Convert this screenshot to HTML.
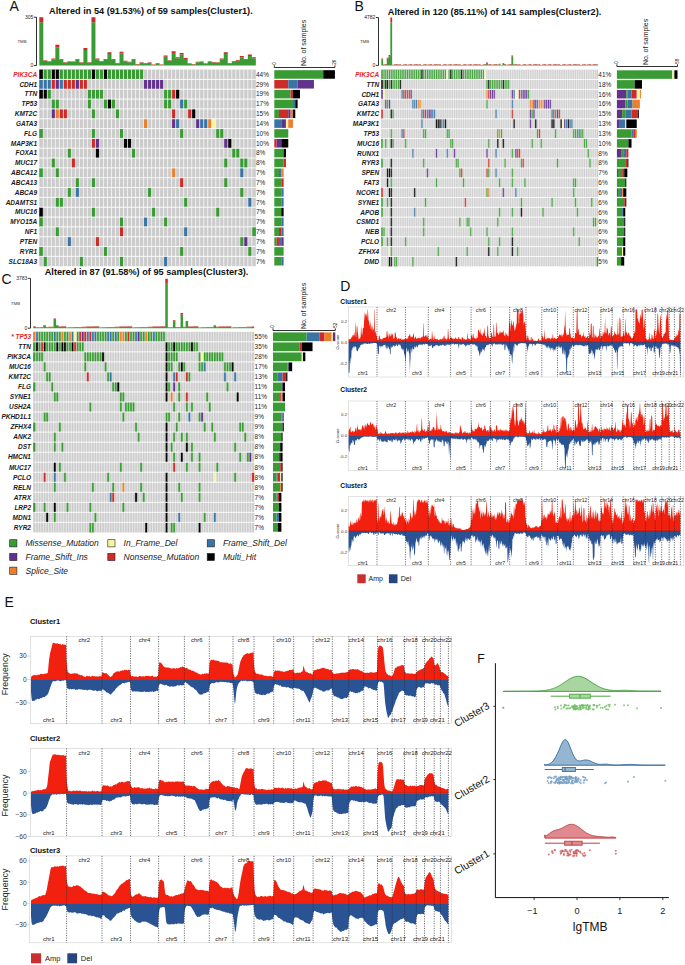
<!DOCTYPE html>
<html><head><meta charset="utf-8"><style>
html,body{margin:0;padding:0;background:#fff;}
body{width:685px;height:965px;overflow:hidden;}
svg{display:block;}
text{font-family:"Liberation Sans", sans-serif;}
</style></head><body>
<svg width="685" height="965" viewBox="0 0 685 965" font-family='"Liberation Sans", sans-serif'>
<rect x="0" y="0" width="685" height="965" fill="#ffffff" />
<text x="9.6" y="10.8" font-size="14" font-weight="normal" font-style="normal" text-anchor="start" fill="#111" >A</text>
<text x="49" y="14.4" font-size="9.2" font-weight="bold" font-style="normal" text-anchor="start" fill="#111" >Altered in 54 (91.53%) of 59 samples(Cluster1).</text>
<line x1="36.5" y1="17.2" x2="36.5" y2="65.5" stroke="#1a1a1a" stroke-width="0.9" />
<line x1="33.9" y1="17.2" x2="36.5" y2="17.2" stroke="#1a1a1a" stroke-width="0.9" />
<line x1="33.9" y1="65.5" x2="36.5" y2="65.5" stroke="#1a1a1a" stroke-width="0.9" />
<text x="33.3" y="19" font-size="5" font-weight="normal" font-style="normal" text-anchor="end" fill="#222" >305</text>
<text x="33.3" y="67.3" font-size="5" font-weight="normal" font-style="normal" text-anchor="end" fill="#222" >0</text>
<text x="17.4" y="42.95" font-size="4.4" font-weight="normal" font-style="normal" text-anchor="start" fill="#333" >TMB</text>
<path d="M39.3 22.2h4.01V65.5h-4.01ZM43.31 60.84h4.01V65.5h-4.01ZM47.32 61.72h4.01V65.5h-4.01ZM51.33 59.34h4.01V65.5h-4.01ZM55.34 47.2h4.01V65.5h-4.01ZM59.35 60.04h4.01V65.5h-4.01ZM63.36 62.8h4.01V65.5h-4.01ZM67.37 61.72h4.01V65.5h-4.01ZM71.38 62h4.01V65.5h-4.01ZM75.39 59.78h4.01V65.5h-4.01ZM79.4 62.8h4.01V65.5h-4.01ZM83.41 50.1h4.01V65.5h-4.01ZM87.42 62.7h4.01V65.5h-4.01ZM91.43 22.2h4.01V65.5h-4.01ZM95.44 59.34h4.01V65.5h-4.01ZM99.45 61.54h4.01V65.5h-4.01ZM103.46 59.78h4.01V65.5h-4.01ZM107.47 53.88h4.01V65.5h-4.01ZM111.48 59.78h4.01V65.5h-4.01ZM115.49 63.5h4.01V65.5h-4.01ZM119.5 53.44h4.01V65.5h-4.01ZM123.51 61.28h4.01V65.5h-4.01ZM127.52 62.3h4.01V65.5h-4.01ZM131.53 59.78h4.01V65.5h-4.01ZM135.54 64.4h4.01V65.5h-4.01ZM139.55 62.8h4.01V65.5h-4.01ZM143.56 63.5h4.01V65.5h-4.01ZM147.57 62.8h4.01V65.5h-4.01ZM151.58 64.9h4.01V65.5h-4.01ZM155.59 63.5h4.01V65.5h-4.01ZM159.6 64.9h4.01V65.5h-4.01ZM163.61 56.79h4.01V65.5h-4.01ZM167.62 60.84h4.01V65.5h-4.01ZM171.63 53h4.01V65.5h-4.01ZM175.64 58.28h4.01V65.5h-4.01ZM179.65 54.5h4.01V65.5h-4.01ZM183.66 58.9h4.01V65.5h-4.01ZM187.67 63.7h4.01V65.5h-4.01ZM191.68 64.5h4.01V65.5h-4.01ZM195.69 62.3h4.01V65.5h-4.01ZM199.7 62h4.01V65.5h-4.01ZM203.71 63.7h4.01V65.5h-4.01ZM207.72 61.8h4.01V65.5h-4.01ZM211.73 62.5h4.01V65.5h-4.01ZM215.74 62.8h4.01V65.5h-4.01ZM219.75 59.34h4.01V65.5h-4.01ZM223.76 53.88h4.01V65.5h-4.01ZM227.77 63.5h4.01V65.5h-4.01ZM231.78 61.54h4.01V65.5h-4.01ZM235.79 60.66h4.01V65.5h-4.01ZM239.8 57.14h4.01V65.5h-4.01ZM243.81 59.78h4.01V65.5h-4.01ZM247.82 55.91h4.01V65.5h-4.01ZM251.83 58.28h4.01V65.5h-4.01Z" fill="#3a9b35"/>
<path d="M39.3 17.2h4.01v5h-4.01ZM43.31 60.2h4.01v0.64h-4.01ZM47.32 61.2h4.01v0.52h-4.01ZM51.33 58.5h4.01v0.84h-4.01ZM55.34 44.7h4.01v2.5h-4.01ZM59.35 59.3h4.01v0.74h-4.01ZM63.36 62.3h4.01v0.5h-4.01ZM67.37 61.2h4.01v0.52h-4.01ZM71.38 61.5h4.01v0.5h-4.01ZM75.39 59h4.01v0.78h-4.01ZM79.4 62.3h4.01v0.5h-4.01ZM83.41 48h4.01v2.1h-4.01ZM87.42 62.2h4.01v0.5h-4.01ZM91.43 17.2h4.01v5h-4.01ZM95.44 58.5h4.01v0.84h-4.01ZM99.45 61h4.01v0.54h-4.01ZM103.46 59h4.01v0.78h-4.01ZM107.47 52.3h4.01v1.58h-4.01ZM111.48 59h4.01v0.78h-4.01ZM115.49 63h4.01v0.5h-4.01ZM119.5 51.8h4.01v1.64h-4.01ZM123.51 60.7h4.01v0.58h-4.01ZM127.52 61.8h4.01v0.5h-4.01ZM131.53 59h4.01v0.78h-4.01ZM135.54 63.9h4.01v0.5h-4.01ZM139.55 62.3h4.01v0.5h-4.01ZM143.56 63h4.01v0.5h-4.01ZM147.57 62.3h4.01v0.5h-4.01ZM151.58 64.4h4.01v0.5h-4.01ZM155.59 63h4.01v0.5h-4.01ZM159.6 64.4h4.01v0.5h-4.01ZM163.61 55.6h4.01v1.19h-4.01ZM167.62 60.2h4.01v0.64h-4.01ZM171.63 51.3h4.01v1.7h-4.01ZM175.64 57.3h4.01v0.98h-4.01ZM179.65 53h4.01v1.5h-4.01ZM183.66 58h4.01v0.9h-4.01ZM187.67 63.2h4.01v0.5h-4.01ZM191.68 64h4.01v0.5h-4.01ZM195.69 61.8h4.01v0.5h-4.01ZM199.7 61.5h4.01v0.5h-4.01ZM203.71 63.2h4.01v0.5h-4.01ZM207.72 61.3h4.01v0.5h-4.01ZM211.73 62h4.01v0.5h-4.01ZM215.74 62.3h4.01v0.5h-4.01ZM219.75 58.5h4.01v0.84h-4.01ZM223.76 52.3h4.01v1.58h-4.01ZM227.77 63h4.01v0.5h-4.01ZM231.78 61h4.01v0.54h-4.01ZM235.79 60h4.01v0.66h-4.01ZM239.8 56h4.01v1.14h-4.01ZM243.81 59h4.01v0.78h-4.01ZM247.82 54.6h4.01v1.31h-4.01ZM251.83 57.3h4.01v0.98h-4.01Z" fill="#cd2b27"/>
<rect x="39.3" y="69.6" width="216.54" height="196.6" fill="#cccccc" />
<rect x="39.3" y="69.6" width="4.01" height="9.83" fill="#000000" />
<rect x="51.33" y="69.6" width="4.01" height="9.83" fill="#000000" />
<rect x="55.34" y="69.6" width="4.01" height="9.83" fill="#000000" />
<rect x="91.43" y="69.6" width="4.01" height="9.83" fill="#000000" />
<rect x="103.46" y="69.6" width="4.01" height="9.83" fill="#000000" />
<rect x="43.31" y="69.6" width="4.01" height="9.83" fill="#3a9b35" />
<rect x="47.32" y="69.6" width="4.01" height="9.83" fill="#3a9b35" />
<rect x="59.35" y="69.6" width="4.01" height="9.83" fill="#3a9b35" />
<rect x="63.36" y="69.6" width="4.01" height="9.83" fill="#3a9b35" />
<rect x="67.37" y="69.6" width="4.01" height="9.83" fill="#3a9b35" />
<rect x="71.38" y="69.6" width="4.01" height="9.83" fill="#3a9b35" />
<rect x="75.39" y="69.6" width="4.01" height="9.83" fill="#3a9b35" />
<rect x="79.4" y="69.6" width="4.01" height="9.83" fill="#3a9b35" />
<rect x="83.41" y="69.6" width="4.01" height="9.83" fill="#3a9b35" />
<rect x="87.42" y="69.6" width="4.01" height="9.83" fill="#3a9b35" />
<rect x="95.44" y="69.6" width="4.01" height="9.83" fill="#3a9b35" />
<rect x="99.45" y="69.6" width="4.01" height="9.83" fill="#3a9b35" />
<rect x="107.47" y="69.6" width="4.01" height="9.83" fill="#3a9b35" />
<rect x="111.48" y="69.6" width="4.01" height="9.83" fill="#3a9b35" />
<rect x="115.49" y="69.6" width="4.01" height="9.83" fill="#3a9b35" />
<rect x="119.5" y="69.6" width="4.01" height="9.83" fill="#3a9b35" />
<rect x="123.51" y="69.6" width="4.01" height="9.83" fill="#3a9b35" />
<rect x="127.52" y="69.6" width="4.01" height="9.83" fill="#3a9b35" />
<rect x="131.53" y="69.6" width="4.01" height="9.83" fill="#3a9b35" />
<rect x="135.54" y="69.6" width="4.01" height="9.83" fill="#3a9b35" />
<rect x="139.55" y="69.6" width="4.01" height="9.83" fill="#3a9b35" />
<rect x="39.3" y="79.43" width="4.01" height="9.83" fill="#3a74a5" />
<rect x="43.31" y="79.43" width="4.01" height="9.83" fill="#3a74a5" />
<rect x="47.32" y="79.43" width="4.01" height="9.83" fill="#3a74a5" />
<rect x="59.35" y="79.43" width="4.01" height="9.83" fill="#3a74a5" />
<rect x="51.33" y="79.43" width="4.01" height="9.83" fill="#cd2b27" />
<rect x="63.36" y="79.43" width="4.01" height="9.83" fill="#cd2b27" />
<rect x="67.37" y="79.43" width="4.01" height="9.83" fill="#cd2b27" />
<rect x="71.38" y="79.43" width="4.01" height="9.83" fill="#cd2b27" />
<rect x="79.4" y="79.43" width="4.01" height="9.83" fill="#cd2b27" />
<rect x="83.41" y="79.43" width="4.01" height="9.83" fill="#cd2b27" />
<rect x="55.34" y="79.43" width="4.01" height="9.83" fill="#62318c" />
<rect x="75.39" y="79.43" width="4.01" height="9.83" fill="#62318c" />
<rect x="143.56" y="79.43" width="4.01" height="9.83" fill="#62318c" />
<rect x="147.57" y="79.43" width="4.01" height="9.83" fill="#62318c" />
<rect x="151.58" y="79.43" width="4.01" height="9.83" fill="#62318c" />
<rect x="155.59" y="79.43" width="4.01" height="9.83" fill="#62318c" />
<rect x="159.6" y="79.43" width="4.01" height="9.83" fill="#62318c" />
<rect x="39.3" y="89.26" width="4.01" height="9.83" fill="#000000" />
<rect x="43.31" y="89.26" width="4.01" height="9.83" fill="#000000" />
<rect x="175.64" y="89.26" width="4.01" height="9.83" fill="#000000" />
<rect x="47.32" y="89.26" width="4.01" height="9.83" fill="#3a9b35" />
<rect x="87.42" y="89.26" width="4.01" height="9.83" fill="#3a9b35" />
<rect x="91.43" y="89.26" width="4.01" height="9.83" fill="#3a9b35" />
<rect x="95.44" y="89.26" width="4.01" height="9.83" fill="#3a9b35" />
<rect x="99.45" y="89.26" width="4.01" height="9.83" fill="#3a9b35" />
<rect x="163.61" y="89.26" width="4.01" height="9.83" fill="#3a9b35" />
<rect x="167.62" y="89.26" width="4.01" height="9.83" fill="#3a9b35" />
<rect x="171.63" y="89.26" width="4.01" height="9.83" fill="#cd2b27" />
<rect x="51.33" y="99.09" width="4.01" height="9.83" fill="#3a9b35" />
<rect x="55.34" y="99.09" width="4.01" height="9.83" fill="#3a9b35" />
<rect x="87.42" y="99.09" width="4.01" height="9.83" fill="#3a9b35" />
<rect x="103.46" y="99.09" width="4.01" height="9.83" fill="#3a9b35" />
<rect x="111.48" y="99.09" width="4.01" height="9.83" fill="#3a9b35" />
<rect x="163.61" y="99.09" width="4.01" height="9.83" fill="#3a9b35" />
<rect x="167.62" y="99.09" width="4.01" height="9.83" fill="#3a9b35" />
<rect x="183.66" y="99.09" width="4.01" height="9.83" fill="#3a9b35" />
<rect x="107.47" y="99.09" width="4.01" height="9.83" fill="#000000" />
<rect x="179.65" y="99.09" width="4.01" height="9.83" fill="#3a74a5" />
<rect x="51.33" y="108.92" width="4.01" height="9.83" fill="#62318c" />
<rect x="55.34" y="108.92" width="4.01" height="9.83" fill="#ec7f2b" />
<rect x="59.35" y="108.92" width="4.01" height="9.83" fill="#cd2b27" />
<rect x="63.36" y="108.92" width="4.01" height="9.83" fill="#cd2b27" />
<rect x="171.63" y="108.92" width="4.01" height="9.83" fill="#cd2b27" />
<rect x="187.67" y="108.92" width="4.01" height="9.83" fill="#cd2b27" />
<rect x="91.43" y="108.92" width="4.01" height="9.83" fill="#3a9b35" />
<rect x="115.49" y="108.92" width="4.01" height="9.83" fill="#3a9b35" />
<rect x="191.68" y="108.92" width="4.01" height="9.83" fill="#000000" />
<rect x="143.56" y="118.75" width="4.01" height="9.83" fill="#ec7f2b" />
<rect x="207.72" y="118.75" width="4.01" height="9.83" fill="#ec7f2b" />
<rect x="171.63" y="118.75" width="4.01" height="9.83" fill="#62318c" />
<rect x="195.69" y="118.75" width="4.01" height="9.83" fill="#62318c" />
<rect x="175.64" y="118.75" width="4.01" height="9.83" fill="#3a74a5" />
<rect x="199.7" y="118.75" width="4.01" height="9.83" fill="#3a74a5" />
<rect x="203.71" y="118.75" width="4.01" height="9.83" fill="#3a74a5" />
<rect x="211.73" y="118.75" width="4.01" height="9.83" fill="#f5f5a0" />
<rect x="39.3" y="128.58" width="4.01" height="9.83" fill="#3a9b35" />
<rect x="91.43" y="128.58" width="4.01" height="9.83" fill="#3a9b35" />
<rect x="119.5" y="128.58" width="4.01" height="9.83" fill="#3a9b35" />
<rect x="179.65" y="128.58" width="4.01" height="9.83" fill="#3a9b35" />
<rect x="215.74" y="128.58" width="4.01" height="9.83" fill="#3a9b35" />
<rect x="219.75" y="128.58" width="4.01" height="9.83" fill="#3a9b35" />
<rect x="91.43" y="138.41" width="4.01" height="9.83" fill="#cd2b27" />
<rect x="95.44" y="138.41" width="4.01" height="9.83" fill="#62318c" />
<rect x="223.76" y="138.41" width="4.01" height="9.83" fill="#62318c" />
<rect x="123.51" y="138.41" width="4.01" height="9.83" fill="#000000" />
<rect x="127.52" y="138.41" width="4.01" height="9.83" fill="#000000" />
<rect x="227.77" y="138.41" width="4.01" height="9.83" fill="#000000" />
<rect x="67.37" y="148.24" width="4.01" height="9.83" fill="#3a9b35" />
<rect x="131.53" y="148.24" width="4.01" height="9.83" fill="#3a9b35" />
<rect x="231.78" y="148.24" width="4.01" height="9.83" fill="#3a9b35" />
<rect x="235.79" y="148.24" width="4.01" height="9.83" fill="#3a9b35" />
<rect x="95.44" y="148.24" width="4.01" height="9.83" fill="#000000" />
<rect x="51.33" y="158.07" width="4.01" height="9.83" fill="#3a9b35" />
<rect x="223.76" y="158.07" width="4.01" height="9.83" fill="#3a9b35" />
<rect x="239.8" y="158.07" width="4.01" height="9.83" fill="#3a9b35" />
<rect x="243.81" y="158.07" width="4.01" height="9.83" fill="#3a9b35" />
<rect x="71.38" y="158.07" width="4.01" height="9.83" fill="#cd2b27" />
<rect x="39.3" y="167.9" width="4.01" height="9.83" fill="#3a9b35" />
<rect x="55.34" y="167.9" width="4.01" height="9.83" fill="#3a9b35" />
<rect x="171.63" y="167.9" width="4.01" height="9.83" fill="#ec7f2b" />
<rect x="239.8" y="167.9" width="4.01" height="9.83" fill="#3a74a5" />
<rect x="75.39" y="177.73" width="4.01" height="9.83" fill="#3a9b35" />
<rect x="91.43" y="177.73" width="4.01" height="9.83" fill="#3a9b35" />
<rect x="223.76" y="177.73" width="4.01" height="9.83" fill="#3a9b35" />
<rect x="179.65" y="177.73" width="4.01" height="9.83" fill="#cd2b27" />
<rect x="67.37" y="187.56" width="4.01" height="9.83" fill="#3a9b35" />
<rect x="147.57" y="187.56" width="4.01" height="9.83" fill="#3a9b35" />
<rect x="239.8" y="187.56" width="4.01" height="9.83" fill="#3a9b35" />
<rect x="75.39" y="187.56" width="4.01" height="9.83" fill="#3a74a5" />
<rect x="55.34" y="197.39" width="4.01" height="9.83" fill="#3a9b35" />
<rect x="59.35" y="197.39" width="4.01" height="9.83" fill="#3a9b35" />
<rect x="183.66" y="197.39" width="4.01" height="9.83" fill="#3a9b35" />
<rect x="247.82" y="197.39" width="4.01" height="9.83" fill="#3a74a5" />
<rect x="39.3" y="207.22" width="4.01" height="9.83" fill="#000000" />
<rect x="91.43" y="207.22" width="4.01" height="9.83" fill="#3a9b35" />
<rect x="151.58" y="207.22" width="4.01" height="9.83" fill="#3a9b35" />
<rect x="215.74" y="207.22" width="4.01" height="9.83" fill="#3a9b35" />
<rect x="39.3" y="217.05" width="4.01" height="9.83" fill="#3a9b35" />
<rect x="119.5" y="217.05" width="4.01" height="9.83" fill="#3a9b35" />
<rect x="163.61" y="217.05" width="4.01" height="9.83" fill="#3a9b35" />
<rect x="143.56" y="217.05" width="4.01" height="9.83" fill="#3a74a5" />
<rect x="55.34" y="226.88" width="4.01" height="9.83" fill="#3a9b35" />
<rect x="251.83" y="226.88" width="4.01" height="9.83" fill="#3a9b35" />
<rect x="119.5" y="226.88" width="4.01" height="9.83" fill="#cd2b27" />
<rect x="183.66" y="226.88" width="4.01" height="9.83" fill="#3a74a5" />
<rect x="67.37" y="236.71" width="4.01" height="9.83" fill="#3a74a5" />
<rect x="95.44" y="236.71" width="4.01" height="9.83" fill="#cd2b27" />
<rect x="239.8" y="236.71" width="4.01" height="9.83" fill="#3a9b35" />
<rect x="243.81" y="236.71" width="4.01" height="9.83" fill="#62318c" />
<rect x="39.3" y="246.54" width="4.01" height="9.83" fill="#3a9b35" />
<rect x="103.46" y="246.54" width="4.01" height="9.83" fill="#3a9b35" />
<rect x="179.65" y="246.54" width="4.01" height="9.83" fill="#3a9b35" />
<rect x="247.82" y="246.54" width="4.01" height="9.83" fill="#3a9b35" />
<rect x="43.31" y="256.37" width="4.01" height="9.83" fill="#3a9b35" />
<rect x="79.4" y="256.37" width="4.01" height="9.83" fill="#3a9b35" />
<rect x="119.5" y="256.37" width="4.01" height="9.83" fill="#3a9b35" />
<rect x="163.61" y="256.37" width="4.01" height="9.83" fill="#3a74a5" />
<path d="M43.31 69.6V266.2M47.32 69.6V266.2M51.33 69.6V266.2M55.34 69.6V266.2M59.35 69.6V266.2M63.36 69.6V266.2M67.37 69.6V266.2M71.38 69.6V266.2M75.39 69.6V266.2M79.4 69.6V266.2M83.41 69.6V266.2M87.42 69.6V266.2M91.43 69.6V266.2M95.44 69.6V266.2M99.45 69.6V266.2M103.46 69.6V266.2M107.47 69.6V266.2M111.48 69.6V266.2M115.49 69.6V266.2M119.5 69.6V266.2M123.51 69.6V266.2M127.52 69.6V266.2M131.53 69.6V266.2M135.54 69.6V266.2M139.55 69.6V266.2M143.56 69.6V266.2M147.57 69.6V266.2M151.58 69.6V266.2M155.59 69.6V266.2M159.6 69.6V266.2M163.61 69.6V266.2M167.62 69.6V266.2M171.63 69.6V266.2M175.64 69.6V266.2M179.65 69.6V266.2M183.66 69.6V266.2M187.67 69.6V266.2M191.68 69.6V266.2M195.69 69.6V266.2M199.7 69.6V266.2M203.71 69.6V266.2M207.72 69.6V266.2M211.73 69.6V266.2M215.74 69.6V266.2M219.75 69.6V266.2M223.76 69.6V266.2M227.77 69.6V266.2M231.78 69.6V266.2M235.79 69.6V266.2M239.8 69.6V266.2M243.81 69.6V266.2M247.82 69.6V266.2M251.83 69.6V266.2" stroke="#fff" stroke-width="0.7" fill="none"/>
<path d="M39.3 79.43H255.84M39.3 89.26H255.84M39.3 99.09H255.84M39.3 108.92H255.84M39.3 118.75H255.84M39.3 128.58H255.84M39.3 138.41H255.84M39.3 148.24H255.84M39.3 158.07H255.84M39.3 167.9H255.84M39.3 177.73H255.84M39.3 187.56H255.84M39.3 197.39H255.84M39.3 207.22H255.84M39.3 217.05H255.84M39.3 226.88H255.84M39.3 236.71H255.84M39.3 246.54H255.84M39.3 256.37H255.84" stroke="#fff" stroke-width="0.9" fill="none"/>
<text x="37.1" y="76.81" font-size="6.5" font-weight="bold" font-style="italic" text-anchor="end" fill="#e0262b" >PIK3CA</text>
<text x="256" y="76.81" font-size="6.45" font-weight="normal" font-style="normal" text-anchor="start" fill="#222" >44%</text>
<text x="37.1" y="86.64" font-size="6.5" font-weight="bold" font-style="italic" text-anchor="end" fill="#1a1a1a" >CDH1</text>
<text x="256" y="86.64" font-size="6.45" font-weight="normal" font-style="normal" text-anchor="start" fill="#222" >29%</text>
<text x="37.1" y="96.47" font-size="6.5" font-weight="bold" font-style="italic" text-anchor="end" fill="#1a1a1a" >TTN</text>
<text x="256" y="96.47" font-size="6.45" font-weight="normal" font-style="normal" text-anchor="start" fill="#222" >19%</text>
<text x="37.1" y="106.31" font-size="6.5" font-weight="bold" font-style="italic" text-anchor="end" fill="#1a1a1a" >TP53</text>
<text x="256" y="106.31" font-size="6.45" font-weight="normal" font-style="normal" text-anchor="start" fill="#222" >17%</text>
<text x="37.1" y="116.13" font-size="6.5" font-weight="bold" font-style="italic" text-anchor="end" fill="#1a1a1a" >KMT2C</text>
<text x="256" y="116.13" font-size="6.45" font-weight="normal" font-style="normal" text-anchor="start" fill="#222" >15%</text>
<text x="37.1" y="125.97" font-size="6.5" font-weight="bold" font-style="italic" text-anchor="end" fill="#1a1a1a" >GATA3</text>
<text x="256" y="125.97" font-size="6.45" font-weight="normal" font-style="normal" text-anchor="start" fill="#222" >14%</text>
<text x="37.1" y="135.79" font-size="6.5" font-weight="bold" font-style="italic" text-anchor="end" fill="#1a1a1a" >FLG</text>
<text x="256" y="135.79" font-size="6.45" font-weight="normal" font-style="normal" text-anchor="start" fill="#222" >10%</text>
<text x="37.1" y="145.62" font-size="6.5" font-weight="bold" font-style="italic" text-anchor="end" fill="#1a1a1a" >MAP3K1</text>
<text x="256" y="145.62" font-size="6.45" font-weight="normal" font-style="normal" text-anchor="start" fill="#222" >10%</text>
<text x="37.1" y="155.46" font-size="6.5" font-weight="bold" font-style="italic" text-anchor="end" fill="#1a1a1a" >FOXA1</text>
<text x="256" y="155.46" font-size="6.45" font-weight="normal" font-style="normal" text-anchor="start" fill="#222" >8%</text>
<text x="37.1" y="165.28" font-size="6.5" font-weight="bold" font-style="italic" text-anchor="end" fill="#1a1a1a" >MUC17</text>
<text x="256" y="165.28" font-size="6.45" font-weight="normal" font-style="normal" text-anchor="start" fill="#222" >8%</text>
<text x="37.1" y="175.11" font-size="6.5" font-weight="bold" font-style="italic" text-anchor="end" fill="#1a1a1a" >ABCA12</text>
<text x="256" y="175.11" font-size="6.45" font-weight="normal" font-style="normal" text-anchor="start" fill="#222" >7%</text>
<text x="37.1" y="184.94" font-size="6.5" font-weight="bold" font-style="italic" text-anchor="end" fill="#1a1a1a" >ABCA13</text>
<text x="256" y="184.94" font-size="6.45" font-weight="normal" font-style="normal" text-anchor="start" fill="#222" >7%</text>
<text x="37.1" y="194.78" font-size="6.5" font-weight="bold" font-style="italic" text-anchor="end" fill="#1a1a1a" >ABCA9</text>
<text x="256" y="194.78" font-size="6.45" font-weight="normal" font-style="normal" text-anchor="start" fill="#222" >7%</text>
<text x="37.1" y="204.6" font-size="6.5" font-weight="bold" font-style="italic" text-anchor="end" fill="#1a1a1a" >ADAMTS1</text>
<text x="256" y="204.6" font-size="6.45" font-weight="normal" font-style="normal" text-anchor="start" fill="#222" >7%</text>
<text x="37.1" y="214.44" font-size="6.5" font-weight="bold" font-style="italic" text-anchor="end" fill="#1a1a1a" >MUC16</text>
<text x="256" y="214.44" font-size="6.45" font-weight="normal" font-style="normal" text-anchor="start" fill="#222" >7%</text>
<text x="37.1" y="224.26" font-size="6.5" font-weight="bold" font-style="italic" text-anchor="end" fill="#1a1a1a" >MYO15A</text>
<text x="256" y="224.26" font-size="6.45" font-weight="normal" font-style="normal" text-anchor="start" fill="#222" >7%</text>
<text x="37.1" y="234.09" font-size="6.5" font-weight="bold" font-style="italic" text-anchor="end" fill="#1a1a1a" >NF1</text>
<text x="256" y="234.09" font-size="6.45" font-weight="normal" font-style="normal" text-anchor="start" fill="#222" >7%</text>
<text x="37.1" y="243.93" font-size="6.5" font-weight="bold" font-style="italic" text-anchor="end" fill="#1a1a1a" >PTEN</text>
<text x="256" y="243.93" font-size="6.45" font-weight="normal" font-style="normal" text-anchor="start" fill="#222" >7%</text>
<text x="37.1" y="253.75" font-size="6.5" font-weight="bold" font-style="italic" text-anchor="end" fill="#1a1a1a" >RYR1</text>
<text x="256" y="253.75" font-size="6.45" font-weight="normal" font-style="normal" text-anchor="start" fill="#222" >7%</text>
<text x="37.1" y="263.59" font-size="6.5" font-weight="bold" font-style="italic" text-anchor="end" fill="#1a1a1a" >SLC18A3</text>
<text x="256" y="263.59" font-size="6.45" font-weight="normal" font-style="normal" text-anchor="start" fill="#222" >7%</text>
<rect x="274.3" y="70.2" width="48.95" height="8.53" fill="#3a9b35" />
<rect x="323.25" y="70.2" width="11.65" height="8.53" fill="#000000" />
<rect x="274.3" y="80.03" width="13.98" height="8.53" fill="#cd2b27" />
<rect x="288.28" y="80.03" width="9.32" height="8.53" fill="#3a74a5" />
<rect x="297.61" y="80.03" width="16.32" height="8.53" fill="#62318c" />
<rect x="274.3" y="89.86" width="16.32" height="8.53" fill="#3a9b35" />
<rect x="290.62" y="89.86" width="2.33" height="8.53" fill="#cd2b27" />
<rect x="292.95" y="89.86" width="6.99" height="8.53" fill="#000000" />
<rect x="274.3" y="99.69" width="18.65" height="8.53" fill="#3a9b35" />
<rect x="292.95" y="99.69" width="2.33" height="8.53" fill="#3a74a5" />
<rect x="295.28" y="99.69" width="2.33" height="8.53" fill="#000000" />
<rect x="274.3" y="109.52" width="4.66" height="8.53" fill="#3a9b35" />
<rect x="278.96" y="109.52" width="9.32" height="8.53" fill="#cd2b27" />
<rect x="288.28" y="109.52" width="2.33" height="8.53" fill="#62318c" />
<rect x="290.62" y="109.52" width="2.33" height="8.53" fill="#ec7f2b" />
<rect x="292.95" y="109.52" width="2.33" height="8.53" fill="#000000" />
<rect x="274.3" y="119.35" width="6.99" height="8.53" fill="#3a74a5" />
<rect x="281.29" y="119.35" width="4.66" height="8.53" fill="#62318c" />
<rect x="285.95" y="119.35" width="2.33" height="8.53" fill="#f5f5a0" />
<rect x="288.28" y="119.35" width="4.66" height="8.53" fill="#ec7f2b" />
<rect x="274.3" y="129.18" width="13.98" height="8.53" fill="#3a9b35" />
<rect x="274.3" y="139.01" width="2.33" height="8.53" fill="#cd2b27" />
<rect x="276.63" y="139.01" width="4.66" height="8.53" fill="#62318c" />
<rect x="281.29" y="139.01" width="6.99" height="8.53" fill="#000000" />
<rect x="274.3" y="148.84" width="9.32" height="8.53" fill="#3a9b35" />
<rect x="283.62" y="148.84" width="2.33" height="8.53" fill="#000000" />
<rect x="274.3" y="158.67" width="9.32" height="8.53" fill="#3a9b35" />
<rect x="283.62" y="158.67" width="2.33" height="8.53" fill="#cd2b27" />
<rect x="274.3" y="168.5" width="4.66" height="8.53" fill="#3a9b35" />
<rect x="278.96" y="168.5" width="2.33" height="8.53" fill="#3a74a5" />
<rect x="281.29" y="168.5" width="2.33" height="8.53" fill="#ec7f2b" />
<rect x="274.3" y="178.33" width="6.99" height="8.53" fill="#3a9b35" />
<rect x="281.29" y="178.33" width="2.33" height="8.53" fill="#cd2b27" />
<rect x="274.3" y="188.16" width="6.99" height="8.53" fill="#3a9b35" />
<rect x="281.29" y="188.16" width="2.33" height="8.53" fill="#3a74a5" />
<rect x="274.3" y="197.99" width="6.99" height="8.53" fill="#3a9b35" />
<rect x="281.29" y="197.99" width="2.33" height="8.53" fill="#3a74a5" />
<rect x="274.3" y="207.82" width="6.99" height="8.53" fill="#3a9b35" />
<rect x="281.29" y="207.82" width="2.33" height="8.53" fill="#000000" />
<rect x="274.3" y="217.65" width="6.99" height="8.53" fill="#3a9b35" />
<rect x="281.29" y="217.65" width="2.33" height="8.53" fill="#3a74a5" />
<rect x="274.3" y="227.48" width="4.66" height="8.53" fill="#3a9b35" />
<rect x="278.96" y="227.48" width="2.33" height="8.53" fill="#cd2b27" />
<rect x="281.29" y="227.48" width="2.33" height="8.53" fill="#3a74a5" />
<rect x="274.3" y="237.31" width="2.33" height="8.53" fill="#3a9b35" />
<rect x="276.63" y="237.31" width="2.33" height="8.53" fill="#cd2b27" />
<rect x="278.96" y="237.31" width="2.33" height="8.53" fill="#3a74a5" />
<rect x="281.29" y="237.31" width="2.33" height="8.53" fill="#62318c" />
<rect x="274.3" y="247.14" width="9.32" height="8.53" fill="#3a9b35" />
<rect x="274.3" y="256.97" width="6.99" height="8.53" fill="#3a9b35" />
<rect x="281.29" y="256.97" width="2.33" height="8.53" fill="#3a74a5" />
<line x1="274.3" y1="67.5" x2="334.9" y2="67.5" stroke="#1a1a1a" stroke-width="0.9" />
<line x1="274.3" y1="67.5" x2="274.3" y2="65.3" stroke="#1a1a1a" stroke-width="0.9" />
<line x1="334.9" y1="67.5" x2="334.9" y2="65.3" stroke="#1a1a1a" stroke-width="0.9" />
<text x="275.8" y="64.7" font-size="4.6" font-weight="normal" font-style="normal" text-anchor="start" fill="#111" transform="rotate(-90 275.8 64.7)">0</text>
<text x="336.4" y="64.7" font-size="4.6" font-weight="normal" font-style="normal" text-anchor="start" fill="#111" transform="rotate(-90 336.4 64.7)">26</text>
<text x="306.3" y="66.1" font-size="6.95" font-weight="normal" font-style="normal" text-anchor="start" fill="#1a1a1a" transform="rotate(-90 306.3 66.1)">No. of samples</text>
<text x="354.5" y="11" font-size="14" font-weight="normal" font-style="normal" text-anchor="start" fill="#111" >B</text>
<text x="387.8" y="14.5" font-size="9.2" font-weight="bold" font-style="normal" text-anchor="start" fill="#111" >Altered in 120 (85.11%) of 141 samples(Cluster2).</text>
<line x1="378.5" y1="17.5" x2="378.5" y2="65.4" stroke="#1a1a1a" stroke-width="0.9" />
<line x1="375.9" y1="17.5" x2="378.5" y2="17.5" stroke="#1a1a1a" stroke-width="0.9" />
<line x1="375.9" y1="65.4" x2="378.5" y2="65.4" stroke="#1a1a1a" stroke-width="0.9" />
<text x="375.3" y="19.3" font-size="5" font-weight="normal" font-style="normal" text-anchor="end" fill="#222" >4782</text>
<text x="375.3" y="67.2" font-size="5" font-weight="normal" font-style="normal" text-anchor="end" fill="#222" >0</text>
<text x="359.9" y="43.05" font-size="4.4" font-weight="normal" font-style="normal" text-anchor="start" fill="#333" >TMB</text>
<path d="M381.3 59.33h1.81V65.4h-1.81ZM383.11 65h1.81V65.4h-1.81ZM384.91 64.6h1.81V65.4h-1.81ZM386.72 58.71h1.81V65.4h-1.81ZM388.53 56.16h1.81V65.4h-1.81ZM390.34 22.6h1.81V65.4h-1.81ZM392.14 65.2h1.81V65.4h-1.81ZM393.95 64.8h1.81V65.4h-1.81ZM395.76 64.4h1.81V65.4h-1.81ZM397.56 65.1h1.81V65.4h-1.81ZM399.37 64.7h1.81V65.4h-1.81ZM401.18 65.4h1.81V65.4h-1.81ZM402.98 65h1.81V65.4h-1.81ZM404.79 64.6h1.81V65.4h-1.81ZM406.6 65.3h1.81V65.4h-1.81ZM408.41 64.9h1.81V65.4h-1.81ZM410.21 64.5h1.81V65.4h-1.81ZM412.02 65.2h1.81V65.4h-1.81ZM413.83 64.8h1.81V65.4h-1.81ZM415.63 64.4h1.81V65.4h-1.81ZM417.44 65.1h1.81V65.4h-1.81ZM419.25 64.7h1.81V65.4h-1.81ZM421.05 65.4h1.81V65.4h-1.81ZM422.86 65h1.81V65.4h-1.81ZM424.67 64.6h1.81V65.4h-1.81ZM426.48 65.3h1.81V65.4h-1.81ZM428.28 64.9h1.81V65.4h-1.81ZM430.09 64.5h1.81V65.4h-1.81ZM431.9 65.2h1.81V65.4h-1.81ZM433.7 64.8h1.81V65.4h-1.81ZM435.51 64.4h1.81V65.4h-1.81ZM437.32 65.1h1.81V65.4h-1.81ZM439.12 64.7h1.81V65.4h-1.81ZM440.93 65.4h1.81V65.4h-1.81ZM442.74 65h1.81V65.4h-1.81ZM444.55 64.6h1.81V65.4h-1.81ZM446.35 65.3h1.81V65.4h-1.81ZM448.16 64.9h1.81V65.4h-1.81ZM449.97 64.5h1.81V65.4h-1.81ZM451.77 65.2h1.81V65.4h-1.81ZM453.58 64.8h1.81V65.4h-1.81ZM455.39 64.4h1.81V65.4h-1.81ZM457.19 65.1h1.81V65.4h-1.81ZM459 64.7h1.81V65.4h-1.81ZM460.81 65.4h1.81V65.4h-1.81ZM462.62 65h1.81V65.4h-1.81ZM464.42 64.6h1.81V65.4h-1.81ZM466.23 65.3h1.81V65.4h-1.81ZM468.04 64.9h1.81V65.4h-1.81ZM469.84 64.5h1.81V65.4h-1.81ZM471.65 65.2h1.81V65.4h-1.81ZM473.46 64.8h1.81V65.4h-1.81ZM475.26 64.4h1.81V65.4h-1.81ZM477.07 65.1h1.81V65.4h-1.81ZM478.88 64.7h1.81V65.4h-1.81ZM480.69 65.4h1.81V65.4h-1.81ZM482.49 65h1.81V65.4h-1.81ZM484.3 64.6h1.81V65.4h-1.81ZM486.11 63h1.81V65.4h-1.81ZM487.91 64.9h1.81V65.4h-1.81ZM489.72 64.5h1.81V65.4h-1.81ZM491.53 65.2h1.81V65.4h-1.81ZM493.33 64.8h1.81V65.4h-1.81ZM495.14 64.4h1.81V65.4h-1.81ZM496.95 65.1h1.81V65.4h-1.81ZM498.75 64.3h1.81V65.4h-1.81ZM500.56 65.4h1.81V65.4h-1.81ZM502.37 63.5h1.81V65.4h-1.81ZM504.18 64.6h1.81V65.4h-1.81ZM505.98 65.3h1.81V65.4h-1.81ZM507.79 64.9h1.81V65.4h-1.81ZM509.6 64.5h1.81V65.4h-1.81ZM511.4 56.6h1.81V65.4h-1.81ZM513.21 64.8h1.81V65.4h-1.81ZM515.02 64.4h1.81V65.4h-1.81ZM516.83 65.1h1.81V65.4h-1.81ZM518.63 64.7h1.81V65.4h-1.81ZM520.44 65.4h1.81V65.4h-1.81ZM522.25 65h1.81V65.4h-1.81ZM524.05 64.6h1.81V65.4h-1.81ZM525.86 65.3h1.81V65.4h-1.81ZM527.67 64.9h1.81V65.4h-1.81ZM529.47 64.5h1.81V65.4h-1.81ZM531.28 65.2h1.81V65.4h-1.81ZM533.09 64.8h1.81V65.4h-1.81ZM534.89 64.4h1.81V65.4h-1.81ZM536.7 65.1h1.81V65.4h-1.81ZM538.51 64.7h1.81V65.4h-1.81ZM540.32 65.4h1.81V65.4h-1.81ZM542.12 65h1.81V65.4h-1.81ZM543.93 64.6h1.81V65.4h-1.81ZM545.74 65.3h1.81V65.4h-1.81ZM547.54 64.9h1.81V65.4h-1.81ZM549.35 64.5h1.81V65.4h-1.81ZM551.16 65.2h1.81V65.4h-1.81ZM552.97 64.8h1.81V65.4h-1.81ZM554.77 64.4h1.81V65.4h-1.81ZM556.58 65.1h1.81V65.4h-1.81ZM558.39 64.7h1.81V65.4h-1.81ZM560.19 65.4h1.81V65.4h-1.81ZM562 65h1.81V65.4h-1.81ZM563.81 64.6h1.81V65.4h-1.81ZM565.61 65.3h1.81V65.4h-1.81ZM567.42 64.9h1.81V65.4h-1.81ZM569.23 64.5h1.81V65.4h-1.81ZM571.03 65.2h1.81V65.4h-1.81ZM572.84 64.8h1.81V65.4h-1.81ZM574.65 64.4h1.81V65.4h-1.81ZM576.46 65.1h1.81V65.4h-1.81ZM578.26 64.7h1.81V65.4h-1.81ZM580.07 65.4h1.81V65.4h-1.81ZM581.88 65h1.81V65.4h-1.81ZM583.68 64.6h1.81V65.4h-1.81ZM585.49 65.3h1.81V65.4h-1.81ZM587.3 64.9h1.81V65.4h-1.81ZM589.11 64.5h1.81V65.4h-1.81ZM590.91 65.2h1.81V65.4h-1.81ZM592.72 64.8h1.81V65.4h-1.81ZM594.53 64.4h1.81V65.4h-1.81ZM596.33 65.1h1.81V65.4h-1.81Z" fill="#3a9b35"/>
<path d="M381.3 58.5h1.81v0.83h-1.81ZM383.11 64.5h1.81v0.5h-1.81ZM384.91 64.1h1.81v0.5h-1.81ZM386.72 57.8h1.81v0.91h-1.81ZM388.53 54.9h1.81v1.26h-1.81ZM390.34 17.6h1.81v5h-1.81ZM392.14 64.7h1.81v0.5h-1.81ZM393.95 64.3h1.81v0.5h-1.81ZM395.76 63.9h1.81v0.5h-1.81ZM397.56 64.6h1.81v0.5h-1.81ZM399.37 64.2h1.81v0.5h-1.81ZM401.18 64.9h1.81v0.5h-1.81ZM402.98 64.5h1.81v0.5h-1.81ZM404.79 64.1h1.81v0.5h-1.81ZM406.6 64.8h1.81v0.5h-1.81ZM408.41 64.4h1.81v0.5h-1.81ZM410.21 64h1.81v0.5h-1.81ZM412.02 64.7h1.81v0.5h-1.81ZM413.83 64.3h1.81v0.5h-1.81ZM415.63 63.9h1.81v0.5h-1.81ZM417.44 64.6h1.81v0.5h-1.81ZM419.25 64.2h1.81v0.5h-1.81ZM421.05 64.9h1.81v0.5h-1.81ZM422.86 64.5h1.81v0.5h-1.81ZM424.67 64.1h1.81v0.5h-1.81ZM426.48 64.8h1.81v0.5h-1.81ZM428.28 64.4h1.81v0.5h-1.81ZM430.09 64h1.81v0.5h-1.81ZM431.9 64.7h1.81v0.5h-1.81ZM433.7 64.3h1.81v0.5h-1.81ZM435.51 63.9h1.81v0.5h-1.81ZM437.32 64.6h1.81v0.5h-1.81ZM439.12 64.2h1.81v0.5h-1.81ZM440.93 64.9h1.81v0.5h-1.81ZM442.74 64.5h1.81v0.5h-1.81ZM444.55 64.1h1.81v0.5h-1.81ZM446.35 64.8h1.81v0.5h-1.81ZM448.16 64.4h1.81v0.5h-1.81ZM449.97 64h1.81v0.5h-1.81ZM451.77 64.7h1.81v0.5h-1.81ZM453.58 64.3h1.81v0.5h-1.81ZM455.39 63.9h1.81v0.5h-1.81ZM457.19 64.6h1.81v0.5h-1.81ZM459 64.2h1.81v0.5h-1.81ZM460.81 64.9h1.81v0.5h-1.81ZM462.62 64.5h1.81v0.5h-1.81ZM464.42 64.1h1.81v0.5h-1.81ZM466.23 64.8h1.81v0.5h-1.81ZM468.04 64.4h1.81v0.5h-1.81ZM469.84 64h1.81v0.5h-1.81ZM471.65 64.7h1.81v0.5h-1.81ZM473.46 64.3h1.81v0.5h-1.81ZM475.26 63.9h1.81v0.5h-1.81ZM477.07 64.6h1.81v0.5h-1.81ZM478.88 64.2h1.81v0.5h-1.81ZM480.69 64.9h1.81v0.5h-1.81ZM482.49 64.5h1.81v0.5h-1.81ZM484.3 64.1h1.81v0.5h-1.81ZM486.11 62.5h1.81v0.5h-1.81ZM487.91 64.4h1.81v0.5h-1.81ZM489.72 64h1.81v0.5h-1.81ZM491.53 64.7h1.81v0.5h-1.81ZM493.33 64.3h1.81v0.5h-1.81ZM495.14 63.9h1.81v0.5h-1.81ZM496.95 64.6h1.81v0.5h-1.81ZM498.75 63.8h1.81v0.5h-1.81ZM500.56 64.9h1.81v0.5h-1.81ZM502.37 63h1.81v0.5h-1.81ZM504.18 64.1h1.81v0.5h-1.81ZM505.98 64.8h1.81v0.5h-1.81ZM507.79 64.4h1.81v0.5h-1.81ZM509.6 64h1.81v0.5h-1.81ZM511.4 55.4h1.81v1.2h-1.81ZM513.21 64.3h1.81v0.5h-1.81ZM515.02 63.9h1.81v0.5h-1.81ZM516.83 64.6h1.81v0.5h-1.81ZM518.63 64.2h1.81v0.5h-1.81ZM520.44 64.9h1.81v0.5h-1.81ZM522.25 64.5h1.81v0.5h-1.81ZM524.05 64.1h1.81v0.5h-1.81ZM525.86 64.8h1.81v0.5h-1.81ZM527.67 64.4h1.81v0.5h-1.81ZM529.47 64h1.81v0.5h-1.81ZM531.28 64.7h1.81v0.5h-1.81ZM533.09 64.3h1.81v0.5h-1.81ZM534.89 63.9h1.81v0.5h-1.81ZM536.7 64.6h1.81v0.5h-1.81ZM538.51 64.2h1.81v0.5h-1.81ZM540.32 64.9h1.81v0.5h-1.81ZM542.12 64.5h1.81v0.5h-1.81ZM543.93 64.1h1.81v0.5h-1.81ZM545.74 64.8h1.81v0.5h-1.81ZM547.54 64.4h1.81v0.5h-1.81ZM549.35 64h1.81v0.5h-1.81ZM551.16 64.7h1.81v0.5h-1.81ZM552.97 64.3h1.81v0.5h-1.81ZM554.77 63.9h1.81v0.5h-1.81ZM556.58 64.6h1.81v0.5h-1.81ZM558.39 64.2h1.81v0.5h-1.81ZM560.19 64.9h1.81v0.5h-1.81ZM562 64.5h1.81v0.5h-1.81ZM563.81 64.1h1.81v0.5h-1.81ZM565.61 64.8h1.81v0.5h-1.81ZM567.42 64.4h1.81v0.5h-1.81ZM569.23 64h1.81v0.5h-1.81ZM571.03 64.7h1.81v0.5h-1.81ZM572.84 64.3h1.81v0.5h-1.81ZM574.65 63.9h1.81v0.5h-1.81ZM576.46 64.6h1.81v0.5h-1.81ZM578.26 64.2h1.81v0.5h-1.81ZM580.07 64.9h1.81v0.5h-1.81ZM581.88 64.5h1.81v0.5h-1.81ZM583.68 64.1h1.81v0.5h-1.81ZM585.49 64.8h1.81v0.5h-1.81ZM587.3 64.4h1.81v0.5h-1.81ZM589.11 64h1.81v0.5h-1.81ZM590.91 64.7h1.81v0.5h-1.81ZM592.72 64.3h1.81v0.5h-1.81ZM594.53 63.9h1.81v0.5h-1.81ZM596.33 64.6h1.81v0.5h-1.81Z" fill="#cd2b27"/>
<rect x="381.3" y="69.7" width="216.84" height="196.6" fill="#cccccc" />
<rect x="381.3" y="69.7" width="1.81" height="9.83" fill="#3a9b35" />
<rect x="383.11" y="69.7" width="1.81" height="9.83" fill="#3a9b35" />
<rect x="384.91" y="69.7" width="1.81" height="9.83" fill="#3a9b35" />
<rect x="386.72" y="69.7" width="1.81" height="9.83" fill="#3a9b35" />
<rect x="388.53" y="69.7" width="1.81" height="9.83" fill="#3a9b35" />
<rect x="390.34" y="69.7" width="1.81" height="9.83" fill="#3a9b35" />
<rect x="392.14" y="69.7" width="1.81" height="9.83" fill="#3a9b35" />
<rect x="393.95" y="69.7" width="1.81" height="9.83" fill="#3a9b35" />
<rect x="395.76" y="69.7" width="1.81" height="9.83" fill="#3a9b35" />
<rect x="397.56" y="69.7" width="1.81" height="9.83" fill="#3a9b35" />
<rect x="399.37" y="69.7" width="1.81" height="9.83" fill="#3a9b35" />
<rect x="401.18" y="69.7" width="1.81" height="9.83" fill="#3a9b35" />
<rect x="402.98" y="69.7" width="1.81" height="9.83" fill="#3a9b35" />
<rect x="404.79" y="69.7" width="1.81" height="9.83" fill="#3a9b35" />
<rect x="406.6" y="69.7" width="1.81" height="9.83" fill="#3a9b35" />
<rect x="408.41" y="69.7" width="1.81" height="9.83" fill="#3a9b35" />
<rect x="410.21" y="69.7" width="1.81" height="9.83" fill="#3a9b35" />
<rect x="412.02" y="69.7" width="1.81" height="9.83" fill="#3a9b35" />
<rect x="413.83" y="69.7" width="1.81" height="9.83" fill="#3a9b35" />
<rect x="415.63" y="69.7" width="1.81" height="9.83" fill="#3a9b35" />
<rect x="417.44" y="69.7" width="1.81" height="9.83" fill="#3a9b35" />
<rect x="419.25" y="69.7" width="1.81" height="9.83" fill="#3a9b35" />
<rect x="422.86" y="69.7" width="1.81" height="9.83" fill="#3a9b35" />
<rect x="424.67" y="69.7" width="1.81" height="9.83" fill="#3a9b35" />
<rect x="426.48" y="69.7" width="1.81" height="9.83" fill="#3a9b35" />
<rect x="428.28" y="69.7" width="1.81" height="9.83" fill="#3a9b35" />
<rect x="430.09" y="69.7" width="1.81" height="9.83" fill="#3a9b35" />
<rect x="431.9" y="69.7" width="1.81" height="9.83" fill="#3a9b35" />
<rect x="433.7" y="69.7" width="1.81" height="9.83" fill="#3a9b35" />
<rect x="435.51" y="69.7" width="1.81" height="9.83" fill="#3a9b35" />
<rect x="437.32" y="69.7" width="1.81" height="9.83" fill="#3a9b35" />
<rect x="439.12" y="69.7" width="1.81" height="9.83" fill="#3a9b35" />
<rect x="440.93" y="69.7" width="1.81" height="9.83" fill="#3a9b35" />
<rect x="442.74" y="69.7" width="1.81" height="9.83" fill="#3a9b35" />
<rect x="444.55" y="69.7" width="1.81" height="9.83" fill="#3a9b35" />
<rect x="448.16" y="69.7" width="1.81" height="9.83" fill="#3a9b35" />
<rect x="451.77" y="69.7" width="1.81" height="9.83" fill="#3a9b35" />
<rect x="453.58" y="69.7" width="1.81" height="9.83" fill="#3a9b35" />
<rect x="455.39" y="69.7" width="1.81" height="9.83" fill="#3a9b35" />
<rect x="457.19" y="69.7" width="1.81" height="9.83" fill="#3a9b35" />
<rect x="459" y="69.7" width="1.81" height="9.83" fill="#3a9b35" />
<rect x="462.62" y="69.7" width="1.81" height="9.83" fill="#3a9b35" />
<rect x="464.42" y="69.7" width="1.81" height="9.83" fill="#3a9b35" />
<rect x="466.23" y="69.7" width="1.81" height="9.83" fill="#3a9b35" />
<rect x="468.04" y="69.7" width="1.81" height="9.83" fill="#3a9b35" />
<rect x="469.84" y="69.7" width="1.81" height="9.83" fill="#3a9b35" />
<rect x="471.65" y="69.7" width="1.81" height="9.83" fill="#3a9b35" />
<rect x="473.46" y="69.7" width="1.81" height="9.83" fill="#3a9b35" />
<rect x="475.26" y="69.7" width="1.81" height="9.83" fill="#3a9b35" />
<rect x="477.07" y="69.7" width="1.81" height="9.83" fill="#3a9b35" />
<rect x="478.88" y="69.7" width="1.81" height="9.83" fill="#3a9b35" />
<rect x="480.69" y="69.7" width="1.81" height="9.83" fill="#3a9b35" />
<rect x="482.49" y="69.7" width="1.81" height="9.83" fill="#3a9b35" />
<rect x="421.05" y="69.7" width="1.81" height="9.83" fill="#000000" />
<rect x="449.97" y="69.7" width="1.81" height="9.83" fill="#000000" />
<rect x="460.81" y="69.7" width="1.81" height="9.83" fill="#000000" />
<rect x="446.35" y="69.7" width="1.81" height="9.83" fill="#f5f5a0" />
<rect x="484.3" y="69.7" width="1.81" height="9.83" fill="#f5f5a0" />
<rect x="381.3" y="79.53" width="1.81" height="9.83" fill="#000000" />
<rect x="384.91" y="79.53" width="1.81" height="9.83" fill="#000000" />
<rect x="386.72" y="79.53" width="1.81" height="9.83" fill="#000000" />
<rect x="390.34" y="79.53" width="1.81" height="9.83" fill="#000000" />
<rect x="399.37" y="79.53" width="1.81" height="9.83" fill="#000000" />
<rect x="487.91" y="79.53" width="1.81" height="9.83" fill="#000000" />
<rect x="502.37" y="79.53" width="1.81" height="9.83" fill="#000000" />
<rect x="383.11" y="79.53" width="1.81" height="9.83" fill="#3a9b35" />
<rect x="388.53" y="79.53" width="1.81" height="9.83" fill="#3a9b35" />
<rect x="392.14" y="79.53" width="1.81" height="9.83" fill="#3a9b35" />
<rect x="393.95" y="79.53" width="1.81" height="9.83" fill="#3a9b35" />
<rect x="395.76" y="79.53" width="1.81" height="9.83" fill="#3a9b35" />
<rect x="397.56" y="79.53" width="1.81" height="9.83" fill="#3a9b35" />
<rect x="486.11" y="79.53" width="1.81" height="9.83" fill="#3a9b35" />
<rect x="489.72" y="79.53" width="1.81" height="9.83" fill="#3a9b35" />
<rect x="491.53" y="79.53" width="1.81" height="9.83" fill="#3a9b35" />
<rect x="493.33" y="79.53" width="1.81" height="9.83" fill="#3a9b35" />
<rect x="495.14" y="79.53" width="1.81" height="9.83" fill="#3a9b35" />
<rect x="496.95" y="79.53" width="1.81" height="9.83" fill="#3a9b35" />
<rect x="498.75" y="79.53" width="1.81" height="9.83" fill="#3a9b35" />
<rect x="500.56" y="79.53" width="1.81" height="9.83" fill="#3a9b35" />
<rect x="504.18" y="79.53" width="1.81" height="9.83" fill="#3a9b35" />
<rect x="505.98" y="79.53" width="1.81" height="9.83" fill="#3a9b35" />
<rect x="507.79" y="79.53" width="1.81" height="9.83" fill="#3a9b35" />
<rect x="381.3" y="89.36" width="1.81" height="9.83" fill="#62318c" />
<rect x="410.21" y="89.36" width="1.81" height="9.83" fill="#62318c" />
<rect x="489.72" y="89.36" width="1.81" height="9.83" fill="#62318c" />
<rect x="491.53" y="89.36" width="1.81" height="9.83" fill="#62318c" />
<rect x="493.33" y="89.36" width="1.81" height="9.83" fill="#62318c" />
<rect x="511.4" y="89.36" width="1.81" height="9.83" fill="#62318c" />
<rect x="522.25" y="89.36" width="1.81" height="9.83" fill="#62318c" />
<rect x="524.05" y="89.36" width="1.81" height="9.83" fill="#62318c" />
<rect x="525.86" y="89.36" width="1.81" height="9.83" fill="#62318c" />
<rect x="383.11" y="89.36" width="1.81" height="9.83" fill="#f5f5a0" />
<rect x="515.02" y="89.36" width="1.81" height="9.83" fill="#f5f5a0" />
<rect x="516.83" y="89.36" width="1.81" height="9.83" fill="#f5f5a0" />
<rect x="401.18" y="89.36" width="1.81" height="9.83" fill="#3a74a5" />
<rect x="406.6" y="89.36" width="1.81" height="9.83" fill="#3a74a5" />
<rect x="513.21" y="89.36" width="1.81" height="9.83" fill="#3a74a5" />
<rect x="520.44" y="89.36" width="1.81" height="9.83" fill="#3a74a5" />
<rect x="402.98" y="89.36" width="1.81" height="9.83" fill="#cd2b27" />
<rect x="404.79" y="89.36" width="1.81" height="9.83" fill="#cd2b27" />
<rect x="408.41" y="89.36" width="1.81" height="9.83" fill="#cd2b27" />
<rect x="487.91" y="89.36" width="1.81" height="9.83" fill="#cd2b27" />
<rect x="518.63" y="89.36" width="1.81" height="9.83" fill="#cd2b27" />
<rect x="486.11" y="89.36" width="1.81" height="9.83" fill="#ec7f2b" />
<rect x="527.67" y="89.36" width="1.81" height="9.83" fill="#3a9b35" />
<rect x="384.91" y="99.19" width="1.81" height="9.83" fill="#62318c" />
<rect x="388.53" y="99.19" width="1.81" height="9.83" fill="#62318c" />
<rect x="533.09" y="99.19" width="1.81" height="9.83" fill="#62318c" />
<rect x="534.89" y="99.19" width="1.81" height="9.83" fill="#62318c" />
<rect x="543.93" y="99.19" width="1.81" height="9.83" fill="#62318c" />
<rect x="545.74" y="99.19" width="1.81" height="9.83" fill="#62318c" />
<rect x="547.54" y="99.19" width="1.81" height="9.83" fill="#62318c" />
<rect x="549.35" y="99.19" width="1.81" height="9.83" fill="#62318c" />
<rect x="386.72" y="99.19" width="1.81" height="9.83" fill="#3a9b35" />
<rect x="486.11" y="99.19" width="1.81" height="9.83" fill="#3a9b35" />
<rect x="412.02" y="99.19" width="1.81" height="9.83" fill="#3a74a5" />
<rect x="413.83" y="99.19" width="1.81" height="9.83" fill="#3a74a5" />
<rect x="415.63" y="99.19" width="1.81" height="9.83" fill="#3a74a5" />
<rect x="511.4" y="99.19" width="1.81" height="9.83" fill="#3a74a5" />
<rect x="536.7" y="99.19" width="1.81" height="9.83" fill="#3a74a5" />
<rect x="417.44" y="99.19" width="1.81" height="9.83" fill="#ec7f2b" />
<rect x="419.25" y="99.19" width="1.81" height="9.83" fill="#ec7f2b" />
<rect x="529.47" y="99.19" width="1.81" height="9.83" fill="#ec7f2b" />
<rect x="531.28" y="99.19" width="1.81" height="9.83" fill="#ec7f2b" />
<rect x="538.51" y="99.19" width="1.81" height="9.83" fill="#ec7f2b" />
<rect x="540.32" y="99.19" width="1.81" height="9.83" fill="#ec7f2b" />
<rect x="542.12" y="99.19" width="1.81" height="9.83" fill="#ec7f2b" />
<rect x="381.3" y="109.02" width="1.81" height="9.83" fill="#cd2b27" />
<rect x="422.86" y="109.02" width="1.81" height="9.83" fill="#cd2b27" />
<rect x="424.67" y="109.02" width="1.81" height="9.83" fill="#cd2b27" />
<rect x="511.4" y="109.02" width="1.81" height="9.83" fill="#cd2b27" />
<rect x="552.97" y="109.02" width="1.81" height="9.83" fill="#cd2b27" />
<rect x="558.39" y="109.02" width="1.81" height="9.83" fill="#cd2b27" />
<rect x="390.34" y="109.02" width="1.81" height="9.83" fill="#000000" />
<rect x="392.14" y="109.02" width="1.81" height="9.83" fill="#3a9b35" />
<rect x="531.28" y="109.02" width="1.81" height="9.83" fill="#3a9b35" />
<rect x="554.77" y="109.02" width="1.81" height="9.83" fill="#3a9b35" />
<rect x="421.05" y="109.02" width="1.81" height="9.83" fill="#3a74a5" />
<rect x="426.48" y="109.02" width="1.81" height="9.83" fill="#3a74a5" />
<rect x="431.9" y="109.02" width="1.81" height="9.83" fill="#3a74a5" />
<rect x="433.7" y="109.02" width="1.81" height="9.83" fill="#3a74a5" />
<rect x="495.14" y="109.02" width="1.81" height="9.83" fill="#3a74a5" />
<rect x="551.16" y="109.02" width="1.81" height="9.83" fill="#3a74a5" />
<rect x="428.28" y="109.02" width="1.81" height="9.83" fill="#62318c" />
<rect x="430.09" y="109.02" width="1.81" height="9.83" fill="#62318c" />
<rect x="529.47" y="109.02" width="1.81" height="9.83" fill="#62318c" />
<rect x="533.09" y="109.02" width="1.81" height="9.83" fill="#62318c" />
<rect x="556.58" y="109.02" width="1.81" height="9.83" fill="#62318c" />
<rect x="421.05" y="118.85" width="1.81" height="9.83" fill="#3a74a5" />
<rect x="440.93" y="118.85" width="1.81" height="9.83" fill="#3a74a5" />
<rect x="442.74" y="118.85" width="1.81" height="9.83" fill="#3a74a5" />
<rect x="565.61" y="118.85" width="1.81" height="9.83" fill="#3a74a5" />
<rect x="569.23" y="118.85" width="1.81" height="9.83" fill="#3a74a5" />
<rect x="571.03" y="118.85" width="1.81" height="9.83" fill="#3a74a5" />
<rect x="435.51" y="118.85" width="1.81" height="9.83" fill="#000000" />
<rect x="437.32" y="118.85" width="1.81" height="9.83" fill="#000000" />
<rect x="439.12" y="118.85" width="1.81" height="9.83" fill="#000000" />
<rect x="444.55" y="118.85" width="1.81" height="9.83" fill="#000000" />
<rect x="513.21" y="118.85" width="1.81" height="9.83" fill="#000000" />
<rect x="534.89" y="118.85" width="1.81" height="9.83" fill="#000000" />
<rect x="551.16" y="118.85" width="1.81" height="9.83" fill="#000000" />
<rect x="552.97" y="118.85" width="1.81" height="9.83" fill="#000000" />
<rect x="560.19" y="118.85" width="1.81" height="9.83" fill="#000000" />
<rect x="567.42" y="118.85" width="1.81" height="9.83" fill="#000000" />
<rect x="529.47" y="118.85" width="1.81" height="9.83" fill="#62318c" />
<rect x="563.81" y="118.85" width="1.81" height="9.83" fill="#62318c" />
<rect x="562" y="118.85" width="1.81" height="9.83" fill="#f5f5a0" />
<rect x="390.34" y="128.68" width="1.81" height="9.83" fill="#3a9b35" />
<rect x="422.86" y="128.68" width="1.81" height="9.83" fill="#3a9b35" />
<rect x="424.67" y="128.68" width="1.81" height="9.83" fill="#3a9b35" />
<rect x="446.35" y="128.68" width="1.81" height="9.83" fill="#3a9b35" />
<rect x="448.16" y="128.68" width="1.81" height="9.83" fill="#3a9b35" />
<rect x="496.95" y="128.68" width="1.81" height="9.83" fill="#3a9b35" />
<rect x="500.56" y="128.68" width="1.81" height="9.83" fill="#3a9b35" />
<rect x="536.7" y="128.68" width="1.81" height="9.83" fill="#3a9b35" />
<rect x="554.77" y="128.68" width="1.81" height="9.83" fill="#3a9b35" />
<rect x="572.84" y="128.68" width="1.81" height="9.83" fill="#3a9b35" />
<rect x="574.65" y="128.68" width="1.81" height="9.83" fill="#3a9b35" />
<rect x="576.46" y="128.68" width="1.81" height="9.83" fill="#3a9b35" />
<rect x="580.07" y="128.68" width="1.81" height="9.83" fill="#3a9b35" />
<rect x="581.88" y="128.68" width="1.81" height="9.83" fill="#3a9b35" />
<rect x="401.18" y="128.68" width="1.81" height="9.83" fill="#3a74a5" />
<rect x="578.26" y="128.68" width="1.81" height="9.83" fill="#3a74a5" />
<rect x="402.98" y="128.68" width="1.81" height="9.83" fill="#cd2b27" />
<rect x="538.51" y="128.68" width="1.81" height="9.83" fill="#cd2b27" />
<rect x="498.75" y="128.68" width="1.81" height="9.83" fill="#ec7f2b" />
<rect x="381.3" y="138.51" width="1.81" height="9.83" fill="#3a9b35" />
<rect x="384.91" y="138.51" width="1.81" height="9.83" fill="#3a9b35" />
<rect x="392.14" y="138.51" width="1.81" height="9.83" fill="#3a9b35" />
<rect x="404.79" y="138.51" width="1.81" height="9.83" fill="#3a9b35" />
<rect x="449.97" y="138.51" width="1.81" height="9.83" fill="#3a9b35" />
<rect x="451.77" y="138.51" width="1.81" height="9.83" fill="#3a9b35" />
<rect x="487.91" y="138.51" width="1.81" height="9.83" fill="#3a9b35" />
<rect x="531.28" y="138.51" width="1.81" height="9.83" fill="#3a9b35" />
<rect x="540.32" y="138.51" width="1.81" height="9.83" fill="#3a9b35" />
<rect x="583.68" y="138.51" width="1.81" height="9.83" fill="#3a9b35" />
<rect x="585.49" y="138.51" width="1.81" height="9.83" fill="#3a9b35" />
<rect x="390.34" y="138.51" width="1.81" height="9.83" fill="#000000" />
<rect x="496.95" y="138.51" width="1.81" height="9.83" fill="#000000" />
<rect x="502.37" y="138.51" width="1.81" height="9.83" fill="#000000" />
<rect x="412.02" y="148.34" width="1.81" height="9.83" fill="#3a74a5" />
<rect x="446.35" y="148.34" width="1.81" height="9.83" fill="#3a74a5" />
<rect x="495.14" y="148.34" width="1.81" height="9.83" fill="#3a74a5" />
<rect x="435.51" y="148.34" width="1.81" height="9.83" fill="#62318c" />
<rect x="453.58" y="148.34" width="1.81" height="9.83" fill="#62318c" />
<rect x="486.11" y="148.34" width="1.81" height="9.83" fill="#62318c" />
<rect x="515.02" y="148.34" width="1.81" height="9.83" fill="#62318c" />
<rect x="511.4" y="148.34" width="1.81" height="9.83" fill="#3a9b35" />
<rect x="587.3" y="148.34" width="1.81" height="9.83" fill="#3a9b35" />
<rect x="516.83" y="148.34" width="1.81" height="9.83" fill="#cd2b27" />
<rect x="518.63" y="148.34" width="1.81" height="9.83" fill="#cd2b27" />
<rect x="381.3" y="158.17" width="1.81" height="9.83" fill="#3a9b35" />
<rect x="422.86" y="158.17" width="1.81" height="9.83" fill="#3a9b35" />
<rect x="455.39" y="158.17" width="1.81" height="9.83" fill="#3a9b35" />
<rect x="457.19" y="158.17" width="1.81" height="9.83" fill="#3a9b35" />
<rect x="504.18" y="158.17" width="1.81" height="9.83" fill="#3a9b35" />
<rect x="520.44" y="158.17" width="1.81" height="9.83" fill="#3a9b35" />
<rect x="556.58" y="158.17" width="1.81" height="9.83" fill="#3a9b35" />
<rect x="589.11" y="158.17" width="1.81" height="9.83" fill="#3a9b35" />
<rect x="390.34" y="158.17" width="1.81" height="9.83" fill="#000000" />
<rect x="487.91" y="158.17" width="1.81" height="9.83" fill="#cd2b27" />
<rect x="522.25" y="158.17" width="1.81" height="9.83" fill="#cd2b27" />
<rect x="386.72" y="168" width="1.81" height="9.83" fill="#000000" />
<rect x="388.53" y="168" width="1.81" height="9.83" fill="#000000" />
<rect x="390.34" y="168" width="1.81" height="9.83" fill="#000000" />
<rect x="426.48" y="168" width="1.81" height="9.83" fill="#62318c" />
<rect x="459" y="168" width="1.81" height="9.83" fill="#3a9b35" />
<rect x="487.91" y="168" width="1.81" height="9.83" fill="#3a9b35" />
<rect x="511.4" y="168" width="1.81" height="9.83" fill="#3a9b35" />
<rect x="460.81" y="168" width="1.81" height="9.83" fill="#cd2b27" />
<rect x="486.11" y="168" width="1.81" height="9.83" fill="#cd2b27" />
<rect x="495.14" y="168" width="1.81" height="9.83" fill="#3a74a5" />
<rect x="386.72" y="177.83" width="1.81" height="9.83" fill="#000000" />
<rect x="390.34" y="177.83" width="1.81" height="9.83" fill="#3a9b35" />
<rect x="435.51" y="177.83" width="1.81" height="9.83" fill="#3a9b35" />
<rect x="462.62" y="177.83" width="1.81" height="9.83" fill="#3a9b35" />
<rect x="498.75" y="177.83" width="1.81" height="9.83" fill="#3a9b35" />
<rect x="511.4" y="177.83" width="1.81" height="9.83" fill="#3a9b35" />
<rect x="524.05" y="177.83" width="1.81" height="9.83" fill="#3a9b35" />
<rect x="572.84" y="177.83" width="1.81" height="9.83" fill="#3a9b35" />
<rect x="574.65" y="177.83" width="1.81" height="9.83" fill="#3a9b35" />
<rect x="381.3" y="187.66" width="1.81" height="9.83" fill="#cd2b27" />
<rect x="388.53" y="187.66" width="1.81" height="9.83" fill="#000000" />
<rect x="390.34" y="187.66" width="1.81" height="9.83" fill="#000000" />
<rect x="413.83" y="187.66" width="1.81" height="9.83" fill="#000000" />
<rect x="486.11" y="187.66" width="1.81" height="9.83" fill="#3a9b35" />
<rect x="572.84" y="187.66" width="1.81" height="9.83" fill="#3a9b35" />
<rect x="487.91" y="187.66" width="1.81" height="9.83" fill="#ec7f2b" />
<rect x="502.37" y="187.66" width="1.81" height="9.83" fill="#62318c" />
<rect x="515.02" y="187.66" width="1.81" height="9.83" fill="#3a74a5" />
<rect x="381.3" y="197.49" width="1.81" height="9.83" fill="#3a9b35" />
<rect x="386.72" y="197.49" width="1.81" height="9.83" fill="#3a9b35" />
<rect x="424.67" y="197.49" width="1.81" height="9.83" fill="#3a9b35" />
<rect x="520.44" y="197.49" width="1.81" height="9.83" fill="#3a9b35" />
<rect x="551.16" y="197.49" width="1.81" height="9.83" fill="#3a9b35" />
<rect x="574.65" y="197.49" width="1.81" height="9.83" fill="#3a9b35" />
<rect x="590.91" y="197.49" width="1.81" height="9.83" fill="#3a9b35" />
<rect x="390.34" y="197.49" width="1.81" height="9.83" fill="#000000" />
<rect x="464.42" y="197.49" width="1.81" height="9.83" fill="#cd2b27" />
<rect x="381.3" y="207.32" width="1.81" height="9.83" fill="#3a9b35" />
<rect x="498.75" y="207.32" width="1.81" height="9.83" fill="#3a9b35" />
<rect x="511.4" y="207.32" width="1.81" height="9.83" fill="#3a9b35" />
<rect x="542.12" y="207.32" width="1.81" height="9.83" fill="#3a9b35" />
<rect x="576.46" y="207.32" width="1.81" height="9.83" fill="#3a9b35" />
<rect x="390.34" y="207.32" width="1.81" height="9.83" fill="#000000" />
<rect x="520.44" y="207.32" width="1.81" height="9.83" fill="#000000" />
<rect x="413.83" y="207.32" width="1.81" height="9.83" fill="#3a74a5" />
<rect x="390.34" y="217.15" width="1.81" height="9.83" fill="#000000" />
<rect x="422.86" y="217.15" width="1.81" height="9.83" fill="#3a9b35" />
<rect x="459" y="217.15" width="1.81" height="9.83" fill="#3a9b35" />
<rect x="466.23" y="217.15" width="1.81" height="9.83" fill="#3a9b35" />
<rect x="468.04" y="217.15" width="1.81" height="9.83" fill="#3a9b35" />
<rect x="496.95" y="217.15" width="1.81" height="9.83" fill="#3a9b35" />
<rect x="592.72" y="217.15" width="1.81" height="9.83" fill="#3a9b35" />
<rect x="594.53" y="217.15" width="1.81" height="9.83" fill="#3a9b35" />
<rect x="381.3" y="226.98" width="1.81" height="9.83" fill="#3a9b35" />
<rect x="383.11" y="226.98" width="1.81" height="9.83" fill="#3a9b35" />
<rect x="422.86" y="226.98" width="1.81" height="9.83" fill="#3a9b35" />
<rect x="469.84" y="226.98" width="1.81" height="9.83" fill="#3a9b35" />
<rect x="486.11" y="226.98" width="1.81" height="9.83" fill="#3a9b35" />
<rect x="511.4" y="226.98" width="1.81" height="9.83" fill="#3a9b35" />
<rect x="572.84" y="226.98" width="1.81" height="9.83" fill="#3a9b35" />
<rect x="390.34" y="226.98" width="1.81" height="9.83" fill="#000000" />
<rect x="381.3" y="236.81" width="1.81" height="9.83" fill="#3a9b35" />
<rect x="386.72" y="236.81" width="1.81" height="9.83" fill="#3a9b35" />
<rect x="404.79" y="236.81" width="1.81" height="9.83" fill="#3a9b35" />
<rect x="487.91" y="236.81" width="1.81" height="9.83" fill="#3a9b35" />
<rect x="498.75" y="236.81" width="1.81" height="9.83" fill="#3a9b35" />
<rect x="578.26" y="236.81" width="1.81" height="9.83" fill="#3a9b35" />
<rect x="390.34" y="236.81" width="1.81" height="9.83" fill="#000000" />
<rect x="511.4" y="236.81" width="1.81" height="9.83" fill="#000000" />
<rect x="388.53" y="246.64" width="1.81" height="9.83" fill="#f5f5a0" />
<rect x="390.34" y="246.64" width="1.81" height="9.83" fill="#3a9b35" />
<rect x="437.32" y="246.64" width="1.81" height="9.83" fill="#3a9b35" />
<rect x="466.23" y="246.64" width="1.81" height="9.83" fill="#3a9b35" />
<rect x="496.95" y="246.64" width="1.81" height="9.83" fill="#3a9b35" />
<rect x="516.83" y="246.64" width="1.81" height="9.83" fill="#3a9b35" />
<rect x="487.91" y="246.64" width="1.81" height="9.83" fill="#000000" />
<rect x="511.4" y="246.64" width="1.81" height="9.83" fill="#000000" />
<rect x="388.53" y="256.47" width="1.81" height="9.83" fill="#000000" />
<rect x="390.34" y="256.47" width="1.81" height="9.83" fill="#000000" />
<rect x="455.39" y="256.47" width="1.81" height="9.83" fill="#000000" />
<rect x="393.95" y="256.47" width="1.81" height="9.83" fill="#3a9b35" />
<rect x="395.76" y="256.47" width="1.81" height="9.83" fill="#3a9b35" />
<rect x="412.02" y="256.47" width="1.81" height="9.83" fill="#3a9b35" />
<rect x="596.33" y="256.47" width="1.81" height="9.83" fill="#3a9b35" />
<path d="M383.11 69.7V266.3M384.91 69.7V266.3M386.72 69.7V266.3M388.53 69.7V266.3M390.34 69.7V266.3M392.14 69.7V266.3M393.95 69.7V266.3M395.76 69.7V266.3M397.56 69.7V266.3M399.37 69.7V266.3M401.18 69.7V266.3M402.98 69.7V266.3M404.79 69.7V266.3M406.6 69.7V266.3M408.41 69.7V266.3M410.21 69.7V266.3M412.02 69.7V266.3M413.83 69.7V266.3M415.63 69.7V266.3M417.44 69.7V266.3M419.25 69.7V266.3M421.05 69.7V266.3M422.86 69.7V266.3M424.67 69.7V266.3M426.48 69.7V266.3M428.28 69.7V266.3M430.09 69.7V266.3M431.9 69.7V266.3M433.7 69.7V266.3M435.51 69.7V266.3M437.32 69.7V266.3M439.12 69.7V266.3M440.93 69.7V266.3M442.74 69.7V266.3M444.55 69.7V266.3M446.35 69.7V266.3M448.16 69.7V266.3M449.97 69.7V266.3M451.77 69.7V266.3M453.58 69.7V266.3M455.39 69.7V266.3M457.19 69.7V266.3M459 69.7V266.3M460.81 69.7V266.3M462.62 69.7V266.3M464.42 69.7V266.3M466.23 69.7V266.3M468.04 69.7V266.3M469.84 69.7V266.3M471.65 69.7V266.3M473.46 69.7V266.3M475.26 69.7V266.3M477.07 69.7V266.3M478.88 69.7V266.3M480.69 69.7V266.3M482.49 69.7V266.3M484.3 69.7V266.3M486.11 69.7V266.3M487.91 69.7V266.3M489.72 69.7V266.3M491.53 69.7V266.3M493.33 69.7V266.3M495.14 69.7V266.3M496.95 69.7V266.3M498.75 69.7V266.3M500.56 69.7V266.3M502.37 69.7V266.3M504.18 69.7V266.3M505.98 69.7V266.3M507.79 69.7V266.3M509.6 69.7V266.3M511.4 69.7V266.3M513.21 69.7V266.3M515.02 69.7V266.3M516.83 69.7V266.3M518.63 69.7V266.3M520.44 69.7V266.3M522.25 69.7V266.3M524.05 69.7V266.3M525.86 69.7V266.3M527.67 69.7V266.3M529.47 69.7V266.3M531.28 69.7V266.3M533.09 69.7V266.3M534.89 69.7V266.3M536.7 69.7V266.3M538.51 69.7V266.3M540.32 69.7V266.3M542.12 69.7V266.3M543.93 69.7V266.3M545.74 69.7V266.3M547.54 69.7V266.3M549.35 69.7V266.3M551.16 69.7V266.3M552.97 69.7V266.3M554.77 69.7V266.3M556.58 69.7V266.3M558.39 69.7V266.3M560.19 69.7V266.3M562 69.7V266.3M563.81 69.7V266.3M565.61 69.7V266.3M567.42 69.7V266.3M569.23 69.7V266.3M571.03 69.7V266.3M572.84 69.7V266.3M574.65 69.7V266.3M576.46 69.7V266.3M578.26 69.7V266.3M580.07 69.7V266.3M581.88 69.7V266.3M583.68 69.7V266.3M585.49 69.7V266.3M587.3 69.7V266.3M589.11 69.7V266.3M590.91 69.7V266.3M592.72 69.7V266.3M594.53 69.7V266.3M596.33 69.7V266.3" stroke="#fff" stroke-width="0.55" fill="none"/>
<path d="M381.3 79.53H598.14M381.3 89.36H598.14M381.3 99.19H598.14M381.3 109.02H598.14M381.3 118.85H598.14M381.3 128.68H598.14M381.3 138.51H598.14M381.3 148.34H598.14M381.3 158.17H598.14M381.3 168H598.14M381.3 177.83H598.14M381.3 187.66H598.14M381.3 197.49H598.14M381.3 207.32H598.14M381.3 217.15H598.14M381.3 226.98H598.14M381.3 236.81H598.14M381.3 246.64H598.14M381.3 256.47H598.14" stroke="#fff" stroke-width="0.9" fill="none"/>
<text x="379.1" y="76.92" font-size="6.5" font-weight="bold" font-style="italic" text-anchor="end" fill="#e0262b" >PIK3CA</text>
<text x="598.3" y="76.92" font-size="6.45" font-weight="normal" font-style="normal" text-anchor="start" fill="#222" >41%</text>
<text x="379.1" y="86.75" font-size="6.5" font-weight="bold" font-style="italic" text-anchor="end" fill="#1a1a1a" >TTN</text>
<text x="598.3" y="86.75" font-size="6.45" font-weight="normal" font-style="normal" text-anchor="start" fill="#222" >18%</text>
<text x="379.1" y="96.58" font-size="6.5" font-weight="bold" font-style="italic" text-anchor="end" fill="#1a1a1a" >CDH1</text>
<text x="598.3" y="96.58" font-size="6.45" font-weight="normal" font-style="normal" text-anchor="start" fill="#222" >16%</text>
<text x="379.1" y="106.41" font-size="6.5" font-weight="bold" font-style="italic" text-anchor="end" fill="#1a1a1a" >GATA3</text>
<text x="598.3" y="106.41" font-size="6.45" font-weight="normal" font-style="normal" text-anchor="start" fill="#222" >16%</text>
<text x="379.1" y="116.24" font-size="6.5" font-weight="bold" font-style="italic" text-anchor="end" fill="#1a1a1a" >KMT2C</text>
<text x="598.3" y="116.24" font-size="6.45" font-weight="normal" font-style="normal" text-anchor="start" fill="#222" >15%</text>
<text x="379.1" y="126.06" font-size="6.5" font-weight="bold" font-style="italic" text-anchor="end" fill="#1a1a1a" >MAP3K1</text>
<text x="598.3" y="126.06" font-size="6.45" font-weight="normal" font-style="normal" text-anchor="start" fill="#222" >13%</text>
<text x="379.1" y="135.9" font-size="6.5" font-weight="bold" font-style="italic" text-anchor="end" fill="#1a1a1a" >TP53</text>
<text x="598.3" y="135.9" font-size="6.45" font-weight="normal" font-style="normal" text-anchor="start" fill="#222" >13%</text>
<text x="379.1" y="145.72" font-size="6.5" font-weight="bold" font-style="italic" text-anchor="end" fill="#1a1a1a" >MUC16</text>
<text x="598.3" y="145.72" font-size="6.45" font-weight="normal" font-style="normal" text-anchor="start" fill="#222" >10%</text>
<text x="379.1" y="155.56" font-size="6.5" font-weight="bold" font-style="italic" text-anchor="end" fill="#1a1a1a" >RUNX1</text>
<text x="598.3" y="155.56" font-size="6.45" font-weight="normal" font-style="normal" text-anchor="start" fill="#222" >8%</text>
<text x="379.1" y="165.39" font-size="6.5" font-weight="bold" font-style="italic" text-anchor="end" fill="#1a1a1a" >RYR3</text>
<text x="598.3" y="165.39" font-size="6.45" font-weight="normal" font-style="normal" text-anchor="start" fill="#222" >8%</text>
<text x="379.1" y="175.22" font-size="6.5" font-weight="bold" font-style="italic" text-anchor="end" fill="#1a1a1a" >SPEN</text>
<text x="598.3" y="175.22" font-size="6.45" font-weight="normal" font-style="normal" text-anchor="start" fill="#222" >7%</text>
<text x="379.1" y="185.04" font-size="6.5" font-weight="bold" font-style="italic" text-anchor="end" fill="#1a1a1a" >FAT3</text>
<text x="598.3" y="185.04" font-size="6.45" font-weight="normal" font-style="normal" text-anchor="start" fill="#222" >6%</text>
<text x="379.1" y="194.88" font-size="6.5" font-weight="bold" font-style="italic" text-anchor="end" fill="#1a1a1a" >NCOR1</text>
<text x="598.3" y="194.88" font-size="6.45" font-weight="normal" font-style="normal" text-anchor="start" fill="#222" >6%</text>
<text x="379.1" y="204.71" font-size="6.5" font-weight="bold" font-style="italic" text-anchor="end" fill="#1a1a1a" >SYNE1</text>
<text x="598.3" y="204.71" font-size="6.45" font-weight="normal" font-style="normal" text-anchor="start" fill="#222" >6%</text>
<text x="379.1" y="214.53" font-size="6.5" font-weight="bold" font-style="italic" text-anchor="end" fill="#1a1a1a" >APOB</text>
<text x="598.3" y="214.53" font-size="6.45" font-weight="normal" font-style="normal" text-anchor="start" fill="#222" >6%</text>
<text x="379.1" y="224.36" font-size="6.5" font-weight="bold" font-style="italic" text-anchor="end" fill="#1a1a1a" >CSMD1</text>
<text x="598.3" y="224.36" font-size="6.45" font-weight="normal" font-style="normal" text-anchor="start" fill="#222" >6%</text>
<text x="379.1" y="234.2" font-size="6.5" font-weight="bold" font-style="italic" text-anchor="end" fill="#1a1a1a" >NEB</text>
<text x="598.3" y="234.2" font-size="6.45" font-weight="normal" font-style="normal" text-anchor="start" fill="#222" >6%</text>
<text x="379.1" y="244.03" font-size="6.5" font-weight="bold" font-style="italic" text-anchor="end" fill="#1a1a1a" >PCLO</text>
<text x="598.3" y="244.03" font-size="6.45" font-weight="normal" font-style="normal" text-anchor="start" fill="#222" >6%</text>
<text x="379.1" y="253.85" font-size="6.5" font-weight="bold" font-style="italic" text-anchor="end" fill="#1a1a1a" >ZFHX4</text>
<text x="598.3" y="253.85" font-size="6.45" font-weight="normal" font-style="normal" text-anchor="start" fill="#222" >6%</text>
<text x="379.1" y="263.69" font-size="6.5" font-weight="bold" font-style="italic" text-anchor="end" fill="#1a1a1a" >DMD</text>
<text x="598.3" y="263.69" font-size="6.45" font-weight="normal" font-style="normal" text-anchor="start" fill="#222" >5%</text>
<rect x="616.9" y="70.3" width="55.38" height="8.53" fill="#3a9b35" />
<rect x="672.28" y="70.3" width="2.09" height="8.53" fill="#f5f5a0" />
<rect x="674.37" y="70.3" width="3.13" height="8.53" fill="#000000" />
<rect x="616.9" y="80.13" width="17.76" height="8.53" fill="#3a9b35" />
<rect x="634.66" y="80.13" width="7.31" height="8.53" fill="#000000" />
<rect x="616.9" y="89.96" width="9.4" height="8.53" fill="#62318c" />
<rect x="626.3" y="89.96" width="1.04" height="8.53" fill="#3a9b35" />
<rect x="627.35" y="89.96" width="4.18" height="8.53" fill="#3a74a5" />
<rect x="631.53" y="89.96" width="5.22" height="8.53" fill="#cd2b27" />
<rect x="636.75" y="89.96" width="3.13" height="8.53" fill="#f5f5a0" />
<rect x="639.89" y="89.96" width="1.04" height="8.53" fill="#ec7f2b" />
<rect x="616.9" y="99.79" width="8.36" height="8.53" fill="#62318c" />
<rect x="625.26" y="99.79" width="2.09" height="8.53" fill="#3a9b35" />
<rect x="627.35" y="99.79" width="5.22" height="8.53" fill="#3a74a5" />
<rect x="632.57" y="99.79" width="7.31" height="8.53" fill="#ec7f2b" />
<rect x="616.9" y="109.62" width="5.22" height="8.53" fill="#62318c" />
<rect x="622.12" y="109.62" width="3.13" height="8.53" fill="#3a9b35" />
<rect x="625.26" y="109.62" width="6.27" height="8.53" fill="#3a74a5" />
<rect x="631.53" y="109.62" width="6.27" height="8.53" fill="#cd2b27" />
<rect x="637.8" y="109.62" width="1.04" height="8.53" fill="#000000" />
<rect x="616.9" y="119.45" width="2.09" height="8.53" fill="#62318c" />
<rect x="618.99" y="119.45" width="6.27" height="8.53" fill="#3a74a5" />
<rect x="625.26" y="119.45" width="1.04" height="8.53" fill="#f5f5a0" />
<rect x="626.3" y="119.45" width="10.45" height="8.53" fill="#000000" />
<rect x="616.9" y="129.28" width="14.63" height="8.53" fill="#3a9b35" />
<rect x="631.53" y="129.28" width="2.09" height="8.53" fill="#3a74a5" />
<rect x="633.62" y="129.28" width="2.09" height="8.53" fill="#cd2b27" />
<rect x="635.71" y="129.28" width="1.04" height="8.53" fill="#ec7f2b" />
<rect x="616.9" y="139.11" width="11.49" height="8.53" fill="#3a9b35" />
<rect x="628.39" y="139.11" width="3.13" height="8.53" fill="#000000" />
<rect x="616.9" y="148.94" width="4.18" height="8.53" fill="#62318c" />
<rect x="621.08" y="148.94" width="2.09" height="8.53" fill="#3a9b35" />
<rect x="623.17" y="148.94" width="3.13" height="8.53" fill="#3a74a5" />
<rect x="626.3" y="148.94" width="2.09" height="8.53" fill="#cd2b27" />
<rect x="616.9" y="158.77" width="8.36" height="8.53" fill="#3a9b35" />
<rect x="625.26" y="158.77" width="2.09" height="8.53" fill="#cd2b27" />
<rect x="627.35" y="158.77" width="1.04" height="8.53" fill="#000000" />
<rect x="616.9" y="168.6" width="1.04" height="8.53" fill="#62318c" />
<rect x="617.94" y="168.6" width="3.13" height="8.53" fill="#3a9b35" />
<rect x="621.08" y="168.6" width="1.04" height="8.53" fill="#3a74a5" />
<rect x="622.12" y="168.6" width="2.09" height="8.53" fill="#cd2b27" />
<rect x="624.21" y="168.6" width="3.13" height="8.53" fill="#000000" />
<rect x="616.9" y="178.43" width="8.36" height="8.53" fill="#3a9b35" />
<rect x="625.26" y="178.43" width="1.04" height="8.53" fill="#000000" />
<rect x="616.9" y="188.26" width="1.04" height="8.53" fill="#62318c" />
<rect x="617.94" y="188.26" width="2.09" height="8.53" fill="#3a9b35" />
<rect x="620.03" y="188.26" width="1.04" height="8.53" fill="#3a74a5" />
<rect x="621.08" y="188.26" width="1.04" height="8.53" fill="#cd2b27" />
<rect x="622.12" y="188.26" width="1.04" height="8.53" fill="#ec7f2b" />
<rect x="623.17" y="188.26" width="3.13" height="8.53" fill="#000000" />
<rect x="616.9" y="198.09" width="7.31" height="8.53" fill="#3a9b35" />
<rect x="624.21" y="198.09" width="1.04" height="8.53" fill="#cd2b27" />
<rect x="625.26" y="198.09" width="1.04" height="8.53" fill="#000000" />
<rect x="616.9" y="207.92" width="5.22" height="8.53" fill="#3a9b35" />
<rect x="622.12" y="207.92" width="1.04" height="8.53" fill="#3a74a5" />
<rect x="623.17" y="207.92" width="2.09" height="8.53" fill="#000000" />
<rect x="616.9" y="217.75" width="7.31" height="8.53" fill="#3a9b35" />
<rect x="624.21" y="217.75" width="1.04" height="8.53" fill="#000000" />
<rect x="616.9" y="227.58" width="7.31" height="8.53" fill="#3a9b35" />
<rect x="624.21" y="227.58" width="1.04" height="8.53" fill="#000000" />
<rect x="616.9" y="237.41" width="6.27" height="8.53" fill="#3a9b35" />
<rect x="623.17" y="237.41" width="2.09" height="8.53" fill="#000000" />
<rect x="616.9" y="247.24" width="5.22" height="8.53" fill="#3a9b35" />
<rect x="622.12" y="247.24" width="1.04" height="8.53" fill="#f5f5a0" />
<rect x="623.17" y="247.24" width="2.09" height="8.53" fill="#000000" />
<rect x="616.9" y="257.07" width="4.18" height="8.53" fill="#3a9b35" />
<rect x="621.08" y="257.07" width="3.13" height="8.53" fill="#000000" />
<line x1="616.9" y1="66.5" x2="677.5" y2="66.5" stroke="#1a1a1a" stroke-width="0.9" />
<line x1="616.9" y1="66.5" x2="616.9" y2="64.3" stroke="#1a1a1a" stroke-width="0.9" />
<line x1="677.5" y1="66.5" x2="677.5" y2="64.3" stroke="#1a1a1a" stroke-width="0.9" />
<text x="618.4" y="63.7" font-size="4.6" font-weight="normal" font-style="normal" text-anchor="start" fill="#111" transform="rotate(-90 618.4 63.7)">0</text>
<text x="679" y="63.7" font-size="4.6" font-weight="normal" font-style="normal" text-anchor="start" fill="#111" transform="rotate(-90 679 63.7)">58</text>
<text x="648.1" y="65.1" font-size="6.95" font-weight="normal" font-style="normal" text-anchor="start" fill="#1a1a1a" transform="rotate(-90 648.1 65.1)">No. of samples</text>
<text x="1.4" y="284.4" font-size="14" font-weight="normal" font-style="normal" text-anchor="start" fill="#111" >C</text>
<text x="44.7" y="275.2" font-size="9.2" font-weight="bold" font-style="normal" text-anchor="start" fill="#111" >Altered in 87 (91.58%) of 95 samples(Cluster3).</text>
<line x1="30.5" y1="278.4" x2="30.5" y2="328.2" stroke="#1a1a1a" stroke-width="0.9" />
<line x1="27.9" y1="278.4" x2="30.5" y2="278.4" stroke="#1a1a1a" stroke-width="0.9" />
<line x1="27.9" y1="328.2" x2="30.5" y2="328.2" stroke="#1a1a1a" stroke-width="0.9" />
<text x="27.3" y="280.2" font-size="5" font-weight="normal" font-style="normal" text-anchor="end" fill="#222" >3783</text>
<text x="27.3" y="330" font-size="5" font-weight="normal" font-style="normal" text-anchor="end" fill="#222" >0</text>
<text x="10.8" y="304.9" font-size="4.4" font-weight="normal" font-style="normal" text-anchor="start" fill="#333" >TMB</text>
<path d="M33.2 326.8h2.54V328.2h-2.54ZM35.74 327.8h2.54V328.2h-2.54ZM38.28 327.7h2.54V328.2h-2.54ZM40.82 327.6h2.54V328.2h-2.54ZM43.36 325.5h2.54V328.2h-2.54ZM45.9 327.4h2.54V328.2h-2.54ZM48.44 327.3h2.54V328.2h-2.54ZM50.98 327.2h2.54V328.2h-2.54ZM53.52 319.66h2.54V328.2h-2.54ZM56.06 325.8h2.54V328.2h-2.54ZM58.6 326.9h2.54V328.2h-2.54ZM61.14 326.8h2.54V328.2h-2.54ZM63.68 326.7h2.54V328.2h-2.54ZM66.22 327.9h2.54V328.2h-2.54ZM68.76 327.8h2.54V328.2h-2.54ZM71.3 327.7h2.54V328.2h-2.54ZM73.84 327.6h2.54V328.2h-2.54ZM76.38 327.5h2.54V328.2h-2.54ZM78.92 327.4h2.54V328.2h-2.54ZM81.46 327.3h2.54V328.2h-2.54ZM84 327.2h2.54V328.2h-2.54ZM86.54 327.1h2.54V328.2h-2.54ZM89.08 327h2.54V328.2h-2.54ZM91.62 326.9h2.54V328.2h-2.54ZM94.16 326.8h2.54V328.2h-2.54ZM96.7 326.7h2.54V328.2h-2.54ZM99.24 327.9h2.54V328.2h-2.54ZM101.78 327.8h2.54V328.2h-2.54ZM104.32 327.7h2.54V328.2h-2.54ZM106.86 327.6h2.54V328.2h-2.54ZM109.4 327.5h2.54V328.2h-2.54ZM111.94 327.4h2.54V328.2h-2.54ZM114.48 327.3h2.54V328.2h-2.54ZM117.02 327.2h2.54V328.2h-2.54ZM119.56 327.1h2.54V328.2h-2.54ZM122.1 327h2.54V328.2h-2.54ZM124.64 326.9h2.54V328.2h-2.54ZM127.18 326.8h2.54V328.2h-2.54ZM129.72 326.7h2.54V328.2h-2.54ZM132.26 327.9h2.54V328.2h-2.54ZM134.8 327.8h2.54V328.2h-2.54ZM137.34 327.7h2.54V328.2h-2.54ZM139.88 327.6h2.54V328.2h-2.54ZM142.42 327.5h2.54V328.2h-2.54ZM144.96 327.4h2.54V328.2h-2.54ZM147.5 327.3h2.54V328.2h-2.54ZM150.04 327.2h2.54V328.2h-2.54ZM152.58 327.1h2.54V328.2h-2.54ZM155.12 327h2.54V328.2h-2.54ZM157.66 326.9h2.54V328.2h-2.54ZM160.2 326.8h2.54V328.2h-2.54ZM162.74 326.7h2.54V328.2h-2.54ZM165.28 283.8h2.54V328.2h-2.54ZM167.82 327.8h2.54V328.2h-2.54ZM170.36 327.7h2.54V328.2h-2.54ZM172.9 321.16h2.54V328.2h-2.54ZM175.44 327.5h2.54V328.2h-2.54ZM177.98 327.4h2.54V328.2h-2.54ZM180.52 314.82h2.54V328.2h-2.54ZM183.06 327.2h2.54V328.2h-2.54ZM185.6 321.86h2.54V328.2h-2.54ZM188.14 327h2.54V328.2h-2.54ZM190.68 326.9h2.54V328.2h-2.54ZM193.22 326.8h2.54V328.2h-2.54ZM195.76 326.7h2.54V328.2h-2.54ZM198.3 327.9h2.54V328.2h-2.54ZM200.84 327.8h2.54V328.2h-2.54ZM203.38 327.7h2.54V328.2h-2.54ZM205.92 327.6h2.54V328.2h-2.54ZM208.46 327.5h2.54V328.2h-2.54ZM211 327.4h2.54V328.2h-2.54ZM213.54 325.8h2.54V328.2h-2.54ZM216.08 327.2h2.54V328.2h-2.54ZM218.62 327.1h2.54V328.2h-2.54ZM221.16 327h2.54V328.2h-2.54ZM223.7 326.9h2.54V328.2h-2.54ZM226.24 326.8h2.54V328.2h-2.54ZM228.78 326.7h2.54V328.2h-2.54ZM231.32 327.9h2.54V328.2h-2.54ZM233.86 327.8h2.54V328.2h-2.54ZM236.4 327.7h2.54V328.2h-2.54ZM238.94 327.6h2.54V328.2h-2.54ZM241.48 327.5h2.54V328.2h-2.54ZM244.02 327.4h2.54V328.2h-2.54ZM246.56 327.3h2.54V328.2h-2.54ZM249.1 327.2h2.54V328.2h-2.54ZM251.64 327.1h2.54V328.2h-2.54Z" fill="#3a9b35"/>
<path d="M33.2 326.3h2.54v0.5h-2.54ZM35.74 327.3h2.54v0.5h-2.54ZM38.28 327.2h2.54v0.5h-2.54ZM40.82 327.1h2.54v0.5h-2.54ZM43.36 325h2.54v0.5h-2.54ZM45.9 326.9h2.54v0.5h-2.54ZM48.44 326.8h2.54v0.5h-2.54ZM50.98 326.7h2.54v0.5h-2.54ZM53.52 318.5h2.54v1.16h-2.54ZM56.06 325.3h2.54v0.5h-2.54ZM58.6 326.4h2.54v0.5h-2.54ZM61.14 326.3h2.54v0.5h-2.54ZM63.68 326.2h2.54v0.5h-2.54ZM66.22 327.4h2.54v0.5h-2.54ZM68.76 327.3h2.54v0.5h-2.54ZM71.3 327.2h2.54v0.5h-2.54ZM73.84 327.1h2.54v0.5h-2.54ZM76.38 327h2.54v0.5h-2.54ZM78.92 326.9h2.54v0.5h-2.54ZM81.46 326.8h2.54v0.5h-2.54ZM84 326.7h2.54v0.5h-2.54ZM86.54 326.6h2.54v0.5h-2.54ZM89.08 326.5h2.54v0.5h-2.54ZM91.62 326.4h2.54v0.5h-2.54ZM94.16 326.3h2.54v0.5h-2.54ZM96.7 326.2h2.54v0.5h-2.54ZM99.24 327.4h2.54v0.5h-2.54ZM101.78 327.3h2.54v0.5h-2.54ZM104.32 327.2h2.54v0.5h-2.54ZM106.86 327.1h2.54v0.5h-2.54ZM109.4 327h2.54v0.5h-2.54ZM111.94 326.9h2.54v0.5h-2.54ZM114.48 326.8h2.54v0.5h-2.54ZM117.02 326.7h2.54v0.5h-2.54ZM119.56 326.6h2.54v0.5h-2.54ZM122.1 326.5h2.54v0.5h-2.54ZM124.64 326.4h2.54v0.5h-2.54ZM127.18 326.3h2.54v0.5h-2.54ZM129.72 326.2h2.54v0.5h-2.54ZM132.26 327.4h2.54v0.5h-2.54ZM134.8 327.3h2.54v0.5h-2.54ZM137.34 327.2h2.54v0.5h-2.54ZM139.88 327.1h2.54v0.5h-2.54ZM142.42 327h2.54v0.5h-2.54ZM144.96 326.9h2.54v0.5h-2.54ZM147.5 326.8h2.54v0.5h-2.54ZM150.04 326.7h2.54v0.5h-2.54ZM152.58 326.6h2.54v0.5h-2.54ZM155.12 326.5h2.54v0.5h-2.54ZM157.66 326.4h2.54v0.5h-2.54ZM160.2 326.3h2.54v0.5h-2.54ZM162.74 326.2h2.54v0.5h-2.54ZM165.28 278.8h2.54v5h-2.54ZM167.82 327.3h2.54v0.5h-2.54ZM170.36 327.2h2.54v0.5h-2.54ZM172.9 320.2h2.54v0.96h-2.54ZM175.44 327h2.54v0.5h-2.54ZM177.98 326.9h2.54v0.5h-2.54ZM180.52 313h2.54v1.82h-2.54ZM183.06 326.7h2.54v0.5h-2.54ZM185.6 321h2.54v0.86h-2.54ZM188.14 326.5h2.54v0.5h-2.54ZM190.68 326.4h2.54v0.5h-2.54ZM193.22 326.3h2.54v0.5h-2.54ZM195.76 326.2h2.54v0.5h-2.54ZM198.3 327.4h2.54v0.5h-2.54ZM200.84 327.3h2.54v0.5h-2.54ZM203.38 327.2h2.54v0.5h-2.54ZM205.92 327.1h2.54v0.5h-2.54ZM208.46 327h2.54v0.5h-2.54ZM211 326.9h2.54v0.5h-2.54ZM213.54 325.3h2.54v0.5h-2.54ZM216.08 326.7h2.54v0.5h-2.54ZM218.62 326.6h2.54v0.5h-2.54ZM221.16 326.5h2.54v0.5h-2.54ZM223.7 326.4h2.54v0.5h-2.54ZM226.24 326.3h2.54v0.5h-2.54ZM228.78 326.2h2.54v0.5h-2.54ZM231.32 327.4h2.54v0.5h-2.54ZM233.86 327.3h2.54v0.5h-2.54ZM236.4 327.2h2.54v0.5h-2.54ZM238.94 327.1h2.54v0.5h-2.54ZM241.48 327h2.54v0.5h-2.54ZM244.02 326.9h2.54v0.5h-2.54ZM246.56 326.8h2.54v0.5h-2.54ZM249.1 326.7h2.54v0.5h-2.54ZM251.64 326.6h2.54v0.5h-2.54Z" fill="#cd2b27"/>
<rect x="33.2" y="331.8" width="220.98" height="200.6" fill="#cccccc" />
<rect x="33.2" y="331.8" width="2.54" height="10.03" fill="#ec7f2b" />
<rect x="61.14" y="331.8" width="2.54" height="10.03" fill="#ec7f2b" />
<rect x="68.76" y="331.8" width="2.54" height="10.03" fill="#ec7f2b" />
<rect x="119.56" y="331.8" width="2.54" height="10.03" fill="#ec7f2b" />
<rect x="122.1" y="331.8" width="2.54" height="10.03" fill="#ec7f2b" />
<rect x="144.96" y="331.8" width="2.54" height="10.03" fill="#ec7f2b" />
<rect x="35.74" y="331.8" width="2.54" height="10.03" fill="#3a74a5" />
<rect x="53.52" y="331.8" width="2.54" height="10.03" fill="#3a74a5" />
<rect x="71.3" y="331.8" width="2.54" height="10.03" fill="#3a74a5" />
<rect x="86.54" y="331.8" width="2.54" height="10.03" fill="#3a74a5" />
<rect x="91.62" y="331.8" width="2.54" height="10.03" fill="#3a74a5" />
<rect x="94.16" y="331.8" width="2.54" height="10.03" fill="#3a74a5" />
<rect x="106.86" y="331.8" width="2.54" height="10.03" fill="#3a74a5" />
<rect x="109.4" y="331.8" width="2.54" height="10.03" fill="#3a74a5" />
<rect x="114.48" y="331.8" width="2.54" height="10.03" fill="#3a74a5" />
<rect x="134.8" y="331.8" width="2.54" height="10.03" fill="#3a74a5" />
<rect x="152.58" y="331.8" width="2.54" height="10.03" fill="#3a74a5" />
<rect x="38.28" y="331.8" width="2.54" height="10.03" fill="#3a9b35" />
<rect x="40.82" y="331.8" width="2.54" height="10.03" fill="#3a9b35" />
<rect x="43.36" y="331.8" width="2.54" height="10.03" fill="#3a9b35" />
<rect x="45.9" y="331.8" width="2.54" height="10.03" fill="#3a9b35" />
<rect x="48.44" y="331.8" width="2.54" height="10.03" fill="#3a9b35" />
<rect x="50.98" y="331.8" width="2.54" height="10.03" fill="#3a9b35" />
<rect x="56.06" y="331.8" width="2.54" height="10.03" fill="#3a9b35" />
<rect x="58.6" y="331.8" width="2.54" height="10.03" fill="#3a9b35" />
<rect x="63.68" y="331.8" width="2.54" height="10.03" fill="#3a9b35" />
<rect x="66.22" y="331.8" width="2.54" height="10.03" fill="#3a9b35" />
<rect x="76.38" y="331.8" width="2.54" height="10.03" fill="#3a9b35" />
<rect x="96.7" y="331.8" width="2.54" height="10.03" fill="#3a9b35" />
<rect x="99.24" y="331.8" width="2.54" height="10.03" fill="#3a9b35" />
<rect x="101.78" y="331.8" width="2.54" height="10.03" fill="#3a9b35" />
<rect x="104.32" y="331.8" width="2.54" height="10.03" fill="#3a9b35" />
<rect x="111.94" y="331.8" width="2.54" height="10.03" fill="#3a9b35" />
<rect x="117.02" y="331.8" width="2.54" height="10.03" fill="#3a9b35" />
<rect x="124.64" y="331.8" width="2.54" height="10.03" fill="#3a9b35" />
<rect x="129.72" y="331.8" width="2.54" height="10.03" fill="#3a9b35" />
<rect x="132.26" y="331.8" width="2.54" height="10.03" fill="#3a9b35" />
<rect x="139.88" y="331.8" width="2.54" height="10.03" fill="#3a9b35" />
<rect x="142.42" y="331.8" width="2.54" height="10.03" fill="#3a9b35" />
<rect x="147.5" y="331.8" width="2.54" height="10.03" fill="#3a9b35" />
<rect x="150.04" y="331.8" width="2.54" height="10.03" fill="#3a9b35" />
<rect x="155.12" y="331.8" width="2.54" height="10.03" fill="#3a9b35" />
<rect x="157.66" y="331.8" width="2.54" height="10.03" fill="#3a9b35" />
<rect x="160.2" y="331.8" width="2.54" height="10.03" fill="#3a9b35" />
<rect x="162.74" y="331.8" width="2.54" height="10.03" fill="#3a9b35" />
<rect x="73.84" y="331.8" width="2.54" height="10.03" fill="#f5f5a0" />
<rect x="78.92" y="331.8" width="2.54" height="10.03" fill="#cd2b27" />
<rect x="84" y="331.8" width="2.54" height="10.03" fill="#cd2b27" />
<rect x="89.08" y="331.8" width="2.54" height="10.03" fill="#cd2b27" />
<rect x="127.18" y="331.8" width="2.54" height="10.03" fill="#cd2b27" />
<rect x="81.46" y="331.8" width="2.54" height="10.03" fill="#62318c" />
<rect x="137.34" y="331.8" width="2.54" height="10.03" fill="#62318c" />
<rect x="33.2" y="341.83" width="2.54" height="10.03" fill="#3a9b35" />
<rect x="38.28" y="341.83" width="2.54" height="10.03" fill="#3a9b35" />
<rect x="45.9" y="341.83" width="2.54" height="10.03" fill="#3a9b35" />
<rect x="48.44" y="341.83" width="2.54" height="10.03" fill="#3a9b35" />
<rect x="50.98" y="341.83" width="2.54" height="10.03" fill="#3a9b35" />
<rect x="53.52" y="341.83" width="2.54" height="10.03" fill="#3a9b35" />
<rect x="58.6" y="341.83" width="2.54" height="10.03" fill="#3a9b35" />
<rect x="66.22" y="341.83" width="2.54" height="10.03" fill="#3a9b35" />
<rect x="68.76" y="341.83" width="2.54" height="10.03" fill="#3a9b35" />
<rect x="76.38" y="341.83" width="2.54" height="10.03" fill="#3a9b35" />
<rect x="78.92" y="341.83" width="2.54" height="10.03" fill="#3a9b35" />
<rect x="81.46" y="341.83" width="2.54" height="10.03" fill="#3a9b35" />
<rect x="167.82" y="341.83" width="2.54" height="10.03" fill="#3a9b35" />
<rect x="170.36" y="341.83" width="2.54" height="10.03" fill="#3a9b35" />
<rect x="175.44" y="341.83" width="2.54" height="10.03" fill="#3a9b35" />
<rect x="177.98" y="341.83" width="2.54" height="10.03" fill="#3a9b35" />
<rect x="180.52" y="341.83" width="2.54" height="10.03" fill="#3a9b35" />
<rect x="183.06" y="341.83" width="2.54" height="10.03" fill="#3a9b35" />
<rect x="185.6" y="341.83" width="2.54" height="10.03" fill="#3a9b35" />
<rect x="188.14" y="341.83" width="2.54" height="10.03" fill="#3a9b35" />
<rect x="193.22" y="341.83" width="2.54" height="10.03" fill="#3a9b35" />
<rect x="195.76" y="341.83" width="2.54" height="10.03" fill="#3a9b35" />
<rect x="35.74" y="341.83" width="2.54" height="10.03" fill="#000000" />
<rect x="43.36" y="341.83" width="2.54" height="10.03" fill="#000000" />
<rect x="56.06" y="341.83" width="2.54" height="10.03" fill="#000000" />
<rect x="61.14" y="341.83" width="2.54" height="10.03" fill="#000000" />
<rect x="63.68" y="341.83" width="2.54" height="10.03" fill="#000000" />
<rect x="71.3" y="341.83" width="2.54" height="10.03" fill="#000000" />
<rect x="165.28" y="341.83" width="2.54" height="10.03" fill="#000000" />
<rect x="172.9" y="341.83" width="2.54" height="10.03" fill="#000000" />
<rect x="190.68" y="341.83" width="2.54" height="10.03" fill="#000000" />
<rect x="40.82" y="341.83" width="2.54" height="10.03" fill="#cd2b27" />
<rect x="73.84" y="341.83" width="2.54" height="10.03" fill="#cd2b27" />
<rect x="33.2" y="351.86" width="2.54" height="10.03" fill="#3a9b35" />
<rect x="35.74" y="351.86" width="2.54" height="10.03" fill="#3a9b35" />
<rect x="38.28" y="351.86" width="2.54" height="10.03" fill="#3a9b35" />
<rect x="40.82" y="351.86" width="2.54" height="10.03" fill="#3a9b35" />
<rect x="84" y="351.86" width="2.54" height="10.03" fill="#3a9b35" />
<rect x="86.54" y="351.86" width="2.54" height="10.03" fill="#3a9b35" />
<rect x="89.08" y="351.86" width="2.54" height="10.03" fill="#3a9b35" />
<rect x="91.62" y="351.86" width="2.54" height="10.03" fill="#3a9b35" />
<rect x="94.16" y="351.86" width="2.54" height="10.03" fill="#3a9b35" />
<rect x="96.7" y="351.86" width="2.54" height="10.03" fill="#3a9b35" />
<rect x="99.24" y="351.86" width="2.54" height="10.03" fill="#3a9b35" />
<rect x="167.82" y="351.86" width="2.54" height="10.03" fill="#3a9b35" />
<rect x="170.36" y="351.86" width="2.54" height="10.03" fill="#3a9b35" />
<rect x="172.9" y="351.86" width="2.54" height="10.03" fill="#3a9b35" />
<rect x="175.44" y="351.86" width="2.54" height="10.03" fill="#3a9b35" />
<rect x="198.3" y="351.86" width="2.54" height="10.03" fill="#3a9b35" />
<rect x="203.38" y="351.86" width="2.54" height="10.03" fill="#3a9b35" />
<rect x="205.92" y="351.86" width="2.54" height="10.03" fill="#3a9b35" />
<rect x="208.46" y="351.86" width="2.54" height="10.03" fill="#3a9b35" />
<rect x="211" y="351.86" width="2.54" height="10.03" fill="#3a9b35" />
<rect x="213.54" y="351.86" width="2.54" height="10.03" fill="#3a9b35" />
<rect x="216.08" y="351.86" width="2.54" height="10.03" fill="#3a9b35" />
<rect x="218.62" y="351.86" width="2.54" height="10.03" fill="#3a9b35" />
<rect x="221.16" y="351.86" width="2.54" height="10.03" fill="#3a9b35" />
<rect x="101.78" y="351.86" width="2.54" height="10.03" fill="#000000" />
<rect x="165.28" y="351.86" width="2.54" height="10.03" fill="#000000" />
<rect x="200.84" y="351.86" width="2.54" height="10.03" fill="#f5f5a0" />
<rect x="43.36" y="361.89" width="2.54" height="10.03" fill="#3a9b35" />
<rect x="84" y="361.89" width="2.54" height="10.03" fill="#3a9b35" />
<rect x="104.32" y="361.89" width="2.54" height="10.03" fill="#3a9b35" />
<rect x="167.82" y="361.89" width="2.54" height="10.03" fill="#3a9b35" />
<rect x="170.36" y="361.89" width="2.54" height="10.03" fill="#3a9b35" />
<rect x="177.98" y="361.89" width="2.54" height="10.03" fill="#3a9b35" />
<rect x="183.06" y="361.89" width="2.54" height="10.03" fill="#3a9b35" />
<rect x="198.3" y="361.89" width="2.54" height="10.03" fill="#3a9b35" />
<rect x="200.84" y="361.89" width="2.54" height="10.03" fill="#3a9b35" />
<rect x="223.7" y="361.89" width="2.54" height="10.03" fill="#3a9b35" />
<rect x="226.24" y="361.89" width="2.54" height="10.03" fill="#3a9b35" />
<rect x="228.78" y="361.89" width="2.54" height="10.03" fill="#3a9b35" />
<rect x="165.28" y="361.89" width="2.54" height="10.03" fill="#000000" />
<rect x="180.52" y="361.89" width="2.54" height="10.03" fill="#000000" />
<rect x="231.32" y="361.89" width="2.54" height="10.03" fill="#000000" />
<rect x="203.38" y="361.89" width="2.54" height="10.03" fill="#3a74a5" />
<rect x="45.9" y="371.92" width="2.54" height="10.03" fill="#3a9b35" />
<rect x="48.44" y="371.92" width="2.54" height="10.03" fill="#3a9b35" />
<rect x="106.86" y="371.92" width="2.54" height="10.03" fill="#3a9b35" />
<rect x="188.14" y="371.92" width="2.54" height="10.03" fill="#3a9b35" />
<rect x="86.54" y="371.92" width="2.54" height="10.03" fill="#cd2b27" />
<rect x="175.44" y="371.92" width="2.54" height="10.03" fill="#cd2b27" />
<rect x="185.6" y="371.92" width="2.54" height="10.03" fill="#cd2b27" />
<rect x="109.4" y="371.92" width="2.54" height="10.03" fill="#3a74a5" />
<rect x="172.9" y="371.92" width="2.54" height="10.03" fill="#3a74a5" />
<rect x="223.7" y="371.92" width="2.54" height="10.03" fill="#3a74a5" />
<rect x="233.86" y="371.92" width="2.54" height="10.03" fill="#3a74a5" />
<rect x="165.28" y="371.92" width="2.54" height="10.03" fill="#000000" />
<rect x="33.2" y="381.95" width="2.54" height="10.03" fill="#3a9b35" />
<rect x="50.98" y="381.95" width="2.54" height="10.03" fill="#3a9b35" />
<rect x="111.94" y="381.95" width="2.54" height="10.03" fill="#3a9b35" />
<rect x="114.48" y="381.95" width="2.54" height="10.03" fill="#3a9b35" />
<rect x="167.82" y="381.95" width="2.54" height="10.03" fill="#3a9b35" />
<rect x="177.98" y="381.95" width="2.54" height="10.03" fill="#3a9b35" />
<rect x="226.24" y="381.95" width="2.54" height="10.03" fill="#3a9b35" />
<rect x="117.02" y="381.95" width="2.54" height="10.03" fill="#000000" />
<rect x="165.28" y="381.95" width="2.54" height="10.03" fill="#000000" />
<rect x="172.9" y="381.95" width="2.54" height="10.03" fill="#62318c" />
<rect x="53.52" y="391.98" width="2.54" height="10.03" fill="#3a9b35" />
<rect x="56.06" y="391.98" width="2.54" height="10.03" fill="#3a9b35" />
<rect x="119.56" y="391.98" width="2.54" height="10.03" fill="#3a9b35" />
<rect x="122.1" y="391.98" width="2.54" height="10.03" fill="#3a9b35" />
<rect x="177.98" y="391.98" width="2.54" height="10.03" fill="#3a9b35" />
<rect x="205.92" y="391.98" width="2.54" height="10.03" fill="#3a9b35" />
<rect x="165.28" y="391.98" width="2.54" height="10.03" fill="#000000" />
<rect x="236.4" y="391.98" width="2.54" height="10.03" fill="#000000" />
<rect x="170.36" y="391.98" width="2.54" height="10.03" fill="#ec7f2b" />
<rect x="185.6" y="391.98" width="2.54" height="10.03" fill="#cd2b27" />
<rect x="89.08" y="402.01" width="2.54" height="10.03" fill="#3a9b35" />
<rect x="119.56" y="402.01" width="2.54" height="10.03" fill="#3a9b35" />
<rect x="124.64" y="402.01" width="2.54" height="10.03" fill="#3a9b35" />
<rect x="127.18" y="402.01" width="2.54" height="10.03" fill="#3a9b35" />
<rect x="129.72" y="402.01" width="2.54" height="10.03" fill="#3a9b35" />
<rect x="132.26" y="402.01" width="2.54" height="10.03" fill="#3a9b35" />
<rect x="172.9" y="402.01" width="2.54" height="10.03" fill="#3a9b35" />
<rect x="185.6" y="402.01" width="2.54" height="10.03" fill="#3a9b35" />
<rect x="190.68" y="402.01" width="2.54" height="10.03" fill="#3a9b35" />
<rect x="208.46" y="402.01" width="2.54" height="10.03" fill="#3a9b35" />
<rect x="43.36" y="412.04" width="2.54" height="10.03" fill="#3a9b35" />
<rect x="45.9" y="412.04" width="2.54" height="10.03" fill="#3a9b35" />
<rect x="122.1" y="412.04" width="2.54" height="10.03" fill="#3a9b35" />
<rect x="165.28" y="412.04" width="2.54" height="10.03" fill="#3a9b35" />
<rect x="167.82" y="412.04" width="2.54" height="10.03" fill="#3a9b35" />
<rect x="177.98" y="412.04" width="2.54" height="10.03" fill="#3a9b35" />
<rect x="198.3" y="412.04" width="2.54" height="10.03" fill="#3a9b35" />
<rect x="188.14" y="412.04" width="2.54" height="10.03" fill="#3a74a5" />
<rect x="200.84" y="412.04" width="2.54" height="10.03" fill="#62318c" />
<rect x="33.2" y="422.07" width="2.54" height="10.03" fill="#3a9b35" />
<rect x="58.6" y="422.07" width="2.54" height="10.03" fill="#3a9b35" />
<rect x="134.8" y="422.07" width="2.54" height="10.03" fill="#3a9b35" />
<rect x="175.44" y="422.07" width="2.54" height="10.03" fill="#3a9b35" />
<rect x="203.38" y="422.07" width="2.54" height="10.03" fill="#3a9b35" />
<rect x="211" y="422.07" width="2.54" height="10.03" fill="#3a9b35" />
<rect x="238.94" y="422.07" width="2.54" height="10.03" fill="#3a9b35" />
<rect x="241.48" y="422.07" width="2.54" height="10.03" fill="#3a9b35" />
<rect x="165.28" y="422.07" width="2.54" height="10.03" fill="#000000" />
<rect x="53.52" y="432.1" width="2.54" height="10.03" fill="#3a9b35" />
<rect x="137.34" y="432.1" width="2.54" height="10.03" fill="#3a9b35" />
<rect x="172.9" y="432.1" width="2.54" height="10.03" fill="#3a9b35" />
<rect x="180.52" y="432.1" width="2.54" height="10.03" fill="#3a9b35" />
<rect x="185.6" y="432.1" width="2.54" height="10.03" fill="#3a9b35" />
<rect x="213.54" y="432.1" width="2.54" height="10.03" fill="#3a9b35" />
<rect x="244.02" y="432.1" width="2.54" height="10.03" fill="#3a9b35" />
<rect x="165.28" y="432.1" width="2.54" height="10.03" fill="#000000" />
<rect x="33.2" y="442.13" width="2.54" height="10.03" fill="#3a9b35" />
<rect x="53.52" y="442.13" width="2.54" height="10.03" fill="#3a9b35" />
<rect x="61.14" y="442.13" width="2.54" height="10.03" fill="#3a9b35" />
<rect x="170.36" y="442.13" width="2.54" height="10.03" fill="#3a9b35" />
<rect x="190.68" y="442.13" width="2.54" height="10.03" fill="#3a9b35" />
<rect x="233.86" y="442.13" width="2.54" height="10.03" fill="#3a9b35" />
<rect x="165.28" y="442.13" width="2.54" height="10.03" fill="#000000" />
<rect x="185.6" y="442.13" width="2.54" height="10.03" fill="#000000" />
<rect x="165.28" y="452.16" width="2.54" height="10.03" fill="#000000" />
<rect x="180.52" y="452.16" width="2.54" height="10.03" fill="#000000" />
<rect x="172.9" y="452.16" width="2.54" height="10.03" fill="#3a9b35" />
<rect x="190.68" y="452.16" width="2.54" height="10.03" fill="#3a9b35" />
<rect x="198.3" y="452.16" width="2.54" height="10.03" fill="#3a9b35" />
<rect x="238.94" y="452.16" width="2.54" height="10.03" fill="#3a9b35" />
<rect x="246.56" y="452.16" width="2.54" height="10.03" fill="#3a9b35" />
<rect x="249.1" y="452.16" width="2.54" height="10.03" fill="#62318c" />
<rect x="53.52" y="462.19" width="2.54" height="10.03" fill="#000000" />
<rect x="58.6" y="462.19" width="2.54" height="10.03" fill="#3a9b35" />
<rect x="119.56" y="462.19" width="2.54" height="10.03" fill="#3a9b35" />
<rect x="139.88" y="462.19" width="2.54" height="10.03" fill="#3a9b35" />
<rect x="185.6" y="462.19" width="2.54" height="10.03" fill="#3a9b35" />
<rect x="198.3" y="462.19" width="2.54" height="10.03" fill="#3a9b35" />
<rect x="216.08" y="462.19" width="2.54" height="10.03" fill="#3a9b35" />
<rect x="172.9" y="462.19" width="2.54" height="10.03" fill="#cd2b27" />
<rect x="43.36" y="472.22" width="2.54" height="10.03" fill="#cd2b27" />
<rect x="251.64" y="472.22" width="2.54" height="10.03" fill="#cd2b27" />
<rect x="53.52" y="472.22" width="2.54" height="10.03" fill="#3a74a5" />
<rect x="63.68" y="472.22" width="2.54" height="10.03" fill="#3a9b35" />
<rect x="106.86" y="472.22" width="2.54" height="10.03" fill="#3a9b35" />
<rect x="233.86" y="472.22" width="2.54" height="10.03" fill="#3a9b35" />
<rect x="165.28" y="472.22" width="2.54" height="10.03" fill="#000000" />
<rect x="213.54" y="472.22" width="2.54" height="10.03" fill="#f5f5a0" />
<rect x="53.52" y="482.25" width="2.54" height="10.03" fill="#3a9b35" />
<rect x="91.62" y="482.25" width="2.54" height="10.03" fill="#3a9b35" />
<rect x="111.94" y="482.25" width="2.54" height="10.03" fill="#3a9b35" />
<rect x="139.88" y="482.25" width="2.54" height="10.03" fill="#3a9b35" />
<rect x="177.98" y="482.25" width="2.54" height="10.03" fill="#3a9b35" />
<rect x="198.3" y="482.25" width="2.54" height="10.03" fill="#3a9b35" />
<rect x="122.1" y="482.25" width="2.54" height="10.03" fill="#ec7f2b" />
<rect x="165.28" y="482.25" width="2.54" height="10.03" fill="#000000" />
<rect x="109.4" y="492.28" width="2.54" height="10.03" fill="#3a74a5" />
<rect x="111.94" y="492.28" width="2.54" height="10.03" fill="#cd2b27" />
<rect x="134.8" y="492.28" width="2.54" height="10.03" fill="#000000" />
<rect x="165.28" y="492.28" width="2.54" height="10.03" fill="#000000" />
<rect x="142.42" y="492.28" width="2.54" height="10.03" fill="#3a9b35" />
<rect x="180.52" y="492.28" width="2.54" height="10.03" fill="#3a9b35" />
<rect x="198.3" y="492.28" width="2.54" height="10.03" fill="#3a9b35" />
<rect x="33.2" y="502.31" width="2.54" height="10.03" fill="#3a9b35" />
<rect x="43.36" y="502.31" width="2.54" height="10.03" fill="#3a9b35" />
<rect x="66.22" y="502.31" width="2.54" height="10.03" fill="#3a9b35" />
<rect x="89.08" y="502.31" width="2.54" height="10.03" fill="#3a9b35" />
<rect x="122.1" y="502.31" width="2.54" height="10.03" fill="#3a9b35" />
<rect x="53.52" y="502.31" width="2.54" height="10.03" fill="#000000" />
<rect x="165.28" y="502.31" width="2.54" height="10.03" fill="#000000" />
<rect x="45.9" y="512.34" width="2.54" height="10.03" fill="#000000" />
<rect x="165.28" y="512.34" width="2.54" height="10.03" fill="#000000" />
<rect x="53.52" y="512.34" width="2.54" height="10.03" fill="#3a9b35" />
<rect x="94.16" y="512.34" width="2.54" height="10.03" fill="#3a9b35" />
<rect x="203.38" y="512.34" width="2.54" height="10.03" fill="#3a9b35" />
<rect x="177.98" y="512.34" width="2.54" height="10.03" fill="#3a74a5" />
<rect x="213.54" y="512.34" width="2.54" height="10.03" fill="#3a74a5" />
<rect x="89.08" y="522.37" width="2.54" height="10.03" fill="#3a9b35" />
<rect x="91.62" y="522.37" width="2.54" height="10.03" fill="#3a9b35" />
<rect x="170.36" y="522.37" width="2.54" height="10.03" fill="#3a9b35" />
<rect x="172.9" y="522.37" width="2.54" height="10.03" fill="#3a9b35" />
<rect x="144.96" y="522.37" width="2.54" height="10.03" fill="#000000" />
<rect x="165.28" y="522.37" width="2.54" height="10.03" fill="#000000" />
<rect x="198.3" y="522.37" width="2.54" height="10.03" fill="#000000" />
<path d="M35.74 331.8V532.4M38.28 331.8V532.4M40.82 331.8V532.4M43.36 331.8V532.4M45.9 331.8V532.4M48.44 331.8V532.4M50.98 331.8V532.4M53.52 331.8V532.4M56.06 331.8V532.4M58.6 331.8V532.4M61.14 331.8V532.4M63.68 331.8V532.4M66.22 331.8V532.4M68.76 331.8V532.4M71.3 331.8V532.4M73.84 331.8V532.4M76.38 331.8V532.4M78.92 331.8V532.4M81.46 331.8V532.4M84 331.8V532.4M86.54 331.8V532.4M89.08 331.8V532.4M91.62 331.8V532.4M94.16 331.8V532.4M96.7 331.8V532.4M99.24 331.8V532.4M101.78 331.8V532.4M104.32 331.8V532.4M106.86 331.8V532.4M109.4 331.8V532.4M111.94 331.8V532.4M114.48 331.8V532.4M117.02 331.8V532.4M119.56 331.8V532.4M122.1 331.8V532.4M124.64 331.8V532.4M127.18 331.8V532.4M129.72 331.8V532.4M132.26 331.8V532.4M134.8 331.8V532.4M137.34 331.8V532.4M139.88 331.8V532.4M142.42 331.8V532.4M144.96 331.8V532.4M147.5 331.8V532.4M150.04 331.8V532.4M152.58 331.8V532.4M155.12 331.8V532.4M157.66 331.8V532.4M160.2 331.8V532.4M162.74 331.8V532.4M165.28 331.8V532.4M167.82 331.8V532.4M170.36 331.8V532.4M172.9 331.8V532.4M175.44 331.8V532.4M177.98 331.8V532.4M180.52 331.8V532.4M183.06 331.8V532.4M185.6 331.8V532.4M188.14 331.8V532.4M190.68 331.8V532.4M193.22 331.8V532.4M195.76 331.8V532.4M198.3 331.8V532.4M200.84 331.8V532.4M203.38 331.8V532.4M205.92 331.8V532.4M208.46 331.8V532.4M211 331.8V532.4M213.54 331.8V532.4M216.08 331.8V532.4M218.62 331.8V532.4M221.16 331.8V532.4M223.7 331.8V532.4M226.24 331.8V532.4M228.78 331.8V532.4M231.32 331.8V532.4M233.86 331.8V532.4M236.4 331.8V532.4M238.94 331.8V532.4M241.48 331.8V532.4M244.02 331.8V532.4M246.56 331.8V532.4M249.1 331.8V532.4M251.64 331.8V532.4" stroke="#fff" stroke-width="0.55" fill="none"/>
<path d="M33.2 341.83H254.18M33.2 351.86H254.18M33.2 361.89H254.18M33.2 371.92H254.18M33.2 381.95H254.18M33.2 391.98H254.18M33.2 402.01H254.18M33.2 412.04H254.18M33.2 422.07H254.18M33.2 432.1H254.18M33.2 442.13H254.18M33.2 452.16H254.18M33.2 462.19H254.18M33.2 472.22H254.18M33.2 482.25H254.18M33.2 492.28H254.18M33.2 502.31H254.18M33.2 512.34H254.18M33.2 522.37H254.18" stroke="#fff" stroke-width="0.9" fill="none"/>
<text x="31" y="339.12" font-size="6.5" font-weight="bold" font-style="italic" text-anchor="end" fill="#e0262b" >* TP53</text>
<text x="254.6" y="339.12" font-size="6.45" font-weight="normal" font-style="normal" text-anchor="start" fill="#222" >55%</text>
<text x="31" y="349.14" font-size="6.5" font-weight="bold" font-style="italic" text-anchor="end" fill="#1a1a1a" >TTN</text>
<text x="254.6" y="349.14" font-size="6.45" font-weight="normal" font-style="normal" text-anchor="start" fill="#222" >35%</text>
<text x="31" y="359.18" font-size="6.5" font-weight="bold" font-style="italic" text-anchor="end" fill="#1a1a1a" >PIK3CA</text>
<text x="254.6" y="359.18" font-size="6.45" font-weight="normal" font-style="normal" text-anchor="start" fill="#222" >28%</text>
<text x="31" y="369.2" font-size="6.5" font-weight="bold" font-style="italic" text-anchor="end" fill="#1a1a1a" >MUC16</text>
<text x="254.6" y="369.2" font-size="6.45" font-weight="normal" font-style="normal" text-anchor="start" fill="#222" >17%</text>
<text x="31" y="379.24" font-size="6.5" font-weight="bold" font-style="italic" text-anchor="end" fill="#1a1a1a" >KMT2C</text>
<text x="254.6" y="379.24" font-size="6.45" font-weight="normal" font-style="normal" text-anchor="start" fill="#222" >13%</text>
<text x="31" y="389.26" font-size="6.5" font-weight="bold" font-style="italic" text-anchor="end" fill="#1a1a1a" >FLG</text>
<text x="254.6" y="389.26" font-size="6.45" font-weight="normal" font-style="normal" text-anchor="start" fill="#222" >11%</text>
<text x="31" y="399.3" font-size="6.5" font-weight="bold" font-style="italic" text-anchor="end" fill="#1a1a1a" >SYNE1</text>
<text x="254.6" y="399.3" font-size="6.45" font-weight="normal" font-style="normal" text-anchor="start" fill="#222" >11%</text>
<text x="31" y="409.32" font-size="6.5" font-weight="bold" font-style="italic" text-anchor="end" fill="#1a1a1a" >USH2A</text>
<text x="254.6" y="409.32" font-size="6.45" font-weight="normal" font-style="normal" text-anchor="start" fill="#222" >11%</text>
<text x="31" y="419.36" font-size="6.5" font-weight="bold" font-style="italic" text-anchor="end" fill="#1a1a1a" >PKHD1L1</text>
<text x="254.6" y="419.36" font-size="6.45" font-weight="normal" font-style="normal" text-anchor="start" fill="#222" >9%</text>
<text x="31" y="429.38" font-size="6.5" font-weight="bold" font-style="italic" text-anchor="end" fill="#1a1a1a" >ZFHX4</text>
<text x="254.6" y="429.38" font-size="6.45" font-weight="normal" font-style="normal" text-anchor="start" fill="#222" >9%</text>
<text x="31" y="439.42" font-size="6.5" font-weight="bold" font-style="italic" text-anchor="end" fill="#1a1a1a" >ANK2</text>
<text x="254.6" y="439.42" font-size="6.45" font-weight="normal" font-style="normal" text-anchor="start" fill="#222" >8%</text>
<text x="31" y="449.44" font-size="6.5" font-weight="bold" font-style="italic" text-anchor="end" fill="#1a1a1a" >DST</text>
<text x="254.6" y="449.44" font-size="6.45" font-weight="normal" font-style="normal" text-anchor="start" fill="#222" >8%</text>
<text x="31" y="459.47" font-size="6.5" font-weight="bold" font-style="italic" text-anchor="end" fill="#1a1a1a" >HMCN1</text>
<text x="254.6" y="459.47" font-size="6.45" font-weight="normal" font-style="normal" text-anchor="start" fill="#222" >8%</text>
<text x="31" y="469.5" font-size="6.5" font-weight="bold" font-style="italic" text-anchor="end" fill="#1a1a1a" >MUC17</text>
<text x="254.6" y="469.5" font-size="6.45" font-weight="normal" font-style="normal" text-anchor="start" fill="#222" >8%</text>
<text x="31" y="479.54" font-size="6.5" font-weight="bold" font-style="italic" text-anchor="end" fill="#1a1a1a" >PCLO</text>
<text x="254.6" y="479.54" font-size="6.45" font-weight="normal" font-style="normal" text-anchor="start" fill="#222" >8%</text>
<text x="31" y="489.56" font-size="6.5" font-weight="bold" font-style="italic" text-anchor="end" fill="#1a1a1a" >RELN</text>
<text x="254.6" y="489.56" font-size="6.45" font-weight="normal" font-style="normal" text-anchor="start" fill="#222" >8%</text>
<text x="31" y="499.59" font-size="6.5" font-weight="bold" font-style="italic" text-anchor="end" fill="#1a1a1a" >ATRX</text>
<text x="254.6" y="499.59" font-size="6.45" font-weight="normal" font-style="normal" text-anchor="start" fill="#222" >7%</text>
<text x="31" y="509.62" font-size="6.5" font-weight="bold" font-style="italic" text-anchor="end" fill="#1a1a1a" >LRP2</text>
<text x="254.6" y="509.62" font-size="6.45" font-weight="normal" font-style="normal" text-anchor="start" fill="#222" >7%</text>
<text x="31" y="519.65" font-size="6.5" font-weight="bold" font-style="italic" text-anchor="end" fill="#1a1a1a" >MDN1</text>
<text x="254.6" y="519.65" font-size="6.45" font-weight="normal" font-style="normal" text-anchor="start" fill="#222" >7%</text>
<text x="31" y="529.68" font-size="6.5" font-weight="bold" font-style="italic" text-anchor="end" fill="#1a1a1a" >RYR2</text>
<text x="254.6" y="529.68" font-size="6.45" font-weight="normal" font-style="normal" text-anchor="start" fill="#222" >7%</text>
<rect x="273" y="332.4" width="33.55" height="8.73" fill="#3a9b35" />
<rect x="306.55" y="332.4" width="13.18" height="8.73" fill="#3a74a5" />
<rect x="319.73" y="332.4" width="4.79" height="8.73" fill="#cd2b27" />
<rect x="324.52" y="332.4" width="7.19" height="8.73" fill="#ec7f2b" />
<rect x="331.71" y="332.4" width="1.2" height="8.73" fill="#f5f5a0" />
<rect x="332.9" y="332.4" width="2.4" height="8.73" fill="#62318c" />
<rect x="273" y="342.43" width="26.36" height="8.73" fill="#3a9b35" />
<rect x="299.36" y="342.43" width="2.4" height="8.73" fill="#cd2b27" />
<rect x="301.75" y="342.43" width="10.78" height="8.73" fill="#000000" />
<rect x="273" y="352.46" width="28.75" height="8.73" fill="#3a9b35" />
<rect x="301.75" y="352.46" width="1.2" height="8.73" fill="#f5f5a0" />
<rect x="302.95" y="352.46" width="2.4" height="8.73" fill="#000000" />
<rect x="273" y="362.49" width="14.38" height="8.73" fill="#3a9b35" />
<rect x="287.38" y="362.49" width="1.2" height="8.73" fill="#3a74a5" />
<rect x="288.58" y="362.49" width="3.59" height="8.73" fill="#000000" />
<rect x="273" y="372.52" width="4.79" height="8.73" fill="#3a9b35" />
<rect x="277.79" y="372.52" width="4.79" height="8.73" fill="#3a74a5" />
<rect x="282.58" y="372.52" width="3.59" height="8.73" fill="#cd2b27" />
<rect x="286.18" y="372.52" width="1.2" height="8.73" fill="#000000" />
<rect x="273" y="382.55" width="8.39" height="8.73" fill="#3a9b35" />
<rect x="281.39" y="382.55" width="1.2" height="8.73" fill="#62318c" />
<rect x="282.58" y="382.55" width="2.4" height="8.73" fill="#000000" />
<rect x="273" y="392.58" width="7.19" height="8.73" fill="#3a9b35" />
<rect x="280.19" y="392.58" width="1.2" height="8.73" fill="#cd2b27" />
<rect x="281.39" y="392.58" width="1.2" height="8.73" fill="#ec7f2b" />
<rect x="282.58" y="392.58" width="2.4" height="8.73" fill="#000000" />
<rect x="273" y="402.61" width="11.98" height="8.73" fill="#3a9b35" />
<rect x="273" y="412.64" width="8.39" height="8.73" fill="#3a9b35" />
<rect x="281.39" y="412.64" width="1.2" height="8.73" fill="#3a74a5" />
<rect x="282.58" y="412.64" width="1.2" height="8.73" fill="#62318c" />
<rect x="273" y="422.67" width="9.58" height="8.73" fill="#3a9b35" />
<rect x="282.58" y="422.67" width="1.2" height="8.73" fill="#000000" />
<rect x="273" y="432.7" width="8.39" height="8.73" fill="#3a9b35" />
<rect x="281.39" y="432.7" width="1.2" height="8.73" fill="#000000" />
<rect x="273" y="442.73" width="7.19" height="8.73" fill="#3a9b35" />
<rect x="280.19" y="442.73" width="2.4" height="8.73" fill="#000000" />
<rect x="273" y="452.76" width="5.99" height="8.73" fill="#3a9b35" />
<rect x="278.99" y="452.76" width="1.2" height="8.73" fill="#62318c" />
<rect x="280.19" y="452.76" width="2.4" height="8.73" fill="#000000" />
<rect x="273" y="462.79" width="7.19" height="8.73" fill="#3a9b35" />
<rect x="280.19" y="462.79" width="1.2" height="8.73" fill="#cd2b27" />
<rect x="281.39" y="462.79" width="1.2" height="8.73" fill="#000000" />
<rect x="273" y="472.82" width="3.59" height="8.73" fill="#3a9b35" />
<rect x="276.59" y="472.82" width="1.2" height="8.73" fill="#3a74a5" />
<rect x="277.79" y="472.82" width="2.4" height="8.73" fill="#cd2b27" />
<rect x="280.19" y="472.82" width="1.2" height="8.73" fill="#f5f5a0" />
<rect x="281.39" y="472.82" width="1.2" height="8.73" fill="#000000" />
<rect x="273" y="482.85" width="7.19" height="8.73" fill="#3a9b35" />
<rect x="280.19" y="482.85" width="1.2" height="8.73" fill="#ec7f2b" />
<rect x="281.39" y="482.85" width="1.2" height="8.73" fill="#000000" />
<rect x="273" y="492.88" width="3.59" height="8.73" fill="#3a9b35" />
<rect x="276.59" y="492.88" width="1.2" height="8.73" fill="#3a74a5" />
<rect x="277.79" y="492.88" width="1.2" height="8.73" fill="#cd2b27" />
<rect x="278.99" y="492.88" width="2.4" height="8.73" fill="#000000" />
<rect x="273" y="502.91" width="5.99" height="8.73" fill="#3a9b35" />
<rect x="278.99" y="502.91" width="2.4" height="8.73" fill="#000000" />
<rect x="273" y="512.94" width="3.59" height="8.73" fill="#3a9b35" />
<rect x="276.59" y="512.94" width="2.4" height="8.73" fill="#3a74a5" />
<rect x="278.99" y="512.94" width="2.4" height="8.73" fill="#000000" />
<rect x="273" y="522.97" width="4.79" height="8.73" fill="#3a9b35" />
<rect x="277.79" y="522.97" width="3.59" height="8.73" fill="#000000" />
<line x1="273" y1="330.5" x2="335.3" y2="330.5" stroke="#1a1a1a" stroke-width="0.9" />
<line x1="273" y1="330.5" x2="273" y2="328.3" stroke="#1a1a1a" stroke-width="0.9" />
<line x1="335.3" y1="330.5" x2="335.3" y2="328.3" stroke="#1a1a1a" stroke-width="0.9" />
<text x="274.5" y="327.7" font-size="4.6" font-weight="normal" font-style="normal" text-anchor="start" fill="#111" transform="rotate(-90 274.5 327.7)">0</text>
<text x="336.8" y="327.7" font-size="4.6" font-weight="normal" font-style="normal" text-anchor="start" fill="#111" transform="rotate(-90 336.8 327.7)">52</text>
<text x="306" y="329.1" font-size="6.95" font-weight="normal" font-style="normal" text-anchor="start" fill="#1a1a1a" transform="rotate(-90 306 329.1)">No. of samples</text>
<rect x="9.7" y="539.7" width="7.2" height="7.2" fill="#3a9b35" stroke="#222" stroke-width="0.6"/>
<text x="25.5" y="546.1" font-size="8.5" font-weight="normal" font-style="italic" text-anchor="start" fill="#222" >Missense_Mutation</text>
<rect x="107.8" y="539.7" width="7.2" height="7.2" fill="#f5f5a0" stroke="#222" stroke-width="0.6"/>
<text x="123.6" y="546.1" font-size="8.5" font-weight="normal" font-style="italic" text-anchor="start" fill="#222" >In_Frame_Del</text>
<rect x="207.2" y="539.7" width="7.2" height="7.2" fill="#3a74a5" stroke="#222" stroke-width="0.6"/>
<text x="223" y="546.1" font-size="8.5" font-weight="normal" font-style="italic" text-anchor="start" fill="#222" >Frame_Shift_Del</text>
<rect x="9.7" y="553.4" width="7.2" height="7.2" fill="#62318c" stroke="#222" stroke-width="0.6"/>
<text x="25.5" y="559.8" font-size="8.5" font-weight="normal" font-style="italic" text-anchor="start" fill="#222" >Frame_Shift_Ins</text>
<rect x="107.8" y="553.4" width="7.2" height="7.2" fill="#cd2b27" stroke="#222" stroke-width="0.6"/>
<text x="123.6" y="559.8" font-size="8.5" font-weight="normal" font-style="italic" text-anchor="start" fill="#222" >Nonsense_Mutation</text>
<rect x="207.2" y="553.4" width="7.2" height="7.2" fill="#000000" stroke="#222" stroke-width="0.6"/>
<text x="223" y="559.8" font-size="8.5" font-weight="normal" font-style="italic" text-anchor="start" fill="#222" >Multi_Hit</text>
<rect x="9.7" y="567.1" width="7.2" height="7.2" fill="#ec7f2b" stroke="#222" stroke-width="0.6"/>
<text x="25.5" y="573.5" font-size="8.5" font-weight="normal" font-style="italic" text-anchor="start" fill="#222" >Splice_Site</text>
<text x="340.3" y="291.3" font-size="14" font-weight="normal" font-style="normal" text-anchor="start" fill="#111" >D</text>
<text x="340.3" y="303.6" font-size="6.7" font-weight="bold" font-style="normal" text-anchor="start" fill="#111" >Cluster1</text>
<rect x="348.6" y="307" width="335.2" height="70" fill="none" stroke="#cfcfcf" stroke-width="0.6"/>
<path d="M348.6 342L348.6 339.27L348.9 339.05L349.2 339.56L349.51 338.67L349.81 339.52L350.11 339.53L350.41 338.5L350.71 338.93L351.02 338.78L351.32 337.49L351.62 337.28L351.92 336.8L352.23 334.72L352.53 335.2L352.83 337.28L353.13 336.69L353.43 334.46L353.74 335.13L354.04 332.52L354.34 332.17L354.64 336.4L354.94 334.86L355.25 321.46L355.55 324.78L355.85 337.27L356.15 337.46L356.46 331.63L356.76 325.99L357.06 326.16L357.36 326.34L357.66 331.37L357.97 333.68L358.27 335.24L358.57 339.16L358.87 338.9L359.17 338.45L359.48 338.06L359.78 339.04L360.08 338.78L360.38 336.7L360.69 336.82L360.99 327.14L361.29 327.33L361.59 332.23L361.89 334.69L362.2 335.47L362.5 332.62L362.8 328.56L363.1 328.18L363.4 327.67L363.71 328.26L364.01 323.52L364.31 311.11L364.61 314.93L364.91 320.65L365.22 315.44L365.52 313.18L365.82 314.37L366.12 315.58L366.43 317.05L366.73 313.75L367.03 312.39L367.33 320.5L367.63 309.45L367.94 309.45L368.24 315.32L368.54 321.14L368.84 320.31L369.14 322.85L369.45 326.47L369.75 324.95L370.05 322.6L370.35 321.41L370.66 324.94L370.96 330.41L371.26 328.95L371.56 327.12L371.86 324.18L372.17 326.72L372.47 332.25L372.77 325.23L373.07 328.33L373.37 330.06L373.68 329.45L373.98 328.41L374.28 309.45L374.58 309.45L374.89 333.02L375.19 332.16L375.49 330.96L375.79 331.17L376.09 336.35L376.4 335.75L376.7 333.09L377 336.41L377.3 340.45L377.6 339.25L377.91 340.44L378.21 340.28L378.51 340.1L378.81 336.02L379.11 335.83L379.42 335.64L379.72 335.44L380.02 339.04L380.32 338.61L380.63 339.83L380.93 338.06L381.23 339.47L381.53 339.4L381.83 339.09L382.14 339.54L382.44 338.77L382.74 338.35L383.04 338.56L383.34 338.29L383.65 337.75L383.95 338.3L384.25 337.9L384.55 337.97L384.86 337.55L385.16 337L385.46 337.77L385.76 337.84L386.06 337.09L386.37 336.94L386.67 331.15L386.97 330.96L387.27 330.77L387.57 334.57L387.88 335.96L388.18 336.59L388.48 338.93L388.78 333.22L389.09 332.71L389.39 334.8L389.69 334.86L389.99 336.88L390.29 336.28L390.6 335.58L390.9 334L391.2 332.37L391.5 336.33L391.8 334.73L392.11 333.56L392.41 333.91L392.71 334.69L393.01 335.52L393.31 338.64L393.62 339.29L393.92 338.04L394.22 338.22L394.52 337.97L394.83 332.5L395.13 332.57L395.43 332.63L395.73 332.69L396.03 336L396.34 336.96L396.64 337.45L396.94 338.11L397.24 339.28L397.54 339.52L397.85 338.91L398.15 338.28L398.45 339.05L398.75 337.62L399.06 338.45L399.36 338.77L399.66 339.22L399.96 338.41L400.26 338.53L400.57 339.05L400.87 338.55L401.17 337.85L401.47 339.95L401.77 339.65L402.08 339.66L402.38 339.29L402.68 339.24L402.98 339.56L403.29 338.98L403.59 339.56L403.89 339.48L404.19 339.25L404.49 339.22L404.8 338.98L405.1 338.16L405.4 338.38L405.7 338.81L406 339.24L406.3 338.96L406.61 338.69L406.91 338.06L407.21 338.48L407.51 339.08L407.81 337.89L408.11 338.54L408.41 336.02L408.71 335.89L409.02 335.75L409.32 335.62L409.62 334.39L409.92 332.97L410.22 335.36L410.52 336.28L410.82 337.4L411.12 337.48L411.43 337.09L411.73 336.03L412.03 337.85L412.33 337.05L412.63 336.72L412.93 335.64L413.23 334.46L413.54 333.35L413.84 333.43L414.14 338.3L414.44 338.74L414.74 338.21L415.04 337.68L415.34 336.69L415.64 336.65L415.95 336.81L416.25 338.95L416.55 338.54L416.85 338.91L417.15 338.07L417.45 338.2L417.75 338.17L418.06 338.65L418.36 337.52L418.66 338.1L418.96 337.73L419.26 338.68L419.56 337.69L419.86 337.68L420.16 338.54L420.47 337.34L420.77 338.98L421.07 337.43L421.37 337.28L421.67 337.64L421.97 336.29L422.27 337.27L422.57 337.78L422.88 335.52L423.18 336.02L423.48 323.59L423.78 323.27L424.08 336.87L424.38 336.28L424.68 336.74L424.99 336.2L425.29 335.82L425.59 335.16L425.89 335.47L426.19 335.1L426.49 335.7L426.79 337.58L427.09 336.66L427.4 337.66L427.7 335.73L428 334.17L428.3 338.24L428.6 340.23L428.9 339.9L429.2 339.44L429.51 339.15L429.81 339.38L430.11 338.89L430.41 338.64L430.71 338.16L431.01 339.11L431.31 339.79L431.61 338.12L431.92 331.43L432.22 331.43L432.52 335.35L432.82 338.34L433.12 339.95L433.42 339.98L433.72 337.29L434.03 334.59L434.33 336.5L434.63 338.08L434.93 339.21L435.23 339.09L435.53 338.53L435.83 339.3L436.14 339.18L436.44 338.81L436.74 339.45L437.04 338.69L437.34 339.36L437.64 338.14L437.94 340.24L438.24 339.99L438.55 340.24L438.85 340.03L439.15 339.73L439.45 339.52L439.75 339.68L440.05 339.5L440.35 338.58L440.66 339.29L440.96 338.96L441.26 339.24L441.56 339.59L441.86 339.72L442.16 337.93L442.46 338.56L442.76 338.86L443.07 340.04L443.37 337.65L443.67 336.6L443.97 335.5L444.27 335.44L444.57 337.46L444.87 338.59L445.18 338.59L445.48 338.36L445.78 339.42L446.08 338.06L446.38 339.84L446.68 339.68L446.98 338.98L447.29 339.06L447.59 337.85L447.89 328.88L448.19 328.79L448.49 333.15L448.79 337.46L449.09 339.08L449.39 339.15L449.7 339.64L450 338.32L450.3 338.03L450.6 336.98L450.9 337.48L451.2 337.53L451.5 337.51L451.81 338.02L452.11 337.94L452.41 338.26L452.71 338.89L453.01 338.61L453.31 338.51L453.61 339.31L453.92 339.21L454.22 338.74L454.52 338.67L454.82 338.81L455.12 338.05L455.42 337.29L455.73 337.29L456.03 339.22L456.33 339.07L456.63 338.33L456.93 338.35L457.23 339.02L457.53 339.18L457.84 339.12L458.14 339.06L458.44 337.1L458.74 337.1L459.04 337.1L459.34 338.29L459.64 339.24L459.95 339.17L460.25 339.2L460.55 338.71L460.85 338.57L461.15 339.89L461.45 339.86L461.75 337.35L462.06 337.35L462.36 337.35L462.66 337.35L462.96 338.33L463.26 338.44L463.56 338.37L463.86 339.67L464.17 339.62L464.47 339.11L464.77 338.61L465.07 339.77L465.37 339.25L465.67 339.68L465.98 339.33L466.28 339.01L466.58 339.85L466.88 340.03L467.18 338.29L467.48 335.02L467.78 331.76L468.09 338.85L468.39 338.54L468.69 338.4L468.99 338.17L469.29 339.04L469.59 339.3L469.89 338.91L470.2 339.34L470.5 340.19L470.8 339.6L471.1 335.17L471.4 334.9L471.71 334.63L472.01 337.31L472.31 338.37L472.62 336.4L472.92 334.18L473.22 333.94L473.53 333.69L473.83 337.9L474.13 338.48L474.43 337.35L474.74 338.3L475.04 338.48L475.34 337.65L475.65 338.75L475.95 339.04L476.25 338.82L476.56 338.14L476.86 335.16L477.16 338.01L477.47 337.88L477.77 337.29L478.07 330.26L478.38 330.02L478.68 329.78L478.98 329.5L479.28 331.94L479.59 333.11L479.89 330.71L480.19 327.99L480.5 332.61L480.8 334.08L481.1 332.64L481.41 334.66L481.71 334.28L482.01 335.88L482.32 335.26L482.62 335.55L482.92 331.99L483.23 332.7L483.53 334.26L483.83 332.88L484.13 330.01L484.44 327.46L484.74 331.4L485.04 336.01L485.35 335.82L485.65 336.09L485.95 335.27L486.26 336.54L486.56 338.06L486.86 338L487.17 331.41L487.47 325.28L487.77 325.75L488.07 326.22L488.38 336.48L488.68 336L488.98 337.46L489.29 338.29L489.59 338.04L489.89 338.14L490.2 337.85L490.5 338.27L490.8 337.76L491.11 333L491.41 332.57L491.72 332.13L492.02 334.91L492.33 335.54L492.63 337.12L492.94 337.47L493.24 336.64L493.55 324.6L493.85 324L494.16 329.62L494.46 336.73L494.77 336.38L495.07 336.76L495.38 336.27L495.68 336.54L495.99 329.91L496.29 322.8L496.6 322.55L496.9 332.63L497.2 331.78L497.51 333.64L497.81 332.82L498.12 334.42L498.42 334.8L498.73 334.89L499.03 332.42L499.34 334.35L499.64 331.73L499.95 331.4L500.25 330.72L500.56 333.48L500.86 333.27L501.17 332.2L501.47 331.76L501.78 333.35L502.08 332.11L502.39 331.71L502.69 333.12L503 332.18L503.3 329.93L503.6 330.65L503.91 335L504.21 334.68L504.52 335.97L504.82 335.85L505.13 332.22L505.43 332.22L505.74 336.94L506.04 333.66L506.35 335.2L506.65 334.53L506.96 332.98L507.26 334.83L507.57 335.63L507.87 336.12L508.18 336.1L508.48 337.19L508.79 329.87L509.09 323.03L509.4 323.51L509.7 311.98L510 322.69L510.3 326.3L510.61 332.36L510.91 323.98L511.21 321.31L511.51 319.09L511.81 323.69L512.11 326.31L512.42 324.67L512.72 325.3L513.02 322.37L513.32 321.05L513.62 321.68L513.93 326.78L514.23 326.74L514.53 330.71L514.83 330.96L515.13 325.83L515.44 329.63L515.74 329.4L516.04 323.21L516.34 323.93L516.64 326.83L516.94 311.82L517.25 309.45L517.55 309.45L517.85 309.45L518.15 309.45L518.45 310.64L518.76 323.58L519.06 323.74L519.36 310.67L519.66 313.75L519.96 314.44L520.26 313.36L520.57 309.63L520.87 314.37L521.17 311.46L521.47 312.85L521.77 311.2L522.08 313.62L522.38 311.16L522.68 309.46L522.98 310.74L523.28 315.15L523.59 325.71L523.89 323.19L524.19 322.88L524.49 321.95L524.79 321.42L525.09 322.27L525.4 325.95L525.7 328.92L526 334.58L526.3 336.99L526.61 339.63L526.91 339.66L527.22 337.55L527.52 335.47L527.82 335.5L528.13 335.54L528.43 338.2L528.73 338.87L529.04 340.28L529.34 340.54L529.65 340.13L529.95 339.87L530.25 340.47L530.56 340.55L530.86 336.88L531.17 336.91L531.47 336.94L531.77 340.67L532.08 339.99L532.38 338.53L532.68 338.55L532.99 338.57L533.29 340.71L533.6 340.73L533.9 340.68L534.2 340.44L534.51 340.91L534.81 340.41L535.12 340.67L535.42 340.46L535.72 340.87L536.03 340.69L536.33 340.88L536.63 340.91L536.94 340.69L537.24 340.74L537.55 340.66L537.85 340.7L538.15 338.77L538.46 338.79L538.76 338.81L539.07 338.83L539.37 340.14L539.67 340.47L539.98 340.73L540.28 340.51L540.58 340.3L540.89 340.35L541.19 340.6L541.5 340.46L541.8 331.54L542.1 334.37L542.4 336.16L542.71 335.97L543.01 337.18L543.31 337.79L543.61 339.2L543.91 337.51L544.22 337.52L544.52 333.14L544.82 328.75L545.12 338.04L545.42 339.41L545.72 339.49L546.03 338.84L546.33 338.9L546.63 337.84L546.93 339.38L547.23 338.35L547.54 338.03L547.84 337.44L548.14 337.27L548.44 338.32L548.74 338.57L549.05 338.24L549.35 337.84L549.65 338.81L549.95 337.76L550.25 339.09L550.56 339.28L550.86 339.34L551.16 338.64L551.46 337.36L551.76 338.04L552.07 338.08L552.37 338.74L552.67 334.13L552.97 334.13L553.27 337.53L553.58 338.46L553.88 338.97L554.18 337.22L554.48 338.37L554.78 337.46L555.08 339.06L555.39 337.99L555.69 338.71L555.99 338.62L556.29 339.11L556.59 338.85L556.9 338.55L557.2 339.28L557.5 338.06L557.8 337.51L558.11 337.64L558.41 336.61L558.72 335.97L559.02 335.91L559.32 334.74L559.63 334.3L559.93 334.77L560.23 334.96L560.54 334.57L560.84 336.04L561.15 336.76L561.45 333.33L561.75 335.4L562.06 335.17L562.36 334.18L562.67 337.62L562.97 335.51L563.27 335.23L563.58 332.98L563.88 333.35L564.18 328.69L564.49 326.78L564.79 324.86L565.1 309.46L565.4 318.96L565.7 328.45L566.01 332.31L566.31 334.11L566.62 333.96L566.92 336.12L567.22 335.1L567.53 334.67L567.83 335.17L568.13 334.82L568.44 334.59L568.74 334.49L569.05 334.68L569.35 328.12L569.65 328.27L569.96 328.42L570.26 333.04L570.57 334.28L570.87 337.24L571.17 338.33L571.48 338.25L571.78 337.43L572.08 337.31L572.39 336.93L572.69 337.74L573 338.07L573.3 339.47L573.6 337.89L573.9 339.08L574.2 338.53L574.5 337.85L574.8 337.67L575.1 333.15L575.4 332.77L575.7 333.19L576 333.05L576.3 334.52L576.6 320.83L576.9 309.45L577.2 309.45L577.5 309.45L577.8 332.79L578.1 330.33L578.4 329.23L578.7 328.36L579 334.04L579.3 334.82L579.6 335.11L579.9 335L580.2 334.37L580.5 334.5L580.8 334.22L581.1 335.87L581.4 336.36L581.7 338.38L582 336.37L582.3 335.51L582.6 336.64L582.9 334.8L583.2 336.15L583.5 333.77L583.8 331.47L584.1 335.79L584.4 336.59L584.7 337.21L585 336.04L585.3 335.63L585.6 338.35L585.9 337.96L586.2 337.81L586.5 337.46L586.8 337.26L587.1 336.38L587.4 335.69L587.7 336.73L588 336.56L588.3 338.59L588.6 337.51L588.91 337.62L589.22 336.61L589.52 332.55L589.83 332.5L590.14 334.79L590.45 335.39L590.75 323.82L591.06 323.73L591.37 323.64L591.67 323.55L591.98 337.81L592.29 337.15L592.6 337.1L592.9 325.9L593.21 325.83L593.52 325.75L593.83 337.27L594.13 338.76L594.44 336.33L594.75 333.87L595.06 333.83L595.37 335.78L595.67 336.31L595.98 337.3L596.29 337.16L596.6 337.26L596.9 334.82L597.21 338.03L597.52 337.48L597.83 337.58L598.13 336.11L598.44 335.72L598.75 336.51L599.05 332.59L599.36 328.62L599.67 328.56L599.98 338.33L600.28 338.31L600.59 334.74L600.9 332.94L601.21 335.66L601.51 336.41L601.82 335.16L602.12 336.62L602.43 336.3L602.73 332.83L603.04 331.8L603.34 332.53L603.65 334.06L603.95 334.44L604.26 332.51L604.56 331.95L604.87 323.93L605.18 316.54L605.48 334.14L605.79 331.83L606.09 332.9L606.4 333.68L606.7 327.42L607.01 327.84L607.31 328.25L607.62 329.07L607.92 330.27L608.23 333.81L608.54 334.78L608.84 335.86L609.15 332.65L609.45 332.99L609.76 333.34L610.06 333.68L610.37 337.57L610.67 331.22L610.98 325.64L611.28 326.41L611.59 327.18L611.89 331.92L612.2 336.78L612.51 337.1L612.81 335.87L613.12 335.17L613.42 335.61L613.73 334.89L614.03 335.38L614.34 331.04L614.64 330.78L614.95 333.81L615.26 333.66L615.56 333.06L615.87 333.88L616.17 334.43L616.48 335.64L616.78 334.2L617.09 334.28L617.39 334.28L617.7 325.3L618.01 316.95L618.31 334.53L618.62 333.62L618.92 335.85L619.23 332.38L619.53 317.21L619.84 317.93L620.14 318.65L620.45 319.37L620.76 336.8L621.06 336.43L621.37 336.23L621.67 336.62L621.98 336.63L622.28 336.83L622.59 335.89L622.89 336.15L623.2 330.9L623.5 331.43L623.8 334.73L624.1 329.47L624.4 336.37L624.7 335.56L625 334.73L625.3 319.02L625.6 319.3L625.9 332.93L626.2 332.48L626.5 332.42L626.8 330.76L627.1 335.05L627.4 335.45L627.7 334.2L628 333.06L628.3 332.82L628.6 333.93L628.9 332L629.2 333.89L629.5 336.25L629.8 334.99L630.1 335.66L630.4 336.05L630.7 336.93L631 337.16L631.3 338.27L631.6 337.68L631.9 338.79L632.2 338.23L632.5 338.09L632.8 337.87L633.1 336.76L633.4 336.63L633.7 333.74L634.01 334.05L634.32 329.6L634.62 333.78L634.93 332.49L635.24 331.99L635.55 309.45L635.86 309.45L636.16 309.45L636.47 309.45L636.78 309.45L637.09 309.45L637.39 318.82L637.7 318.19L638.01 317.99L638.32 320.86L638.63 321.69L638.93 322.55L639.24 322.71L639.55 324.43L639.86 318.86L640.17 314.24L640.47 314.66L640.78 317.61L641.09 318.99L641.4 316.41L641.71 309.45L642.01 309.45L642.32 309.45L642.63 309.45L642.94 316.9L643.24 320.5L643.55 330.15L643.86 326.97L644.17 327.72L644.48 318.29L644.78 320.09L645.09 321.9L645.4 331.07L645.71 338.86L646.02 338.2L646.33 338.58L646.64 339.24L646.95 339.79L647.26 339.52L647.57 340.23L647.88 339.79L648.18 339.53L648.49 339.79L648.8 338.47L649.11 332.65L649.42 332.65L649.73 338.64L650.04 338.1L650.35 338.36L650.66 340.25L650.97 339.6L651.28 339.5L651.59 334.44L651.9 334.44L652.21 334.44L652.52 337.15L652.82 338.41L653.13 338.6L653.44 338.64L653.75 339.18L654.06 330.84L654.37 330.37L654.68 328.05L654.99 332.73L655.3 339.07L655.6 336.7L655.91 336.05L656.21 334.94L656.52 331.95L656.82 329.83L657.13 329.91L657.43 313.15L657.74 313.71L658.04 314.48L658.35 322.75L658.65 328.49L658.96 331.94L659.26 334.46L659.57 330.77L659.87 323.74L660.18 315.23L660.48 314.93L660.79 319.37L661.09 325.04L661.4 330.61L661.7 336.17L662 337.31L662.3 337.38L662.6 337.97L662.9 336.55L663.2 336.61L663.5 335.47L663.8 333.62L664.1 332.76L664.4 333.98L664.7 334.53L665 332.87L665.3 332.17L665.6 332.67L665.9 321.46L666.2 318.8L666.5 316.15L666.8 313.5L667.1 318.48L667.4 309.67L667.7 311.68L668 309.45L668.3 316.1L668.6 323.41L668.9 335.58L669.2 338.01L669.51 339.78L669.81 339.94L670.12 339.44L670.42 339.84L670.73 340.04L671.04 340.18L671.34 339.47L671.65 339.97L671.95 339.79L672.26 339.84L672.56 339.91L672.87 340.33L673.18 339.96L673.48 339.92L673.79 339.91L674.09 339.98L674.4 338.63L674.7 337.52L675 335.77L675.3 335.67L675.6 337.59L675.9 337.58L676.2 336.36L676.5 332.67L676.8 337.16L677.1 334.44L677.4 334.6L677.7 336.03L678 335.55L678.3 332.26L678.6 328.96L678.9 330.55L679.2 331.98L679.5 313.52L679.8 313.52L680.1 313.52L680.4 313.52L680.4 342Z" fill="#f2200f"/>
<path d="M348.6 342L348.6 371.5L348.9 373.43L349.2 372.75L349.51 371.89L349.81 359.7L350.11 364.17L350.41 361.88L350.71 357.12L351.02 359.64L351.32 356.96L351.62 349.54L351.92 350.13L352.23 350.33L352.53 347.52L352.83 347.42L353.13 348.78L353.43 346.09L353.74 346.65L354.04 347.56L354.34 347.96L354.64 345.87L354.94 346.71L355.25 346.42L355.55 346.47L355.85 346.68L356.15 347.12L356.46 350.31L356.76 350.43L357.06 351.14L357.36 350.63L357.66 350.99L357.97 351.43L358.27 348.87L358.57 349.43L358.87 347.79L359.17 347.9L359.48 347.32L359.78 347.02L360.08 347.04L360.38 345.04L360.69 344.99L360.99 344.88L361.29 344.9L361.59 344.49L361.89 344.24L362.2 344.53L362.5 344.61L362.8 344.49L363.1 344.33L363.4 344.42L363.71 343.32L364.01 343.65L364.31 343.61L364.61 343.6L364.91 343.54L365.22 343.81L365.52 343.86L365.82 343.11L366.12 343.79L366.43 343.71L366.73 343.77L367.03 343.81L367.33 344.05L367.63 343.9L367.94 343.97L368.24 343.95L368.54 343.26L368.84 343.28L369.14 343.78L369.45 343.96L369.75 343.65L370.05 343.48L370.35 343.64L370.66 343.43L370.96 343.18L371.26 343.35L371.56 343.17L371.86 343.55L372.17 343.63L372.47 343.22L372.77 343L373.07 342.83L373.37 342.81L373.68 343.19L373.98 343.09L374.28 343.09L374.58 343.14L374.89 343.08L375.19 342.9L375.49 342.96L375.79 342.96L376.09 343.02L376.4 343.11L376.7 342.81L377 344.53L377.3 345.75L377.6 349.71L377.91 353.55L378.21 354.03L378.51 354.37L378.81 354.23L379.11 346.1L379.42 346.47L379.72 345.51L380.02 346.19L380.32 345.53L380.63 347.2L380.93 347.41L381.23 346.14L381.53 346.21L381.83 346.19L382.14 346.63L382.44 346.42L382.74 345.83L383.04 346.07L383.34 345.1L383.65 345.23L383.95 345.02L384.25 344.96L384.55 345.14L384.86 344.74L385.16 344.45L385.46 345.62L385.76 347.49L386.06 348.49L386.37 349.48L386.67 345.7L386.97 348.1L387.27 348.74L387.57 348.48L387.88 345.53L388.18 346.58L388.48 348L388.78 346.89L389.09 349.35L389.39 348.84L389.69 349.06L389.99 354.39L390.29 354.15L390.6 353.91L390.9 345.23L391.2 346.6L391.5 347.45L391.8 348.25L392.11 347.62L392.41 346.79L392.71 346.87L393.01 345.18L393.31 345.67L393.62 345.64L393.92 344.99L394.22 345.97L394.52 346.76L394.83 346.36L395.13 345.38L395.43 346.05L395.73 345.79L396.03 346.04L396.34 344.12L396.64 345.2L396.94 344.03L397.24 346.47L397.54 346.17L397.85 346.15L398.15 344.68L398.45 344.8L398.75 344.43L399.06 344.26L399.36 345.58L399.66 344.87L399.96 344.06L400.26 345.29L400.57 345.49L400.87 346.53L401.17 348.93L401.47 349.54L401.77 346.94L402.08 349.68L402.38 350.57L402.68 348.26L402.98 348.96L403.29 348.79L403.59 350.24L403.89 351.6L404.19 357.28L404.49 353.95L404.8 353.43L405.1 355.29L405.4 361.59L405.7 362.24L406 356.88L406.3 349.97L406.61 347.26L406.91 348.44L407.21 350.52L407.51 351.41L407.81 352.18L408.11 351L408.41 348.92L408.71 351.72L409.02 353.8L409.32 352.83L409.62 362.32L409.92 372.49L410.22 362.2L410.52 358.79L410.82 348.53L411.12 348.49L411.43 352.94L411.73 349.35L412.03 353.65L412.33 347.49L412.63 347.42L412.93 349.69L413.23 349.09L413.54 349.33L413.84 349.03L414.14 349.68L414.44 346.66L414.74 345.41L415.04 348.27L415.34 347.17L415.64 346.66L415.95 347.1L416.25 345.26L416.55 347.75L416.85 345.16L417.15 346.88L417.45 348.29L417.75 346.65L418.06 345.41L418.36 344.69L418.66 345.03L418.96 344.72L419.26 344.08L419.56 344.85L419.86 345.05L420.16 344.57L420.47 344.57L420.77 344.9L421.07 344.01L421.37 344.21L421.67 345.35L421.97 345L422.27 345.24L422.57 344.58L422.88 344.46L423.18 343.71L423.48 344.21L423.78 344.29L424.08 343.95L424.38 344.2L424.68 345L424.99 344.68L425.29 343.94L425.59 343.75L425.89 343.67L426.19 343.9L426.49 343.93L426.79 343.91L427.09 343.84L427.4 344.72L427.7 344.38L428 344.33L428.3 345.93L428.6 345.15L428.9 346.44L429.2 345.72L429.51 345.98L429.81 345.4L430.11 345.73L430.41 345.83L430.71 346.01L431.01 345.53L431.31 344.7L431.61 344.81L431.92 346.49L432.22 348L432.52 347.98L432.82 347.96L433.12 347.94L433.42 346.2L433.72 345.73L434.03 346.79L434.33 346.41L434.63 345.95L434.93 345.73L435.23 345.99L435.53 345.49L435.83 344.86L436.14 344.91L436.44 344.66L436.74 345.4L437.04 345.03L437.34 345.24L437.64 345.23L437.94 345.63L438.24 345.84L438.55 346.03L438.85 346.23L439.15 345.84L439.45 345.87L439.75 345.73L440.05 345.07L440.35 345.25L440.66 345.64L440.96 345.06L441.26 345.95L441.56 344.89L441.86 345.49L442.16 344.72L442.46 344.41L442.76 344.78L443.07 345.48L443.37 345.3L443.67 344.47L443.97 345.03L444.27 346.15L444.57 345.84L444.87 345.38L445.18 346.24L445.48 345.51L445.78 344.86L446.08 344.86L446.38 344.58L446.68 345.06L446.98 346.08L447.29 344.06L447.59 344.31L447.89 344.89L448.19 345.18L448.49 344.52L448.79 344.56L449.09 344.65L449.39 345.05L449.7 344.47L450 344.48L450.3 344.12L450.6 344.69L450.9 345.29L451.2 345.32L451.5 344.31L451.81 343.24L452.11 343.5L452.41 343.89L452.71 344.32L453.01 344.06L453.31 344.46L453.61 343.4L453.92 343.47L454.22 344.77L454.52 344.79L454.82 344.43L455.12 344.36L455.42 344.08L455.73 344.02L456.03 344.06L456.33 344.3L456.63 344.02L456.93 344.49L457.23 344.39L457.53 343.79L457.84 343.99L458.14 344.22L458.44 346.29L458.74 348.4L459.04 348.43L459.34 344.58L459.64 343.53L459.95 344.8L460.25 344.88L460.55 344.33L460.85 344.37L461.15 344.63L461.45 344.22L461.75 345.12L462.06 344.93L462.36 343.95L462.66 343.97L462.96 344.32L463.26 344.1L463.56 344.12L463.86 344.36L464.17 345.04L464.47 345.25L464.77 344.84L465.07 344.39L465.37 346.55L465.67 346.58L465.98 346.6L466.28 345.62L466.58 345.43L466.88 345.55L467.18 344.7L467.48 345.5L467.78 344.11L468.09 344.57L468.39 345.27L468.69 345.16L468.99 344.48L469.29 345.7L469.59 344.76L469.89 344.77L470.2 344.21L470.5 344.11L470.8 344.55L471.1 343.97L471.4 343.51L471.71 344.01L472.01 343.79L472.31 344.6L472.62 344.69L472.92 344.49L473.22 344.33L473.53 344.3L473.83 345.12L474.13 344.35L474.43 344.32L474.74 344.42L475.04 344.39L475.34 344.91L475.65 346.59L475.95 345.37L476.25 344.89L476.56 346.2L476.86 346.48L477.16 347.05L477.47 345.42L477.77 349.9L478.07 350.25L478.38 351.59L478.68 350.57L478.98 352.52L479.28 353.89L479.59 356.22L479.89 355.54L480.19 354.39L480.5 352.72L480.8 350.14L481.1 352.74L481.41 352.35L481.71 351.98L482.01 349.21L482.32 351.4L482.62 347.88L482.92 349.12L483.23 349.25L483.53 349.9L483.83 349.41L484.13 351.81L484.44 350.48L484.74 348.64L485.04 347.31L485.35 346.96L485.65 347.2L485.95 347.44L486.26 345L486.56 345.5L486.86 345.09L487.17 345.31L487.47 344.54L487.77 345.31L488.07 345.17L488.38 345.15L488.68 344.33L488.98 344.63L489.29 344.14L489.59 343.86L489.89 343.94L490.2 344.26L490.5 344.23L490.8 343.38L491.11 344.62L491.41 344.63L491.72 344.44L492.02 346.73L492.33 346.77L492.63 345.29L492.94 343.31L493.24 343.79L493.55 344.62L493.85 344.12L494.16 343.58L494.46 343.36L494.77 343.98L495.07 344.77L495.38 344.3L495.68 344.47L495.99 344.35L496.29 344.15L496.6 344.29L496.9 344.64L497.2 343.46L497.51 345.15L497.81 344.81L498.12 344.53L498.42 344.12L498.73 344.06L499.03 344.89L499.34 344.25L499.64 344.16L499.95 343.85L500.25 343.58L500.56 344.59L500.86 344.58L501.17 344.22L501.47 344.48L501.78 344.8L502.08 344L502.39 345.23L502.69 345.43L503 344.81L503.3 344L503.6 344.46L503.91 344.62L504.21 343.78L504.52 350.2L504.82 350.25L505.13 350.31L505.43 348L505.74 344.35L506.04 344.23L506.35 345.46L506.65 346.29L506.96 346.39L507.26 346.71L507.57 347.99L507.87 348.87L508.18 349.2L508.48 349.94L508.79 350.97L509.09 353.56L509.4 347.87L509.7 350.69L510 354.94L510.3 353.95L510.61 354.18L510.91 356.16L511.21 354.74L511.51 354.5L511.81 360.37L512.11 364.08L512.42 361.92L512.72 355.67L513.02 347.06L513.32 346.2L513.62 353.73L513.93 351.48L514.23 349.24L514.53 343.77L514.83 343.91L515.13 343.69L515.44 343.93L515.74 344.44L516.04 344.9L516.34 345.32L516.64 345.27L516.94 345.55L517.25 345.76L517.55 345.71L517.85 344.66L518.15 344.29L518.45 344.07L518.76 343.45L519.06 343.23L519.36 343.61L519.66 343.69L519.96 343.92L520.26 343.48L520.57 343.18L520.87 343.17L521.17 342.82L521.47 343.02L521.77 342.9L522.08 342.87L522.38 343.35L522.68 343.52L522.98 343.49L523.28 343.55L523.59 342.91L523.89 342.88L524.19 343.28L524.49 343.42L524.79 342.88L525.09 342.86L525.4 343.04L525.7 343.07L526 343.64L526.3 344.49L526.61 345.31L526.91 347.23L527.22 348.51L527.52 349.96L527.82 352.69L528.13 348L528.43 345.54L528.73 346.43L529.04 344.39L529.34 344.26L529.65 344.14L529.95 343.71L530.25 343.68L530.56 344.1L530.86 344.51L531.17 343.69L531.47 344.06L531.77 343.71L532.08 343.98L532.38 345.62L532.68 347.26L532.99 343.85L533.29 344.23L533.6 343.75L533.9 344.11L534.2 344.41L534.51 343.89L534.81 345.51L535.12 345.51L535.42 345.51L535.72 344.68L536.03 344.22L536.33 344.02L536.63 343.65L536.94 343.43L537.24 343.42L537.55 343.94L537.85 343.62L538.15 344L538.46 343.6L538.76 343.38L539.07 343.91L539.37 343.66L539.67 343.73L539.98 344.62L540.28 343.68L540.58 343.88L540.89 343.96L541.19 344.29L541.5 344.45L541.8 343.46L542.1 343.94L542.4 344.92L542.71 344.4L543.01 344.84L543.31 345.09L543.61 344.73L543.91 343.78L544.22 344.39L544.52 345.13L544.82 345.14L545.12 345.16L545.42 345.26L545.72 346.52L546.03 346.06L546.33 347.28L546.63 347.72L546.93 347.41L547.23 345.85L547.54 348.26L547.84 347.91L548.14 348.46L548.44 346.43L548.74 345.58L549.05 347.22L549.35 348.2L549.65 346.75L549.95 350.17L550.25 350.43L550.56 348.4L550.86 347.5L551.16 347.51L551.46 348.22L551.76 348.59L552.07 349.66L552.37 349.89L552.67 347.29L552.97 348.22L553.27 348.72L553.58 349.96L553.88 352.68L554.18 348.43L554.48 350.21L554.78 350.52L555.08 349.32L555.39 347.03L555.69 350.63L555.99 350.2L556.29 346.88L556.59 347.07L556.9 345.94L557.2 345.83L557.5 347.11L557.8 348.71L558.11 347.04L558.41 347.74L558.72 345.59L559.02 345.26L559.32 346.95L559.63 347.42L559.93 347.4L560.23 348.85L560.54 346.85L560.84 347.77L561.15 346.55L561.45 345.95L561.75 347.95L562.06 349.68L562.36 353.45L562.67 353.77L562.97 354.08L563.27 354.39L563.58 346.62L563.88 352.54L564.18 349.42L564.49 354.53L564.79 354.67L565.1 354.02L565.4 349.75L565.7 357.34L566.01 358.91L566.31 372.12L566.62 374.55L566.92 374.55L567.22 360.06L567.53 356.48L567.83 358.6L568.13 357.34L568.44 353.91L568.74 356.48L569.05 352.84L569.35 355.61L569.65 349.23L569.96 349.17L570.26 348.91L570.57 351.46L570.87 346.05L571.17 347.68L571.48 348.27L571.78 347.57L572.08 345.05L572.39 344.77L572.69 345.84L573 345.96L573.3 346.32L573.6 346.71L573.9 346.74L574.2 346.2L574.5 345.46L574.8 345.37L575.1 344.77L575.4 345.4L575.7 345.57L576 344.16L576.3 344.76L576.6 345.51L576.9 345.06L577.2 345.4L577.5 344.86L577.8 345.21L578.1 344.81L578.4 345.13L578.7 345.86L579 345.06L579.3 345.01L579.6 345.72L579.9 344.43L580.2 344.73L580.5 345.23L580.8 345.29L581.1 345.22L581.4 345.96L581.7 345.15L582 345.11L582.3 346.35L582.6 345.25L582.9 345.63L583.2 346.13L583.5 346.13L583.8 346.38L584.1 345.61L584.4 346.39L584.7 345.67L585 346.48L585.3 346.41L585.6 345.36L585.9 344.71L586.2 344.97L586.5 346.2L586.8 346.54L587.1 345.36L587.4 344.95L587.7 345.55L588 345.02L588.3 346.82L588.6 350.1L588.91 352.74L589.22 353.85L589.52 354.49L589.83 353.74L590.14 353.1L590.45 352.49L590.75 354.36L591.06 353.41L591.37 349.33L591.67 350.04L591.98 353.11L592.29 350.29L592.6 351.11L592.9 356.48L593.21 353.54L593.52 354.15L593.83 352.54L594.13 355.99L594.44 359.1L594.75 358.75L595.06 354.63L595.37 352.26L595.67 348.87L595.98 350.14L596.29 349.45L596.6 349.33L596.9 348.88L597.21 349.64L597.52 349.47L597.83 351.07L598.13 347.24L598.44 347.91L598.75 349.52L599.05 349.73L599.36 350.14L599.67 349.83L599.98 350.23L600.28 348.53L600.59 347.87L600.9 346.65L601.21 346.6L601.51 345.75L601.82 345.56L602.12 346.38L602.43 348.53L602.73 350.69L603.04 347.69L603.34 346.52L603.65 345.96L603.95 346.04L604.26 346.44L604.56 346.23L604.87 345.76L605.18 345.7L605.48 346.18L605.79 346.71L606.09 349.39L606.4 352.07L606.7 346.9L607.01 345.51L607.31 345.79L607.62 346.91L607.92 345.2L608.23 346.19L608.54 345.88L608.84 346.97L609.15 345.07L609.45 345.91L609.76 345.94L610.06 345.8L610.37 345.44L610.67 344.92L610.98 345.94L611.28 345.93L611.59 345.56L611.89 344.48L612.2 344.78L612.51 346.33L612.81 346.86L613.12 347.65L613.42 347.79L613.73 347.95L614.03 349.36L614.34 350.06L614.64 349.28L614.95 351.96L615.26 353.15L615.56 351.69L615.87 353.37L616.17 350.21L616.48 349.63L616.78 352.72L617.09 369.84L617.39 367.25L617.7 352.77L618.01 351.67L618.31 349.32L618.62 348.04L618.92 346.73L619.23 347.56L619.53 347.53L619.84 346.1L620.14 345.87L620.45 347.42L620.76 346.1L621.06 345.89L621.37 346.59L621.67 346.14L621.98 345.49L622.28 345.72L622.59 347.27L622.89 347.05L623.2 342.62L623.5 342.78L623.8 342.83L624.1 343.22L624.4 343.14L624.7 343.04L625 343.35L625.3 343.4L625.6 343.37L625.9 343.28L626.2 343.39L626.5 343.69L626.8 343.08L627.1 343.33L627.4 343.43L627.7 343.14L628 342.85L628.3 343.85L628.6 343.23L628.9 343.54L629.2 343.73L629.5 346.31L629.8 346.39L630.1 343.15L630.4 343.08L630.7 343.61L631 343.09L631.3 343.36L631.6 343.44L631.9 343.31L632.2 343.78L632.5 343.6L632.8 344.45L633.1 343.87L633.4 344.04L633.7 346.24L634.01 345.53L634.32 344.98L634.62 346.5L634.93 345.61L635.24 345.14L635.55 344.69L635.86 344.89L636.16 345.85L636.47 346.38L636.78 345.91L637.09 345.72L637.39 346.7L637.7 346.13L638.01 346.64L638.32 344.92L638.63 345.51L638.93 344.53L639.24 345.08L639.55 346.57L639.86 345.39L640.17 344.8L640.47 344.91L640.78 345.62L641.09 345.34L641.4 344.37L641.71 345.45L642.01 345.2L642.32 344.98L642.63 345.4L642.94 345.8L643.24 345.03L643.55 345.25L643.86 345.11L644.17 344.55L644.48 344.45L644.78 344.57L645.09 344.36L645.4 347.6L645.71 346.77L646.02 347.6L646.33 349.28L646.64 348.89L646.95 346.21L647.26 350.97L647.57 355.65L647.88 347.98L648.18 347.85L648.49 346.78L648.8 346.44L649.11 348.13L649.42 349.07L649.73 349.01L650.04 347.16L650.35 346.89L650.66 351.27L650.97 351.22L651.28 351.16L651.59 351.11L651.9 347.46L652.21 347.73L652.52 348.2L652.82 347.4L653.13 346.35L653.44 345.11L653.75 352.6L654.06 352.54L654.37 352.48L654.68 352.41L654.99 348.35L655.3 345.73L655.6 346.57L655.91 346.34L656.21 348.17L656.52 348.61L656.82 345.67L657.13 347.19L657.43 349.55L657.74 348.45L658.04 348.77L658.35 348.18L658.65 348.61L658.96 353.47L659.26 358.33L659.57 358.33L659.87 355.63L660.18 352.92L660.48 347.78L660.79 347.21L661.09 346.7L661.4 347.59L661.7 345.72L662 344.13L662.3 344.34L662.6 344.13L662.9 343.27L663.2 343.56L663.5 343.76L663.8 344.54L664.1 343.93L664.4 343.7L664.7 343.46L665 343.4L665.3 343.31L665.6 343.62L665.9 343.71L666.2 343.65L666.5 343.91L666.8 343.56L667.1 343.55L667.4 343.96L667.7 344.67L668 345.37L668.3 345.37L668.6 343.47L668.9 344.04L669.2 344.37L669.51 347.13L669.81 352.64L670.12 352.64L670.42 352.64L670.73 346.33L671.04 346.38L671.34 345.64L671.65 344.34L671.95 345.36L672.26 345.9L672.56 344.94L672.87 346.07L673.18 344.54L673.48 347.2L673.79 345.97L674.09 345.27L674.4 345.68L674.7 345.73L675 345.91L675.3 345.48L675.6 346.33L675.9 347.08L676.2 346.56L676.5 347.07L676.8 346.59L677.1 347.45L677.4 347.03L677.7 347.35L678 349.07L678.3 347.31L678.6 348.04L678.9 349.38L679.2 349.13L679.5 354.61L679.8 352.11L680.1 374.55L680.4 374.55L680.4 342Z" fill="#2a5394"/>
<line x1="348.6" y1="342" x2="680.4" y2="342" stroke="#7a1c24" stroke-width="0.5" />
<path d="M377 307V377M405.4 307V377M428.3 307V377M450.6 307V377M471.1 307V377M490.5 307V377M509.7 307V377M526 307V377M541.8 307V377M557.5 307V377M573.3 307V377M588.6 307V377M600.9 307V377M612.2 307V377M623.2 307V377M633.7 307V377M645.4 307V377M655.3 307V377M661.7 307V377M669.2 307V377M674.4 307V377M680.4 307V377" stroke="#2a2a2a" stroke-width="0.7" stroke-dasharray="1.1 1.3" fill="none"/>
<text x="362.8" y="375.3" font-size="5.1" font-weight="normal" font-style="normal" text-anchor="middle" fill="#222" >chr1</text>
<text x="391.2" y="311.8" font-size="5.1" font-weight="normal" font-style="normal" text-anchor="middle" fill="#222" >chr2</text>
<text x="416.85" y="375.3" font-size="5.1" font-weight="normal" font-style="normal" text-anchor="middle" fill="#222" >chr3</text>
<text x="439.45" y="311.8" font-size="5.1" font-weight="normal" font-style="normal" text-anchor="middle" fill="#222" >chr4</text>
<text x="460.85" y="375.3" font-size="5.1" font-weight="normal" font-style="normal" text-anchor="middle" fill="#222" >chr5</text>
<text x="480.8" y="311.8" font-size="5.1" font-weight="normal" font-style="normal" text-anchor="middle" fill="#222" >chr6</text>
<text x="500.1" y="375.3" font-size="5.1" font-weight="normal" font-style="normal" text-anchor="middle" fill="#222" >chr7</text>
<text x="517.85" y="311.8" font-size="5.1" font-weight="normal" font-style="normal" text-anchor="middle" fill="#222" >chr8</text>
<text x="533.9" y="375.3" font-size="5.1" font-weight="normal" font-style="normal" text-anchor="middle" fill="#222" >chr9</text>
<text x="549.65" y="311.8" font-size="5.1" font-weight="normal" font-style="normal" text-anchor="middle" fill="#222" >chr10</text>
<text x="565.4" y="375.3" font-size="5.1" font-weight="normal" font-style="normal" text-anchor="middle" fill="#222" >chr11</text>
<text x="580.95" y="311.8" font-size="5.1" font-weight="normal" font-style="normal" text-anchor="middle" fill="#222" >chr12</text>
<text x="594.75" y="375.3" font-size="5.1" font-weight="normal" font-style="normal" text-anchor="middle" fill="#222" >chr13</text>
<text x="606.55" y="311.8" font-size="5.1" font-weight="normal" font-style="normal" text-anchor="middle" fill="#222" >chr14</text>
<text x="617.7" y="375.3" font-size="5.1" font-weight="normal" font-style="normal" text-anchor="middle" fill="#222" >chr15</text>
<text x="628.45" y="311.8" font-size="5.1" font-weight="normal" font-style="normal" text-anchor="middle" fill="#222" >chr16</text>
<text x="639.55" y="375.3" font-size="5.1" font-weight="normal" font-style="normal" text-anchor="middle" fill="#222" >chr17</text>
<text x="650.35" y="311.8" font-size="5.1" font-weight="normal" font-style="normal" text-anchor="middle" fill="#222" >chr18</text>
<text x="658.5" y="375.3" font-size="5.1" font-weight="normal" font-style="normal" text-anchor="middle" fill="#222" >chr19</text>
<text x="665.45" y="311.8" font-size="5.1" font-weight="normal" font-style="normal" text-anchor="middle" fill="#222" >chr20</text>
<text x="671.8" y="375.3" font-size="5.1" font-weight="normal" font-style="normal" text-anchor="middle" fill="#222" >chr21</text>
<text x="677.4" y="311.8" font-size="5.1" font-weight="normal" font-style="normal" text-anchor="middle" fill="#222" >chr22</text>
<text x="347.2" y="322.54" font-size="4.4" font-weight="normal" font-style="normal" text-anchor="end" fill="#333" >0.2</text>
<line x1="348" y1="321" x2="348.6" y2="321" stroke="#aaa" stroke-width="0.5" />
<text x="347.2" y="343.54" font-size="4.4" font-weight="normal" font-style="normal" text-anchor="end" fill="#333" >0.0</text>
<line x1="348" y1="342" x2="348.6" y2="342" stroke="#aaa" stroke-width="0.5" />
<text x="347.2" y="364.54" font-size="4.4" font-weight="normal" font-style="normal" text-anchor="end" fill="#333" >-0.2</text>
<line x1="348" y1="363" x2="348.6" y2="363" stroke="#aaa" stroke-width="0.5" />
<text x="338.6" y="342" font-size="4.2" font-weight="normal" font-style="normal" text-anchor="middle" fill="#222" transform="rotate(-90 338.6 342)">G-score</text>
<text x="340.3" y="392.4" font-size="6.7" font-weight="bold" font-style="normal" text-anchor="start" fill="#111" >Cluster2</text>
<rect x="348.6" y="401" width="335.2" height="69.6" fill="none" stroke="#cfcfcf" stroke-width="0.6"/>
<path d="M348.6 435.7L348.6 432.92L348.9 429.64L349.2 429.43L349.51 429.22L349.81 428.17L350.11 426.85L350.41 426.58L350.71 431.95L351.02 431.16L351.32 433.16L351.62 431.38L351.92 431.99L352.23 430.18L352.53 431.37L352.83 431.32L353.13 431.16L353.43 430.88L353.74 432.63L354.04 431.92L354.34 431.65L354.64 431.53L354.94 430.7L355.25 429.38L355.55 427.98L355.85 427.9L356.15 427.82L356.46 430.42L356.76 431.41L357.06 427.73L357.36 423.93L357.66 426.77L357.97 428.33L358.27 429.99L358.57 429.81L358.87 428.92L359.17 429.54L359.48 430.13L359.78 428.18L360.08 430.94L360.38 430.34L360.69 428.66L360.99 429.13L361.29 430.01L361.59 429.23L361.89 427.05L362.2 424.56L362.5 426.68L362.8 425.32L363.1 425.4L363.4 428.25L363.71 426.97L364.01 428.19L364.31 430.35L364.61 424.9L364.91 425.7L365.22 427.55L365.52 423.17L365.82 425.22L366.12 424.81L366.43 426.45L366.73 427.41L367.03 423.75L367.33 422.65L367.63 423.84L367.94 423.56L368.24 424.79L368.54 425.19L368.84 424.96L369.14 424.65L369.45 424.67L369.75 426.57L370.05 421.43L370.35 422.06L370.66 422.92L370.96 422.77L371.26 424.35L371.56 425.29L371.86 424.86L372.17 422.55L372.47 424.52L372.77 423.48L373.07 424.73L373.37 423.94L373.68 425.99L373.98 427.39L374.28 428.25L374.58 426.08L374.89 425.14L375.19 426.81L375.49 430.05L375.79 429.92L376.09 426.5L376.4 423.51L376.7 426.55L377 429.11L377.3 429.07L377.6 429.04L377.91 433.74L378.21 433.75L378.51 433.65L378.81 433.69L379.11 433.09L379.42 433.44L379.72 433.83L380.02 433.57L380.32 433.98L380.63 432.02L380.93 432L381.23 433L381.53 433.11L381.83 433.51L382.14 433.7L382.44 433.4L382.74 433.38L383.04 433.13L383.34 433.65L383.65 433.92L383.95 434.06L384.25 433.73L384.55 433.12L384.86 433.81L385.16 431.38L385.46 431.36L385.76 431.34L386.06 432.04L386.37 433.64L386.67 433.26L386.97 433.29L387.27 433.8L387.57 433.78L387.88 433.9L388.18 433.82L388.48 433.24L388.78 433.14L389.09 433.14L389.39 434.11L389.69 433.31L389.99 433.49L390.29 433.85L390.6 433.48L390.9 432.51L391.2 433.02L391.5 432.98L391.8 433.27L392.11 433.01L392.41 433.29L392.71 432.92L393.01 432.66L393.31 432.64L393.62 433.18L393.92 433.64L394.22 433.89L394.52 433.46L394.83 432.92L395.13 432.51L395.43 432.82L395.73 432.38L396.03 432.6L396.34 432.37L396.64 433.78L396.94 433.32L397.24 433.23L397.54 433.97L397.85 432.99L398.15 433.01L398.45 433.18L398.75 432.48L399.06 432.28L399.36 432.45L399.66 432.49L399.96 432.61L400.26 433.26L400.57 432.04L400.87 433.78L401.17 433.68L401.47 432.84L401.77 432.65L402.08 432.55L402.38 432.43L402.68 432.76L402.98 432.72L403.29 432.84L403.59 432.78L403.89 432.32L404.19 432.1L404.49 433.86L404.8 433.2L405.1 433.45L405.4 433.58L405.7 432.44L406 432.7L406.3 433.81L406.61 433.1L406.91 432L407.21 430.87L407.51 430.83L407.81 433.37L408.11 433.14L408.41 431.61L408.71 432.52L409.02 433.01L409.32 433.08L409.62 432.27L409.92 432.19L410.22 431.89L410.52 432.25L410.82 431.85L411.12 433.57L411.43 431.74L411.73 431.41L412.03 432.15L412.33 431.05L412.63 431.22L412.93 431.7L413.23 432.51L413.54 432.29L413.84 431.89L414.14 430.86L414.44 431.96L414.74 433.44L415.04 432.89L415.34 431.61L415.64 431.12L415.95 432.18L416.25 431.58L416.55 427.95L416.85 424.26L417.15 424.01L417.45 431.27L417.75 431.09L418.06 430.04L418.36 430.1L418.66 432.18L418.96 432.17L419.26 432.57L419.56 432.13L419.86 430.96L420.16 430.29L420.47 431.37L420.77 431.05L421.07 430.28L421.37 424.52L421.67 418.49L421.97 418.21L422.27 428.47L422.57 429.59L422.88 430.18L423.18 431.09L423.48 430.95L423.78 430.42L424.08 429.21L424.38 428.92L424.68 428.97L424.99 432.3L425.29 431.6L425.59 431.99L425.89 431.11L426.19 430.57L426.49 431.38L426.79 430.52L427.09 431.48L427.4 428.82L427.7 426.29L428 426.41L428.3 428.36L428.6 433.16L428.9 421.56L429.2 420.97L429.51 420.39L429.81 431.13L430.11 430.72L430.41 430.39L430.71 430.82L431.01 430.46L431.31 431.25L431.61 429.52L431.92 428.83L432.22 429.04L432.52 430.06L432.82 426.98L433.12 427.01L433.42 426.81L433.72 427.32L434.03 428.34L434.33 428.76L434.63 431.17L434.93 426.03L435.23 430.3L435.53 430.58L435.83 429.87L436.14 429.39L436.44 420.02L436.74 411.1L437.04 419.92L437.34 424.8L437.64 430.98L437.94 429.27L438.24 430.21L438.55 428.35L438.85 428.53L439.15 429.45L439.45 429.89L439.75 428.82L440.05 428.9L440.35 429.63L440.66 424.71L440.96 424.99L441.26 428.26L441.56 428.74L441.86 430.64L442.16 431.58L442.46 430.82L442.76 430.8L443.07 431.7L443.37 430.71L443.67 431.36L443.97 430.73L444.27 430.7L444.57 432.24L444.87 431.98L445.18 430.21L445.48 432.61L445.78 431.82L446.08 430.87L446.38 430.75L446.68 431.14L446.98 432.33L447.29 433.06L447.59 432.51L447.89 432.68L448.19 433.33L448.49 431.59L448.79 432.42L449.09 432.36L449.39 432.33L449.7 432.01L450 432.51L450.3 433.24L450.6 433.13L450.9 432.92L451.2 433.29L451.5 432.95L451.81 433.27L452.11 433.24L452.41 432.89L452.71 433.61L453.01 433.27L453.31 433.48L453.61 433.42L453.92 433.47L454.22 433.25L454.52 433.49L454.82 433.35L455.12 433.48L455.42 433L455.73 432.07L456.03 432.04L456.33 432.54L456.63 433.44L456.93 433.31L457.23 432.36L457.53 432.7L457.84 433.7L458.14 433.39L458.44 432.69L458.74 433.77L459.04 432.87L459.34 431.92L459.64 431.98L459.95 425.08L460.25 425.08L460.55 426.37L460.85 427.65L461.15 427.65L461.45 429.95L461.75 431.3L462.06 431.67L462.36 433.9L462.66 433.14L462.96 433.1L463.26 432.15L463.56 432.34L463.86 432.49L464.17 432.94L464.47 431.22L464.77 431.22L465.07 431.22L465.37 431.22L465.67 433.06L465.98 432.79L466.28 432.85L466.58 432.94L466.88 432.86L467.18 433.23L467.48 432.87L467.78 431.77L468.09 433.02L468.39 433.94L468.69 433.18L468.99 432.01L469.29 432.37L469.59 433.07L469.89 433.2L470.2 433.04L470.5 433.21L470.8 433.83L471.1 429.21L471.4 424.17L471.71 418.82L472.01 428.83L472.31 429.97L472.62 430.25L472.92 431.53L473.22 431.79L473.53 430.12L473.83 431.21L474.13 431.48L474.43 431.41L474.74 428.86L475.04 429.1L475.34 429.27L475.65 429.52L475.95 427.26L476.25 429.58L476.56 429.37L476.86 429.29L477.16 427.78L477.47 426.94L477.77 428.38L478.07 425.13L478.38 421.7L478.68 425.52L478.98 427.62L479.28 426.72L479.59 427.2L479.89 426.65L480.19 427.96L480.5 428.14L480.8 428.63L481.1 427.59L481.41 427.63L481.71 427.14L482.01 428.18L482.32 430.47L482.62 430.53L482.92 430.72L483.23 428.83L483.53 429.84L483.83 428.98L484.13 429.39L484.44 425.28L484.74 425.48L485.04 425.68L485.35 427.15L485.65 429.1L485.95 429.59L486.26 431.97L486.56 430.21L486.86 431.06L487.17 430.04L487.47 430.64L487.77 429.94L488.07 429.97L488.38 429.98L488.68 431.39L488.98 431.89L489.29 430.96L489.59 425.67L489.89 425.96L490.2 426.25L490.5 427.77L490.8 427.15L491.11 427.1L491.41 429.27L491.72 430.3L492.02 430.46L492.33 429.83L492.63 431.13L492.94 431.65L493.24 431.24L493.55 431.49L493.85 430.58L494.16 429.31L494.46 430.02L494.77 429.19L495.07 431.67L495.38 431.38L495.68 431.4L495.99 425.54L496.29 425.48L496.6 425.43L496.9 425.37L497.2 427.29L497.51 430.99L497.81 430.38L498.12 429.46L498.42 430.27L498.73 430.49L499.03 430.6L499.34 431.71L499.64 429.59L499.95 429.33L500.25 428.05L500.56 430.01L500.86 430.52L501.17 429.5L501.47 430.37L501.78 430.53L502.08 430.43L502.39 430.63L502.69 430.27L503 429.42L503.3 429.91L503.6 430.72L503.91 431.67L504.21 431.56L504.52 429.62L504.82 430.64L505.13 429.58L505.43 429.13L505.74 431.14L506.04 431.5L506.35 430.6L506.65 429.87L506.96 429.96L507.26 430.92L507.57 430.73L507.87 430.42L508.18 430.88L508.48 431.3L508.79 431.75L509.09 430.18L509.4 431.12L509.7 428.72L510 421.48L510.3 423.69L510.61 418.38L510.91 417.31L511.21 419.97L511.51 416.96L511.81 410.99L512.11 405.89L512.42 408.56L512.72 414.83L513.02 405.07L513.32 407.37L513.62 409.68L513.93 411.98L514.23 418.86L514.53 420.77L514.83 425.33L515.13 426.62L515.44 423.63L515.74 420.64L516.04 411.65L516.34 403.15L516.64 403.15L516.94 403.15L517.25 421.42L517.55 419.83L517.85 420.56L518.15 425.76L518.45 425.2L518.76 425.04L519.06 421.74L519.36 419.32L519.66 421.1L519.96 422.79L520.26 420.26L520.57 418.1L520.87 420.38L521.17 416.5L521.47 419.66L521.77 418.67L522.08 418.64L522.38 420.95L522.68 420.8L522.98 422.76L523.28 419.18L523.59 424.86L523.89 419.88L524.19 424.24L524.49 420.44L524.79 425.56L525.09 420.15L525.4 403.15L525.7 403.15L526 425.39L526.3 428.89L526.61 432.18L526.91 433.87L527.22 433.08L527.52 433.22L527.82 433.52L528.13 433.34L528.43 433.41L528.73 433.06L529.04 432.81L529.34 431.56L529.65 430.35L529.95 430.38L530.25 433.91L530.56 432.76L530.86 432.82L531.17 432.67L531.47 432.98L531.77 432.45L532.08 431.73L532.38 431.04L532.68 432.46L532.99 432.59L533.29 433.65L533.6 433.46L533.9 429.83L534.2 429.87L534.51 433.25L534.81 432.67L535.12 433.12L535.42 433.62L535.72 433.4L536.03 433.5L536.33 433.71L536.63 433.46L536.94 433.8L537.24 434.3L537.55 433.93L537.85 432.95L538.15 431.99L538.46 432.03L538.76 434.18L539.07 433.21L539.37 433.33L539.67 433.22L539.98 433.77L540.28 434.09L540.58 434.14L540.89 433.53L541.19 433.97L541.5 434.08L541.8 433.04L542.1 430.35L542.4 431.92L542.71 432.48L543.01 432.57L543.31 430.31L543.61 427.92L543.91 432.49L544.22 432.41L544.52 430.58L544.82 432.05L545.12 432.29L545.42 432L545.72 432.19L546.03 432.28L546.33 431.24L546.63 430.57L546.93 431.33L547.23 430.21L547.54 425.72L547.84 425.58L548.14 425.44L548.44 430.79L548.74 431.11L549.05 430.82L549.35 430.68L549.65 428.92L549.95 430.04L550.25 429.27L550.56 429.25L550.86 430.57L551.16 431.88L551.46 432.05L551.76 431.29L552.07 429.14L552.37 429.17L552.67 429.32L552.97 431.24L553.27 430.77L553.58 424.66L553.88 424.83L554.18 425L554.48 428.82L554.78 429.44L555.08 430L555.39 430.08L555.69 430.1L555.99 432.8L556.29 432.91L556.59 424.74L556.9 424.94L557.2 425.14L557.5 432.56L557.8 432.61L558.11 432.28L558.41 432.16L558.72 430.26L559.02 430.96L559.32 431.6L559.63 428.01L559.93 427.73L560.23 429.39L560.54 424.15L560.84 418.22L561.15 417.51L561.45 416.81L561.75 427.36L562.06 421.73L562.36 415.42L562.67 416.51L562.97 417.01L563.27 416.42L563.58 415.84L563.88 421.32L564.18 418.05L564.49 417.15L564.79 418.43L565.1 417.89L565.4 422.94L565.7 418.21L566.01 419L566.31 423.84L566.62 426.15L566.92 429.87L567.22 429.84L567.53 431.14L567.83 427.13L568.13 423.42L568.44 423.72L568.74 424.03L569.05 428L569.35 427.82L569.65 428.91L569.96 432.05L570.26 428.84L570.57 427.09L570.87 427.36L571.17 427.62L571.48 429.34L571.78 430.22L572.08 430.77L572.39 430.15L572.69 430.76L573 431.1L573.3 430.32L573.6 429.22L573.9 428.24L574.2 429.9L574.5 431.15L574.8 426.26L575.1 420.8L575.4 420.23L575.7 419.67L576 424.55L576.3 428.27L576.6 427.47L576.9 423.93L577.2 428.38L577.5 423.62L577.8 424.31L578.1 403.15L578.4 403.15L578.7 403.15L579 412.01L579.3 417.04L579.6 420.11L579.9 423.06L580.2 412.88L580.5 403.15L580.8 403.15L581.1 411.61L581.4 415.93L581.7 423.87L582 422.26L582.3 422.47L582.6 424.17L582.9 426.95L583.2 429.29L583.5 429.64L583.8 428.92L584.1 428.35L584.4 428.93L584.7 428.9L585 425.48L585.3 429.09L585.6 428.24L585.9 427.28L586.2 429.96L586.5 430.56L586.8 429.97L587.1 430.58L587.4 424.66L587.7 419.44L588 425.05L588.3 427.06L588.6 432.85L588.91 432.36L589.22 431.21L589.52 430.73L589.83 432.19L590.14 431.75L590.45 432.29L590.75 429.56L591.06 430.85L591.37 432.27L591.67 428.57L591.98 424.57L592.29 424.21L592.6 431.11L592.9 430.31L593.21 429.67L593.52 431.07L593.83 429.08L594.13 429.56L594.44 427.93L594.75 426.96L595.06 425.94L595.37 426.61L595.67 426.16L595.98 426.94L596.29 427.19L596.6 427.86L596.9 427.75L597.21 428.72L597.52 429.33L597.83 429.05L598.13 429.4L598.44 430.38L598.75 431.74L599.05 431.03L599.36 428.71L599.67 428.63L599.98 428.61L600.28 429.76L600.59 432.72L600.9 431.72L601.21 428.49L601.51 424.93L601.82 430.52L602.12 429.77L602.43 430.38L602.73 429.06L603.04 429.74L603.34 431.62L603.65 428.29L603.95 428.88L604.26 429.12L604.56 430.35L604.87 427.25L605.18 429.5L605.48 428.76L605.79 429.82L606.09 428.23L606.4 430.47L606.7 425.82L607.01 431.11L607.31 427.88L607.62 428.34L607.92 428.45L608.23 428.75L608.54 430.54L608.84 429.5L609.15 427.13L609.45 427.18L609.76 429.07L610.06 430.73L610.37 431.36L610.67 430.37L610.98 427.08L611.28 424.13L611.59 426.84L611.89 427.79L612.2 428.04L612.51 428.04L612.81 428.04L613.12 429.8L613.42 430.26L613.73 430L614.03 428.7L614.34 427.41L614.64 427.41L614.95 429.45L615.26 422.18L615.56 422.18L615.87 427.11L616.17 431.78L616.48 432.42L616.78 430.91L617.09 431.39L617.39 429.92L617.7 428.24L618.01 428.24L618.31 429.88L618.62 429.83L618.92 430.42L619.23 432.77L619.53 429.71L619.84 429.44L620.14 430.18L620.45 430.53L620.76 432.7L621.06 430.96L621.37 429.96L621.67 429.73L621.98 424.47L622.28 419.2L622.59 419.2L622.89 425.45L623.2 423.04L623.5 428.12L623.8 424.02L624.1 425.42L624.4 425.39L624.7 423.49L625 426.26L625.3 428.26L625.6 425.36L625.9 424.29L626.2 412.23L626.5 412.47L626.8 420.16L627.1 405.03L627.4 405.36L627.7 405.69L628 406.03L628.3 418.42L628.6 418.72L628.9 419.11L629.2 429.67L629.5 420.58L629.8 420.95L630.1 423.74L630.4 428.4L630.7 419.79L631 411.86L631.3 412.53L631.6 413.21L631.9 421.43L632.2 422.29L632.5 423.56L632.8 423.96L633.1 426.63L633.4 427.98L633.7 426.98L634.01 423.71L634.32 423.11L634.62 425.19L634.93 425.58L635.24 424.93L635.55 417.55L635.86 420.75L636.16 419.49L636.47 416.41L636.78 420.35L637.09 415.72L637.39 417.28L637.7 422.27L638.01 420.34L638.32 413.98L638.63 413.21L638.93 414.79L639.24 411.24L639.55 408.67L639.86 403.15L640.17 403.45L640.47 417.99L640.78 408.64L641.09 415.09L641.4 414.92L641.71 413.09L642.01 417.73L642.32 413.39L642.63 414.38L642.94 417.88L643.24 416.28L643.55 425.61L643.86 424.02L644.17 418.4L644.48 414.48L644.78 420.98L645.09 427.31L645.4 432.63L645.71 431.86L646.02 431.67L646.33 429.91L646.64 430.68L646.95 431.72L647.26 431.5L647.57 429.96L647.88 429.99L648.18 428.53L648.49 431.29L648.8 431.17L649.11 430.46L649.42 430.94L649.73 419.7L650.04 419.16L650.35 418.63L650.66 426.68L650.97 430.04L651.28 414.88L651.59 415.6L651.9 416.32L652.21 417.03L652.52 431.44L652.82 431.39L653.13 430.5L653.44 429.99L653.75 429.44L654.06 429.6L654.37 430.09L654.68 430.79L654.99 429.77L655.3 419.33L655.6 420.92L655.91 425.76L656.21 423.58L656.52 423.96L656.82 424.78L657.13 426.02L657.43 425.43L657.74 426.06L658.04 424.66L658.35 425.77L658.65 426.07L658.96 426.67L659.26 425.52L659.57 427.55L659.87 425.91L660.18 425.27L660.48 425.89L660.79 424.07L661.09 426.81L661.4 426.01L661.7 420.28L662 419.47L662.3 403.74L662.6 403.15L662.9 403.15L663.2 413.7L663.5 419.28L663.8 421.45L664.1 417.74L664.4 416.71L664.7 419.65L665 413.97L665.3 413.61L665.6 403.15L665.9 403.15L666.2 403.15L666.5 407.22L666.8 417.1L667.1 415.77L667.4 415.07L667.7 415.61L668 403.15L668.3 403.95L668.6 405.72L668.9 416.65L669.2 424.05L669.51 427.08L669.81 432.07L670.12 430.97L670.42 430.53L670.73 432.15L671.04 431.89L671.34 430.96L671.65 430.84L671.95 431.04L672.26 429.49L672.56 431.54L672.87 432.68L673.18 432.7L673.48 432.22L673.79 431.63L674.09 432.38L674.4 428.47L674.7 424.67L675 432.43L675.3 429.82L675.6 430.17L675.9 430.98L676.2 431.56L676.5 432.16L676.8 431.94L677.1 432.43L677.4 432.69L677.7 431.65L678 430.84L678.3 430.04L678.6 430.46L678.9 429.15L679.2 429.22L679.5 430.88L679.8 432.67L680.1 432.34L680.4 432.34L680.4 435.7Z" fill="#f2200f"/>
<path d="M348.6 435.7L348.6 447.58L348.9 450.29L349.2 452.37L349.51 451.74L349.81 445.26L350.11 444.91L350.41 446.31L350.71 443.75L351.02 442.79L351.32 442.6L351.62 443.43L351.92 443.16L352.23 443.42L352.53 440.42L352.83 439.76L353.13 440.24L353.43 441.89L353.74 440.92L354.04 445.11L354.34 445.03L354.64 444.94L354.94 444.86L355.25 441.03L355.55 440.25L355.85 439.83L356.15 440.63L356.46 440.54L356.76 439.74L357.06 438.96L357.36 438.72L357.66 438.98L357.97 438.74L358.27 440.73L358.57 439.71L358.87 438.87L359.17 439.36L359.48 438.72L359.78 440.43L360.08 437.94L360.38 438.11L360.69 438.84L360.99 438.55L361.29 437.9L361.59 437.59L361.89 437.31L362.2 437.23L362.5 436.66L362.8 437.5L363.1 437.5L363.4 437.01L363.71 436.41L364.01 436.35L364.31 436.41L364.61 436.47L364.91 436.56L365.22 436.61L365.52 436.74L365.82 436.7L366.12 436.66L366.43 436.44L366.73 436.42L367.03 436.4L367.33 436.76L367.63 436.68L367.94 436.52L368.24 436.71L368.54 436.84L368.84 436.92L369.14 436.42L369.45 436.62L369.75 436.33L370.05 436.31L370.35 436.39L370.66 436.47L370.96 436.71L371.26 436.65L371.56 436.32L371.86 436.74L372.17 436.8L372.47 436.78L372.77 436.75L373.07 436.66L373.37 437.01L373.68 436.72L373.98 436.73L374.28 436.4L374.58 436.69L374.89 436.81L375.19 436.72L375.49 436.72L375.79 436.93L376.09 436.37L376.4 436.35L376.7 436.63L377 438.69L377.3 439.49L377.6 439.29L377.91 440.52L378.21 439.46L378.51 438.25L378.81 439.82L379.11 440.93L379.42 441.52L379.72 440.68L380.02 438.52L380.32 438.9L380.63 439.76L380.93 441.16L381.23 441.54L381.53 440.18L381.83 441.77L382.14 441.08L382.44 441.91L382.74 441.91L383.04 442.32L383.34 442.16L383.65 440.78L383.95 441.52L384.25 441.69L384.55 440.65L384.86 440.24L385.16 441.77L385.46 440.88L385.76 441.96L386.06 441.39L386.37 441.65L386.67 442.64L386.97 441.65L387.27 441.83L387.57 443.04L387.88 439.47L388.18 440.04L388.48 439.87L388.78 439.91L389.09 440.91L389.39 440.07L389.69 441.02L389.99 440.73L390.29 440.92L390.6 439.93L390.9 440.85L391.2 438.9L391.5 442.53L391.8 441.56L392.11 442.13L392.41 439.4L392.71 442.43L393.01 441.9L393.31 438.82L393.62 439.49L393.92 439.75L394.22 440.54L394.52 440.32L394.83 439.72L395.13 439.82L395.43 440.48L395.73 439.09L396.03 438.62L396.34 439.16L396.64 440.09L396.94 440.72L397.24 440.61L397.54 441.88L397.85 440.98L398.15 440.71L398.45 440.57L398.75 439.56L399.06 440.19L399.36 440.77L399.66 440.46L399.96 439.43L400.26 441.5L400.57 443.51L400.87 443.45L401.17 443.4L401.47 442.03L401.77 441.29L402.08 440.08L402.38 439.77L402.68 439.93L402.98 440.23L403.29 438.48L403.59 438.26L403.89 439.09L404.19 439.81L404.49 440.16L404.8 440.79L405.1 439.64L405.4 439.38L405.7 438.75L406 438.67L406.3 439.11L406.61 439.18L406.91 438.93L407.21 438.37L407.51 439.98L407.81 439.75L408.11 438.86L408.41 438.67L408.71 440.82L409.02 440L409.32 439.8L409.62 440.04L409.92 438.33L410.22 441.47L410.52 440.68L410.82 439.95L411.12 438.99L411.43 438.71L411.73 439.22L412.03 439.97L412.33 439.58L412.63 439.45L412.93 441.93L413.23 444.47L413.54 444.53L413.84 441.61L414.14 441.68L414.44 441.71L414.74 442.11L415.04 441.55L415.34 440.94L415.64 440.11L415.95 440.56L416.25 438.89L416.55 439.22L416.85 438.8L417.15 439.61L417.45 438.95L417.75 438.85L418.06 439.99L418.36 439.66L418.66 440.77L418.96 440.03L419.26 438.63L419.56 439.6L419.86 438.87L420.16 441.26L420.47 441.16L420.77 442.11L421.07 442.93L421.37 437.87L421.67 439.51L421.97 441.05L422.27 439.85L422.57 439.38L422.88 438.61L423.18 437.66L423.48 438.26L423.78 439.1L424.08 438.98L424.38 439.09L424.68 438.46L424.99 438.06L425.29 438.41L425.59 438.04L425.89 437.78L426.19 437.9L426.49 438.18L426.79 437.94L427.09 437.29L427.4 437.14L427.7 437.35L428 437.86L428.3 440.35L428.6 440.04L428.9 440.06L429.2 443.56L429.51 443.63L429.81 443.69L430.11 440.57L430.41 440.68L430.71 440.1L431.01 439.32L431.31 439.75L431.61 439.3L431.92 439.79L432.22 440.39L432.52 439.52L432.82 439.43L433.12 438.89L433.42 440.09L433.72 447.16L434.03 447.25L434.33 447.33L434.63 447.41L434.93 439.29L435.23 441.03L435.53 442L435.83 440.89L436.14 439.75L436.44 438.92L436.74 439.79L437.04 439.74L437.34 440.75L437.64 441.53L437.94 441.11L438.24 442.37L438.55 440.82L438.85 439.9L439.15 440.89L439.45 441.77L439.75 441.4L440.05 442.44L440.35 441.38L440.66 441.99L440.96 442.39L441.26 442.5L441.56 442.31L441.86 439.63L442.16 439.78L442.46 439.66L442.76 441.59L443.07 440.37L443.37 441.66L443.67 446.07L443.97 446.13L444.27 446.19L444.57 446.25L444.87 441.31L445.18 441.64L445.48 442.24L445.78 440.98L446.08 440.87L446.38 442.65L446.68 443.42L446.98 443.95L447.29 444.23L447.59 443.48L447.89 440.76L448.19 441.94L448.49 442.47L448.79 449.75L449.09 457.72L449.39 442.87L449.7 447.75L450 454.56L450.3 462.11L450.6 443.84L450.9 437.68L451.2 438.63L451.5 438.24L451.81 438.2L452.11 438.45L452.41 438.75L452.71 438.67L453.01 438.41L453.31 437.98L453.61 439.34L453.92 438.91L454.22 439.01L454.52 438.87L454.82 438.27L455.12 438.66L455.42 438.51L455.73 439.05L456.03 439.8L456.33 438.9L456.63 438.28L456.93 438.21L457.23 439.25L457.53 439.09L457.84 439.2L458.14 438.7L458.44 439.35L458.74 439.6L459.04 439.2L459.34 439.39L459.64 439.01L459.95 439L460.25 438.98L460.55 439.43L460.85 439.48L461.15 438.2L461.45 438.92L461.75 438.5L462.06 438.71L462.36 438.99L462.66 440.02L462.96 439.65L463.26 439.61L463.56 439.7L463.86 439.58L464.17 439.6L464.47 438.26L464.77 438.99L465.07 438.81L465.37 439.53L465.67 439.92L465.98 439.61L466.28 441.28L466.58 442.98L466.88 443.01L467.18 439.62L467.48 439.26L467.78 439.42L468.09 439.32L468.39 438.15L468.69 440.52L468.99 439L469.29 438.72L469.59 439.4L469.89 440.56L470.2 439.83L470.5 439.67L470.8 438.63L471.1 437.22L471.4 437.37L471.71 437.33L472.01 437.83L472.31 437.94L472.62 438.92L472.92 438.66L473.22 439.43L473.53 439.17L473.83 439.57L474.13 439.04L474.43 438.35L474.74 440.36L475.04 438.81L475.34 438.75L475.65 440.6L475.95 439.99L476.25 439.15L476.56 439.68L476.86 440.72L477.16 440.92L477.47 441.27L477.77 442.7L478.07 441.94L478.38 442.83L478.68 442.05L478.98 442.49L479.28 444.54L479.59 448.52L479.89 448.81L480.19 444.87L480.5 444.92L480.8 446.69L481.1 444.97L481.41 445.36L481.71 444.95L482.01 445.11L482.32 446.73L482.62 450.21L482.92 448.77L483.23 453.07L483.53 452.82L483.83 452.57L484.13 448.28L484.44 446.11L484.74 444.94L485.04 445.75L485.35 447.45L485.65 446.14L485.95 443.96L486.26 443.16L486.56 444.8L486.86 440.27L487.17 440.63L487.47 441.9L487.77 440.78L488.07 441.33L488.38 440.75L488.68 440.85L488.98 440.22L489.29 439.57L489.59 438.82L489.89 440.12L490.2 439.66L490.5 438.7L490.8 438.41L491.11 439.28L491.41 439.46L491.72 440.23L492.02 441.02L492.33 441.05L492.63 441.08L492.94 438.26L493.24 438.34L493.55 438.95L493.85 438.03L494.16 437.92L494.46 438.24L494.77 439.13L495.07 438.99L495.38 438.99L495.68 439.44L495.99 439.27L496.29 438.9L496.6 442.59L496.9 442.63L497.2 440.73L497.51 440.05L497.81 439.32L498.12 439.4L498.42 439.78L498.73 440.13L499.03 438.29L499.34 439.8L499.64 439.26L499.95 438.97L500.25 439.3L500.56 439.71L500.86 439.47L501.17 439.94L501.47 438.48L501.78 438.98L502.08 439.48L502.39 440.14L502.69 439.38L503 439.79L503.3 439.65L503.6 438.22L503.91 440.06L504.21 439.9L504.52 440.21L504.82 440.02L505.13 439.37L505.43 440.16L505.74 439.97L506.04 439.23L506.35 438.54L506.65 439.37L506.96 439.5L507.26 439.53L507.57 439.96L507.87 439.14L508.18 438.47L508.48 440.26L508.79 440.26L509.09 440.51L509.4 440.51L509.7 442.86L510 446.07L510.3 445.21L510.61 444.88L510.91 442.07L511.21 443.05L511.51 442.25L511.81 441.51L512.11 440.76L512.42 442.1L512.72 441.64L513.02 440.57L513.32 439.58L513.62 438.33L513.93 438.41L514.23 438.13L514.53 437.41L514.83 436.9L515.13 436.82L515.44 436.63L515.74 436.49L516.04 436.49L516.34 436.51L516.64 436.76L516.94 436.79L517.25 436.6L517.55 437.11L517.85 437.62L518.15 437.62L518.45 437.62L518.76 436.7L519.06 436.57L519.36 436.73L519.66 436.3L519.96 436.65L520.26 436.56L520.57 436.77L520.87 436.68L521.17 436.46L521.47 436.79L521.77 436.71L522.08 436.79L522.38 436.68L522.68 436.6L522.98 436.89L523.28 436.79L523.59 436.99L523.89 436.9L524.19 436.47L524.49 437.04L524.79 437.61L525.09 437.22L525.4 436.52L525.7 436.93L526 439.26L526.3 440.51L526.61 441.07L526.91 443.49L527.22 445.42L527.52 446.33L527.82 446.26L528.13 445.53L528.43 445.43L528.73 443.98L529.04 443.79L529.34 441.81L529.65 446.15L529.95 449.08L530.25 447.68L530.56 446.27L530.86 443.44L531.17 441.01L531.47 439.07L531.77 438.57L532.08 439.61L532.38 439.65L532.68 439.97L532.99 439.98L533.29 438.53L533.6 438.55L533.9 438.57L534.2 439.26L534.51 439.56L534.81 438.97L535.12 438.47L535.42 439.87L535.72 440.08L536.03 440.21L536.33 439.58L536.63 437.93L536.94 438.6L537.24 439.25L537.55 439.17L537.85 438.88L538.15 439.5L538.46 439.45L538.76 439.56L539.07 438.42L539.37 438.09L539.67 437.94L539.98 440.39L540.28 440.35L540.58 440.31L540.89 439.49L541.19 438.63L541.5 438.34L541.8 438.49L542.1 440.19L542.4 439.84L542.71 439.93L543.01 439.37L543.31 440.25L543.61 439.64L543.91 439.16L544.22 438.9L544.52 438.55L544.82 439.8L545.12 439.46L545.42 438.7L545.72 440.68L546.03 439.25L546.33 446.85L546.63 447.02L546.93 447.18L547.23 447.35L547.54 444.13L547.84 441.74L548.14 441.62L548.44 442.04L548.74 442.33L549.05 440.92L549.35 441.13L549.65 440.65L549.95 441.15L550.25 440.69L550.56 440.25L550.86 440.59L551.16 442.02L551.46 441.33L551.76 440.56L552.07 449.44L552.37 449.24L552.67 445.28L552.97 442.77L553.27 438.68L553.58 440.44L553.88 440.32L554.18 440.49L554.48 440.8L554.78 440.28L555.08 441.23L555.39 444.03L555.69 446.65L555.99 440.62L556.29 438.59L556.59 439.09L556.9 440.26L557.2 439.45L557.5 441.11L557.8 441.11L558.11 439L558.41 439.36L558.72 440.32L559.02 441.88L559.32 441.82L559.63 442.78L559.93 443.86L560.23 442.92L560.54 442.76L560.84 443.59L561.15 444.53L561.45 444.3L561.75 445.07L562.06 445.21L562.36 444.01L562.67 445.75L562.97 444.2L563.27 445.42L563.58 444.44L563.88 444.99L564.18 447.66L564.49 447.97L564.79 459.43L565.1 468.25L565.4 468.25L565.7 468.25L566.01 457.83L566.31 453.06L566.62 455.59L566.92 456.85L567.22 458L567.53 453.77L567.83 452.19L568.13 447.53L568.44 451.82L568.74 449.22L569.05 443.48L569.35 444.18L569.65 444.63L569.96 443.3L570.26 443.23L570.57 440.64L570.87 442.63L571.17 440.16L571.48 443.05L571.78 440.58L572.08 440.59L572.39 440.13L572.69 439.9L573 438.74L573.3 438.09L573.6 439.41L573.9 438.72L574.2 441.85L574.5 445.24L574.8 445.49L575.1 445.74L575.4 442.82L575.7 441.58L576 441.53L576.3 444.04L576.6 444.23L576.9 443.51L577.2 442.42L577.5 441.95L577.8 441.48L578.1 441.44L578.4 440.59L578.7 440.89L579 443.82L579.3 444.62L579.6 445.6L579.9 445.78L580.2 445.96L580.5 446.04L580.8 446.22L581.1 440.65L581.4 441.9L581.7 439.77L582 440.36L582.3 442.41L582.6 441.4L582.9 441.77L583.2 441.59L583.5 442.41L583.8 439.57L584.1 441.16L584.4 441.51L584.7 441.47L585 440.65L585.3 440.18L585.6 440.62L585.9 440.97L586.2 439.37L586.5 439.67L586.8 439.71L587.1 439.32L587.4 439.08L587.7 440.48L588 440.63L588.3 440.85L588.6 443.34L588.91 443.44L589.22 442.73L589.52 443.11L589.83 440.39L590.14 441.48L590.45 441.83L590.75 442.2L591.06 439.74L591.37 443.89L591.67 442.32L591.98 454.95L592.29 455.22L592.6 455.5L592.9 444.52L593.21 444.33L593.52 444.13L593.83 445.11L594.13 444.74L594.44 445.08L594.75 442.76L595.06 442.62L595.37 442.48L595.67 445.28L595.98 443.85L596.29 442.48L596.6 442.66L596.9 441.8L597.21 441.79L597.52 441.29L597.83 441.65L598.13 441.53L598.44 443.42L598.75 445.08L599.05 444.84L599.36 444.61L599.67 443.49L599.98 441.56L600.28 440.72L600.59 439.78L600.9 438.08L601.21 440.03L601.51 441.98L601.82 439.6L602.12 438.74L602.43 437.75L602.73 437.88L603.04 437.82L603.34 438.37L603.65 440.55L603.95 442.73L604.26 438.75L604.56 438.85L604.87 438.46L605.18 441.83L605.48 441.83L605.79 439.76L606.09 439.18L606.4 439.43L606.7 438.68L607.01 439.18L607.31 438.97L607.62 438.31L607.92 442.36L608.23 442.36L608.54 442.36L608.84 440.88L609.15 440.05L609.45 439.78L609.76 438.55L610.06 439.31L610.37 438.57L610.67 438.09L610.98 437.81L611.28 438.31L611.59 438.88L611.89 438.67L612.2 439.04L612.51 438.59L612.81 439.26L613.12 439.29L613.42 438.7L613.73 439.24L614.03 439.39L614.34 439.38L614.64 441.1L614.95 441.1L615.26 438.69L615.56 438.78L615.87 439.63L616.17 438.09L616.48 438.42L616.78 438.87L617.09 439.2L617.39 438.88L617.7 440.31L618.01 440.31L618.31 440.31L618.62 440.31L618.92 439.02L619.23 438.85L619.53 439.06L619.84 438.79L620.14 438.75L620.45 439.63L620.76 440.5L621.06 440.5L621.37 440.5L621.67 439.77L621.98 439.52L622.28 438.86L622.59 438.93L622.89 438.67L623.2 436.38L623.5 437.45L623.8 437.5L624.1 437.55L624.4 436.99L624.7 437.06L625 437.07L625.3 436.77L625.6 436.76L625.9 436.61L626.2 436.87L626.5 437.88L626.8 437.92L627.1 437.97L627.4 437.43L627.7 437.35L628 436.92L628.3 436.95L628.6 436.93L628.9 437.14L629.2 436.97L629.5 436.83L629.8 437.57L630.1 437.24L630.4 437.08L630.7 436.94L631 436.91L631.3 437.28L631.6 437.44L631.9 437.9L632.2 437.64L632.5 437.73L632.8 439.83L633.1 439.9L633.4 439.96L633.7 443.02L634.01 445.78L634.32 443.7L634.62 442.96L634.93 442.55L635.24 444.79L635.55 447.14L635.86 449.17L636.16 445.51L636.47 443L636.78 444.16L637.09 440.15L637.39 440.8L637.7 442.64L638.01 443.03L638.32 443.14L638.63 442.17L638.93 440.81L639.24 440.5L639.55 440.9L639.86 441.07L640.17 445.48L640.47 445.21L640.78 441.18L641.09 440.56L641.4 439.65L641.71 441.95L642.01 441.27L642.32 439.99L642.63 439.06L642.94 438.38L643.24 439.35L643.55 439.83L643.86 440.13L644.17 437.85L644.48 438.74L644.78 438.51L645.09 438.78L645.4 440.19L645.71 440.27L646.02 440.7L646.33 439.23L646.64 438.59L646.95 441.82L647.26 441.5L647.57 441.02L647.88 439.29L648.18 442.75L648.49 442.7L648.8 442.65L649.11 438.59L649.42 439.16L649.73 441.57L650.04 440.74L650.35 440.13L650.66 439.83L650.97 439.54L651.28 439.28L651.59 439.2L651.9 439.66L652.21 439.69L652.52 439.37L652.82 438.3L653.13 440.83L653.44 440.44L653.75 439.4L654.06 439.93L654.37 441.05L654.68 439.75L654.99 439.53L655.3 440.64L655.6 441.98L655.91 441.48L656.21 439.11L656.52 440.52L656.82 440.35L657.13 441.32L657.43 440.63L657.74 439.52L658.04 440.51L658.35 439.59L658.65 439.24L658.96 439.32L659.26 440.04L659.57 438.43L659.87 438.81L660.18 439.05L660.48 438.84L660.79 440.53L661.09 439.17L661.4 440.66L661.7 437.53L662 437.12L662.3 437.22L662.6 437.06L662.9 437.24L663.2 437.24L663.5 437.22L663.8 437.52L664.1 437.63L664.4 437.81L664.7 437.15L665 437.37L665.3 437.34L665.6 437.35L665.9 437.35L666.2 437.51L666.5 437.72L666.8 437.57L667.1 437.31L667.4 437.28L667.7 437.33L668 437.43L668.3 438.32L668.6 437.06L668.9 437.12L669.2 436.94L669.51 436.85L669.81 436.85L670.12 436.5L670.42 436.71L670.73 436.79L671.04 436.78L671.34 436.37L671.65 436.59L671.95 436.29L672.26 436.51L672.56 436.55L672.87 436.7L673.18 436.63L673.48 436.74L673.79 436.48L674.09 436.92L674.4 437.98L674.7 437.93L675 437.78L675.3 438.17L675.6 437.1L675.9 436.96L676.2 437.26L676.5 437.64L676.8 437.93L677.1 437.96L677.4 437.8L677.7 437.84L678 437.83L678.3 437.7L678.6 437.67L678.9 437.01L679.2 437.29L679.5 437.92L679.8 438.44L680.1 438.96L680.4 438.96L680.4 435.7Z" fill="#2a5394"/>
<line x1="348.6" y1="435.7" x2="680.4" y2="435.7" stroke="#7a1c24" stroke-width="0.5" />
<path d="M377 401V470.6M405.4 401V470.6M428.3 401V470.6M450.6 401V470.6M471.1 401V470.6M490.5 401V470.6M509.7 401V470.6M526 401V470.6M541.8 401V470.6M557.5 401V470.6M573.3 401V470.6M588.6 401V470.6M600.9 401V470.6M612.2 401V470.6M623.2 401V470.6M633.7 401V470.6M645.4 401V470.6M655.3 401V470.6M661.7 401V470.6M669.2 401V470.6M674.4 401V470.6M680.4 401V470.6" stroke="#2a2a2a" stroke-width="0.7" stroke-dasharray="1.1 1.3" fill="none"/>
<text x="362.8" y="469.8" font-size="5.1" font-weight="normal" font-style="normal" text-anchor="middle" fill="#222" >chr1</text>
<text x="391.2" y="406.6" font-size="5.1" font-weight="normal" font-style="normal" text-anchor="middle" fill="#222" >chr2</text>
<text x="416.85" y="469.8" font-size="5.1" font-weight="normal" font-style="normal" text-anchor="middle" fill="#222" >chr3</text>
<text x="439.45" y="406.6" font-size="5.1" font-weight="normal" font-style="normal" text-anchor="middle" fill="#222" >chr4</text>
<text x="460.85" y="469.8" font-size="5.1" font-weight="normal" font-style="normal" text-anchor="middle" fill="#222" >chr5</text>
<text x="480.8" y="406.6" font-size="5.1" font-weight="normal" font-style="normal" text-anchor="middle" fill="#222" >chr6</text>
<text x="500.1" y="469.8" font-size="5.1" font-weight="normal" font-style="normal" text-anchor="middle" fill="#222" >chr7</text>
<text x="517.85" y="406.6" font-size="5.1" font-weight="normal" font-style="normal" text-anchor="middle" fill="#222" >chr8</text>
<text x="533.9" y="469.8" font-size="5.1" font-weight="normal" font-style="normal" text-anchor="middle" fill="#222" >chr9</text>
<text x="549.65" y="406.6" font-size="5.1" font-weight="normal" font-style="normal" text-anchor="middle" fill="#222" >chr10</text>
<text x="565.4" y="469.8" font-size="5.1" font-weight="normal" font-style="normal" text-anchor="middle" fill="#222" >chr11</text>
<text x="580.95" y="406.6" font-size="5.1" font-weight="normal" font-style="normal" text-anchor="middle" fill="#222" >chr12</text>
<text x="594.75" y="469.8" font-size="5.1" font-weight="normal" font-style="normal" text-anchor="middle" fill="#222" >chr13</text>
<text x="606.55" y="406.6" font-size="5.1" font-weight="normal" font-style="normal" text-anchor="middle" fill="#222" >chr14</text>
<text x="617.7" y="469.8" font-size="5.1" font-weight="normal" font-style="normal" text-anchor="middle" fill="#222" >chr15</text>
<text x="628.45" y="406.6" font-size="5.1" font-weight="normal" font-style="normal" text-anchor="middle" fill="#222" >chr16</text>
<text x="639.55" y="469.8" font-size="5.1" font-weight="normal" font-style="normal" text-anchor="middle" fill="#222" >chr17</text>
<text x="650.35" y="406.6" font-size="5.1" font-weight="normal" font-style="normal" text-anchor="middle" fill="#222" >chr18</text>
<text x="658.5" y="469.8" font-size="5.1" font-weight="normal" font-style="normal" text-anchor="middle" fill="#222" >chr19</text>
<text x="665.45" y="406.6" font-size="5.1" font-weight="normal" font-style="normal" text-anchor="middle" fill="#222" >chr20</text>
<text x="671.8" y="469.8" font-size="5.1" font-weight="normal" font-style="normal" text-anchor="middle" fill="#222" >chr21</text>
<text x="677.4" y="406.6" font-size="5.1" font-weight="normal" font-style="normal" text-anchor="middle" fill="#222" >chr22</text>
<text x="347.2" y="416.24" font-size="4.4" font-weight="normal" font-style="normal" text-anchor="end" fill="#333" >0.2</text>
<line x1="348" y1="414.7" x2="348.6" y2="414.7" stroke="#aaa" stroke-width="0.5" />
<text x="347.2" y="437.24" font-size="4.4" font-weight="normal" font-style="normal" text-anchor="end" fill="#333" >0.0</text>
<line x1="348" y1="435.7" x2="348.6" y2="435.7" stroke="#aaa" stroke-width="0.5" />
<text x="347.2" y="458.24" font-size="4.4" font-weight="normal" font-style="normal" text-anchor="end" fill="#333" >-0.2</text>
<line x1="348" y1="456.7" x2="348.6" y2="456.7" stroke="#aaa" stroke-width="0.5" />
<text x="338.6" y="435.8" font-size="4.2" font-weight="normal" font-style="normal" text-anchor="middle" fill="#222" transform="rotate(-90 338.6 435.8)">G-score</text>
<text x="340.3" y="488.2" font-size="6.7" font-weight="bold" font-style="normal" text-anchor="start" fill="#111" >Cluster3</text>
<rect x="348.6" y="496.5" width="335.2" height="69.1" fill="none" stroke="#cfcfcf" stroke-width="0.6"/>
<path d="M348.6 531L348.6 526.39L348.9 525.03L349.2 526.74L349.51 526.74L349.81 525.9L350.11 523.25L350.41 520.43L350.71 521.57L351.02 524.84L351.32 525.16L351.62 524.07L351.92 522.18L352.23 524.95L352.53 525.31L352.83 521.24L353.13 522.43L353.43 523.48L353.74 524.88L354.04 523.23L354.34 522.7L354.64 522.42L354.94 522.74L355.25 522.45L355.55 523.52L355.85 523.37L356.15 519.34L356.46 519.27L356.76 522.36L357.06 523.05L357.36 521.05L357.66 522.55L357.97 519.59L358.27 519.37L358.57 516.38L358.87 518.3L359.17 521.32L359.48 519.11L359.78 516.34L360.08 513.79L360.38 520.98L360.69 512.74L360.99 512.99L361.29 516.57L361.59 515.17L361.89 502.82L362.2 501.44L362.5 500.55L362.8 502.45L363.1 500.26L363.4 502.15L363.71 499.5L364.01 499.5L364.31 502.66L364.61 499.5L364.91 501.52L365.22 499.75L365.52 499.5L365.82 500.65L366.12 500.92L366.43 500.03L366.73 501.85L367.03 499.5L367.33 502L367.63 499.5L367.94 501.35L368.24 500.83L368.54 500.32L368.84 502.48L369.14 501.9L369.45 500.48L369.75 499.99L370.05 499.5L370.35 499.5L370.66 502.42L370.96 499.5L371.26 501.89L371.56 499.5L371.86 500.72L372.17 499.5L372.47 499.5L372.77 501.92L373.07 502.65L373.37 501.17L373.68 499.5L373.98 501.77L374.28 499.76L374.58 500.42L374.89 500.58L375.19 499.5L375.49 501.38L375.79 499.5L376.09 499.5L376.4 499.5L376.7 499.52L377 518.46L377.3 519.93L377.6 523.44L377.91 520.1L378.21 517.3L378.51 504.03L378.81 502.62L379.11 521.36L379.42 520.1L379.72 516.6L380.02 518.27L380.32 516.94L380.63 516.22L380.93 516L381.23 510.76L381.53 517.68L381.83 514.86L382.14 508.53L382.44 510.57L382.74 511.32L383.04 508.37L383.34 509.66L383.65 513.95L383.95 515.48L384.25 510.43L384.55 505.56L384.86 512.06L385.16 514.92L385.46 523.49L385.76 519.5L386.06 518.9L386.37 516.15L386.67 520.27L386.97 520.48L387.27 521.13L387.57 522.5L387.88 523.25L388.18 523.43L388.48 521.13L388.78 520.35L389.09 524.36L389.39 523.56L389.69 523.4L389.99 521.31L390.29 516.02L390.6 510.91L390.9 511.07L391.2 517.86L391.5 523.01L391.8 523.51L392.11 523.85L392.41 524.4L392.71 523.85L393.01 524.86L393.31 524.64L393.62 522.19L393.92 521.89L394.22 526.14L394.52 524.89L394.83 523.86L395.13 525.52L395.43 524.8L395.73 522.54L396.03 525.15L396.34 524.57L396.64 523.81L396.94 524.03L397.24 522.47L397.54 521.75L397.85 518.46L398.15 516.8L398.45 517.66L398.75 517.51L399.06 507.27L399.36 507.03L399.66 506.8L399.96 516.34L400.26 513.62L400.57 516.86L400.87 516.08L401.17 514.65L401.47 516.72L401.77 512.39L402.08 512.81L402.38 513.03L402.68 511.49L402.98 515.73L403.29 516.29L403.59 517.58L403.89 514.03L404.19 516.39L404.49 519.4L404.8 518.83L405.1 517.44L405.4 520.73L405.7 522.45L406 520.1L406.3 517.85L406.61 524.46L406.91 523.71L407.21 520.53L407.51 522.47L407.81 518.68L408.11 523.33L408.41 523.82L408.71 518.54L409.02 519.32L409.32 520.21L409.62 521.9L409.92 517.63L410.22 513.16L410.52 512.97L410.82 512.77L411.12 520.76L411.43 516.58L411.73 518.19L412.03 516.05L412.33 517.64L412.63 518.1L412.93 509.29L413.23 499.5L413.54 499.5L413.84 508.39L414.14 517.2L414.44 512.61L414.74 510.04L415.04 515.06L415.34 514.05L415.64 510.67L415.95 515.72L416.25 510.61L416.55 508.54L416.85 503.06L417.15 500.34L417.45 502.98L417.75 499.96L418.06 501.63L418.36 499.5L418.66 499.5L418.96 499.5L419.26 499.5L419.56 500.16L419.86 499.5L420.16 502.74L420.47 500.28L420.77 503.22L421.07 500.23L421.37 499.62L421.67 501.98L421.97 499.5L422.27 501.2L422.57 502.5L422.88 502.52L423.18 500.26L423.48 501.4L423.78 503.38L424.08 501.86L424.38 499.5L424.68 500.88L424.99 499.64L425.29 501.15L425.59 503.24L425.89 500.06L426.19 502.42L426.49 502.94L426.79 500.03L427.09 499.69L427.4 504.21L427.7 499.76L428 505.7L428.3 517.01L428.6 512.62L428.9 505.37L429.2 518.21L429.51 512.56L429.81 508.81L430.11 512.9L430.41 514.82L430.71 504.67L431.01 511.26L431.31 506.67L431.61 506.03L431.92 504.33L432.22 506.04L432.52 505.97L432.82 503.64L433.12 507.31L433.42 506.13L433.72 507.23L434.03 503.56L434.33 507.46L434.63 516.16L434.93 514.59L435.23 509.83L435.53 512.13L435.83 516.49L436.14 515.48L436.44 515L436.74 515.53L437.04 519.02L437.34 519.11L437.64 518.85L437.94 519.35L438.24 521.34L438.55 520.98L438.85 518.67L439.15 519.99L439.45 522.12L439.75 521.96L440.05 524L440.35 522.18L440.66 523.2L440.96 522.44L441.26 523.4L441.56 522.88L441.86 516.76L442.16 518.97L442.46 519.85L442.76 521.26L443.07 520.38L443.37 520.78L443.67 519.57L443.97 522.24L444.27 520.54L444.57 521.29L444.87 524.06L445.18 524.37L445.48 519.68L445.78 523.5L446.08 523.27L446.38 522.6L446.68 521.15L446.98 520.84L447.29 522.19L447.59 523.52L447.89 520.37L448.19 517.6L448.49 521.69L448.79 525.2L449.09 523.89L449.39 526.53L449.7 522.7L450 522.9L450.3 524.92L450.6 521.22L450.9 517.86L451.2 518.19L451.5 522.53L451.81 526.59L452.11 527.45L452.41 525.53L452.71 523.64L453.01 523.85L453.31 524.07L453.61 524.29L453.92 526.39L454.22 527.08L454.52 526.87L454.82 527.54L455.12 527.53L455.42 528.44L455.73 526.8L456.03 528.7L456.33 528.35L456.63 527.91L456.93 528.05L457.23 528.14L457.53 528.63L457.84 527.54L458.14 528.23L458.44 528.47L458.74 528.48L459.04 528.99L459.34 528.66L459.64 527.8L459.95 527.95L460.25 528.1L460.55 528.86L460.85 529.44L461.15 529.35L461.45 529.56L461.75 529.76L462.06 529.69L462.36 529.92L462.66 530.01L462.96 530.07L463.26 529.88L463.56 529.7L463.86 530.18L464.17 529.87L464.47 529.33L464.77 530.07L465.07 529.98L465.37 529.83L465.67 529.36L465.98 528.95L466.28 528.83L466.58 529.34L466.88 529.07L467.18 528.96L467.48 529.08L467.78 528.95L468.09 529.14L468.39 528.79L468.69 527.59L468.99 527.94L469.29 527.3L469.59 527.93L469.89 527.19L470.2 526.92L470.5 525.21L470.8 523.14L471.1 506.32L471.4 505.29L471.71 520.06L472.01 520.32L472.31 517.57L472.62 508.87L472.92 511.02L473.22 514.72L473.53 512.78L473.83 509.02L474.13 508.04L474.43 512.79L474.74 513.1L475.04 515L475.34 502.62L475.65 512.86L475.95 499.7L476.25 504.85L476.56 502.58L476.86 504.06L477.16 501.7L477.47 502.62L477.77 499.5L478.07 501.25L478.38 506.63L478.68 508.6L478.98 506L479.28 511.83L479.59 509.45L479.89 512.26L480.19 509.08L480.5 519.12L480.8 517.26L481.1 512.11L481.41 514.75L481.71 512.8L482.01 509.37L482.32 516.33L482.62 517.15L482.92 512.2L483.23 514.98L483.53 511.99L483.83 511L484.13 515.39L484.44 512.07L484.74 516.07L485.04 516.58L485.35 513.97L485.65 512.52L485.95 512.4L486.26 503.76L486.56 499.5L486.86 506.05L487.17 512.65L487.47 516.75L487.77 517.49L488.07 510.2L488.38 514.95L488.68 511.61L488.98 516.26L489.29 516.85L489.59 517.01L489.89 514.81L490.2 515.74L490.5 512.56L490.8 512.27L491.11 511.98L491.41 514.41L491.72 516.91L492.02 517.77L492.33 517.33L492.63 514.08L492.94 515.75L493.24 515.77L493.55 515.27L493.85 517.34L494.16 515.36L494.46 519.61L494.77 512.02L495.07 516.24L495.38 518.61L495.68 519.53L495.99 519.94L496.29 516.18L496.6 519.4L496.9 514.84L497.2 514.51L497.51 513.6L497.81 511.84L498.12 511.48L498.42 516.17L498.73 514.49L499.03 513.07L499.34 513.45L499.64 511.63L499.95 512.77L500.25 513.09L500.56 515.32L500.86 516.93L501.17 509L501.47 510.5L501.78 513.75L502.08 514.27L502.39 512.08L502.69 513.33L503 518.83L503.3 518.13L503.6 514.75L503.91 514.98L504.21 513.73L504.52 517.53L504.82 519.49L505.13 501.63L505.43 502.17L505.74 502.71L506.04 503.25L506.35 522.01L506.65 521.5L506.96 522.68L507.26 522.09L507.57 519.25L507.87 519.08L508.18 519.59L508.48 521.05L508.79 522.68L509.09 522.5L509.4 522.22L509.7 519.81L510 519.01L510.3 517.63L510.61 516.31L510.91 512.85L511.21 514.34L511.51 514.32L511.81 511.12L512.11 514.52L512.42 515.74L512.72 514.56L513.02 517.17L513.32 518.81L513.62 513.74L513.93 506.07L514.23 506.93L514.53 510.32L514.83 516.17L515.13 508.5L515.44 509.24L515.74 501.76L516.04 505.58L516.34 503.18L516.64 504.09L516.94 503.39L517.25 499.5L517.55 499.5L517.85 502.21L518.15 501.51L518.45 499.5L518.76 499.5L519.06 499.5L519.36 502.05L519.66 499.5L519.96 499.5L520.26 500.7L520.57 501.43L520.87 499.5L521.17 499.5L521.47 499.5L521.77 500.92L522.08 502.66L522.38 499.5L522.68 499.5L522.98 500.75L523.28 502.36L523.59 503.53L523.89 505.76L524.19 501.11L524.49 502.69L524.79 504.77L525.09 507.09L525.4 517.64L525.7 517.26L526 522.4L526.3 523.66L526.61 524.84L526.91 524.6L527.22 524.52L527.52 527.61L527.82 528.07L528.13 527.11L528.43 524.71L528.73 524.64L529.04 524.56L529.34 526.27L529.65 526.72L529.95 527.62L530.25 528.2L530.56 526.89L530.86 527.52L531.17 528.43L531.47 528.16L531.77 528.02L532.08 527.15L532.38 527.61L532.68 527.61L532.99 528.14L533.29 528.21L533.6 527.13L533.9 527.38L534.2 527.54L534.51 526.88L534.81 527.11L535.12 527.34L535.42 525.78L535.72 526.24L536.03 526.34L536.33 525.73L536.63 525.93L536.94 526.94L537.24 526.98L537.55 526L537.85 527.91L538.15 527.02L538.46 528.06L538.76 527.03L539.07 526.84L539.37 526.34L539.67 526.14L539.98 526.1L540.28 525.61L540.58 525.99L540.89 525.64L541.19 520.24L541.5 520.16L541.8 499.5L542.1 499.5L542.4 510.22L542.71 521.23L543.01 516.83L543.31 519.7L543.61 514.38L543.91 516.01L544.22 514.66L544.52 514.49L544.82 517.97L545.12 517.5L545.42 516.37L545.72 517.66L546.03 518.65L546.33 519.94L546.63 515.84L546.93 517.89L547.23 517.63L547.54 515.51L547.84 513.23L548.14 513.53L548.44 513.82L548.74 514.63L549.05 515.71L549.35 510.18L549.65 514.63L549.95 514.26L550.25 512.93L550.56 511.16L550.86 511.02L551.16 510.12L551.46 514.75L551.76 504.45L552.07 499.5L552.37 499.5L552.67 510.8L552.97 514.5L553.27 515.26L553.58 517.07L553.88 514.59L554.18 513.76L554.48 511.69L554.78 512.54L555.08 515.16L555.39 520.06L555.69 522.88L555.99 522.68L556.29 522.12L556.59 523.31L556.9 520.66L557.2 523.33L557.5 523.97L557.8 522.27L558.11 519.74L558.41 516.57L558.72 523.48L559.02 517.03L559.32 517.87L559.63 516.03L559.93 515.09L560.23 519.58L560.54 507.66L560.84 506.81L561.15 516.4L561.45 519.1L561.75 499.5L562.06 499.5L562.36 499.5L562.67 499.5L562.97 505.23L563.27 508.76L563.58 507.57L563.88 515.58L564.18 513.79L564.49 512.53L564.79 511.79L565.1 503.2L565.4 504.69L565.7 508.54L566.01 519.66L566.31 517.6L566.62 517.35L566.92 520.97L567.22 521.82L567.53 519.02L567.83 519.05L568.13 517.71L568.44 520.84L568.74 518.9L569.05 517.71L569.35 524.06L569.65 518.17L569.96 511.71L570.26 511.88L570.57 522.66L570.87 517.39L571.17 517.57L571.48 521.16L571.78 520.08L572.08 514.82L572.39 514.97L572.69 515.12L573 518.59L573.3 515.85L573.6 507.31L573.9 499.5L574.2 509.96L574.5 514.04L574.8 515.76L575.1 506.62L575.4 499.5L575.7 499.5L576 512.11L576.3 509.96L576.6 509.12L576.9 515.23L577.2 514.33L577.5 513.79L577.8 509.9L578.1 512.81L578.4 513.13L578.7 512.64L579 507.86L579.3 508.66L579.6 506.77L579.9 510.84L580.2 513L580.5 516.14L580.8 516.32L581.1 514.68L581.4 508.69L581.7 504.29L582 509.36L582.3 515.75L582.6 522.43L582.9 521.64L583.2 520.29L583.5 507.98L583.8 508.17L584.1 508.36L584.4 508.56L584.7 521.31L585 518.63L585.3 522.3L585.6 520.75L585.9 519.75L586.2 524.19L586.5 515.08L586.8 515.22L587.1 521.9L587.4 517.36L587.7 517.64L588 518.71L588.3 515.83L588.6 513.13L588.91 512.23L589.22 511.34L589.52 519.91L589.83 514.17L590.14 507.5L590.45 506.56L590.75 505.62L591.06 517.86L591.37 514.42L591.67 516.27L591.98 518.88L592.29 517.86L592.6 513.81L592.9 511.39L593.21 509.79L593.52 518.04L593.83 512.73L594.13 511.92L594.44 519.31L594.75 518.63L595.06 516.84L595.37 510.65L595.67 509.33L595.98 517.15L596.29 511.06L596.6 519.11L596.9 516.73L597.21 511.89L597.52 512.88L597.83 513.72L598.13 514.63L598.44 520.73L598.75 520.65L599.05 520.86L599.36 522.31L599.67 516.8L599.98 520.51L600.28 520.88L600.59 518.03L600.9 508.41L601.21 507.59L601.51 506.78L601.82 508.45L602.12 514.41L602.43 513.16L602.73 511.67L603.04 514.05L603.34 512.84L603.65 515.57L603.95 505.48L604.26 499.5L604.56 499.5L604.87 508.43L605.18 507.16L605.48 505.4L605.79 501.93L606.09 503.56L606.4 500.81L606.7 510.02L607.01 506.23L607.31 504.64L607.62 503.68L607.92 502.05L608.23 513.16L608.54 505.18L608.84 504.64L609.15 517.05L609.45 505.64L609.76 506.69L610.06 508.13L610.37 499.5L610.67 499.5L610.98 499.5L611.28 508.95L611.59 520.91L611.89 511.63L612.2 519.37L612.51 520.87L612.81 524.16L613.12 522.29L613.42 518.53L613.73 516.86L614.03 512.79L614.34 508.2L614.64 507.67L614.95 515.67L615.26 512.15L615.56 511.74L615.87 511.33L616.17 515.36L616.48 515.52L616.78 515.12L617.09 513.4L617.39 513.9L617.7 518.24L618.01 518.3L618.31 517L618.62 516.49L618.92 516.01L619.23 515.12L619.53 518.39L619.84 518.17L620.14 520.51L620.45 517.36L620.76 517.67L621.06 517.93L621.37 511.06L621.67 511.54L621.98 520.86L622.28 523.72L622.59 524.03L622.89 517.83L623.2 521.89L623.5 521.3L623.8 510.19L624.1 499.5L624.4 517.98L624.7 517.62L625 507.18L625.3 499.5L625.6 499.5L625.9 509.13L626.2 505.95L626.5 502.47L626.8 506.01L627.1 510.73L627.4 513.14L627.7 514.42L628 510.98L628.3 515.7L628.6 513.3L628.9 505.25L629.2 505.93L629.5 506.61L629.8 521.61L630.1 519.9L630.4 513.58L630.7 515.37L631 522.28L631.3 520.44L631.6 520.15L631.9 519.52L632.2 517.47L632.5 518.32L632.8 519.7L633.1 519.31L633.4 524.36L633.7 522.76L634.01 521.22L634.32 520.48L634.62 520.38L634.93 519.67L635.24 517.47L635.55 499.5L635.86 499.5L636.16 499.5L636.47 499.5L636.78 500.39L637.09 502.04L637.39 499.8L637.7 499.5L638.01 499.72L638.32 501.38L638.63 500.28L638.93 501.95L639.24 499.5L639.55 501.79L639.86 500.27L640.17 502.36L640.47 499.5L640.78 501.84L641.09 499.5L641.4 499.5L641.71 500.38L642.01 501.14L642.32 499.52L642.63 501.4L642.94 503.7L643.24 499.51L643.55 499.5L643.86 499.5L644.17 510.23L644.48 511.37L644.78 513.13L645.09 512.35L645.4 519.05L645.71 520.64L646.02 521.16L646.33 517.67L646.64 517.38L646.95 512.17L647.26 511.82L647.57 510.79L647.88 517.35L648.18 514.4L648.49 516.01L648.8 519.08L649.11 518.28L649.42 508.42L649.73 515.02L650.04 517.74L650.35 512.81L650.66 508.11L650.97 515.87L651.28 504.5L651.59 504.58L651.9 507.67L652.21 513.04L652.52 510.85L652.82 502.62L653.13 503.29L653.44 503.96L653.75 511.76L654.06 512.47L654.37 513.36L654.68 514.55L654.99 520.64L655.3 519.05L655.6 511.04L655.91 509.22L656.21 505.6L656.52 504.3L656.82 510.73L657.13 501.11L657.43 505.95L657.74 511.92L658.04 509.4L658.35 504.01L658.65 514.44L658.96 516.89L659.26 503.37L659.57 511.65L659.87 509.85L660.18 511.47L660.48 504.39L660.79 513.91L661.09 500.92L661.4 506.16L661.7 506.31L662 511.58L662.3 510.33L662.6 512.65L662.9 511.93L663.2 509.32L663.5 510.74L663.8 507.28L664.1 511.7L664.4 515L664.7 504.15L665 504.74L665.3 501.74L665.6 500.37L665.9 502.57L666.2 501.24L666.5 502.54L666.8 502.36L667.1 506.92L667.4 503.04L667.7 499.5L668 499.5L668.3 515.2L668.6 516.13L668.9 512.54L669.2 515.91L669.51 515.6L669.81 513.58L670.12 513.64L670.42 517.44L670.73 519.56L671.04 513.16L671.34 506.76L671.65 506.76L671.95 509.29L672.26 518.34L672.56 515.69L672.87 505.36L673.18 505.36L673.48 521.83L673.79 519.72L674.09 515.59L674.4 516.05L674.7 511.68L675 517.81L675.3 513.96L675.6 515.69L675.9 514.14L676.2 515.53L676.5 511.01L676.8 513L677.1 512.86L677.4 511.73L677.7 516.44L678 513.26L678.3 512.81L678.6 510.22L678.9 509.44L679.2 510.48L679.5 515.74L679.8 512.68L680.1 512.11L680.4 512.11L680.4 531Z" fill="#f2200f"/>
<path d="M348.6 531L348.6 552.45L348.9 548.21L349.2 547.03L349.51 550.98L349.81 552.68L350.11 545.13L350.41 550.07L350.71 550.48L351.02 545.92L351.32 545.77L351.62 542.82L351.92 538.46L352.23 540.81L352.53 539.57L352.83 542.64L353.13 541.27L353.43 541.51L353.74 536.6L354.04 536.97L354.34 535.36L354.64 536.84L354.94 536.72L355.25 538.09L355.55 537.91L355.85 537.74L356.15 536.62L356.46 536.22L356.76 535.88L357.06 535.64L357.36 534.67L357.66 534.45L357.97 535.72L358.27 536.23L358.57 536.76L358.87 535.46L359.17 534.62L359.48 534.57L359.78 534.16L360.08 533.96L360.38 535.44L360.69 534.25L360.99 533.2L361.29 533.6L361.59 533.27L361.89 533.26L362.2 532.81L362.5 533.04L362.8 532.95L363.1 532.86L363.4 533.22L363.71 533.03L364.01 533.33L364.31 532.83L364.61 533.12L364.91 532.49L365.22 533.58L365.52 532.96L365.82 532.89L366.12 533.08L366.43 532.79L366.73 533.17L367.03 532.66L367.33 532.8L367.63 533.13L367.94 533.54L368.24 533.94L368.54 533.94L368.84 533.94L369.14 532.46L369.45 532.38L369.75 532.58L370.05 532.52L370.35 532.3L370.66 532.2L370.96 533.24L371.26 533.35L371.56 533.19L371.86 532.98L372.17 532.96L372.47 532.7L372.77 532.26L373.07 532.65L373.37 534.85L373.68 534.85L373.98 534.85L374.28 534.85L374.58 532.85L374.89 533L375.19 533.5L375.49 534.01L375.79 534.01L376.09 533.54L376.4 533.16L376.7 532.38L377 532.99L377.3 532.2L377.6 533.14L377.91 534.84L378.21 534.88L378.51 534.92L378.81 532.27L379.11 532.32L379.42 532.29L379.72 533L380.02 533.18L380.32 532.71L380.63 533.96L380.93 533.71L381.23 533.74L381.53 533.3L381.83 532.99L382.14 533.14L382.44 533.37L382.74 533.61L383.04 534.13L383.34 532.74L383.65 533.18L383.95 533.92L384.25 534.9L384.55 534.93L384.86 534.96L385.16 535L385.46 533.55L385.76 533.94L386.06 533.35L386.37 533.17L386.67 533.67L386.97 533.68L387.27 533.34L387.57 532.69L387.88 533.23L388.18 533.59L388.48 533.88L388.78 533.1L389.09 532.93L389.39 533.19L389.69 534.28L389.99 535.4L390.29 535.43L390.6 535.46L390.9 532.74L391.2 533.66L391.5 534.09L391.8 532.84L392.11 533.06L392.41 534.86L392.71 536.7L393.01 534.54L393.31 532.98L393.62 533.25L393.92 533.55L394.22 534.12L394.52 534.11L394.83 534.16L395.13 534.33L395.43 534.22L395.73 534.32L396.03 533.71L396.34 533.94L396.64 534.44L396.94 534.08L397.24 535.1L397.54 534.68L397.85 534.71L398.15 534.59L398.45 534.11L398.75 533.84L399.06 534.63L399.36 534.15L399.66 534.93L399.96 535.12L400.26 535.37L400.57 534.8L400.87 534.99L401.17 534.57L401.47 534.09L401.77 534.42L402.08 534.01L402.38 535.81L402.68 535.31L402.98 535.64L403.29 535.76L403.59 535.55L403.89 536.11L404.19 535.76L404.49 535.64L404.8 535.86L405.1 535.63L405.4 538.44L405.7 541.48L406 540.01L406.3 542.59L406.61 541.21L406.91 541.19L407.21 542.32L407.51 541.78L407.81 544.78L408.11 544.32L408.41 539.69L408.71 545.14L409.02 546.81L409.32 545.25L409.62 551.77L409.92 558.93L410.22 559.57L410.52 551.89L410.82 551.76L411.12 547.37L411.43 547.14L411.73 546.49L412.03 542.62L412.33 549.39L412.63 551.22L412.93 548.08L413.23 549.05L413.54 546.47L413.84 545.06L414.14 556.01L414.44 555.12L414.74 554.23L415.04 553.33L415.34 544.51L415.64 542.21L415.95 540.85L416.25 539.06L416.55 537.8L416.85 540.14L417.15 542.54L417.45 540.24L417.75 542.57L418.06 542.01L418.36 541.76L418.66 545.92L418.96 545.61L419.26 545.3L419.56 536.93L419.86 540.52L420.16 538.75L420.47 538.13L420.77 537.93L421.07 535.35L421.37 537.73L421.67 539.94L421.97 537.78L422.27 537.2L422.57 538.2L422.88 536.51L423.18 537.99L423.48 535.42L423.78 536.75L424.08 538.17L424.38 537.14L424.68 535.95L424.99 535.98L425.29 536.57L425.59 535.41L425.89 534.57L426.19 535.57L426.49 535.88L426.79 535.77L427.09 534.21L427.4 533.27L427.7 533.22L428 533.52L428.3 534.55L428.6 535.06L428.9 539.64L429.2 539.94L429.51 540.24L429.81 536.08L430.11 536.38L430.41 536.32L430.71 535.62L431.01 535.3L431.31 536.25L431.61 537.76L431.92 537.03L432.22 538.54L432.52 537.91L432.82 539.48L433.12 539.22L433.42 537.91L433.72 538.93L434.03 539.39L434.33 538.42L434.63 542.07L434.93 542.13L435.23 538.28L435.53 539.74L435.83 540.44L436.14 540.31L436.44 539.25L436.74 538.9L437.04 538.56L437.34 540.01L437.64 540.52L437.94 543.22L438.24 543.59L438.55 541L438.85 542.84L439.15 542.41L439.45 540.47L439.75 540.77L440.05 540.75L440.35 547.65L440.66 544.22L440.96 544.94L441.26 545.9L441.56 543.21L441.86 541.75L442.16 544.07L442.46 547.76L442.76 544.85L443.07 543.96L443.37 547.91L443.67 545.4L443.97 553.66L444.27 553.15L444.57 548.34L444.87 544.96L445.18 548.2L445.48 548.64L445.78 547.89L446.08 555.6L446.38 553.87L446.68 545.11L446.98 549.68L447.29 551.94L447.59 556.89L447.89 550.54L448.19 552.57L448.49 548.95L448.79 553.42L449.09 560.44L449.39 559.91L449.7 558.91L450 554.26L450.3 555.07L450.6 545.9L450.9 542.08L451.2 535.28L451.5 535.55L451.81 538.67L452.11 539.14L452.41 539.07L452.71 541.55L453.01 541.61L453.31 536.81L453.61 536.97L453.92 538.91L454.22 538.9L454.52 538.96L454.82 540.88L455.12 537.91L455.42 538.09L455.73 541.48L456.03 545.53L456.33 546.31L456.63 540.86L456.93 544.26L457.23 542.39L457.53 546.74L457.84 551.58L458.14 552.07L458.44 551.09L458.74 549.51L459.04 548.45L459.34 549.21L459.64 546.45L459.95 544.49L460.25 543.57L460.55 543.63L460.85 552.04L461.15 551.66L461.45 551.27L461.75 546.91L462.06 545.13L462.36 543.25L462.66 539.99L462.96 542.26L463.26 540.57L463.56 542.29L463.86 541.45L464.17 542.2L464.47 543.62L464.77 543.47L465.07 537.49L465.37 541.53L465.67 540.01L465.98 536.95L466.28 539.6L466.58 538.77L466.88 541.55L467.18 540.42L467.48 540.62L467.78 537.97L468.09 538.22L468.39 539.32L468.69 539.08L468.99 538.08L469.29 539.7L469.59 539.96L469.89 540.5L470.2 537.26L470.5 540.34L470.8 538.51L471.1 535.14L471.4 534.73L471.71 535.72L472.01 535.14L472.31 536.28L472.62 536.88L472.92 534.2L473.22 536.41L473.53 537.4L473.83 536.82L474.13 536.47L474.43 536.13L474.74 535.94L475.04 536.05L475.34 542.27L475.65 542.63L475.95 540.24L476.25 538.49L476.56 541.52L476.86 540.23L477.16 541.41L477.47 536.17L477.77 538.24L478.07 539.98L478.38 542.33L478.68 540.61L478.98 538.66L479.28 542.11L479.59 542.67L479.89 540.43L480.19 541.95L480.5 541.4L480.8 547.55L481.1 539.1L481.41 540.79L481.71 542.81L482.01 547.86L482.32 545.65L482.62 543.81L482.92 545.98L483.23 543.77L483.53 543.24L483.83 547.05L484.13 548.32L484.44 547.58L484.74 550.23L485.04 552.09L485.35 550.67L485.65 555.42L485.95 552.56L486.26 555.59L486.56 551.73L486.86 548.37L487.17 552.71L487.47 553.4L487.77 555.9L488.07 556.46L488.38 551.72L488.68 549.5L488.98 544.74L489.29 552.74L489.59 550.23L489.89 544.09L490.2 541.66L490.5 534.23L490.8 535.1L491.11 536.58L491.41 537.36L491.72 536.79L492.02 534.74L492.33 534.67L492.63 535.31L492.94 536.26L493.24 535.71L493.55 537.65L493.85 538.38L494.16 536.7L494.46 537.6L494.77 538.91L495.07 538.12L495.38 537.06L495.68 541.09L495.99 540.71L496.29 546.9L496.6 547.29L496.9 542.78L497.2 540.08L497.51 541.25L497.81 540.02L498.12 543.07L498.42 548.2L498.73 548.56L499.03 548.91L499.34 549.26L499.64 541.68L499.95 540.41L500.25 542.81L500.56 544.34L500.86 544.5L501.17 543.42L501.47 541.33L501.78 540.59L502.08 543.59L502.39 546.59L502.69 545.19L503 544.01L503.3 543.89L503.6 547.65L503.91 542.7L504.21 547.09L504.52 544.43L504.82 545.97L505.13 543.86L505.43 547.22L505.74 548.94L506.04 547.19L506.35 547.14L506.65 549.23L506.96 547.3L507.26 546.26L507.57 562.5L507.87 562.5L508.18 560.39L508.48 558.77L508.79 554.61L509.09 552.07L509.4 542.44L509.7 556.17L510 549.84L510.3 551.61L510.61 549.68L510.91 547.94L511.21 557.88L511.51 555.48L511.81 553.08L512.11 550.68L512.42 539.24L512.72 538.44L513.02 539.49L513.32 536.76L513.62 535.15L513.93 537.1L514.23 535.22L514.53 533.13L514.83 533.24L515.13 533.02L515.44 533.27L515.74 533.37L516.04 533.92L516.34 533.85L516.64 534.14L516.94 532.97L517.25 532.88L517.55 534.22L517.85 533.99L518.15 533.23L518.45 532.94L518.76 534.09L519.06 533.97L519.36 534.17L519.66 534.05L519.96 533.6L520.26 533.66L520.57 533.16L520.87 532.5L521.17 533.54L521.47 534.53L521.77 533.1L522.08 534.01L522.38 533.69L522.68 533.28L522.98 533.01L523.28 532.67L523.59 532.3L523.89 532.71L524.19 532.54L524.49 533.19L524.79 532.37L525.09 532.52L525.4 533.58L525.7 533.48L526 534.42L526.3 537.3L526.61 535.26L526.91 536.49L527.22 536.49L527.52 537.38L527.82 536.96L528.13 537.35L528.43 536.42L528.73 535.58L529.04 534.92L529.34 536.2L529.65 536.05L529.95 535.74L530.25 537.41L530.56 537.88L530.86 537.71L531.17 538.34L531.47 539.74L531.77 539.6L532.08 539.62L532.38 538.64L532.68 537.42L532.99 540.9L533.29 540.73L533.6 540.33L533.9 536.26L534.2 539.22L534.51 538.11L534.81 537.13L535.12 536.54L535.42 537.26L535.72 537.14L536.03 537.35L536.33 536.55L536.63 536.75L536.94 536.12L537.24 536.79L537.55 537.88L537.85 538.36L538.15 538.35L538.46 536.71L538.76 537.6L539.07 536.94L539.37 538.61L539.67 540.24L539.98 541.65L540.28 541.43L540.58 539.33L540.89 537.27L541.19 534.38L541.5 534.54L541.8 534.53L542.1 534.83L542.4 537.68L542.71 536.2L543.01 537.23L543.31 538.5L543.61 536.46L543.91 536.53L544.22 537.35L544.52 536.41L544.82 539.36L545.12 542.55L545.42 541L545.72 536.14L546.03 537.81L546.33 544.64L546.63 544.9L546.93 545.15L547.23 539.79L547.54 542.93L547.84 546.32L548.14 546.58L548.44 543.78L548.74 537.17L549.05 538.45L549.35 538.8L549.65 539.08L549.95 540.6L550.25 540.86L550.56 540.47L550.86 539.91L551.16 538.13L551.46 539.58L551.76 536.96L552.07 538.93L552.37 539.66L552.67 538.66L552.97 538.52L553.27 536.04L553.58 536.7L553.88 536.13L554.18 540.98L554.48 539.92L554.78 538.92L555.08 539.66L555.39 536.25L555.69 544.29L555.99 543.99L556.29 543.7L556.59 543.4L556.9 536.64L557.2 535.89L557.5 535.99L557.8 535.34L558.11 535.82L558.41 536.14L558.72 536.49L559.02 539.59L559.32 539.51L559.63 541.09L559.93 539.36L560.23 538.38L560.54 538.23L560.84 538.89L561.15 539.02L561.45 538.59L561.75 539.4L562.06 540.88L562.36 541.16L562.67 545.47L562.97 544.09L563.27 542.89L563.58 546.57L563.88 547.27L564.18 541.95L564.49 544.94L564.79 549.06L565.1 547.16L565.4 546.05L565.7 548.14L566.01 548.85L566.31 552.11L566.62 547.72L566.92 547.15L567.22 546.04L567.53 547.14L567.83 545.65L568.13 548.57L568.44 547.05L568.74 545.46L569.05 549.02L569.35 549.84L569.65 550.57L569.96 548.71L570.26 546.88L570.57 551.36L570.87 549.93L571.17 547.12L571.48 543.71L571.78 542.4L572.08 540.71L572.39 537.62L572.69 536.71L573 537.11L573.3 536.47L573.6 536.31L573.9 534.24L574.2 534.93L574.5 534.72L574.8 535.37L575.1 536.02L575.4 535.71L575.7 536.28L576 536.88L576.3 537.51L576.6 537.54L576.9 535.68L577.2 536.04L577.5 534.87L577.8 534.82L578.1 535.68L578.4 537.37L578.7 539.09L579 539.13L579.3 537.86L579.6 536.98L579.9 534.6L580.2 535.61L580.5 534.28L580.8 535.62L581.1 533.85L581.4 536.4L581.7 536.45L582 534.04L582.3 536.67L582.6 536.18L582.9 536.94L583.2 535.03L583.5 534.61L583.8 534L584.1 534.76L584.4 536.83L584.7 536.48L585 533.89L585.3 534.5L585.6 535.44L585.9 538.41L586.2 538.44L586.5 538.47L586.8 536.42L587.1 537.73L587.4 539.07L587.7 535.17L588 533.94L588.3 534.35L588.6 540.89L588.91 538.97L589.22 539.27L589.52 537.67L589.83 541.53L590.14 541.53L590.45 541.54L590.75 540.08L591.06 540.28L591.37 543.57L591.67 543.95L591.98 544.41L592.29 543.23L592.6 545.63L592.9 559.32L593.21 559.93L593.52 560.55L593.83 558.05L594.13 557.52L594.44 556.98L594.75 540.6L595.06 543.52L595.37 543.66L595.67 543.43L595.98 539.79L596.29 542.95L596.6 544.5L596.9 543.2L597.21 538.41L597.52 539.41L597.83 541.08L598.13 543L598.44 544.18L598.75 546.85L599.05 546.39L599.36 545.93L599.67 545.47L599.98 542.83L600.28 542.23L600.59 536.79L600.9 535.71L601.21 534.66L601.51 535.03L601.82 535.02L602.12 535.57L602.43 536.46L602.73 536.8L603.04 534.67L603.34 535.49L603.65 535.95L603.95 537.81L604.26 539.63L604.56 539.58L604.87 539.13L605.18 538.64L605.48 538.59L605.79 538.55L606.09 537.02L606.4 536.28L606.7 535.62L607.01 533.9L607.31 535.76L607.62 535.76L607.92 534.67L608.23 534.66L608.54 534.18L608.84 534.67L609.15 534.48L609.45 534.59L609.76 534.64L610.06 538.98L610.37 538.93L610.67 538.88L610.98 538.83L611.28 536.81L611.59 536.49L611.89 535.79L612.2 539.28L612.51 543.1L612.81 543.43L613.12 543.76L613.42 539.77L613.73 539.5L614.03 539.07L614.34 542.86L614.64 542.27L614.95 537.81L615.26 542.02L615.56 542.79L615.87 537.67L616.17 545.02L616.48 539.52L616.78 544.29L617.09 543.58L617.39 544.91L617.7 542.69L618.01 542.82L618.31 542.41L618.62 543.69L618.92 541.86L619.23 541.97L619.53 543.12L619.84 542.15L620.14 542.43L620.45 541.82L620.76 539L621.06 537.17L621.37 543.15L621.67 543.85L621.98 544.21L622.28 543.88L622.59 541.71L622.89 538.85L623.2 536.07L623.5 533.84L623.8 534.45L624.1 533.05L624.4 533.72L624.7 533.38L625 533.72L625.3 533.89L625.6 534.59L625.9 534.75L626.2 534.46L626.5 535.1L626.8 535.08L627.1 534.68L627.4 535.33L627.7 533.96L628 533.75L628.3 534.14L628.6 534.54L628.9 534.67L629.2 536.09L629.5 534.5L629.8 535.13L630.1 534.49L630.4 534.41L630.7 535.2L631 534.63L631.3 535.1L631.6 534.82L631.9 535.84L632.2 535.8L632.5 535.05L632.8 535.25L633.1 533.83L633.4 534.43L633.7 541.95L634.01 541.43L634.32 546.44L634.62 546.64L634.93 551.45L635.24 556.77L635.55 557.28L635.86 557.79L636.16 542.71L636.47 546.04L636.78 546.58L637.09 551.48L637.39 547.27L637.7 550.48L638.01 546.67L638.32 543.74L638.63 544.07L638.93 545.37L639.24 550.47L639.55 548.52L639.86 553.13L640.17 547.62L640.47 551.17L640.78 551.55L641.09 550.16L641.4 544.61L641.71 544.78L642.01 543.71L642.32 545.81L642.63 546.59L642.94 545.08L643.24 547.19L643.55 546.28L643.86 543.65L644.17 546.18L644.48 542.06L644.78 544.71L645.09 546.69L645.4 546.03L645.71 546.71L646.02 548.79L646.33 550.19L646.64 546.74L646.95 543.56L647.26 548.76L647.57 541.14L647.88 543.83L648.18 547.34L648.49 555.17L648.8 562.5L649.11 562.5L649.42 546.83L649.73 544.69L650.04 550.17L650.35 556.74L650.66 557.14L650.97 553.37L651.28 553.77L651.59 549.72L651.9 547.58L652.21 548.7L652.52 545.31L652.82 559.7L653.13 558.44L653.44 540.92L653.75 544.56L654.06 546.16L654.37 543.77L654.68 541.82L654.99 543.2L655.3 542.29L655.6 539.44L655.91 540.76L656.21 538.39L656.52 541.05L656.82 539.17L657.13 537.89L657.43 538.52L657.74 540.7L658.04 539.46L658.35 540.27L658.65 540.01L658.96 540.13L659.26 538.87L659.57 541.67L659.87 542.84L660.18 540.79L660.48 540.33L660.79 542.21L661.09 539.82L661.4 537.52L661.7 537.42L662 537.2L662.3 537.49L662.6 538.63L662.9 541.11L663.2 541.22L663.5 537.08L663.8 537.51L664.1 538.25L664.4 536.93L664.7 537.11L665 538.79L665.3 538.38L665.6 538.35L665.9 538.47L666.2 539.57L666.5 538.63L666.8 540.87L667.1 541.32L667.4 542.01L667.7 539.97L668 541.8L668.3 539.25L668.6 541.51L668.9 537.76L669.2 543.02L669.51 540.95L669.81 538.86L670.12 542.86L670.42 540.76L670.73 536.56L671.04 538.84L671.34 537.63L671.65 540.1L671.95 537.53L672.26 537.34L672.56 542.08L672.87 539.27L673.18 536.5L673.48 539.38L673.79 539.66L674.09 538.71L674.4 535.05L674.7 536L675 534.86L675.3 537.54L675.6 536.83L675.9 535.95L676.2 537.89L676.5 537.86L676.8 536.73L677.1 534.96L677.4 535.21L677.7 535.16L678 535.48L678.3 537.22L678.6 535.81L678.9 535.86L679.2 535.22L679.5 534.86L679.8 535.01L680.1 535.02L680.4 535.02L680.4 531Z" fill="#2a5394"/>
<line x1="348.6" y1="531" x2="680.4" y2="531" stroke="#7a1c24" stroke-width="0.5" />
<path d="M377 496.5V565.6M405.4 496.5V565.6M428.3 496.5V565.6M450.6 496.5V565.6M471.1 496.5V565.6M490.5 496.5V565.6M509.7 496.5V565.6M526 496.5V565.6M541.8 496.5V565.6M557.5 496.5V565.6M573.3 496.5V565.6M588.6 496.5V565.6M600.9 496.5V565.6M612.2 496.5V565.6M623.2 496.5V565.6M633.7 496.5V565.6M645.4 496.5V565.6M655.3 496.5V565.6M661.7 496.5V565.6M669.2 496.5V565.6M674.4 496.5V565.6M680.4 496.5V565.6" stroke="#2a2a2a" stroke-width="0.7" stroke-dasharray="1.1 1.3" fill="none"/>
<text x="362.8" y="564.8" font-size="5.1" font-weight="normal" font-style="normal" text-anchor="middle" fill="#222" >chr1</text>
<text x="391.2" y="501.8" font-size="5.1" font-weight="normal" font-style="normal" text-anchor="middle" fill="#222" >chr2</text>
<text x="416.85" y="564.8" font-size="5.1" font-weight="normal" font-style="normal" text-anchor="middle" fill="#222" >chr3</text>
<text x="439.45" y="501.8" font-size="5.1" font-weight="normal" font-style="normal" text-anchor="middle" fill="#222" >chr4</text>
<text x="460.85" y="564.8" font-size="5.1" font-weight="normal" font-style="normal" text-anchor="middle" fill="#222" >chr5</text>
<text x="480.8" y="501.8" font-size="5.1" font-weight="normal" font-style="normal" text-anchor="middle" fill="#222" >chr6</text>
<text x="500.1" y="564.8" font-size="5.1" font-weight="normal" font-style="normal" text-anchor="middle" fill="#222" >chr7</text>
<text x="517.85" y="501.8" font-size="5.1" font-weight="normal" font-style="normal" text-anchor="middle" fill="#222" >chr8</text>
<text x="533.9" y="564.8" font-size="5.1" font-weight="normal" font-style="normal" text-anchor="middle" fill="#222" >chr9</text>
<text x="549.65" y="501.8" font-size="5.1" font-weight="normal" font-style="normal" text-anchor="middle" fill="#222" >chr10</text>
<text x="565.4" y="564.8" font-size="5.1" font-weight="normal" font-style="normal" text-anchor="middle" fill="#222" >chr11</text>
<text x="580.95" y="501.8" font-size="5.1" font-weight="normal" font-style="normal" text-anchor="middle" fill="#222" >chr12</text>
<text x="594.75" y="564.8" font-size="5.1" font-weight="normal" font-style="normal" text-anchor="middle" fill="#222" >chr13</text>
<text x="606.55" y="501.8" font-size="5.1" font-weight="normal" font-style="normal" text-anchor="middle" fill="#222" >chr14</text>
<text x="617.7" y="564.8" font-size="5.1" font-weight="normal" font-style="normal" text-anchor="middle" fill="#222" >chr15</text>
<text x="628.45" y="501.8" font-size="5.1" font-weight="normal" font-style="normal" text-anchor="middle" fill="#222" >chr16</text>
<text x="639.55" y="564.8" font-size="5.1" font-weight="normal" font-style="normal" text-anchor="middle" fill="#222" >chr17</text>
<text x="650.35" y="501.8" font-size="5.1" font-weight="normal" font-style="normal" text-anchor="middle" fill="#222" >chr18</text>
<text x="658.5" y="564.8" font-size="5.1" font-weight="normal" font-style="normal" text-anchor="middle" fill="#222" >chr19</text>
<text x="665.45" y="501.8" font-size="5.1" font-weight="normal" font-style="normal" text-anchor="middle" fill="#222" >chr20</text>
<text x="671.8" y="564.8" font-size="5.1" font-weight="normal" font-style="normal" text-anchor="middle" fill="#222" >chr21</text>
<text x="677.4" y="501.8" font-size="5.1" font-weight="normal" font-style="normal" text-anchor="middle" fill="#222" >chr22</text>
<text x="347.2" y="511.54" font-size="4.4" font-weight="normal" font-style="normal" text-anchor="end" fill="#333" >0.2</text>
<line x1="348" y1="510" x2="348.6" y2="510" stroke="#aaa" stroke-width="0.5" />
<text x="347.2" y="532.54" font-size="4.4" font-weight="normal" font-style="normal" text-anchor="end" fill="#333" >0.0</text>
<line x1="348" y1="531" x2="348.6" y2="531" stroke="#aaa" stroke-width="0.5" />
<text x="347.2" y="553.54" font-size="4.4" font-weight="normal" font-style="normal" text-anchor="end" fill="#333" >-0.2</text>
<line x1="348" y1="552" x2="348.6" y2="552" stroke="#aaa" stroke-width="0.5" />
<text x="338.6" y="531.05" font-size="4.2" font-weight="normal" font-style="normal" text-anchor="middle" fill="#222" transform="rotate(-90 338.6 531.05)">G-score</text>
<rect x="357.3" y="574.3" width="8.4" height="8.9" fill="#c9302f" />
<text x="368.6" y="581.4" font-size="7" font-weight="normal" font-style="normal" text-anchor="start" fill="#222" >Amp</text>
<rect x="388.9" y="574.3" width="8.6" height="8.9" fill="#27467f" />
<text x="400.7" y="581.4" font-size="7" font-weight="normal" font-style="normal" text-anchor="start" fill="#222" >Del</text>
<text x="4.5" y="606.8" font-size="14" font-weight="normal" font-style="normal" text-anchor="start" fill="#111" >E</text>
<text x="29.9" y="623.9" font-size="7.6" font-weight="bold" font-style="normal" text-anchor="start" fill="#111" >Cluster1</text>
<rect x="30.4" y="636.3" width="420.9" height="87.3" fill="none" stroke="#cfcfcf" stroke-width="0.6"/>
<path d="M31 679.5L31 677.7L31.5 676.31L32 675.7L32.5 675.55L33.01 675.71L33.51 675.15L34.01 674.84L34.51 674.96L35.01 674.99L35.51 675.23L36.01 675.54L36.52 675.26L37.02 674.88L37.52 675.19L38.02 674.55L38.52 674.8L39.02 674.87L39.52 675.06L40.03 674.12L40.53 673.92L41.03 673.65L41.53 673.76L42.03 674.37L42.53 674.3L43.03 674.07L43.54 674.32L44.04 673.53L44.54 673.74L45.04 674.02L45.54 673.43L46.04 673.84L46.54 673.17L47.05 673.31L47.55 673.24L48.05 670.62L48.55 664.87L49.05 659.85L49.55 656.72L50.05 653.44L50.55 651.58L51.06 649.15L51.56 647.63L52.06 645.13L52.56 643.49L53.06 642.95L53.56 642.77L54.06 642.93L54.57 642.91L55.07 643.59L55.57 643.59L56.07 643.28L56.57 643.83L57.07 643.37L57.57 643.24L58.08 643.72L58.58 644.02L59.08 644.1L59.58 644.25L60.08 643.73L60.58 644.16L61.08 644.76L61.59 645.01L62.09 644.52L62.59 644.05L63.09 644.39L63.59 644.59L64.09 644.66L64.59 644.53L65.1 645.05L65.6 644.93L66.1 644.97L66.6 660.4L67.11 667.82L67.61 671.19L68.12 672.55L68.62 672.58L69.13 673.21L69.63 673.26L70.14 673.6L70.65 673.99L71.15 674.22L71.66 673.57L72.16 673.34L72.67 673.67L73.17 673.52L73.68 673.48L74.19 673.26L74.69 673.11L75.2 673.64L75.7 673.29L76.21 673.19L76.71 673.54L77.22 673.42L77.73 673.86L78.23 674.27L78.74 674.68L79.24 674.31L79.75 674.97L80.25 675.45L80.76 675L81.27 674.93L81.77 675.28L82.28 675.17L82.78 676.02L83.29 676.28L83.79 676.46L84.3 676.5L84.81 676.77L85.31 677L85.82 676.83L86.32 676.17L86.83 675.79L87.33 675.86L87.84 676.17L88.35 676.54L88.85 675.98L89.36 676.17L89.86 676.05L90.37 676.72L90.87 676.83L91.38 676.23L91.89 676.01L92.39 675.82L92.9 676.02L93.4 676.3L93.91 676.26L94.41 675.97L94.92 676.39L95.43 676.35L95.93 676.6L96.44 676.2L96.94 676.8L97.45 676.38L97.95 675.91L98.46 676.66L98.97 676.41L99.47 676.25L99.98 675.96L100.48 676.1L100.99 676.51L101.49 676.53L102 673.4L102.5 672.15L103 672.48L103.5 672.77L104 673L104.5 673.28L105 673.07L105.5 673.39L106 672.88L106.5 673.04L107 673.91L107.5 674.13L108 674.7L108.5 675.03L109 675.71L109.5 676.33L110 676.83L110.5 677.11L111 676.61L111.5 676.19L112 676.17L112.5 675.13L113 674.14L113.5 673.45L114 672.77L114.5 672.91L115 672.27L115.5 672.35L116 671.62L116.5 671.85L117 671.36L117.5 671.57L118 671.17L118.5 671.34L119 671.65L119.5 671.39L120 671.31L120.5 670.62L121 670.9L121.5 670.76L122 670.61L122.5 670.09L123 670.68L123.5 670.39L124 670.31L124.5 670L125 669.6L125.5 670.09L126 669.91L126.5 670.01L127 670.02L127.5 670.53L128 669.99L128.5 669.58L129 670.04L129.5 670.28L130 669.7L130.5 673.78L131 675.64L131.5 676.49L132.01 676.11L132.51 675.99L133.01 676.26L133.51 676.2L134.01 676.79L134.51 676.42L135.02 676.46L135.52 676.4L136.02 676.5L136.52 676.54L137.02 676.73L137.53 677L138.03 676.73L138.53 676.8L139.03 676.36L139.53 676.04L140.03 676L140.54 676.25L141.04 676.59L141.54 676.59L142.04 676.49L142.54 676.29L143.04 675.86L143.55 676.57L144.05 676.49L144.55 676.44L145.05 676.18L145.55 675.89L146.06 675.87L146.56 676.02L147.06 675.95L147.56 676.01L148.06 675.85L148.56 675.93L149.07 675.99L149.57 676.47L150.07 675.99L150.57 676.32L151.07 676.24L151.57 675.98L152.08 675.72L152.58 675.58L153.08 676.53L153.58 676.64L154.08 676.69L154.59 676.63L155.09 676.86L155.59 676.54L156.09 676.89L156.59 676.81L157.09 676.12L157.6 676.01L158.1 676.25L158.6 667.72L159.11 663.38L159.61 662.07L160.12 662.37L160.62 662.75L161.13 662.98L161.64 663.43L162.14 664.44L162.65 664.56L163.15 665.64L163.66 666.58L164.16 666.5L164.67 667.22L165.18 667.04L165.68 667.5L166.19 667.34L166.69 667.64L167.2 667.71L167.71 667.2L168.21 667.51L168.72 667.72L169.22 667.67L169.73 668.03L170.24 668.35L170.74 668.32L171.25 668.46L171.75 668.65L172.26 667.99L172.76 668.68L173.27 668.24L173.78 667.95L174.28 668.06L174.79 668.75L175.29 668.51L175.8 668.81L176.31 668.29L176.81 667.9L177.32 668.14L177.82 668.42L178.33 667.93L178.84 668.11L179.34 667.91L179.85 667.61L180.35 666.95L180.86 667.14L181.36 667.4L181.87 666.78L182.38 666.4L182.88 666.47L183.39 666.93L183.89 666.94L184.4 667.51L184.91 667.73L185.42 668.27L185.92 668.03L186.43 667.99L186.94 667.99L187.45 668.15L187.96 669.22L188.47 669.23L188.97 669.86L189.48 669.41L189.99 669.47L190.5 669.6L191.01 670.35L191.51 670.93L192.02 670.53L192.53 670.67L193.04 670.83L193.55 671.16L194.06 671.08L194.56 671.64L195.07 672.09L195.58 672.34L196.09 672.64L196.6 672.57L197.1 672.4L197.61 673.3L198.12 673.84L198.63 673.75L199.14 673.67L199.64 674.18L200.15 674.31L200.66 674.56L201.17 674.67L201.68 674.23L202.19 673.82L202.69 673.64L203.2 674.04L203.71 674.26L204.22 673.49L204.73 673.52L205.23 673.65L205.74 673.39L206.25 673.22L206.76 673.32L207.27 673.81L207.78 673.24L208.28 673.59L208.79 673.9L209.3 665.98L209.8 662.3L210.31 660.62L210.81 660.4L211.32 659.83L211.82 659.87L212.33 660.3L212.83 659.85L213.33 659.77L213.84 659.71L214.34 659.99L214.85 660.66L215.35 660.46L215.86 660.31L216.36 660.7L216.86 660.56L217.37 660.51L217.87 661.15L218.38 660.95L218.88 660.94L219.39 661.15L219.89 662.13L220.39 662.29L220.9 662.16L221.4 662.17L221.91 662.05L222.41 662.15L222.91 662.73L223.42 662.24L223.92 662.46L224.43 662.24L224.93 662.87L225.44 662.38L225.94 662.65L226.44 662.58L226.95 662.62L227.45 662.53L227.96 663.06L228.46 663.62L228.97 663.58L229.47 663.83L229.97 663.61L230.48 663.26L230.98 663.61L231.49 664.04L231.99 664.38L232.5 664.16L233 670.37L233.5 674.04L234 675.34L234.5 676.7L235 677.73L235.5 677.08L236 676.79L236.5 675.87L237 675.44L237.5 674.71L238 672.97L238.5 670.7L239 668.16L239.5 665.59L240 663.16L240.5 661.13L241 660.14L241.5 659.04L242 658.12L242.5 657.12L243 656.42L243.5 655.35L244 654.88L244.5 655.05L245 654.25L245.5 654.08L246 653.71L246.5 653.56L247 653.43L247.5 653.04L248 653.44L248.5 653.54L249 653.93L249.5 653.36L250 653.13L250.5 652.97L251 652.4L251.5 652.91L252 653.04L252.5 652.52L253 652.15L253.5 652.25L254 664.27L254.51 669.41L255.01 671.32L255.52 672.59L256.02 673.26L256.53 673.7L257.03 673.72L257.54 673.83L258.04 673.85L258.55 673.74L259.05 673.88L259.56 674.39L260.06 674.82L260.57 674.53L261.07 674.45L261.58 674.35L262.08 675.11L262.59 674.86L263.09 674.77L263.6 675.63L264.1 675.82L264.61 675.59L265.11 676.02L265.62 675.52L266.12 675.91L266.63 675.67L267.13 675.99L267.64 676.23L268.14 676.37L268.65 676.16L269.15 675.86L269.66 676.26L270.16 675.98L270.67 676.24L271.17 676.05L271.68 676.28L272.18 676.58L272.69 676.8L273.19 677L273.7 673.03L274.2 671.57L274.7 671.26L275.2 670.38L275.7 670.26L276.2 670.9L276.7 670.51L277.2 670.51L277.7 670.71L278.2 670.78L278.7 670.38L279.2 670.85L279.7 670.83L280.2 670.87L280.7 671.21L281.2 671.42L281.7 671.14L282.2 671.18L282.7 671.42L283.2 671.52L283.7 671.9L284.2 671.41L284.7 671.89L285.2 671.38L285.7 671.26L286.2 671.36L286.7 670.94L287.2 670.67L287.7 670.98L288.2 670.61L288.7 670.7L289.2 670L289.7 670.08L290.2 670.03L290.7 670.04L291.2 670.13L291.7 669.94L292.2 669.81L292.7 669.18L293.2 668.58L293.7 671.44L294.21 672.79L294.72 672.91L295.23 673.35L295.74 673.2L296.25 672.71L296.76 673.02L297.27 672.59L297.78 672.52L298.29 672.9L298.81 672.86L299.32 672.43L299.83 672.7L300.34 672.66L300.85 672.21L301.36 671.71L301.87 671.74L302.38 671.55L302.89 669.7L303.4 665.86L303.91 666.82L304.42 669.09L304.93 670.78L305.44 671.2L305.95 672.27L306.46 672.37L306.97 672.11L307.48 672.22L307.99 672.56L308.51 673.23L309.02 672.86L309.53 673.67L310.04 673.22L310.55 673.31L311.06 673.51L311.57 673.9L312.08 674.55L312.59 674.76L313.1 672.05L313.61 670.77L314.11 670.4L314.62 669.74L315.12 670.15L315.63 670.03L316.13 670.1L316.64 669.83L317.14 669.16L317.65 668.83L318.15 669.23L318.66 669.18L319.16 669.3L319.67 668.71L320.17 668.61L320.68 668.71L321.18 668.54L321.69 667.89L322.19 667.99L322.7 667.69L323.21 667.69L323.71 667.91L324.22 668L324.72 668.3L325.23 668.67L325.73 668.61L326.24 668.84L326.74 668.98L327.25 669.27L327.75 668.71L328.26 669.03L328.76 669.48L329.27 669.92L329.77 670L330.28 669.42L330.78 669.78L331.29 669.67L331.79 670.14L332.3 672.13L332.8 673.21L333.3 673.37L333.8 673.63L334.3 673.88L334.8 674.06L335.3 673.8L335.8 673.41L336.3 673.35L336.8 673.52L337.3 673.72L337.8 673.21L338.3 673L338.8 673.6L339.3 673.29L339.8 673.03L340.3 672.99L340.8 672.63L341.3 672.51L341.8 673.05L342.3 672.47L342.8 672.85L343.3 672.91L343.8 672.28L344.3 672.77L344.8 672.7L345.3 672.39L345.8 672.55L346.3 672.58L346.8 672L347.3 671.88L347.8 671.63L348.3 671.42L348.8 670.33L349.3 669.76L349.8 669.52L350.3 669.2L350.8 669.49L351.3 669.35L351.8 669.43L352.3 668.94L352.8 668.98L353.3 669.18L353.8 668.96L354.3 669.19L354.8 669.41L355.3 669.18L355.8 669.28L356.3 669.41L356.8 669.51L357.3 669.33L357.8 669.08L358.3 669.84L358.8 669.72L359.3 670.35L359.8 670.37L360.3 670.74L360.8 670.89L361.3 670.83L361.8 671.26L362.3 671.61L362.8 671.57L363.3 672.32L363.8 672.99L364.31 672.9L364.81 672.69L365.32 672.41L365.83 673L366.34 672.86L366.84 673.08L367.35 672.75L367.86 672.42L368.37 672.97L368.87 672.97L369.38 672.33L369.89 672.61L370.4 672.42L370.9 672.11L371.41 672.49L371.92 672.11L372.43 672.72L372.93 672.61L373.44 672.71L373.95 672.53L374.46 672.56L374.96 672.74L375.47 671.98L375.98 672.26L376.49 671.94L376.99 671.78L377.5 656.36L378.01 649.55L378.51 646.85L379.02 646.22L379.53 645.46L380.03 645.92L380.54 645.41L381.05 645.94L381.56 646.36L382.06 646.72L382.57 646.82L383.08 649.16L383.58 653.3L384.09 658.43L384.6 663.92L385.1 668.65L385.61 671.06L386.12 672.54L386.62 673.44L387.13 673.76L387.64 674.15L388.14 675.41L388.65 675.12L389.16 675.09L389.67 675.59L390.17 675.63L390.68 675.6L391.19 676.25L391.69 676.15L392.2 676.21L392.71 675.27L393.22 673.74L393.74 672.83L394.25 670.7L394.76 669.09L395.27 667.8L395.79 667.85L396.3 667.34L396.81 667.42L397.32 666.62L397.84 666.21L398.35 666.6L398.86 666.36L399.38 666.29L399.89 665.69L400.4 665.43L400.91 665.9L401.43 665.19L401.94 664.86L402.45 665.25L402.96 665.29L403.48 665.52L403.99 665.38L404.5 669.82L405.01 671.77L405.53 672.33L406.04 673.17L406.55 673.43L407.07 673.06L407.58 673.45L408.09 673.79L408.6 673.08L409.12 673.53L409.63 673.47L410.14 673.55L410.66 673.63L411.17 673.58L411.68 673.37L412.2 673.7L412.71 673.43L413.22 673.8L413.73 673.93L414.25 673.87L414.76 673.8L415.27 673.67L415.79 673.66L416.3 672.23L416.81 671.64L417.32 671.43L417.84 670.9L418.35 670.61L418.86 670.73L419.38 670.34L419.89 669.9L420.4 669.78L420.91 669.37L421.43 669.17L421.94 668.65L422.45 668.96L422.96 668.55L423.48 667.91L423.99 667.96L424.5 665.31L425.01 664.63L425.52 663.35L426.03 662.93L426.54 661.91L427.05 661.47L427.56 660.84L428.07 660.52L428.58 660.05L429.09 658.89L429.61 658.27L430.12 657.69L430.63 657.63L431.14 657.1L431.65 656.33L432.16 657.15L432.67 657.55L433.18 657.94L433.69 658.69L434.2 663.64L434.72 664.94L435.23 665.22L435.75 665.41L436.27 664.79L436.78 664.03L437.3 662.91L437.82 663.13L438.33 664.37L438.85 665.2L439.37 666.56L439.88 668.31L440.4 670.39L440.9 671.4L441.4 672.2L441.9 672.23L442.4 672.08L442.9 672.23L443.4 672.77L443.9 672.94L444.4 673.55L444.9 673.89L445.4 673.89L445.9 674.91L446.4 675.22L446.9 675.5L447.4 675.83L447.9 676.04L448.4 676.04L448.4 679.5Z" fill="#f2200f"/>
<path d="M31 679.5L31 691.91L31.5 697.94L32 700.74L32.5 701.05L33.01 700.94L33.51 700.84L34.01 701.07L34.51 700.38L35.01 700.44L35.51 699.64L36.01 699.52L36.52 699.44L37.02 699.3L37.52 698.57L38.02 699.08L38.52 699.15L39.02 698.74L39.52 698.89L40.03 698.63L40.53 698.01L41.03 697.91L41.53 698.24L42.03 697.97L42.53 697.35L43.03 697.15L43.54 697.02L44.04 697.23L44.54 697.13L45.04 696.63L45.54 696.11L46.04 696.2L46.54 695.35L47.05 695.06L47.55 694.19L48.05 693.87L48.55 692.55L49.05 691.01L49.55 689.67L50.05 687.96L50.55 686.58L51.06 685.36L51.56 683.83L52.06 682.61L52.56 681.72L53.06 680.9L53.56 681.17L54.06 680.95L54.57 681.19L55.07 681.52L55.57 681.19L56.07 680.74L56.57 680.64L57.07 680.72L57.57 680.56L58.08 680.24L58.58 680.4L59.08 680.71L59.58 681.01L60.08 681.07L60.58 681.21L61.08 681.17L61.59 680.74L62.09 680.77L62.59 680.16L63.09 680.63L63.59 680.74L64.09 680.32L64.59 680.33L65.1 680.11L65.6 680.54L66.1 680.33L66.6 685.31L67.11 687.71L67.61 688.65L68.12 688.68L68.62 688.67L69.13 689.29L69.63 689.54L70.14 688.93L70.65 688.85L71.15 689.26L71.66 689.43L72.16 689.03L72.67 689.03L73.17 689.57L73.68 688.93L74.19 688.84L74.69 689.22L75.2 689.65L75.7 689.9L76.21 689.53L76.71 689.7L77.22 689.98L77.73 689.46L78.23 689.13L78.74 689.03L79.24 689.53L79.75 689.11L80.25 689.35L80.76 689.87L81.27 689.36L81.77 689.59L82.28 689.6L82.78 690.06L83.29 689.82L83.79 689.7L84.3 690.08L84.81 690.12L85.31 689.54L85.82 689.98L86.32 689.79L86.83 690.31L87.33 690.57L87.84 690.22L88.35 690.01L88.85 689.75L89.36 689.7L89.86 689.64L90.37 689.59L90.87 690.17L91.38 689.76L91.89 690.16L92.39 690.37L92.9 690.63L93.4 690.59L93.91 690.98L94.41 690.51L94.92 690.13L95.43 690.48L95.93 690.35L96.44 691.05L96.94 691.32L97.45 691.23L97.95 691.36L98.46 690.84L98.97 690.87L99.47 690.81L99.98 690.77L100.48 690.8L100.99 690.95L101.49 691.22L102 689.43L102.5 689.36L103 689.1L103.5 690.05L104 690.25L104.5 690.58L105 690.65L105.5 691.28L106 691.77L106.5 692.4L107 692.54L107.5 692.49L108 693.03L108.5 692.88L109 693.73L109.5 693.86L110 694.55L110.5 694.45L111 694.57L111.5 693.81L112 692.95L112.5 692.42L113 692.41L113.5 691.55L114 690.93L114.5 690.55L115 690.2L115.5 688.92L116 688.42L116.5 688L117 687.63L117.5 686.82L118 686.4L118.5 686.34L119 685.58L119.5 685.29L120 685.12L120.5 685.08L121 684.25L121.5 684.12L122 683.43L122.5 683L123 683.09L123.5 683.26L124 683.27L124.5 683.55L125 682.82L125.5 682.81L126 682.71L126.5 682.38L127 682.87L127.5 682.24L128 682.02L128.5 681.65L129 682.05L129.5 682.2L130 681.77L130.5 687.39L131 689.64L131.5 690.22L132.01 691.26L132.51 691.65L133.01 691.29L133.51 691.71L134.01 691.15L134.51 691.15L135.02 691.23L135.52 691.84L136.02 691.45L136.52 691.38L137.02 691.18L137.53 691.73L138.03 691.34L138.53 691.87L139.03 691.6L139.53 691.71L140.03 692.11L140.54 691.67L141.04 691.76L141.54 691.93L142.04 691.96L142.54 691.81L143.04 692.01L143.55 691.77L144.05 691.52L144.55 691.27L145.05 691.75L145.55 691.92L146.06 692.22L146.56 691.67L147.06 691.94L147.56 691.82L148.06 691.83L148.56 692.13L149.07 691.93L149.57 691.74L150.07 691.85L150.57 691.38L151.07 691.89L151.57 691.74L152.08 691.17L152.58 691.35L153.08 691.9L153.58 692.16L154.08 691.69L154.59 691.3L155.09 691.8L155.59 691.34L156.09 690.84L156.59 690.84L157.09 691.05L157.6 691.34L158.1 690.83L158.6 686.57L159.11 685.13L159.61 684.15L160.12 683.61L160.62 683.98L161.13 683.93L161.64 684.24L162.14 684.23L162.65 684.64L163.15 684.57L163.66 685.09L164.16 685.22L164.67 685.26L165.18 685.1L165.68 685.22L166.19 685.1L166.69 684.81L167.2 685.57L167.71 685.91L168.21 686.08L168.72 686.32L169.22 686.18L169.73 686.64L170.24 686.38L170.74 686.85L171.25 686.2L171.75 686.24L172.26 686.41L172.76 686.72L173.27 686.51L173.78 686.66L174.28 686.27L174.79 686.37L175.29 686.51L175.8 686.33L176.31 685.62L176.81 685.92L177.32 685.35L177.82 685.37L178.33 685.15L178.84 685.69L179.34 685.28L179.85 685.63L180.35 685.09L180.86 684.95L181.36 685.36L181.87 685.75L182.38 685.01L182.88 685.2L183.39 685.03L183.89 685.15L184.4 682.89L184.91 682.01L185.42 681.88L185.92 682.85L186.43 683.07L186.94 683.5L187.45 683.39L187.96 684.11L188.47 684.85L188.97 684.66L189.48 685.37L189.99 685.95L190.5 686.56L191.01 686.59L191.51 686.89L192.02 686.91L192.53 687.56L193.04 687.57L193.55 688.09L194.06 688.53L194.56 689.35L195.07 689.87L195.58 689.74L196.09 690.11L196.6 690.82L197.1 691.53L197.61 692.52L198.12 692.85L198.63 693.66L199.14 694.26L199.64 694.46L200.15 694.78L200.66 694.6L201.17 694.98L201.68 694.16L202.19 694.47L202.69 694.24L203.2 693.84L203.71 693.16L204.22 693.33L204.73 693.45L205.23 692.94L205.74 692.97L206.25 692.68L206.76 691.99L207.27 692.36L207.78 691.86L208.28 691.7L208.79 691.8L209.3 687.57L209.8 685.6L210.31 684.18L210.81 684L211.32 683.17L211.82 683.17L212.33 683.01L212.83 683.34L213.33 683.31L213.84 683.2L214.34 683.26L214.85 682.78L215.35 682.63L215.86 682.17L216.36 682.18L216.86 681.99L217.37 682.42L217.87 681.96L218.38 682.52L218.88 682.41L219.39 682.17L219.89 681.69L220.39 681.77L220.9 681.89L221.4 681.52L221.91 682.24L222.41 681.97L222.91 681.96L223.42 681.84L223.92 681.91L224.43 681.88L224.93 682.5L225.44 682L225.94 682.12L226.44 682.45L226.95 682.51L227.45 682.42L227.96 682.58L228.46 682.25L228.97 682.39L229.47 682.62L229.97 683.11L230.48 683.01L230.98 682.99L231.49 683.27L231.99 683.04L232.5 683.25L233 685.16L233.5 690.03L234 695.72L234.5 701.97L235 703.69L235.5 700.29L236 694.87L236.5 690.05L237 688.08L237.5 686.12L238 684.62L238.5 683.49L239 682.91L239.5 682.36L240 681.96L240.5 681.26L241 680.76L241.5 680.62L242 681.04L242.5 681.26L243 680.7L243.5 680.39L244 681.27L244.5 680.99L245 680.56L245.5 680.8L246 680.53L246.5 681.14L247 681.13L247.5 681.21L248 681.57L248.5 680.9L249 680.7L249.5 681.19L250 681.23L250.5 681.07L251 680.92L251.5 681.12L252 681.54L252.5 681.74L253 681.8L253.5 681.88L254 687.92L254.51 690.57L255.01 692.63L255.52 693L256.02 693.5L256.53 693.71L257.03 694.37L257.54 694.16L258.04 693.8L258.55 693.75L259.05 694.49L259.56 694.78L260.06 694.25L260.57 694.91L261.07 694.64L261.58 694.93L262.08 694.94L262.59 695.28L263.09 695.11L263.6 694.6L264.1 694.88L264.61 695.2L265.11 694.78L265.62 694.91L266.12 694.46L266.63 694.06L267.13 693.77L267.64 693.4L268.14 693.4L268.65 693.76L269.15 693.44L269.66 693.36L270.16 692.61L270.67 692.36L271.17 692.36L271.68 692.04L272.18 691.4L272.69 691.89L273.19 691.24L273.7 687.09L274.2 685.66L274.7 684.42L275.2 683.94L275.7 683.9L276.2 684.2L276.7 684.9L277.2 684.46L277.7 684.47L278.2 685.26L278.7 685.08L279.2 685.51L279.7 685.86L280.2 685.39L280.7 685.31L281.2 686.13L281.7 686.78L282.2 686.94L282.7 686.89L283.2 686.6L283.7 687.01L284.2 686.81L284.7 686.99L285.2 686.81L285.7 687.27L286.2 687.47L286.7 687.41L287.2 687.36L287.7 687.22L288.2 687.17L288.7 687.28L289.2 688.26L289.7 687.77L290.2 688.29L290.7 688.3L291.2 688.48L291.7 688.32L292.2 688.98L292.7 689.15L293.2 688.85L293.7 687.93L294.21 688.12L294.72 687.54L295.23 688.13L295.74 688.25L296.25 688.36L296.76 688.49L297.27 688.72L297.78 688.42L298.29 688.56L298.81 688.85L299.32 688.95L299.83 688.97L300.34 689.74L300.85 689.9L301.36 690.41L301.87 690.39L302.38 691.07L302.89 690.76L303.4 691.02L303.91 691.6L304.42 692.81L304.93 693.24L305.44 694.42L305.95 695.42L306.46 696.62L306.97 697.31L307.48 698.51L307.99 700.07L308.51 700.43L309.02 702.05L309.53 702.49L310.04 701.31L310.55 699.55L311.06 698.34L311.57 697.43L312.08 695.18L312.59 694.1L313.1 690.65L313.61 688.52L314.11 688.18L314.62 687.67L315.12 687.51L315.63 687.98L316.13 688.08L316.64 688.6L317.14 688.82L317.65 688.72L318.15 689.5L318.66 689.02L319.16 689.74L319.67 689.64L320.17 690.35L320.68 690.47L321.18 690.49L321.69 690.36L322.19 691.08L322.7 691.51L323.21 691.75L323.71 691.4L324.22 691.53L324.72 691.48L325.23 691.16L325.73 690.61L326.24 690.57L326.74 690.21L327.25 690.47L327.75 690.25L328.26 690.4L328.76 690.43L329.27 690.24L329.77 689.51L330.28 689.25L330.78 688.81L331.29 688.81L331.79 688.55L332.3 691.95L332.8 694.11L333.3 694.52L333.8 695.66L334.3 696.31L334.8 696.57L335.3 696.27L335.8 696.32L336.3 696.65L336.8 697.09L337.3 697.73L337.8 697.22L338.3 697.19L338.8 698.06L339.3 697.76L339.8 698.65L340.3 698.46L340.8 699.21L341.3 698.95L341.8 698.89L342.3 699.01L342.8 698.99L343.3 698.48L343.8 698.22L344.3 698.36L344.8 697.8L345.3 697.52L345.8 697.9L346.3 698L346.8 697.91L347.3 697.3L347.8 696.94L348.3 696.46L348.8 693.91L349.3 692.04L349.8 691.42L350.3 691.07L350.8 691.44L351.3 692.25L351.8 691.74L352.3 691.79L352.8 691.91L353.3 692.5L353.8 692.5L354.3 692.39L354.8 692.96L355.3 693.52L355.8 693.1L356.3 692.89L356.8 693.04L357.3 693.53L357.8 692.74L358.3 692.35L358.8 692.58L359.3 692.69L359.8 692.31L360.3 691.6L360.8 691.69L361.3 691.15L361.8 690.77L362.3 690.46L362.8 691.12L363.3 690.44L363.8 687.83L364.31 687.14L364.81 686.32L365.32 686.27L365.83 686.79L366.34 686.91L366.84 686.72L367.35 687.11L367.86 687.88L368.37 688.18L368.87 688.58L369.38 687.93L369.89 687.79L370.4 688.32L370.9 688.16L371.41 689.17L371.92 689.02L372.43 689.32L372.93 689.88L373.44 689.77L373.95 690.16L374.46 689.81L374.96 690.04L375.47 690.53L375.98 690.58L376.49 690.41L376.99 691.12L377.5 685.44L378.01 683.49L378.51 682.04L379.02 681.95L379.53 681.22L380.03 681.5L380.54 681.94L381.05 681.85L381.56 681.62L382.06 682.14L382.57 682.4L383.08 682.4L383.58 683.7L384.09 688.88L384.6 696.49L385.1 702.34L385.61 706L386.12 709.27L386.62 712.25L387.13 714.01L387.64 716.48L388.14 717.72L388.65 717.77L389.16 716.41L389.67 715.36L390.17 715.24L390.68 714.7L391.19 713.15L391.69 711.97L392.2 711.49L392.71 709.75L393.22 708.08L393.74 706.49L394.25 705.31L394.76 703.67L395.27 702.53L395.79 700.41L396.3 699.57L396.81 698.48L397.32 696.97L397.84 695.93L398.35 694.94L398.86 693.33L399.38 692.84L399.89 691.88L400.4 691.52L400.91 691.71L401.43 690.93L401.94 690.84L402.45 690.56L402.96 691.15L403.48 690.89L403.99 691.28L404.5 693.61L405.01 694.98L405.53 694.79L406.04 694.98L406.55 695.49L407.07 695.41L407.58 695.13L408.09 695.55L408.6 695.91L409.12 695.74L409.63 695.64L410.14 695.38L410.66 695.57L411.17 696.15L411.68 695.94L412.2 696.51L412.71 696.18L413.22 696.2L413.73 696.55L414.25 696.89L414.76 697L415.27 696.66L415.79 696.57L416.3 691.09L416.81 689.05L417.32 688.41L417.84 687.48L418.35 687.19L418.86 686.8L419.38 687.03L419.89 687.16L420.4 687.74L420.91 687.67L421.43 687.9L421.94 687.26L422.45 687.22L422.96 687.47L423.48 686.94L423.99 687.21L424.5 685.24L425.01 683.74L425.52 683.25L426.03 683.62L426.54 683.15L427.05 683.43L427.56 683.33L428.07 683.26L428.58 683.72L429.09 683.44L429.61 683.81L430.12 683.91L430.63 683.69L431.14 683.12L431.65 683.1L432.16 683.73L432.67 683.31L433.18 683.45L433.69 683.12L434.2 683.94L434.72 684.34L435.23 684.8L435.75 684.77L436.27 684.33L436.78 684.91L437.3 685.02L437.82 685.51L438.33 685.37L438.85 685.18L439.37 685.29L439.88 685.53L440.4 687.56L440.9 688.84L441.4 690.08L441.9 690.73L442.4 691.12L442.9 692.39L443.4 693.24L443.9 693.48L444.4 694.33L444.9 696.12L445.4 697.65L445.9 698.87L446.4 701.2L446.9 703.11L447.4 704.43L447.9 706.09L448.4 706.09L448.4 679.5Z" fill="#2a5394"/>
<line x1="31" y1="679.5" x2="448.4" y2="679.5" stroke="#7a1c24" stroke-width="0.5" />
<path d="M66.6 636.3V723.6M102 636.3V723.6M130.5 636.3V723.6M158.6 636.3V723.6M184.4 636.3V723.6M209.3 636.3V723.6M233 636.3V723.6M254 636.3V723.6M273.7 636.3V723.6M293.7 636.3V723.6M313.1 636.3V723.6M332.3 636.3V723.6M348.8 636.3V723.6M363.8 636.3V723.6M377.5 636.3V723.6M392.2 636.3V723.6M404.5 636.3V723.6M416.3 636.3V723.6M424.5 636.3V723.6M434.2 636.3V723.6M440.4 636.3V723.6M448.4 636.3V723.6" stroke="#2a2a2a" stroke-width="0.7" stroke-dasharray="1.1 1.3" fill="none"/>
<text x="48.8" y="721.6" font-size="6" font-weight="normal" font-style="normal" text-anchor="middle" fill="#222" >chr1</text>
<text x="84.3" y="642.3" font-size="6" font-weight="normal" font-style="normal" text-anchor="middle" fill="#222" >chr2</text>
<text x="116.25" y="721.6" font-size="6" font-weight="normal" font-style="normal" text-anchor="middle" fill="#222" >chr3</text>
<text x="144.55" y="642.3" font-size="6" font-weight="normal" font-style="normal" text-anchor="middle" fill="#222" >chr4</text>
<text x="171.5" y="721.6" font-size="6" font-weight="normal" font-style="normal" text-anchor="middle" fill="#222" >chr5</text>
<text x="196.85" y="642.3" font-size="6" font-weight="normal" font-style="normal" text-anchor="middle" fill="#222" >chr6</text>
<text x="221.15" y="721.6" font-size="6" font-weight="normal" font-style="normal" text-anchor="middle" fill="#222" >chr7</text>
<text x="243.5" y="642.3" font-size="6" font-weight="normal" font-style="normal" text-anchor="middle" fill="#222" >chr8</text>
<text x="263.85" y="721.6" font-size="6" font-weight="normal" font-style="normal" text-anchor="middle" fill="#222" >chr9</text>
<text x="283.7" y="642.3" font-size="6" font-weight="normal" font-style="normal" text-anchor="middle" fill="#222" >chr10</text>
<text x="303.4" y="721.6" font-size="6" font-weight="normal" font-style="normal" text-anchor="middle" fill="#222" >chr11</text>
<text x="322.7" y="642.3" font-size="6" font-weight="normal" font-style="normal" text-anchor="middle" fill="#222" >chr12</text>
<text x="340.55" y="721.6" font-size="6" font-weight="normal" font-style="normal" text-anchor="middle" fill="#222" >chr13</text>
<text x="356.3" y="642.3" font-size="6" font-weight="normal" font-style="normal" text-anchor="middle" fill="#222" >chr14</text>
<text x="370.65" y="721.6" font-size="6" font-weight="normal" font-style="normal" text-anchor="middle" fill="#222" >chr15</text>
<text x="384.85" y="642.3" font-size="6" font-weight="normal" font-style="normal" text-anchor="middle" fill="#222" >chr16</text>
<text x="398.35" y="721.6" font-size="6" font-weight="normal" font-style="normal" text-anchor="middle" fill="#222" >chr17</text>
<text x="410.4" y="642.3" font-size="6" font-weight="normal" font-style="normal" text-anchor="middle" fill="#222" >chr18</text>
<text x="420.4" y="721.6" font-size="6" font-weight="normal" font-style="normal" text-anchor="middle" fill="#222" >chr19</text>
<text x="429.35" y="642.3" font-size="6" font-weight="normal" font-style="normal" text-anchor="middle" fill="#222" >chr20</text>
<text x="437.3" y="721.6" font-size="6" font-weight="normal" font-style="normal" text-anchor="middle" fill="#222" >chr21</text>
<text x="444.4" y="642.3" font-size="6" font-weight="normal" font-style="normal" text-anchor="middle" fill="#222" >chr22</text>
<text x="26.6" y="658.41" font-size="6.6" font-weight="normal" font-style="normal" text-anchor="end" fill="#333" >30</text>
<line x1="27.4" y1="656.1" x2="30.4" y2="656.1" stroke="#aaa" stroke-width="0.5" />
<text x="26.6" y="681.81" font-size="6.6" font-weight="normal" font-style="normal" text-anchor="end" fill="#333" >0</text>
<line x1="27.4" y1="679.5" x2="30.4" y2="679.5" stroke="#aaa" stroke-width="0.5" />
<text x="26.6" y="705.21" font-size="6.6" font-weight="normal" font-style="normal" text-anchor="end" fill="#333" >−30</text>
<line x1="27.4" y1="702.9" x2="30.4" y2="702.9" stroke="#aaa" stroke-width="0.5" />
<text x="7.9" y="674.2" font-size="8.9" font-weight="normal" font-style="normal" text-anchor="middle" fill="#222" transform="rotate(-90 7.9 674.2)">Frequency</text>
<text x="29.9" y="740.9" font-size="7.6" font-weight="bold" font-style="normal" text-anchor="start" fill="#111" >Cluster2</text>
<rect x="30.4" y="748.4" width="420.9" height="88" fill="none" stroke="#cfcfcf" stroke-width="0.6"/>
<path d="M31 793.2L31 791.58L31.5 791.6L32 791.69L32.5 790.77L33.01 791.11L33.51 791.29L34.01 790.84L34.51 790.9L35.01 790.38L35.51 790.75L36.01 790.19L36.52 790.52L37.02 790.38L37.52 789.97L38.02 789.99L38.52 789.75L39.02 789.81L39.52 790.44L40.03 789.91L40.53 789.92L41.03 790.16L41.53 790.35L42.03 789.78L42.53 789.75L43.03 789.38L43.54 789.33L44.04 789.11L44.54 789.35L45.04 789.31L45.54 789.03L46.04 788.68L46.54 787.3L47.05 786.62L47.55 783.09L48.05 778.54L48.55 773.99L49.05 769.64L49.55 764.42L50.05 761.59L50.55 760.15L51.06 759L51.56 757.4L52.06 756.53L52.56 754.92L53.06 754.62L53.56 754.51L54.06 754.59L54.57 754.41L55.07 754.11L55.57 754.59L56.07 754.77L56.57 754.68L57.07 754.94L57.57 754.8L58.08 754.81L58.58 754.95L59.08 754.81L59.58 754.92L60.08 755.41L60.58 754.8L61.08 755.16L61.59 755.27L62.09 755.38L62.59 754.96L63.09 754.77L63.59 755.14L64.09 755.44L64.59 755.89L65.1 755.36L65.6 755.84L66.1 755.72L66.6 775.29L67.11 784.12L67.61 788.06L68.12 789.99L68.62 791.01L69.13 790.99L69.63 790.74L70.14 790.76L70.65 791.2L71.15 790.93L71.66 791.42L72.16 791.29L72.67 790.84L73.17 790.55L73.68 790.86L74.19 790.63L74.69 790.86L75.2 790.93L75.7 790.91L76.21 790.52L76.71 790.57L77.22 790.86L77.73 790.74L78.23 790.77L78.74 791.06L79.24 790.78L79.75 790.62L80.25 790.75L80.76 790.49L81.27 791.25L81.77 791.13L82.28 790.95L82.78 791.15L83.29 791.4L83.79 791.02L84.3 791.09L84.81 791.28L85.31 791.59L85.82 790.84L86.32 791.09L86.83 791.43L87.33 791.48L87.84 791.47L88.35 790.89L88.85 791.27L89.36 791.36L89.86 791.57L90.37 791.31L90.87 791.44L91.38 791.37L91.89 790.96L92.39 790.6L92.9 790.53L93.4 791.25L93.91 791.25L94.41 790.8L94.92 791.38L95.43 791.47L95.93 791.24L96.44 791.24L96.94 790.89L97.45 790.77L97.95 790.95L98.46 791.24L98.97 791.39L99.47 791.42L99.98 791.62L100.48 791.14L100.99 791.41L101.49 790.84L102 787.25L102.5 786.26L103 785.46L103.5 785.08L104 785.51L104.5 785.35L105 785.78L105.5 785.34L106 785.94L106.5 785.68L107 785.3L107.5 785.33L108 785.99L108.5 786.07L109 786.56L109.5 786.65L110 786.27L110.5 786.21L111 786.83L111.5 786.62L112 786.14L112.5 786.22L113 785.53L113.5 784.99L114 784.93L114.5 784.95L115 784.36L115.5 784.27L116 784.4L116.5 784.23L117 784.13L117.5 783.3L118 783.1L118.5 782.7L119 782.26L119.5 781.86L120 782.39L120.5 782.39L121 781.91L121.5 781.76L122 782.02L122.5 781.84L123 782.17L123.5 782.31L124 782.45L124.5 782.16L125 782.13L125.5 781.82L126 781.21L126.5 781.68L127 781.47L127.5 781.05L128 781.08L128.5 781.13L129 780.89L129.5 781.45L130 780.79L130.5 784.27L131 785.74L131.5 786.39L132.01 787.39L132.51 787.89L133.01 788.02L133.51 787.78L134.01 787.28L134.51 787.09L135.02 787.49L135.52 787.49L136.02 787.39L136.52 787.75L137.02 787.31L137.53 787.16L138.03 787.31L138.53 787.23L139.03 787.3L139.53 787.49L140.03 787.9L140.54 788.14L141.04 788.3L141.54 788.56L142.04 787.86L142.54 788.16L143.04 788.57L143.55 788.49L144.05 788.67L144.55 788.44L145.05 788.46L145.55 788.63L146.06 788.44L146.56 788.42L147.06 788.49L147.56 788.09L148.06 788.41L148.56 788.35L149.07 788.01L149.57 787.8L150.07 788.27L150.57 788.82L151.07 788.21L151.57 788.37L152.08 788.73L152.58 789L153.08 789.03L153.58 788.98L154.08 789.14L154.59 789.31L155.09 788.51L155.59 788.32L156.09 788.93L156.59 788.86L157.09 788.54L157.6 788.7L158.1 789.19L158.6 783.63L159.11 781.24L159.61 779.82L160.12 779.64L160.62 779.84L161.13 779.92L161.64 780.66L162.14 780.55L162.65 780.54L163.15 780.82L163.66 781.39L164.16 781.75L164.67 782.18L165.18 782.3L165.68 782.29L166.19 782L166.69 781.56L167.2 781.89L167.71 781.8L168.21 781.61L168.72 781.52L169.22 782.07L169.73 781.45L170.24 781.5L170.74 781.78L171.25 781.97L171.75 781.63L172.26 781.25L172.76 781.64L173.27 781.76L173.78 781.66L174.28 781.98L174.79 781.9L175.29 781.38L175.8 781.49L176.31 781.29L176.81 781.73L177.32 781.35L177.82 781.26L178.33 781.75L178.84 781.68L179.34 781.51L179.85 781.53L180.35 781.52L180.86 781.85L181.36 781.71L181.87 781.83L182.38 781.46L182.88 781.7L183.39 781.24L183.89 781.4L184.4 783.79L184.91 784.71L185.42 785.42L185.92 785.18L186.43 785.75L186.94 785.49L187.45 785.68L187.96 785.34L188.47 785.82L188.97 785.53L189.48 785.39L189.99 785.81L190.5 786.11L191.01 786.04L191.51 785.76L192.02 786.03L192.53 786.41L193.04 786.19L193.55 785.76L194.06 786.2L194.56 785.75L195.07 786.16L195.58 786.88L196.09 787.46L196.6 787.67L197.1 787.87L197.61 788.44L198.12 788.99L198.63 789.04L199.14 789.5L199.64 789.6L200.15 789.61L200.66 789.37L201.17 789.35L201.68 789.65L202.19 789.81L202.69 789.22L203.2 789.7L203.71 789.83L204.22 789.92L204.73 789.22L205.23 789.16L205.74 788.74L206.25 788.82L206.76 789.11L207.27 789.13L207.78 788.83L208.28 789.15L208.79 788.74L209.3 785.34L209.8 784.09L210.31 783.18L210.81 782.51L211.32 782.53L211.82 781.76L212.33 781.33L212.83 781.46L213.33 781.09L213.84 781.06L214.34 781.13L214.85 781.46L215.35 780.79L215.86 780.45L216.36 780.69L216.86 780.79L217.37 781.07L217.87 780.61L218.38 780.12L218.88 780.36L219.39 780.9L219.89 781.17L220.39 781.46L220.9 782.52L221.4 783.22L221.91 783.54L222.41 784.59L222.91 784.66L223.42 785.5L223.92 785.48L224.43 785.85L224.93 786.31L225.44 786.68L225.94 786.77L226.44 786.7L226.95 786.21L227.45 785.98L227.96 786.05L228.46 786.41L228.97 786.26L229.47 786.14L229.97 786.46L230.48 786.9L230.98 786.74L231.49 786.93L231.99 787.07L232.5 786.96L233 787.63L233.5 787.21L234 787.67L234.5 787.35L235 787.43L235.5 788.21L236 787.79L236.5 787.74L237 788.05L237.5 787.92L238 788.3L238.5 788.97L239 789.22L239.5 788.49L240 785.86L240.5 782.91L241 780.46L241.5 777.62L242 776.09L242.5 774.82L243 773.66L243.5 772.61L244 771.92L244.5 770.65L245 770L245.5 768.62L246 768.32L246.5 768.25L247 767.93L247.5 768.2L248 768.44L248.5 768.69L249 768.67L249.5 768.74L250 768.32L250.5 768.51L251 768.29L251.5 768.62L252 768.99L252.5 768.96L253 768.88L253.5 768.38L254 779.94L254.51 785.14L255.01 787.54L255.52 788.54L256.02 788.33L256.53 788.27L257.03 788.93L257.54 789.4L258.04 789.21L258.55 789.04L259.05 789.42L259.56 789.31L260.06 788.94L260.57 789.51L261.07 789.1L261.58 788.96L262.08 788.8L262.59 789.03L263.09 789.16L263.6 789.18L264.1 789.57L264.61 789.39L265.11 789.58L265.62 789.6L266.12 789.88L266.63 789.91L267.13 790.03L267.64 789.63L268.14 789.75L268.65 789.51L269.15 789.47L269.66 789.71L270.16 789.93L270.67 789.6L271.17 789.38L271.68 789.28L272.18 789.42L272.69 789.42L273.19 789.96L273.7 788.76L274.2 787.77L274.7 787.74L275.2 788.01L275.7 787.85L276.2 787.41L276.7 787.93L277.2 788.17L277.7 787.93L278.2 787.48L278.7 787.76L279.2 788.04L279.7 787.69L280.2 788.2L280.7 788.25L281.2 788.01L281.7 787.68L282.2 787.54L282.7 788.01L283.2 788.29L283.7 788.35L284.2 788.63L284.7 788.62L285.2 788.18L285.7 787.79L286.2 788.31L286.7 788.75L287.2 788.34L287.7 787.96L288.2 787.97L288.7 788.35L289.2 788.23L289.7 788.18L290.2 788.2L290.7 788.46L291.2 788.12L291.7 788.19L292.2 788.76L292.7 788.85L293.2 789.24L293.7 789.16L294.21 788.66L294.72 788.7L295.23 788.64L295.74 788.32L296.25 788.79L296.76 788.7L297.27 788.49L297.78 788.34L298.29 788.04L298.81 787.63L299.32 787.52L299.83 787.67L300.34 787.56L300.85 787.6L301.36 787.15L301.87 787.27L302.38 787.28L302.89 785.21L303.4 781.76L303.91 782.38L304.42 785.29L304.93 786.17L305.44 786.8L305.95 786.93L306.46 787.3L306.97 787.66L307.48 788.09L307.99 788.68L308.51 788.41L309.02 788.27L309.53 788.3L310.04 788.35L310.55 789.13L311.06 788.94L311.57 789.3L312.08 789.43L312.59 789.11L313.1 785.51L313.61 783.77L314.11 783.32L314.62 782.93L315.12 782.66L315.63 782.48L316.13 782.04L316.64 782.23L317.14 782.21L317.65 782.15L318.15 781.44L318.66 780.83L319.16 780.71L319.67 780.81L320.17 781.16L320.68 780.63L321.18 780.96L321.69 781.09L322.19 780.67L322.7 780.09L323.21 780.44L323.71 780.15L324.22 780.61L324.72 780.3L325.23 780.46L325.73 780.49L326.24 780.48L326.74 780.71L327.25 781.49L327.75 781.62L328.26 781.74L328.76 781.7L329.27 782.24L329.77 782.23L330.28 782.59L330.78 782.93L331.29 782.92L331.79 782.66L332.3 786.03L332.8 787.75L333.3 788.65L333.8 788.95L334.3 789.05L334.8 789.24L335.3 789.29L335.8 789.41L336.3 789.41L336.8 789.06L337.3 788.96L337.8 788.93L338.3 788.64L338.8 788.77L339.3 789.35L339.8 789.36L340.3 789.27L340.8 789.02L341.3 789.13L341.8 789.61L342.3 789.47L342.8 789.25L343.3 789.04L343.8 789.28L344.3 789.62L344.8 789.96L345.3 789.67L345.8 789.32L346.3 789.79L346.8 789.61L347.3 789.48L347.8 789.46L348.3 789.78L348.8 788.88L349.3 788.49L349.8 787.99L350.3 787.15L350.8 787.18L351.3 786.59L351.8 786.43L352.3 786.54L352.8 786.67L353.3 786.56L353.8 786.19L354.3 786.46L354.8 786.69L355.3 786.04L355.8 785.95L356.3 786.09L356.8 786.22L357.3 786.63L357.8 786.46L358.3 786.25L358.8 786.51L359.3 786.52L359.8 786.56L360.3 787.05L360.8 787.05L361.3 786.82L361.8 787.03L362.3 787.72L362.8 787.65L363.3 787.71L363.8 788.49L364.31 788.89L364.81 788.86L365.32 788.77L365.83 789.44L366.34 789.48L366.84 789.89L367.35 789.16L367.86 789.66L368.37 789.57L368.87 789.33L369.38 789.38L369.89 789.64L370.4 789.42L370.9 789.58L371.41 789.38L371.92 789.06L372.43 789.3L372.93 789.25L373.44 789.04L373.95 789.02L374.46 788.75L374.96 788.52L375.47 788.33L375.98 789L376.49 788.98L376.99 789.3L377.5 773.44L378.01 766.7L378.51 763.36L379.02 762.32L379.53 761.67L380.03 762.22L380.54 762.03L381.05 762.26L381.56 762.08L382.06 762.8L382.57 763.26L383.08 767.21L383.58 774.39L384.09 782.56L384.6 786.6L385.1 787.93L385.61 788.95L386.12 789.29L386.62 789.51L387.13 789.66L387.64 790.2L388.14 790.66L388.65 790.73L389.16 790.47L389.67 790.44L390.17 790.89L390.68 790.76L391.19 790.91L391.69 791.74L392.2 791.62L392.71 790.43L393.22 789.62L393.74 787.94L394.25 785.94L394.76 784.19L395.27 782.38L395.79 781L396.3 780.05L396.81 779.1L397.32 779.21L397.84 779.18L398.35 779.11L398.86 779.42L399.38 779.48L399.89 779.47L400.4 779.17L400.91 779.1L401.43 779.75L401.94 779.78L402.45 779.61L402.96 779.44L403.48 779.75L403.99 779.85L404.5 783.09L405.01 784.53L405.53 784.97L406.04 785.07L406.55 785.12L407.07 785.96L407.58 785.78L408.09 786.01L408.6 786.21L409.12 786.48L409.63 785.82L410.14 785.55L410.66 785.77L411.17 785.9L411.68 786.23L412.2 785.7L412.71 785.62L413.22 786.15L413.73 786L414.25 785.53L414.76 786.01L415.27 786.13L415.79 786.19L416.3 786.21L416.81 786.41L417.32 785.96L417.84 786.08L418.35 785.67L418.86 785.63L419.38 785.21L419.89 785.06L420.4 784.84L420.91 785.36L421.43 784.94L421.94 784.72L422.45 785.03L422.96 785.39L423.48 785.41L423.99 784.74L424.5 780.23L425.01 778.81L425.52 777.76L426.03 776.88L426.54 776.55L427.05 775.61L427.56 774.73L428.07 774.1L428.58 774.2L429.09 773.3L429.61 772.95L430.12 773.51L430.63 773.23L431.14 773.15L431.65 773.29L432.16 773.6L432.67 773.81L433.18 774.29L433.69 775.13L434.2 780.15L434.72 782.71L435.23 784.32L435.75 785.2L436.27 785.01L436.78 785.04L437.3 785.99L437.82 786.59L438.33 786.34L438.85 786.75L439.37 786.51L439.88 786.93L440.4 787.01L440.9 787.75L441.4 787.47L441.9 787.96L442.4 788.04L442.9 788.09L443.4 788.35L443.9 788.61L444.4 788.61L444.9 789.06L445.4 789.24L445.9 789.42L446.4 788.88L446.9 789.23L447.4 788.83L447.9 788.8L448.4 788.8L448.4 793.2Z" fill="#f2200f"/>
<path d="M31 793.2L31 804.76L31.5 810.53L32 813.15L32.5 813.73L33.01 813.93L33.51 814.11L34.01 813.92L34.51 813.53L35.01 813.71L35.51 813.2L36.01 813.04L36.52 812.53L37.02 812.5L37.52 812.85L38.02 812.28L38.52 811.97L39.02 811.94L39.52 811.74L40.03 811.28L40.53 811.03L41.03 810.96L41.53 811.4L42.03 811.39L42.53 811.18L43.03 810.75L43.54 810.61L44.04 809.61L44.54 809.36L45.04 808.77L45.54 808.75L46.04 807.93L46.54 807.05L47.05 805.93L47.55 804.83L48.05 803.38L48.55 801.54L49.05 800.24L49.55 799.03L50.05 797.84L50.55 795.88L51.06 795.4L51.56 795.17L52.06 794.52L52.56 794.17L53.06 794.43L53.56 794.56L54.06 794.36L54.57 794.53L55.07 794.14L55.57 794.36L56.07 794.41L56.57 794.7L57.07 794.72L57.57 794.1L58.08 794.27L58.58 793.92L59.08 794.13L59.58 794.36L60.08 794.47L60.58 793.85L61.08 794.06L61.59 793.8L62.09 793.98L62.59 794.04L63.09 794.05L63.59 794.3L64.09 793.96L64.59 793.97L65.1 793.74L65.6 793.58L66.1 793.9L66.6 799.13L67.11 802.11L67.61 803.05L68.12 803.24L68.62 803.98L69.13 803.59L69.63 803.69L70.14 804.09L70.65 803.67L71.15 804.14L71.66 804.24L72.16 804.68L72.67 804.27L73.17 804.58L73.68 804.88L74.19 804.56L74.69 804.03L75.2 804.06L75.7 804.53L76.21 803.98L76.71 804.34L77.22 804.41L77.73 804.66L78.23 804.43L78.74 804.88L79.24 804.31L79.75 804.36L80.25 804.28L80.76 804.5L81.27 804.28L81.77 804.36L82.28 804.46L82.78 804.97L83.29 804.36L83.79 804.34L84.3 804.22L84.81 804.7L85.31 804.97L85.82 804.37L86.32 804.83L86.83 805.13L87.33 804.87L87.84 804.88L88.35 805.07L88.85 805.28L89.36 804.71L89.86 804.91L90.37 804.41L90.87 804.45L91.38 804.99L91.89 804.96L92.39 804.86L92.9 804.73L93.4 804.68L93.91 804.26L94.41 804.57L94.92 805.07L95.43 804.52L95.93 804.19L96.44 804.6L96.94 804.97L97.45 804.77L97.95 804.35L98.46 804.69L98.97 804.86L99.47 804.53L99.98 804.93L100.48 804.86L100.99 805.05L101.49 804.62L102 801.38L102.5 800.31L103 799.95L103.5 800.07L104 800.33L104.5 800.34L105 799.78L105.5 800.08L106 800.51L106.5 800.92L107 800.78L107.5 800.58L108 801.1L108.5 801.08L109 801.48L109.5 801.3L110 801.66L110.5 800.86L111 800.83L111.5 800.95L112 800.62L112.5 799.83L113 799.69L113.5 799.72L114 799.39L114.5 799.33L115 799.05L115.5 798.35L116 797.62L116.5 797.72L117 797.53L117.5 797.72L118 797.41L118.5 797.49L119 796.94L119.5 797.23L120 797.42L120.5 797.42L121 797.34L121.5 797.16L122 796.57L122.5 796.41L123 796.25L123.5 796.15L124 796.34L124.5 796.17L125 796.33L125.5 796.59L126 796.76L126.5 795.85L127 795.98L127.5 795.96L128 795.78L128.5 795.94L129 796.11L129.5 795.54L130 795.61L130.5 799.9L131 802.11L131.5 803.02L132.01 803.89L132.51 804.37L133.01 804.55L133.51 804.31L134.01 804.39L134.51 804.38L135.02 804.27L135.52 803.85L136.02 803.79L136.52 804.42L137.02 804.37L137.53 803.9L138.03 803.92L138.53 803.73L139.03 803.64L139.53 803.85L140.03 803.87L140.54 803.63L141.04 803.98L141.54 804.55L142.04 804.38L142.54 804.24L143.04 804.17L143.55 804.04L144.05 804.04L144.55 803.93L145.05 804.11L145.55 804.65L146.06 804.39L146.56 804.76L147.06 804.58L147.56 804.63L148.06 804.51L148.56 804.38L149.07 804.8L149.57 804.72L150.07 804.3L150.57 804.24L151.07 804.29L151.57 804.49L152.08 804.41L152.58 804.27L153.08 804.25L153.58 804.91L154.08 804.97L154.59 805.12L155.09 805.23L155.59 804.56L156.09 804.65L156.59 804.87L157.09 804.76L157.6 804.75L158.1 804.85L158.6 799.76L159.11 797.05L159.61 795.73L160.12 795.36L160.62 794.98L161.13 795.08L161.64 794.89L162.14 794.88L162.65 795.42L163.15 795.24L163.66 795.66L164.16 795.59L164.67 795.97L165.18 795.89L165.68 796.17L166.19 795.89L166.69 795.77L167.2 796.21L167.71 796.2L168.21 795.96L168.72 796.3L169.22 796.32L169.73 796.27L170.24 795.68L170.74 796.25L171.25 795.77L171.75 795.49L172.26 795.68L172.76 795.65L173.27 795.69L173.78 795.96L174.28 796.12L174.79 796.37L175.29 796.67L175.8 796.66L176.31 796.84L176.81 796.52L177.32 796.12L177.82 796.49L178.33 796.95L178.84 796.38L179.34 796.56L179.85 796.45L180.35 796.98L180.86 796.33L181.36 796.47L181.87 796.44L182.38 796.45L182.88 796.83L183.39 796.31L183.89 796.35L184.4 797.04L184.91 796.97L185.42 796.62L185.92 797.13L186.43 797.5L186.94 798.03L187.45 798.32L187.96 798.62L188.47 798.2L188.97 798.17L189.48 798.61L189.99 798.58L190.5 798.7L191.01 798.53L191.51 798.71L192.02 798.82L192.53 799.21L193.04 799.79L193.55 799.67L194.06 799.81L194.56 799.98L195.07 800.97L195.58 802.2L196.09 803.36L196.6 804.54L197.1 805.57L197.61 806.79L198.12 808.05L198.63 809.26L199.14 809.61L199.64 810.83L200.15 810.85L200.66 811.25L201.17 811.11L201.68 810.66L202.19 809.96L202.69 809.59L203.2 809.97L203.71 809.31L204.22 808.95L204.73 809.31L205.23 809.28L205.74 809.23L206.25 808.53L206.76 808.96L207.27 808.85L207.78 808L208.28 808.05L208.79 807.74L209.3 801.47L209.8 799.06L210.31 798.38L210.81 797.22L211.32 797.48L211.82 797.77L212.33 797.15L212.83 797.69L213.33 797.14L213.84 797.24L214.34 797.05L214.85 797.16L215.35 797.26L215.86 797.72L216.36 797.86L216.86 798.48L217.37 798.61L217.87 798.07L218.38 797.87L218.88 798.03L219.39 798.67L219.89 798.99L220.39 799.22L220.9 799.4L221.4 799.41L221.91 799.32L222.41 799.62L222.91 799.8L223.42 799.94L223.92 800.13L224.43 799.96L224.93 799.52L225.44 799.9L225.94 800.22L226.44 800.66L226.95 800.73L227.45 800.98L227.96 801.17L228.46 800.77L228.97 801.22L229.47 801.16L229.97 801.06L230.48 801.1L230.98 801.23L231.49 801.28L231.99 801.67L232.5 801.46L233 798.84L233.5 800.12L234 803.27L234.5 806.72L235 810.37L235.5 810.86L236 809.56L236.5 807.43L237 803.82L237.5 801.53L238 799.9L238.5 799.13L239 798.18L239.5 796.61L240 796.26L240.5 795.28L241 794.58L241.5 794.23L242 794.05L242.5 794.14L243 794.02L243.5 794.55L244 794.26L244.5 794.4L245 794.68L245.5 794.6L246 794.43L246.5 794.5L247 794.54L247.5 794.67L248 794.74L248.5 794.51L249 794.75L249.5 795.03L250 795.26L250.5 795.03L251 794.62L251.5 794.16L252 794.36L252.5 794.98L253 795.26L253.5 795.12L254 800.11L254.51 802.35L255.01 803.31L255.52 803.99L256.02 804.78L256.53 804.42L257.03 804.82L257.54 804.74L258.04 804.43L258.55 804.45L259.05 804.07L259.56 804.45L260.06 804.86L260.57 804.48L261.07 804.92L261.58 804.46L262.08 804.3L262.59 804.54L263.09 804.19L263.6 803.85L264.1 804.12L264.61 804.23L265.11 803.95L265.62 803.83L266.12 803.71L266.63 803.72L267.13 803.67L267.64 804.12L268.14 804.54L268.65 804.44L269.15 804.03L269.66 804.14L270.16 804.57L270.67 804.18L271.17 804.35L271.68 803.73L272.18 804.16L272.69 804.43L273.19 804.25L273.7 803.3L274.2 802.61L274.7 802.49L275.2 802.18L275.7 801.96L276.2 801.78L276.7 801.99L277.2 802.3L277.7 801.76L278.2 802.15L278.7 801.73L279.2 802.15L279.7 802.42L280.2 802.75L280.7 802.67L281.2 802.66L281.7 802.7L282.2 802.73L282.7 802.78L283.2 802.81L283.7 803L284.2 802.64L284.7 803.07L285.2 802.56L285.7 802.2L286.2 802.07L286.7 802.51L287.2 803.01L287.7 802.56L288.2 803.11L288.7 803L289.2 803.13L289.7 802.74L290.2 803.37L290.7 803.16L291.2 802.88L291.7 803.14L292.2 802.72L292.7 803.13L293.2 803.52L293.7 801.45L294.21 800.72L294.72 800.5L295.23 800.42L295.74 800.87L296.25 801.34L296.76 801.31L297.27 801.6L297.78 802.02L298.29 802.21L298.81 801.97L299.32 802.44L299.83 802.06L300.34 802.58L300.85 802.2L301.36 802.34L301.87 802.29L302.38 802.79L302.89 802.67L303.4 803.17L303.91 803.07L304.42 803.59L304.93 803.74L305.44 803.87L305.95 804.6L306.46 806.35L306.97 807.43L307.48 808.89L307.99 810.93L308.51 812.65L309.02 814.11L309.53 815.51L310.04 817.18L310.55 817.44L311.06 816.51L311.57 814.98L312.08 812.92L312.59 811.28L313.1 802.42L313.61 798.62L314.11 796.42L314.62 795.57L315.12 795.7L315.63 795.22L316.13 795.04L316.64 795.72L317.14 796.07L317.65 796.31L318.15 796.27L318.66 795.81L319.16 795.91L319.67 795.9L320.17 795.5L320.68 795.41L321.18 795.82L321.69 795.85L322.19 796.03L322.7 796.46L323.21 795.86L323.71 795.7L324.22 796.43L324.72 795.95L325.23 796L325.73 796.22L326.24 796.07L326.74 796.13L327.25 795.97L327.75 796.53L328.26 796.25L328.76 796.62L329.27 796.55L329.77 796.59L330.28 796.22L330.78 796.84L331.29 796.32L331.79 796.91L332.3 804.31L332.8 808.08L333.3 809.94L333.8 811.03L334.3 811.28L334.8 812.19L335.3 812.07L335.8 812L336.3 812.55L336.8 812.82L337.3 812.99L337.8 813.49L338.3 813.75L338.8 813.41L339.3 813.91L339.8 814.23L340.3 813.68L340.8 813.89L341.3 814.27L341.8 813.95L342.3 813.7L342.8 813.68L343.3 813.96L343.8 813.25L344.3 813.5L344.8 813.61L345.3 813.84L345.8 813.61L346.3 813.09L346.8 813.18L347.3 813.25L347.8 812.66L348.3 812.96L348.8 806.15L349.3 803.1L349.8 801.81L350.3 801.23L350.8 800.54L351.3 800.26L351.8 800.02L352.3 800.24L352.8 800.27L353.3 800.67L353.8 800.4L354.3 800.34L354.8 800.71L355.3 801.15L355.8 801.09L356.3 800.69L356.8 801.36L357.3 801.34L357.8 801.69L358.3 801.72L358.8 801.91L359.3 801.94L359.8 801.91L360.3 802.03L360.8 801.93L361.3 802.2L361.8 802.29L362.3 801.65L362.8 801.68L363.3 802.16L363.8 802.15L364.31 802.14L364.81 801.98L365.32 801.64L365.83 801.85L366.34 801.6L366.84 801.68L367.35 802.04L367.86 802.23L368.37 802.54L368.87 802.68L369.38 802.95L369.89 802.93L370.4 803.18L370.9 802.62L371.41 802.82L371.92 803.4L372.43 803.52L372.93 803.71L373.44 803.96L373.95 803.35L374.46 803.44L374.96 803.89L375.47 803.61L375.98 803.71L376.49 803.48L376.99 803.32L377.5 798.93L378.01 796.8L378.51 795.88L379.02 795.57L379.53 795.11L380.03 795.18L380.54 795.15L381.05 794.83L381.56 794.69L382.06 794.38L382.57 794.47L383.08 794.89L383.58 796.38L384.09 803.11L384.6 810.62L385.1 817.4L385.61 821.27L386.12 823.79L386.62 826.5L387.13 828.33L387.64 830.39L388.14 831.72L388.65 831.49L389.16 830.83L389.67 829.89L390.17 828.89L390.68 828.74L391.19 827.91L391.69 826.91L392.2 822.47L392.71 819.43L393.22 816.96L393.74 815.71L394.25 813.81L394.76 812.05L395.27 811.05L395.79 809.24L396.3 808.21L396.81 807.98L397.32 807.58L397.84 806.91L398.35 806.29L398.86 805.91L399.38 805.7L399.89 806.06L400.4 805.75L400.91 805.64L401.43 805.24L401.94 804.71L402.45 805.25L402.96 805.07L403.48 804.9L403.99 804.65L404.5 805.84L405.01 807.08L405.53 807.65L406.04 807.26L406.55 807.65L407.07 807.89L407.58 807.21L408.09 807.58L408.6 806.88L409.12 807.2L409.63 807.53L410.14 806.85L410.66 806.8L411.17 806.34L411.68 806.58L412.2 806.2L412.71 806.41L413.22 806.18L413.73 806.05L414.25 806.41L414.76 806.13L415.27 805.88L415.79 805.87L416.3 802.74L416.81 801.57L417.32 800.91L417.84 800.55L418.35 800.46L418.86 799.96L419.38 800.08L419.89 799.49L420.4 799.21L420.91 799.48L421.43 799.63L421.94 799.3L422.45 799.77L422.96 799.11L423.48 799.42L423.99 799.26L424.5 798.39L425.01 797.8L425.52 797.15L426.03 797.17L426.54 797.37L427.05 797.47L427.56 797.55L428.07 797.05L428.58 796.99L429.09 796.54L429.61 796.6L430.12 796.57L430.63 796.87L431.14 796.3L431.65 795.96L432.16 796.31L432.67 796.59L433.18 795.99L433.69 796.25L434.2 798.99L434.72 800.9L435.23 801.55L435.75 801.43L436.27 801.54L436.78 802.02L437.3 802.35L437.82 801.63L438.33 801.68L438.85 801.4L439.37 802.08L439.88 802.38L440.4 803.19L440.9 804.22L441.4 804.36L441.9 805.23L442.4 805.24L442.9 805.61L443.4 806.24L443.9 806.97L444.4 807.29L444.9 807.63L445.4 808.26L445.9 809.21L446.4 810.29L446.9 811.68L447.4 812.41L447.9 813.96L448.4 813.96L448.4 793.2Z" fill="#2a5394"/>
<line x1="31" y1="793.2" x2="448.4" y2="793.2" stroke="#7a1c24" stroke-width="0.5" />
<path d="M66.6 748.4V836.4M102 748.4V836.4M130.5 748.4V836.4M158.6 748.4V836.4M184.4 748.4V836.4M209.3 748.4V836.4M233 748.4V836.4M254 748.4V836.4M273.7 748.4V836.4M293.7 748.4V836.4M313.1 748.4V836.4M332.3 748.4V836.4M348.8 748.4V836.4M363.8 748.4V836.4M377.5 748.4V836.4M392.2 748.4V836.4M404.5 748.4V836.4M416.3 748.4V836.4M424.5 748.4V836.4M434.2 748.4V836.4M440.4 748.4V836.4M448.4 748.4V836.4" stroke="#2a2a2a" stroke-width="0.7" stroke-dasharray="1.1 1.3" fill="none"/>
<text x="48.8" y="834.5" font-size="6" font-weight="normal" font-style="normal" text-anchor="middle" fill="#222" >chr1</text>
<text x="84.3" y="754.6" font-size="6" font-weight="normal" font-style="normal" text-anchor="middle" fill="#222" >chr2</text>
<text x="116.25" y="834.5" font-size="6" font-weight="normal" font-style="normal" text-anchor="middle" fill="#222" >chr3</text>
<text x="144.55" y="754.6" font-size="6" font-weight="normal" font-style="normal" text-anchor="middle" fill="#222" >chr4</text>
<text x="171.5" y="834.5" font-size="6" font-weight="normal" font-style="normal" text-anchor="middle" fill="#222" >chr5</text>
<text x="196.85" y="754.6" font-size="6" font-weight="normal" font-style="normal" text-anchor="middle" fill="#222" >chr6</text>
<text x="221.15" y="834.5" font-size="6" font-weight="normal" font-style="normal" text-anchor="middle" fill="#222" >chr7</text>
<text x="243.5" y="754.6" font-size="6" font-weight="normal" font-style="normal" text-anchor="middle" fill="#222" >chr8</text>
<text x="263.85" y="834.5" font-size="6" font-weight="normal" font-style="normal" text-anchor="middle" fill="#222" >chr9</text>
<text x="283.7" y="754.6" font-size="6" font-weight="normal" font-style="normal" text-anchor="middle" fill="#222" >chr10</text>
<text x="303.4" y="834.5" font-size="6" font-weight="normal" font-style="normal" text-anchor="middle" fill="#222" >chr11</text>
<text x="322.7" y="754.6" font-size="6" font-weight="normal" font-style="normal" text-anchor="middle" fill="#222" >chr12</text>
<text x="340.55" y="834.5" font-size="6" font-weight="normal" font-style="normal" text-anchor="middle" fill="#222" >chr13</text>
<text x="356.3" y="754.6" font-size="6" font-weight="normal" font-style="normal" text-anchor="middle" fill="#222" >chr14</text>
<text x="370.65" y="834.5" font-size="6" font-weight="normal" font-style="normal" text-anchor="middle" fill="#222" >chr15</text>
<text x="384.85" y="754.6" font-size="6" font-weight="normal" font-style="normal" text-anchor="middle" fill="#222" >chr16</text>
<text x="398.35" y="834.5" font-size="6" font-weight="normal" font-style="normal" text-anchor="middle" fill="#222" >chr17</text>
<text x="410.4" y="754.6" font-size="6" font-weight="normal" font-style="normal" text-anchor="middle" fill="#222" >chr18</text>
<text x="420.4" y="834.5" font-size="6" font-weight="normal" font-style="normal" text-anchor="middle" fill="#222" >chr19</text>
<text x="429.35" y="754.6" font-size="6" font-weight="normal" font-style="normal" text-anchor="middle" fill="#222" >chr20</text>
<text x="437.3" y="834.5" font-size="6" font-weight="normal" font-style="normal" text-anchor="middle" fill="#222" >chr21</text>
<text x="444.4" y="754.6" font-size="6" font-weight="normal" font-style="normal" text-anchor="middle" fill="#222" >chr22</text>
<text x="26.6" y="773.91" font-size="6.6" font-weight="normal" font-style="normal" text-anchor="end" fill="#333" >30</text>
<line x1="27.4" y1="771.6" x2="30.4" y2="771.6" stroke="#aaa" stroke-width="0.5" />
<text x="26.6" y="795.51" font-size="6.6" font-weight="normal" font-style="normal" text-anchor="end" fill="#333" >0</text>
<line x1="27.4" y1="793.2" x2="30.4" y2="793.2" stroke="#aaa" stroke-width="0.5" />
<text x="26.6" y="817.11" font-size="6.6" font-weight="normal" font-style="normal" text-anchor="end" fill="#333" >−30</text>
<line x1="27.4" y1="814.8" x2="30.4" y2="814.8" stroke="#aaa" stroke-width="0.5" />
<text x="26.6" y="838.71" font-size="6.6" font-weight="normal" font-style="normal" text-anchor="end" fill="#333" >−60</text>
<line x1="27.4" y1="836.4" x2="30.4" y2="836.4" stroke="#aaa" stroke-width="0.5" />
<text x="7.9" y="795.5" font-size="8.9" font-weight="normal" font-style="normal" text-anchor="middle" fill="#222" transform="rotate(-90 7.9 795.5)">Frequency</text>
<text x="29.9" y="852.8" font-size="7.6" font-weight="bold" font-style="normal" text-anchor="start" fill="#111" >Cluster3</text>
<rect x="29.6" y="855.9" width="421.7" height="86.9" fill="none" stroke="#cfcfcf" stroke-width="0.6"/>
<path d="M31 903.5L31 901.15L31.5 899.93L32 899.3L32.5 899.63L33.01 899.17L33.51 898.98L34.01 898.66L34.51 898.75L35.01 898.6L35.51 898.16L36.01 898.03L36.52 897.62L37.02 897.69L37.52 897.54L38.02 896.74L38.52 896.58L39.02 896.37L39.52 896.01L40.03 896.15L40.53 896.44L41.03 895.83L41.53 895.69L42.03 895.5L42.53 895.4L43.03 894.97L43.54 895.29L44.04 895.01L44.54 895.19L45.04 895.03L45.54 894L46.04 892.45L46.54 890.55L47.05 887.92L47.55 885.09L48.05 882.46L48.55 879.9L49.05 877.05L49.55 874.69L50.05 872.12L50.55 869.31L51.06 867.5L51.56 867.26L52.06 867.21L52.56 867.19L53.06 867.23L53.56 867.01L54.06 866.62L54.57 866.2L55.07 866.46L55.57 866.53L56.07 866.62L56.57 866.63L57.07 866.19L57.57 866.19L58.08 866.45L58.58 866.69L59.08 866.16L59.58 865.98L60.08 865.77L60.58 866.22L61.08 866.12L61.59 865.71L62.09 865.82L62.59 865.53L63.09 866.11L63.59 865.61L64.09 866.23L64.59 866.16L65.1 866.48L65.6 865.88L66.1 865.71L66.6 877.46L67.11 882.83L67.61 885.04L68.12 886.34L68.62 886.43L69.13 886.62L69.63 887.01L70.14 886.52L70.65 886.79L71.15 887.01L71.66 887.14L72.16 886.76L72.67 886.77L73.17 886.01L73.68 885.57L74.19 885.99L74.69 886.21L75.2 885.84L75.7 885.93L76.21 885.55L76.71 885.05L77.22 885.28L77.73 885.42L78.23 885.25L78.74 885.8L79.24 886.35L79.75 886.28L80.25 886.53L80.76 886.77L81.27 887.28L81.77 887.97L82.28 888.22L82.78 888.41L83.29 888.88L83.79 889.67L84.3 890.18L84.81 890.51L85.31 890.52L85.82 890.93L86.32 891.33L86.83 891.45L87.33 892.38L87.84 892.52L88.35 892.9L88.85 892.9L89.36 892.68L89.86 893.18L90.37 892.78L90.87 893.47L91.38 893.36L91.89 893.38L92.39 893.71L92.9 893.6L93.4 893.67L93.91 893.77L94.41 893.6L94.92 894.24L95.43 894.22L95.93 893.87L96.44 894.35L96.94 893.94L97.45 894.41L97.95 894.22L98.46 894.65L98.97 894.63L99.47 894.69L99.98 895.07L100.48 894.71L100.99 894.79L101.49 894.68L102 892.46L102.5 891.66L103 891.53L103.5 891.89L104 891.69L104.5 892.57L105 892.43L105.5 892.59L106 893.21L106.5 893.43L107 893.83L107.5 894.28L108 894.92L108.5 895.27L109 895.49L109.5 895.72L110 895.3L110.5 895.79L111 896.05L111.5 896.23L112 896.01L112.5 895.81L113 895.24L113.5 894.85L114 894.25L114.5 893.74L115 892.98L115.5 892.19L116 890.86L116.5 890.19L117 889.84L117.5 888.94L118 888.45L118.5 887.39L119 886.63L119.5 885.63L120 885.53L120.5 884.71L121 884.68L121.5 883.77L122 883.46L122.5 883.66L123 882.81L123.5 882.71L124 882.36L124.5 882.19L125 881.24L125.5 881.3L126 880.5L126.5 880.31L127 879.87L127.5 879.94L128 880.08L128.5 879.27L129 879.06L129.5 879.33L130 878.6L130.5 888.78L131 893.89L131.5 896.18L132.01 896.49L132.51 896.91L133.01 896.38L133.51 896.22L134.01 895.77L134.51 895.53L135.02 895.07L135.52 894.65L136.02 894.51L136.52 894.29L137.02 894.28L137.53 894.29L138.03 894.17L138.53 893.24L139.03 893.37L139.53 893.57L140.03 894.11L140.54 894.42L141.04 894.99L141.54 895.29L142.04 895.97L142.54 896.38L143.04 896.31L143.55 896.21L144.05 896.02L144.55 896.54L145.05 896.25L145.55 896.06L146.06 895.99L146.56 896.79L147.06 896.93L147.56 896.65L148.06 896.5L148.56 897.19L149.07 897.19L149.57 896.91L150.07 896.77L150.57 896.94L151.07 897.35L151.57 897.37L152.08 897.73L152.58 897.67L153.08 897.57L153.58 897.17L154.08 897.23L154.59 897.45L155.09 897.73L155.59 897.81L156.09 897.54L156.59 897.65L157.09 897.98L157.6 897.54L158.1 897.6L158.6 886.74L159.11 882.41L159.61 880.53L160.12 880.02L160.62 879.78L161.13 879.53L161.64 879.51L162.14 879.96L162.65 880.53L163.15 881.28L163.66 881.05L164.16 884.3L164.67 889.41L165.18 892.93L165.68 894.6L166.19 895.07L166.69 894.8L167.2 894.95L167.71 895.11L168.21 895.28L168.72 895.78L169.22 896.17L169.73 895.99L170.24 896.48L170.74 896.26L171.25 896.3L171.75 896.28L172.26 896.58L172.76 896.7L173.27 896.29L173.78 896.34L174.28 895.82L174.79 895.82L175.29 895.45L175.8 895.09L176.31 894.98L176.81 894.93L177.32 895.14L177.82 895.02L178.33 894.3L178.84 894.56L179.34 894.59L179.85 894.33L180.35 894.08L180.86 893.67L181.36 893.87L181.87 893.26L182.38 893.79L182.88 893.23L183.39 893.11L183.89 892.67L184.4 890.36L184.91 887.94L185.42 885.74L185.92 884.13L186.43 883.05L186.94 881.03L187.45 880.18L187.96 880.71L188.47 880.38L188.97 881.04L189.48 881.44L189.99 881.06L190.5 881.06L191.01 881.2L191.51 882L192.02 882.91L192.53 883.99L193.04 884.63L193.55 884.96L194.06 885.87L194.56 886.51L195.07 887.87L195.58 888.41L196.09 888.72L196.6 889.53L197.1 889.23L197.61 889.74L198.12 889.98L198.63 890.28L199.14 889.89L199.64 890.25L200.15 889.67L200.66 890.37L201.17 889.97L201.68 889.88L202.19 890.06L202.69 890.18L203.2 890.07L203.71 890.21L204.22 890.78L204.73 890.47L205.23 890.79L205.74 890.76L206.25 890.86L206.76 890.58L207.27 890.95L207.78 890.75L208.28 891.43L208.79 891.55L209.3 884.29L209.8 881.22L210.31 879.77L210.81 879.84L211.32 879.46L211.82 879.43L212.33 880.17L212.83 880.64L213.33 880.57L213.84 880.32L214.34 880.68L214.85 881.15L215.35 881.43L215.86 881.41L216.36 881.81L216.86 882.29L217.37 882.78L217.87 883.02L218.38 883.58L218.88 884.13L219.39 885.25L219.89 885.77L220.39 886.13L220.9 886.72L221.4 886.94L221.91 887.07L222.41 887.86L222.91 887.86L223.42 888.01L223.92 888.21L224.43 888.03L224.93 887.49L225.44 887.45L225.94 888.06L226.44 888.2L226.95 888.15L227.45 887.64L227.96 887.81L228.46 888.17L228.97 887.96L229.47 888.15L229.97 888.44L230.48 888.04L230.98 887.49L231.49 887.45L231.99 887.46L232.5 888.02L233 891.79L233.5 893.74L234 894.83L234.5 895.94L235 897.13L235.5 897.17L236 898.14L236.5 898.46L237 899.18L237.5 898.23L238 896.35L238.5 893.88L239 890.59L239.5 887.2L240 883.53L240.5 880.56L241 877.74L241.5 875.51L242 872.93L242.5 871.05L243 868.3L243.5 865.77L244 865.33L244.5 864.2L245 863.61L245.5 863.27L246 863.51L246.5 862.88L247 862.4L247.5 862.17L248 861.6L248.5 861.2L249 861.16L249.5 860.71L250 861.19L250.5 861.35L251 861.3L251.5 861.37L252 861.1L252.5 861.36L253 861.59L253.5 861.78L254 880.41L254.51 889.3L255.01 892.98L255.52 894.77L256.02 895.76L256.53 896.26L257.03 896.66L257.54 896.98L258.04 896.81L258.55 896.77L259.05 896.96L259.56 896.67L260.06 896.66L260.57 896.12L261.07 896.01L261.58 896.07L262.08 895.93L262.59 896.4L263.09 896.76L263.6 896.46L264.1 896.68L264.61 896.07L265.11 896.32L265.62 896L266.12 896.46L266.63 896.81L267.13 896.46L267.64 896.25L268.14 896.56L268.65 896.07L269.15 895.81L269.66 895.96L270.16 895.75L270.67 895.65L271.17 896.39L271.68 896.18L272.18 896.07L272.69 896.03L273.19 896.39L273.7 885.42L274.2 881.03L274.7 879.39L275.2 879.99L275.7 880.54L276.2 881.43L276.7 881.97L277.2 883.43L277.7 884.73L278.2 885.85L278.7 886.93L279.2 887.71L279.7 888.24L280.2 889.06L280.7 889.76L281.2 889.64L281.7 890L282.2 890.04L282.7 889.99L283.2 890.33L283.7 890.33L284.2 890.53L284.7 890.5L285.2 890.67L285.7 890.71L286.2 890.97L286.7 891.62L287.2 891.81L287.7 891.73L288.2 891.79L288.7 891.96L289.2 892.03L289.7 892.18L290.2 892.61L290.7 892.8L291.2 893.55L291.7 893.58L292.2 893.45L292.7 893.32L293.2 893.42L293.7 894.33L294.21 894.76L294.72 894.15L295.23 893.91L295.74 894.06L296.25 894.08L296.76 893.13L297.27 892.8L297.78 892.9L298.29 891.94L298.81 891.7L299.32 891.25L299.83 890.82L300.34 890.96L300.85 890.59L301.36 890.57L301.87 889.97L302.38 889.68L302.89 887.35L303.4 884.88L303.91 886.15L304.42 888.77L304.93 890.39L305.44 890.8L305.95 890.54L306.46 890.58L306.97 891.3L307.48 891.09L307.99 891.63L308.51 891.93L309.02 891.76L309.53 892.07L310.04 892.37L310.55 892.68L311.06 892.8L311.57 892.91L312.08 892.35L312.59 892.99L313.1 890.14L313.61 889.23L314.11 888.4L314.62 888.77L315.12 888.65L315.63 888.31L316.13 888.89L316.64 888.85L317.14 888.97L317.65 888.94L318.15 888.85L318.66 889.39L319.16 888.96L319.67 889.38L320.17 889.16L320.68 889.73L321.18 890.08L321.69 890.2L322.19 890.43L322.7 890.43L323.21 890.56L323.71 890.69L324.22 890.05L324.72 890.08L325.23 890.15L325.73 890.19L326.24 889.94L326.74 890.57L327.25 890.87L327.75 890.45L328.26 890.9L328.76 890.65L329.27 890.45L329.77 890.17L330.28 890.86L330.78 890.81L331.29 890.9L331.79 890.7L332.3 894.27L332.8 895.09L333.3 895.14L333.8 895.43L334.3 895.34L334.8 895.02L335.3 894.74L335.8 894.53L336.3 894.62L336.8 894.92L337.3 894.28L337.8 893.82L338.3 893.63L338.8 893.79L339.3 893.12L339.8 893.04L340.3 893.17L340.8 892.76L341.3 893.17L341.8 893.42L342.3 892.97L342.8 893.64L343.3 893.25L343.8 893.59L344.3 893.65L344.8 893.63L345.3 893.5L345.8 894.15L346.3 894.63L346.8 894.53L347.3 894.82L347.8 894.84L348.3 895.21L348.8 894.3L349.3 893.36L349.8 893.34L350.3 893.06L350.8 892.74L351.3 892.79L351.8 892.07L352.3 891.57L352.8 892.09L353.3 891.52L353.8 891.77L354.3 891.29L354.8 891.62L355.3 891.05L355.8 890.54L356.3 890.87L356.8 891.26L357.3 891.42L357.8 891.17L358.3 891.28L358.8 892.08L359.3 891.89L359.8 892.12L360.3 892.17L360.8 892.34L361.3 893.33L361.8 893.4L362.3 894.25L362.8 894.63L363.3 894.63L363.8 896.63L364.31 897.43L364.81 897.55L365.32 897.39L365.83 896.77L366.34 896.69L366.84 896.57L367.35 896.24L367.86 896.48L368.37 895.89L368.87 895.55L369.38 895.23L369.89 895.31L370.4 895.15L370.9 895.41L371.41 895.08L371.92 894.67L372.43 894.12L372.93 893.83L373.44 894.14L373.95 893.8L374.46 893.46L374.96 893.13L375.47 893.15L375.98 893.41L376.49 892.92L376.99 893.42L377.5 887.19L378.01 884.68L378.51 883.34L379.02 883.18L379.53 883.69L380.03 884.15L380.54 884.66L381.05 884.42L381.56 884.47L382.06 885.07L382.57 885.68L383.08 886.65L383.58 888.6L384.09 890.33L384.6 892.45L385.1 894.07L385.61 894.55L386.12 895.29L386.62 895.66L387.13 895.71L387.64 895.49L388.14 896.24L388.65 896.53L389.16 896.81L389.67 897L390.17 897.03L390.68 896.84L391.19 897.46L391.69 897.35L392.2 896.89L392.71 895.47L393.22 893.81L393.74 891.88L394.25 890.33L394.76 888.14L395.27 886.26L395.79 883.98L396.3 882.26L396.81 880.85L397.32 878.86L397.84 877.91L398.35 876.82L398.86 877.04L399.38 877.42L399.89 878.97L400.4 879.87L400.91 881.63L401.43 882.65L401.94 883.24L402.45 884.51L402.96 885.12L403.48 885.3L403.99 886.07L404.5 891.08L405.01 892.79L405.53 893.83L406.04 894.02L406.55 894.49L407.07 894.62L407.58 894.32L408.09 894.08L408.6 893.99L409.12 894.4L409.63 894.28L410.14 894.28L410.66 894.3L411.17 894.37L411.68 893.76L412.2 894L412.71 893.86L413.22 894.06L413.73 893.46L414.25 893.21L414.76 893.56L415.27 892.85L415.79 892.44L416.3 890.48L416.81 889.54L417.32 889.22L417.84 889.71L418.35 889.7L418.86 889.73L419.38 889.94L419.89 889.46L420.4 889.29L420.91 889.42L421.43 889.12L421.94 889.47L422.45 889.58L422.96 889.79L423.48 889.77L423.99 889.18L424.5 883.4L425.01 880.15L425.52 878.16L426.03 877.04L426.54 876.41L427.05 875.15L427.56 875L428.07 874.21L428.58 873L429.09 872.24L429.61 872.31L430.12 872.51L430.63 873.28L431.14 874.28L431.65 875.77L432.16 876.67L432.67 877.72L433.18 878.63L433.69 879.97L434.2 884.7L434.72 887.19L435.23 888.95L435.75 889.56L436.27 890.35L436.78 890.48L437.3 890.97L437.82 890.72L438.33 891.39L438.85 891.43L439.37 891.57L439.88 892.23L440.4 892.49L440.9 893.01L441.4 893.19L441.9 893.28L442.4 893.14L442.9 893.34L443.4 893.83L443.9 893.66L444.4 893.79L444.9 893.91L445.4 894.11L445.9 893.88L446.4 894.05L446.9 894.19L447.4 894.48L447.9 894.77L448.4 894.77L448.4 903.5Z" fill="#f2200f"/>
<path d="M31 903.5L31 916.32L31.5 922.14L32 924.35L32.5 924.82L33.01 924.98L33.51 924.72L34.01 924.41L34.51 924.38L35.01 924.2L35.51 924.01L36.01 923.5L36.52 923.16L37.02 923.13L37.52 922.9L38.02 922.69L38.52 922.74L39.02 922.95L39.52 922.31L40.03 921.9L40.53 922.05L41.03 922.47L41.53 922.33L42.03 921.77L42.53 921.76L43.03 921.15L43.54 920.68L44.04 920.15L44.54 918.83L45.04 918.06L45.54 917.78L46.04 916.7L46.54 916.1L47.05 914.47L47.55 913.96L48.05 912.84L48.55 911.56L49.05 910.79L49.55 909.58L50.05 908.37L50.55 906.99L51.06 906.89L51.56 906.23L52.06 906.07L52.56 905.78L53.06 905.58L53.56 905.73L54.06 905.55L54.57 905.86L55.07 905.87L55.57 905.56L56.07 905.82L56.57 905.76L57.07 905.67L57.57 905.91L58.08 905.81L58.58 905.49L59.08 906.15L59.58 906.48L60.08 905.92L60.58 906.06L61.08 906.04L61.59 905.7L62.09 905.81L62.59 905.59L63.09 905.49L63.59 905.59L64.09 905.25L64.59 905.25L65.1 905.95L65.6 906.05L66.1 905.67L66.6 909.63L67.11 910.82L67.61 911.88L68.12 911.89L68.62 912.46L69.13 912.34L69.63 912.71L70.14 912.23L70.65 912.28L71.15 912.29L71.66 912.74L72.16 913.06L72.67 912.55L73.17 912.61L73.68 912.45L74.19 912.31L74.69 912.34L75.2 912.33L75.7 912.58L76.21 912.84L76.71 913.44L77.22 913.5L77.73 913.67L78.23 913.37L78.74 913.27L79.24 913.33L79.75 913.23L80.25 913.02L80.76 913.2L81.27 913.92L81.77 913.46L82.28 913.71L82.78 913.6L83.29 914.08L83.79 913.65L84.3 913.94L84.81 914.33L85.31 914.34L85.82 914.11L86.32 914.78L86.83 914.33L87.33 915.05L87.84 915.34L88.35 915.6L88.85 915.77L89.36 915.46L89.86 915.62L90.37 915.62L90.87 915.8L91.38 915.76L91.89 916.25L92.39 916.03L92.9 916.24L93.4 915.94L93.91 915.87L94.41 916.68L94.92 916.62L95.43 916.68L95.93 917.35L96.44 917.47L96.94 917.06L97.45 917.31L97.95 917.44L98.46 917.68L98.97 917.59L99.47 917.66L99.98 918.44L100.48 918.57L100.99 918.7L101.49 919L102 916.57L102.5 915.17L103 915.33L103.5 915.35L104 915.28L104.5 915.63L105 916.64L105.5 917.19L106 917.72L106.5 917.81L107 918.21L107.5 918.39L108 919.02L108.5 919.34L109 919.55L109.5 920.45L110 920.64L110.5 920.52L111 920.91L111.5 920.07L112 919.52L112.5 919.09L113 918.33L113.5 917.87L114 917.31L114.5 916.8L115 916.34L115.5 915.82L116 914.65L116.5 914.06L117 913.55L117.5 913.38L118 913.28L118.5 913.47L119 912.64L119.5 912.87L120 912.22L120.5 912.34L121 912.36L121.5 912.36L122 911.84L122.5 910.98L123 910.68L123.5 910.54L124 910.57L124.5 910.72L125 910.56L125.5 909.59L126 909.08L126.5 909.2L127 908.7L127.5 908.69L128 908.48L128.5 908.29L129 907.88L129.5 908.08L130 907.46L130.5 912.96L131 915.44L131.5 916.86L132.01 917.53L132.51 918.5L133.01 918.54L133.51 918.95L134.01 919.85L134.51 920.49L135.02 920.48L135.52 921.03L136.02 921.53L136.52 921.8L137.02 922.07L137.53 922.51L138.03 922.48L138.53 922.67L139.03 922.81L139.53 922.75L140.03 922.88L140.54 922.86L141.04 922.42L141.54 922.01L142.04 921.67L142.54 921.59L143.04 921.39L143.55 921.64L144.05 921.82L144.55 921.54L145.05 921.65L145.55 921.64L146.06 921.44L146.56 922.13L147.06 922.59L147.56 922.36L148.06 922.55L148.56 923.12L149.07 923.54L149.57 923.36L150.07 923.63L150.57 923.89L151.07 924.29L151.57 924.87L152.08 924.64L152.58 924.89L153.08 925.66L153.58 925.44L154.08 925.48L154.59 926.21L155.09 926.53L155.59 926.67L156.09 926.86L156.59 926.71L157.09 927.33L157.6 927.39L158.1 927.72L158.6 916.75L159.11 911.45L159.61 908.99L160.12 907.88L160.62 907.35L161.13 907.46L161.64 907.63L162.14 907.17L162.65 906.9L163.15 907.17L163.66 907.11L164.16 907.52L164.67 907.33L165.18 911.06L165.68 917.31L166.19 921.86L166.69 923.27L167.2 923.83L167.71 924.13L168.21 924.55L168.72 924.32L169.22 924.2L169.73 924.56L170.24 924.54L170.74 924.07L171.25 924.57L171.75 924.1L172.26 924.02L172.76 924.2L173.27 924.18L173.78 924.43L174.28 923.95L174.79 924.19L175.29 923.82L175.8 923.58L176.31 924L176.81 924.24L177.32 923.7L177.82 923.36L178.33 923.35L178.84 923.67L179.34 923.28L179.85 923.95L180.35 923.36L180.86 923.74L181.36 923.96L181.87 923.64L182.38 923.88L182.88 923.36L183.39 923.67L183.89 923.6L184.4 914.05L184.91 909.73L185.42 907.81L185.92 907.05L186.43 906.16L186.94 905.59L187.45 905.5L187.96 906.02L188.47 906.08L188.97 906.11L189.48 906.14L189.99 905.77L190.5 906.47L191.01 906.82L191.51 907.47L192.02 908.16L192.53 909.31L193.04 909.92L193.55 910.78L194.06 911.95L194.56 912.39L195.07 913.76L195.58 914.71L196.09 915.4L196.6 916.07L197.1 916.9L197.61 916.91L198.12 916.48L198.63 916.9L199.14 916.85L199.64 916.82L200.15 916.51L200.66 915.88L201.17 915.92L201.68 915.14L202.19 914.74L202.69 914.73L203.2 914.9L203.71 914.4L204.22 914.11L204.73 914.78L205.23 914.19L205.74 914.58L206.25 914.47L206.76 914.86L207.27 914.91L207.78 914.54L208.28 914.42L208.79 914.48L209.3 910.17L209.8 908.11L210.31 908.19L210.81 907.92L211.32 908.14L211.82 908.09L212.33 907.75L212.83 907.72L213.33 907.93L213.84 908.82L214.34 909.18L214.85 908.96L215.35 909.1L215.86 909.76L216.36 909.73L216.86 909.64L217.37 909.91L217.87 909.79L218.38 910.22L218.88 910.04L219.39 910.45L219.89 910.32L220.39 910.26L220.9 910.98L221.4 911.14L221.91 910.95L222.41 911.16L222.91 911.78L223.42 911.64L223.92 911.56L224.43 911.79L224.93 912.35L225.44 912.41L225.94 912.37L226.44 912.57L226.95 912.47L227.45 913.04L227.96 912.74L228.46 912.63L228.97 912.9L229.47 913.39L229.97 913.65L230.48 913.73L230.98 913.22L231.49 913.8L231.99 914.24L232.5 913.77L233 915.65L233.5 918.93L234 922.74L234.5 926.89L235 931.51L235.5 931.94L236 929.04L236.5 924.92L237 920.33L237.5 916.56L238 913.89L238.5 911.33L239 908.86L239.5 906.66L240 905.88L240.5 905.42L241 905.92L241.5 905.92L242 905.34L242.5 905.26L243 905.29L243.5 905.49L244 905.89L244.5 905.45L245 905.58L245.5 905.36L246 905.71L246.5 905.48L247 905.61L247.5 905.48L248 905.54L248.5 905.58L249 905.25L249.5 905.14L250 905.24L250.5 905.36L251 905.28L251.5 905.02L252 905.01L252.5 905.01L253 904.88L253.5 904.75L254 911.46L254.51 914.57L255.01 916.13L255.52 916.85L256.02 917.52L256.53 918.46L257.03 918.43L257.54 918.98L258.04 919.09L258.55 919.45L259.05 919.43L259.56 919.79L260.06 919.89L260.57 919.33L261.07 919.09L261.58 919.96L262.08 919.85L262.59 920.17L263.09 920.68L263.6 921.02L264.1 920.76L264.61 920.42L265.11 920.47L265.62 920.55L266.12 919.98L266.63 920.35L267.13 919.73L267.64 919.77L268.14 920.18L268.65 920.36L269.15 920.38L269.66 920.35L270.16 919.91L270.67 919.65L271.17 919.54L271.68 919.48L272.18 919.14L272.69 919.09L273.19 919.13L273.7 915.94L274.2 915.22L274.7 914.61L275.2 915L275.7 914.9L276.2 915.17L276.7 915.74L277.2 916.48L277.7 917.22L278.2 917.54L278.7 917.92L279.2 917.94L279.7 918.21L280.2 918.56L280.7 919.31L281.2 919.73L281.7 919.33L282.2 919.98L282.7 920.49L283.2 921.08L283.7 921.58L284.2 921.4L284.7 921.43L285.2 921.38L285.7 921.41L286.2 922.16L286.7 922.47L287.2 922.79L287.7 922.56L288.2 922.97L288.7 922.54L289.2 922.9L289.7 922.99L290.2 923.12L290.7 923.91L291.2 923.45L291.7 924.23L292.2 924.41L292.7 924.89L293.2 924.65L293.7 920.42L294.21 918.34L294.72 917.56L295.23 917.41L295.74 917.14L296.25 917.49L296.76 917.38L297.27 917.34L297.78 918.12L298.29 917.96L298.81 918.87L299.32 918.77L299.83 919.51L300.34 919.42L300.85 919.91L301.36 919.92L301.87 920.4L302.38 920.28L302.89 920.42L303.4 920.66L303.91 921.61L304.42 922.13L304.93 922.05L305.44 922.73L305.95 923.18L306.46 922.81L306.97 923.26L307.48 923.26L307.99 923.55L308.51 923.81L309.02 924.03L309.53 924.23L310.04 923.45L310.55 922.7L311.06 921.67L311.57 920.81L312.08 920.38L312.59 919.22L313.1 914.92L313.61 912.28L314.11 911.12L314.62 910.91L315.12 911.16L315.63 911.19L316.13 911.39L316.64 911.91L317.14 912.16L317.65 911.99L318.15 912.61L318.66 912.5L319.16 912.76L319.67 912.78L320.17 913.26L320.68 913.41L321.18 913.51L321.69 913.35L322.19 913.29L322.7 913.54L323.21 914.14L323.71 914.42L324.22 914L324.72 913.43L325.23 913.24L325.73 913.78L326.24 913.2L326.74 913.15L327.25 912.75L327.75 912.9L328.26 912.76L328.76 913.24L329.27 913.39L329.77 912.95L330.28 913L330.78 912.81L331.29 912.46L331.79 912.53L332.3 918.84L332.8 922.05L333.3 924.34L333.8 925.32L334.3 926.15L334.8 926.69L335.3 927.39L335.8 927.39L336.3 927.56L336.8 927.97L337.3 928.94L337.8 929.27L338.3 929.9L338.8 930.43L339.3 930.5L339.8 931.14L340.3 931.71L340.8 931.76L341.3 931.69L341.8 931.48L342.3 931.25L342.8 930.81L343.3 930.83L343.8 930.98L344.3 930.37L344.8 930.13L345.3 929.86L345.8 929.55L346.3 929.88L346.8 929.73L347.3 928.94L347.8 928.87L348.3 928.56L348.8 920.51L349.3 916.83L349.8 915.82L350.3 915.31L350.8 915.57L351.3 915.34L351.8 915.8L352.3 916.11L352.8 916.62L353.3 916.49L353.8 917.3L354.3 917.59L354.8 917.65L355.3 917.78L355.8 918.63L356.3 918.44L356.8 918.84L357.3 918.71L357.8 918.63L358.3 919.13L358.8 918.52L359.3 918.24L359.8 917.9L360.3 918.03L360.8 917.76L361.3 917.56L361.8 918.02L362.3 918.42L362.8 917.82L363.3 917.9L363.8 920.18L364.31 920.7L364.81 921.14L365.32 921.9L365.83 922.05L366.34 922.84L366.84 923.67L367.35 924.31L367.86 924.12L368.37 924.68L368.87 925.11L369.38 925.49L369.89 925.64L370.4 926.33L370.9 926.26L371.41 926.58L371.92 926.03L372.43 925.55L372.93 925.99L373.44 925.56L373.95 925.29L374.46 925.12L374.96 924.87L375.47 924.17L375.98 924.47L376.49 924.61L376.99 923.89L377.5 915.6L378.01 911.93L378.51 910.7L379.02 910.09L379.53 909.92L380.03 909.95L380.54 909.71L381.05 909.91L381.56 910.08L382.06 910.31L382.57 910.49L383.08 910.96L383.58 911.32L384.09 914.07L384.6 917.64L385.1 921.08L385.61 924.99L386.12 927.31L386.62 929.3L387.13 931.02L387.64 932.06L388.14 933.38L388.65 934.11L389.16 934.09L389.67 934.09L390.17 933.45L390.68 932.13L391.19 930.98L391.69 929.77L392.2 927.4L392.71 926.16L393.22 924.58L393.74 924.04L394.25 923.55L394.76 922.98L395.27 922.91L395.79 922.83L396.3 922.16L396.81 922.23L397.32 921.74L397.84 921.04L398.35 921L398.86 920.33L399.38 920.16L399.89 920.1L400.4 919.57L400.91 919.12L401.43 919.04L401.94 919.32L402.45 918.69L402.96 918.53L403.48 918.45L403.99 917.88L404.5 919.61L405.01 920.94L405.53 921.55L406.04 921.7L406.55 921.91L407.07 921.51L407.58 921.63L408.09 921.88L408.6 921.8L409.12 922.21L409.63 922.64L410.14 922.96L410.66 923.14L411.17 923.22L411.68 923.64L412.2 923.36L412.71 923.37L413.22 923.4L413.73 923.55L414.25 924.25L414.76 924.26L415.27 924.77L415.79 924.69L416.3 918.79L416.81 916.35L417.32 914.7L417.84 914.38L418.35 914.11L418.86 914.12L419.38 914.05L419.89 914.26L420.4 914.34L420.91 913.77L421.43 914L421.94 914L422.45 913.96L422.96 913.77L423.48 914.27L423.99 913.9L424.5 909.13L425.01 907.04L425.52 906.65L426.03 906.07L426.54 905.51L427.05 905.3L427.56 905.3L428.07 905.78L428.58 905.23L429.09 905.21L429.61 905.65L430.12 905.25L430.63 905.54L431.14 905.91L431.65 905.72L432.16 905.85L432.67 905.79L433.18 906.06L433.69 906.26L434.2 908.73L434.72 910.04L435.23 910.67L435.75 911.13L436.27 911.01L436.78 911.25L437.3 911.2L437.82 911.66L438.33 911.9L438.85 911.61L439.37 911.75L439.88 912.29L440.4 913.53L440.9 914.02L441.4 914.89L441.9 915.31L442.4 916.08L442.9 917.34L443.4 917.72L443.9 918.71L444.4 919.7L444.9 920.73L445.4 921.07L445.9 921.18L446.4 921.88L446.9 922.71L447.4 923.49L447.9 924.24L448.4 924.24L448.4 903.5Z" fill="#2a5394"/>
<line x1="31" y1="903.5" x2="448.4" y2="903.5" stroke="#7a1c24" stroke-width="0.5" />
<path d="M66.6 855.9V942.8M102 855.9V942.8M130.5 855.9V942.8M158.6 855.9V942.8M184.4 855.9V942.8M209.3 855.9V942.8M233 855.9V942.8M254 855.9V942.8M273.7 855.9V942.8M293.7 855.9V942.8M313.1 855.9V942.8M332.3 855.9V942.8M348.8 855.9V942.8M363.8 855.9V942.8M377.5 855.9V942.8M392.2 855.9V942.8M404.5 855.9V942.8M416.3 855.9V942.8M424.5 855.9V942.8M434.2 855.9V942.8M440.4 855.9V942.8M448.4 855.9V942.8" stroke="#2a2a2a" stroke-width="0.7" stroke-dasharray="1.1 1.3" fill="none"/>
<text x="48.8" y="941" font-size="6" font-weight="normal" font-style="normal" text-anchor="middle" fill="#222" >chr1</text>
<text x="84.3" y="862" font-size="6" font-weight="normal" font-style="normal" text-anchor="middle" fill="#222" >chr2</text>
<text x="116.25" y="941" font-size="6" font-weight="normal" font-style="normal" text-anchor="middle" fill="#222" >chr3</text>
<text x="144.55" y="862" font-size="6" font-weight="normal" font-style="normal" text-anchor="middle" fill="#222" >chr4</text>
<text x="171.5" y="941" font-size="6" font-weight="normal" font-style="normal" text-anchor="middle" fill="#222" >chr5</text>
<text x="196.85" y="862" font-size="6" font-weight="normal" font-style="normal" text-anchor="middle" fill="#222" >chr6</text>
<text x="221.15" y="941" font-size="6" font-weight="normal" font-style="normal" text-anchor="middle" fill="#222" >chr7</text>
<text x="243.5" y="862" font-size="6" font-weight="normal" font-style="normal" text-anchor="middle" fill="#222" >chr8</text>
<text x="263.85" y="941" font-size="6" font-weight="normal" font-style="normal" text-anchor="middle" fill="#222" >chr9</text>
<text x="283.7" y="862" font-size="6" font-weight="normal" font-style="normal" text-anchor="middle" fill="#222" >chr10</text>
<text x="303.4" y="941" font-size="6" font-weight="normal" font-style="normal" text-anchor="middle" fill="#222" >chr11</text>
<text x="322.7" y="862" font-size="6" font-weight="normal" font-style="normal" text-anchor="middle" fill="#222" >chr12</text>
<text x="340.55" y="941" font-size="6" font-weight="normal" font-style="normal" text-anchor="middle" fill="#222" >chr13</text>
<text x="356.3" y="862" font-size="6" font-weight="normal" font-style="normal" text-anchor="middle" fill="#222" >chr14</text>
<text x="370.65" y="941" font-size="6" font-weight="normal" font-style="normal" text-anchor="middle" fill="#222" >chr15</text>
<text x="384.85" y="862" font-size="6" font-weight="normal" font-style="normal" text-anchor="middle" fill="#222" >chr16</text>
<text x="398.35" y="941" font-size="6" font-weight="normal" font-style="normal" text-anchor="middle" fill="#222" >chr17</text>
<text x="410.4" y="862" font-size="6" font-weight="normal" font-style="normal" text-anchor="middle" fill="#222" >chr18</text>
<text x="420.4" y="941" font-size="6" font-weight="normal" font-style="normal" text-anchor="middle" fill="#222" >chr19</text>
<text x="429.35" y="862" font-size="6" font-weight="normal" font-style="normal" text-anchor="middle" fill="#222" >chr20</text>
<text x="437.3" y="941" font-size="6" font-weight="normal" font-style="normal" text-anchor="middle" fill="#222" >chr21</text>
<text x="444.4" y="862" font-size="6" font-weight="normal" font-style="normal" text-anchor="middle" fill="#222" >chr22</text>
<text x="26.6" y="863.21" font-size="6.6" font-weight="normal" font-style="normal" text-anchor="end" fill="#333" >60</text>
<line x1="27.4" y1="860.9" x2="29.6" y2="860.9" stroke="#aaa" stroke-width="0.5" />
<text x="26.6" y="884.51" font-size="6.6" font-weight="normal" font-style="normal" text-anchor="end" fill="#333" >30</text>
<line x1="27.4" y1="882.2" x2="29.6" y2="882.2" stroke="#aaa" stroke-width="0.5" />
<text x="26.6" y="905.81" font-size="6.6" font-weight="normal" font-style="normal" text-anchor="end" fill="#333" >0</text>
<line x1="27.4" y1="903.5" x2="29.6" y2="903.5" stroke="#aaa" stroke-width="0.5" />
<text x="26.6" y="927.11" font-size="6.6" font-weight="normal" font-style="normal" text-anchor="end" fill="#333" >−30</text>
<line x1="27.4" y1="924.8" x2="29.6" y2="924.8" stroke="#aaa" stroke-width="0.5" />
<text x="7.9" y="889.5" font-size="8.9" font-weight="normal" font-style="normal" text-anchor="middle" fill="#222" transform="rotate(-90 7.9 889.5)">Frequency</text>
<rect x="31" y="953.3" width="10.1" height="10" fill="#c9302f" />
<text x="45.1" y="961.4" font-size="7.5" font-weight="normal" font-style="normal" text-anchor="start" fill="#222" >Amp</text>
<rect x="67.3" y="953.3" width="9.8" height="10" fill="#27467f" />
<text x="80.8" y="961.4" font-size="7.5" font-weight="normal" font-style="normal" text-anchor="start" fill="#222" >Del</text>
<text x="477.2" y="662.6" font-size="12.3" font-weight="normal" font-style="normal" text-anchor="start" fill="#111" >F</text>
<line x1="495.4" y1="663.2" x2="495.4" y2="897.6" stroke="#111" stroke-width="1" />
<line x1="495.4" y1="897.6" x2="668.9" y2="897.6" stroke="#111" stroke-width="1" />
<line x1="534.1" y1="897.6" x2="534.1" y2="900.2" stroke="#111" stroke-width="0.8" />
<text x="532.3" y="914.3" font-size="9.2" font-weight="normal" font-style="normal" text-anchor="middle" fill="#222" >−1</text>
<line x1="577" y1="897.6" x2="577" y2="900.2" stroke="#111" stroke-width="0.8" />
<text x="577" y="914.3" font-size="9.2" font-weight="normal" font-style="normal" text-anchor="middle" fill="#222" >0</text>
<line x1="619.9" y1="897.6" x2="619.9" y2="900.2" stroke="#111" stroke-width="0.8" />
<text x="619.9" y="914.3" font-size="9.2" font-weight="normal" font-style="normal" text-anchor="middle" fill="#222" >1</text>
<line x1="662.8" y1="897.6" x2="662.8" y2="900.2" stroke="#111" stroke-width="0.8" />
<text x="662.8" y="914.3" font-size="9.2" font-weight="normal" font-style="normal" text-anchor="middle" fill="#222" >2</text>
<text x="590.2" y="930.8" font-size="12" font-weight="normal" font-style="normal" text-anchor="middle" fill="#111" >lgTMB</text>
<line x1="493.2" y1="706.3" x2="495.4" y2="706.3" stroke="#111" stroke-width="0.8" />
<text x="490.2" y="707.9" font-size="10.4" font-weight="normal" font-style="normal" text-anchor="end" fill="#111" transform="rotate(-30 490.2 707.9)">Cluster3</text>
<line x1="493.2" y1="779.5" x2="495.4" y2="779.5" stroke="#111" stroke-width="0.8" />
<text x="490.2" y="781.1" font-size="10.4" font-weight="normal" font-style="normal" text-anchor="end" fill="#111" transform="rotate(-30 490.2 781.1)">Cluster2</text>
<line x1="493.2" y1="853.9" x2="495.4" y2="853.9" stroke="#111" stroke-width="0.8" />
<text x="490.2" y="855.5" font-size="10.4" font-weight="normal" font-style="normal" text-anchor="end" fill="#111" transform="rotate(-30 490.2 855.5)">Cluster1</text>
<path d="M503.2 691.4L503.2 691.26L503.2 691.26L504.19 691.26L505.17 691.26L506.16 691.25L507.14 691.25L508.13 691.25L509.12 691.24L510.1 691.24L511.09 691.23L512.08 691.23L513.06 691.22L514.05 691.22L515.03 691.22L516.02 691.21L517.01 691.21L517.99 691.2L518.98 691.2L519.97 691.19L520.95 691.19L521.94 691.18L522.92 691.18L523.91 691.17L524.9 691.17L525.88 691.16L526.87 691.15L527.86 691.15L528.84 691.14L529.83 691.13L530.81 691.12L531.8 691.11L532.79 691.09L533.77 691.07L534.76 691.05L535.75 691.03L536.73 691L537.72 690.97L538.71 690.93L539.69 690.88L540.68 690.83L541.66 690.76L542.65 690.68L543.64 690.59L544.62 690.48L545.61 690.35L546.6 690.2L547.58 690.03L548.57 689.84L549.55 689.62L550.54 689.37L551.53 689.09L552.51 688.77L553.5 688.42L554.49 688.04L555.47 687.62L556.46 687.16L557.44 686.67L558.43 686.14L559.42 685.58L560.4 684.99L561.39 684.38L562.38 683.74L563.36 683.09L564.35 682.43L565.33 681.76L566.32 681.1L567.31 680.45L568.29 679.82L569.28 679.22L570.26 678.66L571.25 678.14L572.24 677.68L573.22 677.27L574.21 676.93L575.2 676.67L576.18 676.48L577.17 676.36L578.15 676.33L579.14 676.38L580.13 676.52L581.11 676.72L582.1 677.01L583.09 677.36L584.07 677.78L585.06 678.26L586.04 678.79L587.03 679.36L588.02 679.96L589 680.59L589.99 681.24L590.98 681.9L591.96 682.56L592.95 683.21L593.93 683.86L594.92 684.48L595.91 685.08L596.89 685.66L597.88 686.2L598.87 686.71L599.85 687.19L600.84 687.63L601.83 688.04L602.81 688.4L603.8 688.74L604.78 689.04L605.77 689.3L606.76 689.54L607.74 689.74L608.73 689.92L609.72 690.07L610.7 690.19L611.69 690.3L612.67 690.37L613.66 690.43L614.65 690.47L615.63 690.49L616.62 690.49L617.61 690.48L618.59 690.46L619.58 690.42L620.56 690.39L621.55 690.36L622.54 690.33L623.52 690.32L624.51 690.31L625.5 690.32L626.48 690.35L627.47 690.39L628.45 690.43L629.44 690.49L630.43 690.56L631.41 690.62L632.4 690.68L633.38 690.74L634.37 690.8L635.36 690.84L636.34 690.88L637.33 690.91L638.32 690.94L639.3 690.96L640.29 690.98L641.27 690.99L642.26 691L643.25 691.01L644.23 691.02L645.22 691.02L646.21 691.03L647.19 691.03L648.18 691.04L649.16 691.04L650.15 691.05L651.14 691.05L652.12 691.06L653.11 691.06L654.1 691.07L655.08 691.07L656.07 691.08L657.06 691.08L658.04 691.09L659.03 691.09L660.01 691.1L661 691.1L661 691.4Z" fill="#a9d6a0" stroke="#4aa441" stroke-width="1.0" stroke-linejoin="round"/>
<line x1="550.7" y1="696.2" x2="569.6" y2="696.2" stroke="#4aa441" stroke-width="1" />
<line x1="590.3" y1="696.2" x2="610.5" y2="696.2" stroke="#4aa441" stroke-width="1" />
<rect x="569.6" y="694.2" width="20.7" height="4" fill="#a9d6a0" stroke="#4aa441" stroke-width="0.9"/>
<line x1="580" y1="694.2" x2="580" y2="698.2" stroke="#4aa441" stroke-width="1" />
<g fill="#72bd66" fill-opacity="0.8"><circle cx="564.68" cy="704.66" r="1.0"/><circle cx="565.07" cy="705.16" r="1.0"/><circle cx="588.7" cy="706.56" r="1.0"/><circle cx="578.14" cy="708.02" r="1.0"/><circle cx="594.31" cy="705.29" r="1.0"/><circle cx="582.64" cy="705.16" r="1.0"/><circle cx="597.63" cy="705.76" r="1.0"/><circle cx="573.45" cy="708.39" r="1.0"/><circle cx="585.18" cy="705.34" r="1.0"/><circle cx="576.28" cy="708.3" r="1.0"/><circle cx="570.4" cy="707.91" r="1.0"/><circle cx="581.89" cy="705.28" r="1.0"/><circle cx="563.66" cy="707.28" r="1.0"/><circle cx="575.39" cy="706.84" r="1.0"/><circle cx="589.06" cy="706.66" r="1.0"/><circle cx="580.75" cy="709.58" r="1.0"/><circle cx="574.67" cy="705.07" r="1.0"/><circle cx="608.46" cy="704.7" r="1.0"/><circle cx="580.76" cy="709.3" r="1.0"/><circle cx="572.37" cy="706.61" r="1.0"/><circle cx="582.07" cy="705.59" r="1.0"/><circle cx="573.2" cy="706.25" r="1.0"/><circle cx="574.99" cy="706.42" r="1.0"/><circle cx="575.45" cy="709.38" r="1.0"/><circle cx="606.33" cy="705.65" r="1.0"/><circle cx="580.29" cy="705.68" r="1.0"/><circle cx="582.28" cy="707.52" r="1.0"/><circle cx="588.76" cy="707.34" r="1.0"/><circle cx="606.22" cy="709.37" r="1.0"/><circle cx="577.09" cy="708.79" r="1.0"/><circle cx="571.89" cy="706.38" r="1.0"/><circle cx="561.02" cy="705.62" r="1.0"/><circle cx="575.23" cy="708.78" r="1.0"/><circle cx="588.67" cy="709.54" r="1.0"/><circle cx="609.69" cy="704.75" r="1.0"/><circle cx="567.65" cy="708.28" r="1.0"/><circle cx="588.6" cy="708.94" r="1.0"/><circle cx="573.22" cy="707.86" r="1.0"/><circle cx="574.96" cy="705.69" r="1.0"/><circle cx="586" cy="708.58" r="1.0"/><circle cx="582.91" cy="708.25" r="1.0"/><circle cx="583.78" cy="705.57" r="1.0"/><circle cx="574.4" cy="707.8" r="1.0"/><circle cx="596.76" cy="705.7" r="1.0"/><circle cx="599.56" cy="704.81" r="1.0"/><circle cx="580.42" cy="706.28" r="1.0"/><circle cx="574.13" cy="706.27" r="1.0"/><circle cx="589.53" cy="706.58" r="1.0"/><circle cx="586.21" cy="707.83" r="1.0"/><circle cx="566.47" cy="708.78" r="1.0"/><circle cx="574.02" cy="709.41" r="1.0"/><circle cx="593.64" cy="709.48" r="1.0"/><circle cx="578.75" cy="709.57" r="1.0"/><circle cx="575.73" cy="708.55" r="1.0"/><circle cx="582.76" cy="706.13" r="1.0"/><circle cx="579.56" cy="705.48" r="1.0"/><circle cx="579.97" cy="707.72" r="1.0"/><circle cx="554.9" cy="707.33" r="1.0"/><circle cx="602.74" cy="707.97" r="1.0"/><circle cx="582.59" cy="705.07" r="1.0"/><circle cx="568.6" cy="705.56" r="1.0"/><circle cx="592.73" cy="709.21" r="1.0"/><circle cx="584.02" cy="707.61" r="1.0"/><circle cx="580.23" cy="708.08" r="1.0"/><circle cx="593.62" cy="705.08" r="1.0"/><circle cx="609.39" cy="706.6" r="1.0"/><circle cx="587.2" cy="709.15" r="1.0"/><circle cx="600.61" cy="707.85" r="1.0"/><circle cx="608.04" cy="709.56" r="1.0"/><circle cx="566.73" cy="705.58" r="1.0"/><circle cx="573.2" cy="706.87" r="1.0"/><circle cx="590.09" cy="708.6" r="1.0"/><circle cx="557.8" cy="706.82" r="1.0"/><circle cx="576.53" cy="708.54" r="1.0"/><circle cx="596.81" cy="707.41" r="1.0"/><circle cx="593.56" cy="705.19" r="1.0"/><circle cx="587.53" cy="705.09" r="1.0"/><circle cx="555.36" cy="709.51" r="1.0"/><circle cx="587.16" cy="705.2" r="1.0"/><circle cx="589.97" cy="705.57" r="1.0"/><circle cx="586.43" cy="706.28" r="1.0"/><circle cx="557.69" cy="708.17" r="1.0"/><circle cx="561.35" cy="708.87" r="1.0"/><circle cx="564.18" cy="706.98" r="1.0"/><circle cx="604.94" cy="707.09" r="1.0"/><circle cx="569.2" cy="708.54" r="1.0"/><circle cx="576.85" cy="705.99" r="1.0"/><circle cx="576.69" cy="706.46" r="1.0"/><circle cx="503.2" cy="707.66" r="1.0"/><circle cx="503.4" cy="707.78" r="1.0"/><circle cx="615" cy="704.79" r="1.0"/><circle cx="624" cy="705.16" r="1.0"/><circle cx="628" cy="705.29" r="1.0"/><circle cx="637" cy="708.23" r="1.0"/><circle cx="661" cy="708.06" r="1.0"/></g>
<path d="M544.7 765.2L544.7 764.27L544.7 765.07L545.45 765L546.21 764.89L546.96 764.76L547.72 764.57L548.47 764.32L549.22 764.01L549.98 763.61L550.73 763.12L551.48 762.54L552.24 761.84L552.99 761.03L553.75 760.09L554.5 759.03L555.25 757.84L556.01 756.5L556.76 755.04L557.51 753.45L558.27 751.76L559.02 749.98L559.78 748.16L560.53 746.36L561.28 744.63L562.04 743.05L562.79 741.69L563.54 740.63L564.3 739.91L565.05 739.59L565.81 739.69L566.56 740.22L567.31 741.14L568.07 742.43L568.82 744L569.57 745.8L570.33 747.72L571.08 749.69L571.84 751.64L572.59 753.48L573.34 755.16L574.1 756.65L574.85 757.91L575.6 758.94L576.36 759.74L577.11 760.32L577.87 760.7L578.62 760.91L579.37 760.98L580.13 760.95L580.88 760.83L581.63 760.67L582.39 760.49L583.14 760.31L583.89 760.16L584.65 760.04L585.4 759.98L586.16 759.98L586.91 760.03L587.66 760.16L588.42 760.34L589.17 760.58L589.92 760.86L590.68 761.19L591.43 761.53L592.19 761.89L592.94 762.25L593.69 762.61L594.45 762.95L595.2 763.26L595.96 763.55L596.71 763.79L597.46 764L598.22 764.16L598.97 764.28L599.72 764.35L600.48 764.38L601.23 764.37L601.99 764.34L602.74 764.29L603.49 764.24L604.25 764.19L605 764.16L605.75 764.15L606.51 764.17L607.26 764.22L608.01 764.3L608.77 764.4L609.52 764.51L610.28 764.63L611.03 764.74L611.78 764.84L612.54 764.92L613.29 764.99L614.04 765.04L614.8 765.08L615.55 765.1L616.31 765.1L617.06 765.1L617.81 765.09L618.57 765.06L619.32 765.03L620.08 764.99L620.83 764.95L621.58 764.9L622.34 764.85L623.09 764.79L623.84 764.73L624.6 764.67L625.35 764.61L626.11 764.55L626.86 764.5L627.61 764.46L628.37 764.43L629.12 764.41L629.87 764.4L630.63 764.4L631.38 764.42L632.13 764.45L632.89 764.49L633.64 764.53L634.4 764.59L635.15 764.65L635.9 764.71L636.66 764.77L637.41 764.83L638.16 764.88L638.92 764.93L639.67 764.98L640.43 765.02L641.18 765.06L641.93 765.09L642.69 765.11L643.44 765.13L644.19 765.15L644.95 765.16L645.7 765.17L646.46 765.18L647.21 765.19L647.96 765.19L648.72 765.19L649.47 765.2L650.22 765.2L650.98 765.2L651.73 765.2L652.49 765.2L653.24 765.2L653.99 765.2L654.75 765.2L655.5 765.2L656.25 765.2L657.01 765.2L657.76 765.2L658.52 765.2L659.27 765.2L660.02 765.2L660.78 765.2L661.53 765.2L662.28 765.2L663.04 765.2L663.79 765.2L664.55 765.2L665.3 765.2L665.3 765.2Z" fill="#94b6d2" stroke="#3d70a0" stroke-width="1.0" stroke-linejoin="round"/>
<line x1="544.7" y1="769.5" x2="562.3" y2="769.5" stroke="#3d70a0" stroke-width="1" />
<line x1="575.4" y1="769.5" x2="593.8" y2="769.5" stroke="#3d70a0" stroke-width="1" />
<rect x="562.3" y="767.5" width="13.1" height="4" fill="#94b6d2" stroke="#3d70a0" stroke-width="0.9"/>
<line x1="565.2" y1="767.5" x2="565.2" y2="771.5" stroke="#3d70a0" stroke-width="1" />
<g fill="#779fc4" fill-opacity="0.8"><circle cx="571" cy="777.13" r="1.0"/><circle cx="548.11" cy="778.07" r="1.0"/><circle cx="558.25" cy="778.69" r="1.0"/><circle cx="566.73" cy="782.81" r="1.0"/><circle cx="580.75" cy="780.02" r="1.0"/><circle cx="566.04" cy="781.57" r="1.0"/><circle cx="549.41" cy="777.29" r="1.0"/><circle cx="569.14" cy="780.11" r="1.0"/><circle cx="554.02" cy="782.42" r="1.0"/><circle cx="578.26" cy="780.21" r="1.0"/><circle cx="563.44" cy="783.12" r="1.0"/><circle cx="583.81" cy="782.68" r="1.0"/><circle cx="564.69" cy="779.16" r="1.0"/><circle cx="555.74" cy="776.61" r="1.0"/><circle cx="551.3" cy="781.81" r="1.0"/><circle cx="562.39" cy="777.47" r="1.0"/><circle cx="570.45" cy="776.66" r="1.0"/><circle cx="577.89" cy="781.64" r="1.0"/><circle cx="568.67" cy="782.42" r="1.0"/><circle cx="558.61" cy="782.37" r="1.0"/><circle cx="571.01" cy="783.18" r="1.0"/><circle cx="551.63" cy="777.99" r="1.0"/><circle cx="571.05" cy="777.16" r="1.0"/><circle cx="558.5" cy="777.43" r="1.0"/><circle cx="580.96" cy="783.35" r="1.0"/><circle cx="575.91" cy="777.37" r="1.0"/><circle cx="569.66" cy="777.7" r="1.0"/><circle cx="555.78" cy="776.74" r="1.0"/><circle cx="571.51" cy="776.94" r="1.0"/><circle cx="569.68" cy="776.86" r="1.0"/><circle cx="560.51" cy="779.04" r="1.0"/><circle cx="559.78" cy="777.73" r="1.0"/><circle cx="578.71" cy="778.74" r="1.0"/><circle cx="561.99" cy="783.01" r="1.0"/><circle cx="570.43" cy="777.76" r="1.0"/><circle cx="579.91" cy="782.22" r="1.0"/><circle cx="551.15" cy="781.69" r="1.0"/><circle cx="583.87" cy="780.52" r="1.0"/><circle cx="576.13" cy="780.57" r="1.0"/><circle cx="559.53" cy="781.91" r="1.0"/><circle cx="556.48" cy="780.65" r="1.0"/><circle cx="553.8" cy="778.18" r="1.0"/><circle cx="575.35" cy="778.87" r="1.0"/><circle cx="575.32" cy="778.28" r="1.0"/><circle cx="567.68" cy="779.36" r="1.0"/><circle cx="559.16" cy="783.41" r="1.0"/><circle cx="560.92" cy="779.54" r="1.0"/><circle cx="562.33" cy="777.08" r="1.0"/><circle cx="563.7" cy="779.89" r="1.0"/><circle cx="574.9" cy="782.21" r="1.0"/><circle cx="557.65" cy="779.67" r="1.0"/><circle cx="576.95" cy="781.45" r="1.0"/><circle cx="575.88" cy="777.23" r="1.0"/><circle cx="563.48" cy="777.03" r="1.0"/><circle cx="572.11" cy="781.17" r="1.0"/><circle cx="560.58" cy="776.93" r="1.0"/><circle cx="566.56" cy="778.68" r="1.0"/><circle cx="571" cy="779.25" r="1.0"/><circle cx="585.4" cy="777.94" r="1.0"/><circle cx="565.49" cy="776.85" r="1.0"/><circle cx="564.5" cy="776.65" r="1.0"/><circle cx="566.33" cy="783.17" r="1.0"/><circle cx="564.17" cy="781.35" r="1.0"/><circle cx="555.21" cy="783.17" r="1.0"/><circle cx="584.8" cy="779.99" r="1.0"/><circle cx="559.78" cy="783.19" r="1.0"/><circle cx="560.14" cy="782.55" r="1.0"/><circle cx="558.87" cy="780.86" r="1.0"/><circle cx="572.91" cy="780.22" r="1.0"/><circle cx="575.89" cy="780.11" r="1.0"/><circle cx="569.48" cy="778.16" r="1.0"/><circle cx="565.77" cy="779.2" r="1.0"/><circle cx="555.93" cy="781.59" r="1.0"/><circle cx="573.45" cy="777.95" r="1.0"/><circle cx="565.11" cy="782.46" r="1.0"/><circle cx="586.93" cy="780.12" r="1.0"/><circle cx="563.26" cy="780.77" r="1.0"/><circle cx="555.91" cy="782.27" r="1.0"/><circle cx="547.59" cy="781.06" r="1.0"/><circle cx="548.16" cy="777.55" r="1.0"/><circle cx="572.14" cy="778.31" r="1.0"/><circle cx="569.44" cy="776.61" r="1.0"/><circle cx="554.44" cy="776.79" r="1.0"/><circle cx="550.62" cy="783.17" r="1.0"/><circle cx="568.84" cy="780.69" r="1.0"/><circle cx="562.43" cy="783.28" r="1.0"/><circle cx="568.29" cy="781.99" r="1.0"/><circle cx="565.83" cy="778.78" r="1.0"/><circle cx="558.14" cy="783.27" r="1.0"/><circle cx="548.54" cy="782.97" r="1.0"/><circle cx="567.36" cy="779.75" r="1.0"/><circle cx="566.99" cy="777.17" r="1.0"/><circle cx="567.86" cy="778.8" r="1.0"/><circle cx="575.52" cy="777.75" r="1.0"/><circle cx="575.35" cy="779.12" r="1.0"/><circle cx="561.06" cy="777.17" r="1.0"/><circle cx="571.9" cy="781.52" r="1.0"/><circle cx="572.87" cy="783.36" r="1.0"/><circle cx="565.69" cy="778.05" r="1.0"/><circle cx="576.28" cy="781.98" r="1.0"/><circle cx="575.99" cy="780.63" r="1.0"/><circle cx="556.53" cy="779.93" r="1.0"/><circle cx="564.72" cy="782.86" r="1.0"/><circle cx="577.28" cy="779.2" r="1.0"/><circle cx="560.51" cy="782.27" r="1.0"/><circle cx="566.74" cy="776.84" r="1.0"/><circle cx="559.87" cy="783.26" r="1.0"/><circle cx="571.95" cy="777.86" r="1.0"/><circle cx="568.98" cy="776.63" r="1.0"/><circle cx="557.68" cy="782.68" r="1.0"/><circle cx="551.65" cy="781.58" r="1.0"/><circle cx="574.6" cy="781.26" r="1.0"/><circle cx="561.49" cy="781.89" r="1.0"/><circle cx="558.99" cy="779.2" r="1.0"/><circle cx="560.7" cy="777.39" r="1.0"/><circle cx="556.71" cy="778.8" r="1.0"/><circle cx="572.9" cy="783.18" r="1.0"/><circle cx="572.33" cy="783.37" r="1.0"/><circle cx="565.72" cy="778.19" r="1.0"/><circle cx="567.08" cy="779.65" r="1.0"/><circle cx="562.74" cy="779.71" r="1.0"/><circle cx="567.07" cy="782.84" r="1.0"/><circle cx="582.93" cy="776.64" r="1.0"/><circle cx="569.24" cy="782.32" r="1.0"/><circle cx="578.13" cy="778.35" r="1.0"/><circle cx="576.31" cy="780.39" r="1.0"/><circle cx="550.72" cy="777.49" r="1.0"/><circle cx="584" cy="777.18" r="1.0"/><circle cx="568.17" cy="782.69" r="1.0"/><circle cx="563.15" cy="780.07" r="1.0"/><circle cx="605" cy="783.31" r="1.0"/><circle cx="606" cy="782.57" r="1.0"/><circle cx="628" cy="781.79" r="1.0"/><circle cx="634" cy="777.12" r="1.0"/><circle cx="665.3" cy="780.67" r="1.0"/></g>
<path d="M544.9 838.1L544.9 834.87L544.9 836.47L545.34 836.24L545.79 836L546.23 835.74L546.67 835.46L547.12 835.17L547.56 834.86L548 834.54L548.44 834.22L548.89 833.89L549.33 833.56L549.77 833.23L550.22 832.9L550.66 832.59L551.1 832.29L551.55 832L551.99 831.73L552.43 831.47L552.88 831.24L553.32 831.03L553.76 830.83L554.21 830.66L554.65 830.5L555.09 830.37L555.53 830.24L555.98 830.12L556.42 830.01L556.86 829.91L557.31 829.8L557.75 829.7L558.19 829.59L558.64 829.47L559.08 829.33L559.52 829.19L559.97 829.04L560.41 828.87L560.85 828.68L561.3 828.48L561.74 828.27L562.18 828.05L562.62 827.82L563.07 827.58L563.51 827.33L563.95 827.08L564.4 826.82L564.84 826.57L565.28 826.32L565.73 826.08L566.17 825.84L566.61 825.62L567.06 825.41L567.5 825.21L567.94 825.02L568.39 824.86L568.83 824.71L569.27 824.59L569.71 824.48L570.16 824.4L570.6 824.34L571.04 824.31L571.49 824.3L571.93 824.31L572.37 824.35L572.82 824.41L573.26 824.49L573.7 824.6L574.15 824.73L574.59 824.88L575.03 825.06L575.48 825.25L575.92 825.47L576.36 825.7L576.8 825.95L577.25 826.21L577.69 826.49L578.13 826.79L578.58 827.09L579.02 827.41L579.46 827.73L579.91 828.06L580.35 828.4L580.79 828.74L581.24 829.09L581.68 829.44L582.12 829.78L582.57 830.13L583.01 830.47L583.45 830.81L583.89 831.14L584.34 831.47L584.78 831.79L585.22 832.1L585.67 832.4L586.11 832.69L586.55 832.97L587 833.24L587.44 833.5L587.88 833.75L588.33 833.98L588.77 834.2L589.21 834.41L589.66 834.6L590.1 834.78L590.54 834.95L590.99 835.11L591.43 835.25L591.87 835.39L592.31 835.51L592.76 835.62L593.2 835.72L593.64 835.81L594.09 835.9L594.53 835.97L594.97 836.04L595.42 836.1L595.86 836.16L596.3 836.21L596.75 836.26L597.19 836.3L597.63 836.34L598.07 836.38L598.52 836.42L598.96 836.46L599.4 836.5L599.85 836.54L600.29 836.58L600.73 836.62L601.18 836.66L601.62 836.71L602.06 836.75L602.51 836.8L602.95 836.84L603.39 836.89L603.84 836.94L604.28 836.99L604.72 837.03L605.16 837.08L605.61 837.12L606.05 837.16L606.49 837.19L606.94 837.22L607.38 837.23L607.82 837.24L608.27 837.24L608.71 837.23L609.15 837.22L609.6 837.19L610.04 837.16L610.48 837.13L610.93 837.1L611.37 837.08L611.81 837.06L612.25 837.06L612.7 837.07L613.14 837.09L613.58 837.13L614.03 837.18L614.47 837.25L614.91 837.32L615.36 837.4L615.8 837.49L615.8 838.1Z" fill="#e08a8f" stroke="#c23b40" stroke-width="1.0" stroke-linejoin="round"/>
<line x1="544.9" y1="843.2" x2="564.7" y2="843.2" stroke="#c23b40" stroke-width="1" />
<line x1="582.1" y1="843.2" x2="599.9" y2="843.2" stroke="#c23b40" stroke-width="1" />
<rect x="564.7" y="841.2" width="17.4" height="4" fill="#e08a8f" stroke="#c23b40" stroke-width="0.9"/>
<line x1="571.9" y1="841.2" x2="571.9" y2="845.2" stroke="#c23b40" stroke-width="1" />
<g fill="#cf5d63" fill-opacity="0.8"><circle cx="568.19" cy="853.31" r="1.0"/><circle cx="576.63" cy="853.71" r="1.0"/><circle cx="568.51" cy="854.91" r="1.0"/><circle cx="567.53" cy="851.4" r="1.0"/><circle cx="560.77" cy="853.84" r="1.0"/><circle cx="568.65" cy="855.39" r="1.0"/><circle cx="583.23" cy="855.51" r="1.0"/><circle cx="575.67" cy="850.81" r="1.0"/><circle cx="582.41" cy="853.84" r="1.0"/><circle cx="573.74" cy="853.61" r="1.0"/><circle cx="575.34" cy="852.87" r="1.0"/><circle cx="573.04" cy="855.88" r="1.0"/><circle cx="552.67" cy="853.03" r="1.0"/><circle cx="580.41" cy="852.49" r="1.0"/><circle cx="576.57" cy="855.73" r="1.0"/><circle cx="576.49" cy="853.73" r="1.0"/><circle cx="552.39" cy="851.56" r="1.0"/><circle cx="551.82" cy="851.61" r="1.0"/><circle cx="561.21" cy="852.82" r="1.0"/><circle cx="565.85" cy="849.94" r="1.0"/><circle cx="574.36" cy="853.55" r="1.0"/><circle cx="570.49" cy="854.38" r="1.0"/><circle cx="576.73" cy="852.37" r="1.0"/><circle cx="563.94" cy="855.1" r="1.0"/><circle cx="574.4" cy="855.63" r="1.0"/><circle cx="575.34" cy="853.21" r="1.0"/><circle cx="563.73" cy="854.03" r="1.0"/><circle cx="589.89" cy="850.36" r="1.0"/><circle cx="577.12" cy="849.96" r="1.0"/><circle cx="584.17" cy="855.97" r="1.0"/><circle cx="564.18" cy="851.45" r="1.0"/><circle cx="562.87" cy="850.99" r="1.0"/><circle cx="567.22" cy="855.43" r="1.0"/><circle cx="569.83" cy="854.47" r="1.0"/><circle cx="577.95" cy="850.4" r="1.0"/><circle cx="573.73" cy="851.69" r="1.0"/><circle cx="566.08" cy="851.18" r="1.0"/><circle cx="560.47" cy="851.37" r="1.0"/><circle cx="565.27" cy="849.64" r="1.0"/><circle cx="584.43" cy="853.01" r="1.0"/><circle cx="562.11" cy="851.58" r="1.0"/><circle cx="573.69" cy="852.16" r="1.0"/><circle cx="575.69" cy="850.81" r="1.0"/><circle cx="554.61" cy="850.32" r="1.0"/><circle cx="571.53" cy="849.81" r="1.0"/><circle cx="585.37" cy="855.27" r="1.0"/><circle cx="548.84" cy="854.46" r="1.0"/><circle cx="567.46" cy="853.24" r="1.0"/><circle cx="569.83" cy="850.4" r="1.0"/><circle cx="562.01" cy="850.57" r="1.0"/><circle cx="576.47" cy="850.38" r="1.0"/><circle cx="570.31" cy="851.66" r="1.0"/><circle cx="554.89" cy="849.97" r="1.0"/><circle cx="580.11" cy="851.39" r="1.0"/><circle cx="578.36" cy="850.92" r="1.0"/><circle cx="615.8" cy="850.85" r="1.0"/><circle cx="615.8" cy="853.85" r="1.0"/></g>
</svg>
</body></html>
